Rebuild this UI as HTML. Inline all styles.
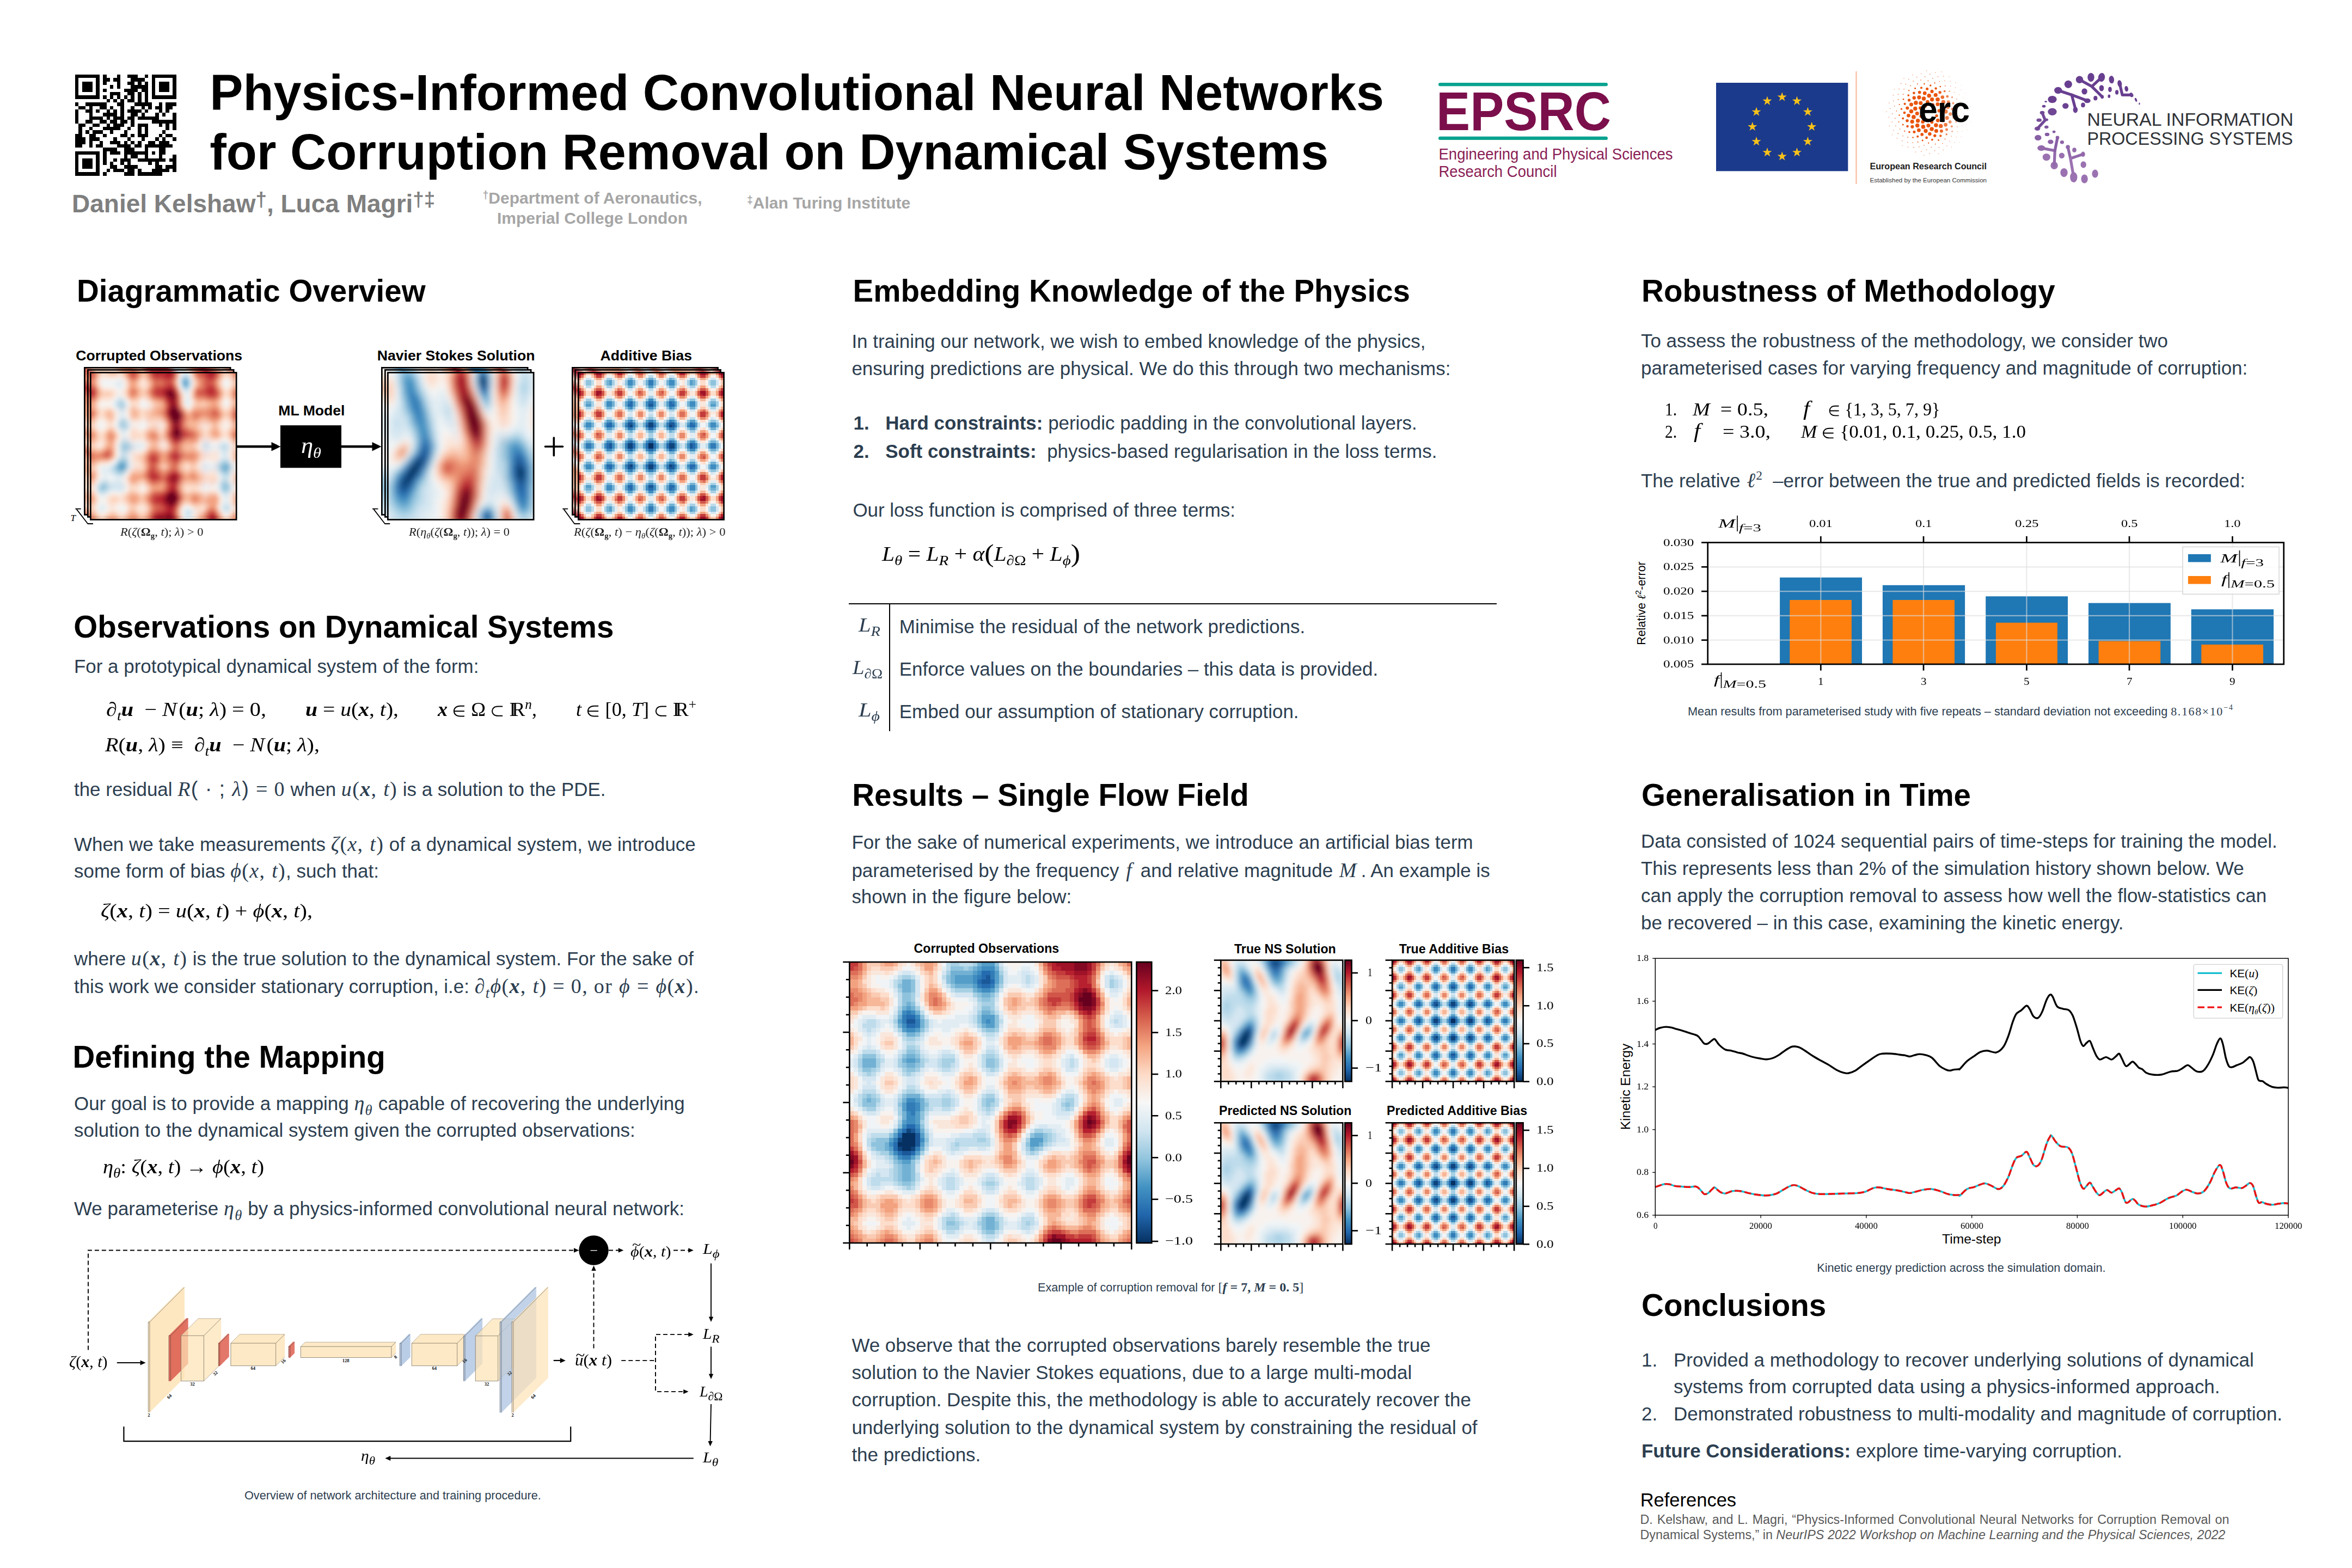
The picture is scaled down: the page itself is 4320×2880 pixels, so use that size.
<!DOCTYPE html>
<html><head><meta charset="utf-8"><title>Poster</title>
<style>
html,body{margin:0;padding:0;background:#fff;}
body{width:4320px;height:2880px;position:relative;overflow:hidden;font-family:"Liberation Sans",sans-serif;}
.a{position:absolute;white-space:nowrap;}
.m{font-family:"Liberation Serif",serif;font-style:italic;}
.mr{font-family:"Liberation Serif",serif;font-style:normal;}
.mb{font-family:"Liberation Serif",serif;font-style:italic;font-weight:bold;}
sub,sup{font-size:70%;line-height:0;}
svg{position:absolute;overflow:visible;}
svg text{font-family:"Liberation Sans",sans-serif;}
svg text.sl{font-family:"Liberation Serif",serif;font-weight:bold;}
svg text.ss{font-family:"Liberation Serif",serif;}
</style></head><body>
<svg style="left:138.0px;top:137.0px" width="185.6" height="185.6" shape-rendering="crispEdges"><path d="M0.00,0.00h44.80v6.45h-44.80zM51.20,0.00h6.40v6.45h-6.40zM76.80,0.00h6.40v6.45h-6.40zM96.00,0.00h19.20v6.45h-19.20zM128.00,0.00h6.40v6.45h-6.40zM140.80,0.00h44.80v6.45h-44.80zM0.00,6.40h6.40v6.45h-6.40zM38.40,6.40h6.40v6.45h-6.40zM51.20,6.40h12.80v6.45h-12.80zM70.40,6.40h12.80v6.45h-12.80zM102.40,6.40h25.60v6.45h-25.60zM140.80,6.40h6.40v6.45h-6.40zM179.20,6.40h6.40v6.45h-6.40zM0.00,12.80h6.40v6.45h-6.40zM12.80,12.80h19.20v6.45h-19.20zM38.40,12.80h6.40v6.45h-6.40zM51.20,12.80h6.40v6.45h-6.40zM76.80,12.80h6.40v6.45h-6.40zM96.00,12.80h12.80v6.45h-12.80zM115.20,12.80h6.40v6.45h-6.40zM128.00,12.80h6.40v6.45h-6.40zM140.80,12.80h6.40v6.45h-6.40zM153.60,12.80h19.20v6.45h-19.20zM179.20,12.80h6.40v6.45h-6.40zM0.00,19.20h6.40v6.45h-6.40zM12.80,19.20h19.20v6.45h-19.20zM38.40,19.20h6.40v6.45h-6.40zM64.00,19.20h6.40v6.45h-6.40zM76.80,19.20h6.40v6.45h-6.40zM102.40,19.20h32.00v6.45h-32.00zM140.80,19.20h6.40v6.45h-6.40zM153.60,19.20h19.20v6.45h-19.20zM179.20,19.20h6.40v6.45h-6.40zM0.00,25.60h6.40v6.45h-6.40zM12.80,25.60h19.20v6.45h-19.20zM38.40,25.60h6.40v6.45h-6.40zM51.20,25.60h6.40v6.45h-6.40zM89.60,25.60h25.60v6.45h-25.60zM121.60,25.60h12.80v6.45h-12.80zM140.80,25.60h6.40v6.45h-6.40zM153.60,25.60h19.20v6.45h-19.20zM179.20,25.60h6.40v6.45h-6.40zM0.00,32.00h6.40v6.45h-6.40zM38.40,32.00h6.40v6.45h-6.40zM64.00,32.00h19.20v6.45h-19.20zM96.00,32.00h12.80v6.45h-12.80zM115.20,32.00h6.40v6.45h-6.40zM128.00,32.00h6.40v6.45h-6.40zM140.80,32.00h6.40v6.45h-6.40zM179.20,32.00h6.40v6.45h-6.40zM0.00,38.40h44.80v6.45h-44.80zM51.20,38.40h6.40v6.45h-6.40zM64.00,38.40h6.40v6.45h-6.40zM76.80,38.40h6.40v6.45h-6.40zM89.60,38.40h6.40v6.45h-6.40zM102.40,38.40h6.40v6.45h-6.40zM115.20,38.40h6.40v6.45h-6.40zM128.00,38.40h6.40v6.45h-6.40zM140.80,38.40h44.80v6.45h-44.80zM57.60,44.80h6.40v6.45h-6.40zM70.40,44.80h6.40v6.45h-6.40zM83.20,44.80h6.40v6.45h-6.40zM96.00,44.80h12.80v6.45h-12.80zM115.20,44.80h6.40v6.45h-6.40zM128.00,44.80h6.40v6.45h-6.40zM0.00,51.20h6.40v6.45h-6.40zM19.20,51.20h38.40v6.45h-38.40zM76.80,51.20h12.80v6.45h-12.80zM108.80,51.20h32.00v6.45h-32.00zM153.60,51.20h6.40v6.45h-6.40zM166.40,51.20h19.20v6.45h-19.20zM6.40,57.60h12.80v6.45h-12.80zM25.60,57.60h6.40v6.45h-6.40zM44.80,57.60h12.80v6.45h-12.80zM64.00,57.60h6.40v6.45h-6.40zM83.20,57.60h6.40v6.45h-6.40zM102.40,57.60h6.40v6.45h-6.40zM121.60,57.60h6.40v6.45h-6.40zM134.40,57.60h6.40v6.45h-6.40zM147.20,57.60h12.80v6.45h-12.80zM166.40,57.60h12.80v6.45h-12.80zM0.00,64.00h6.40v6.45h-6.40zM19.20,64.00h12.80v6.45h-12.80zM38.40,64.00h6.40v6.45h-6.40zM57.60,64.00h6.40v6.45h-6.40zM70.40,64.00h6.40v6.45h-6.40zM83.20,64.00h6.40v6.45h-6.40zM96.00,64.00h25.60v6.45h-25.60zM128.00,64.00h6.40v6.45h-6.40zM153.60,64.00h6.40v6.45h-6.40zM166.40,64.00h6.40v6.45h-6.40zM0.00,70.40h6.40v6.45h-6.40zM25.60,70.40h6.40v6.45h-6.40zM51.20,70.40h25.60v6.45h-25.60zM83.20,70.40h6.40v6.45h-6.40zM102.40,70.40h12.80v6.45h-12.80zM121.60,70.40h6.40v6.45h-6.40zM147.20,70.40h6.40v6.45h-6.40zM160.00,70.40h6.40v6.45h-6.40zM179.20,70.40h6.40v6.45h-6.40zM0.00,76.80h6.40v6.45h-6.40zM25.60,76.80h25.60v6.45h-25.60zM57.60,76.80h6.40v6.45h-6.40zM70.40,76.80h19.20v6.45h-19.20zM96.00,76.80h12.80v6.45h-12.80zM115.20,76.80h38.40v6.45h-38.40zM179.20,76.80h6.40v6.45h-6.40zM0.00,83.20h6.40v6.45h-6.40zM19.20,83.20h12.80v6.45h-12.80zM44.80,83.20h12.80v6.45h-12.80zM64.00,83.20h12.80v6.45h-12.80zM83.20,83.20h12.80v6.45h-12.80zM102.40,83.20h6.40v6.45h-6.40zM140.80,83.20h44.80v6.45h-44.80zM6.40,89.60h12.80v6.45h-12.80zM32.00,89.60h12.80v6.45h-12.80zM57.60,89.60h6.40v6.45h-6.40zM70.40,89.60h19.20v6.45h-19.20zM102.40,89.60h6.40v6.45h-6.40zM115.20,89.60h19.20v6.45h-19.20zM153.60,89.60h6.40v6.45h-6.40zM166.40,89.60h6.40v6.45h-6.40zM179.20,89.60h6.40v6.45h-6.40zM6.40,96.00h6.40v6.45h-6.40zM25.60,96.00h6.40v6.45h-6.40zM51.20,96.00h32.00v6.45h-32.00zM96.00,96.00h6.40v6.45h-6.40zM115.20,96.00h6.40v6.45h-6.40zM128.00,96.00h6.40v6.45h-6.40zM166.40,96.00h6.40v6.45h-6.40zM179.20,96.00h6.40v6.45h-6.40zM6.40,102.40h6.40v6.45h-6.40zM19.20,102.40h6.40v6.45h-6.40zM32.00,102.40h19.20v6.45h-19.20zM64.00,102.40h6.40v6.45h-6.40zM89.60,102.40h6.40v6.45h-6.40zM115.20,102.40h6.40v6.45h-6.40zM128.00,102.40h6.40v6.45h-6.40zM160.00,102.40h6.40v6.45h-6.40zM0.00,108.80h12.80v6.45h-12.80zM25.60,108.80h12.80v6.45h-12.80zM51.20,108.80h6.40v6.45h-6.40zM83.20,108.80h12.80v6.45h-12.80zM102.40,108.80h6.40v6.45h-6.40zM115.20,108.80h19.20v6.45h-19.20zM153.60,108.80h6.40v6.45h-6.40zM166.40,108.80h12.80v6.45h-12.80zM0.00,115.20h19.20v6.45h-19.20zM25.60,115.20h19.20v6.45h-19.20zM70.40,115.20h6.40v6.45h-6.40zM96.00,115.20h6.40v6.45h-6.40zM121.60,115.20h6.40v6.45h-6.40zM147.20,115.20h6.40v6.45h-6.40zM160.00,115.20h6.40v6.45h-6.40zM179.20,115.20h6.40v6.45h-6.40zM0.00,121.60h19.20v6.45h-19.20zM25.60,121.60h6.40v6.45h-6.40zM44.80,121.60h6.40v6.45h-6.40zM64.00,121.60h19.20v6.45h-19.20zM89.60,121.60h6.40v6.45h-6.40zM102.40,121.60h6.40v6.45h-6.40zM115.20,121.60h6.40v6.45h-6.40zM134.40,121.60h12.80v6.45h-12.80zM153.60,121.60h19.20v6.45h-19.20zM0.00,128.00h12.80v6.45h-12.80zM25.60,128.00h6.40v6.45h-6.40zM38.40,128.00h12.80v6.45h-12.80zM76.80,128.00h25.60v6.45h-25.60zM108.80,128.00h12.80v6.45h-12.80zM128.00,128.00h51.20v6.45h-51.20zM51.20,134.40h25.60v6.45h-25.60zM89.60,134.40h19.20v6.45h-19.20zM128.00,134.40h6.40v6.45h-6.40zM153.60,134.40h12.80v6.45h-12.80zM0.00,140.80h44.80v6.45h-44.80zM51.20,140.80h6.40v6.45h-6.40zM64.00,140.80h19.20v6.45h-19.20zM89.60,140.80h44.80v6.45h-44.80zM140.80,140.80h6.40v6.45h-6.40zM153.60,140.80h12.80v6.45h-12.80zM0.00,147.20h6.40v6.45h-6.40zM38.40,147.20h6.40v6.45h-6.40zM51.20,147.20h6.40v6.45h-6.40zM89.60,147.20h6.40v6.45h-6.40zM102.40,147.20h12.80v6.45h-12.80zM128.00,147.20h6.40v6.45h-6.40zM153.60,147.20h6.40v6.45h-6.40zM179.20,147.20h6.40v6.45h-6.40zM0.00,153.60h6.40v6.45h-6.40zM12.80,153.60h19.20v6.45h-19.20zM38.40,153.60h6.40v6.45h-6.40zM51.20,153.60h6.40v6.45h-6.40zM70.40,153.60h6.40v6.45h-6.40zM83.20,153.60h19.20v6.45h-19.20zM115.20,153.60h51.20v6.45h-51.20zM172.80,153.60h12.80v6.45h-12.80zM0.00,160.00h6.40v6.45h-6.40zM12.80,160.00h19.20v6.45h-19.20zM38.40,160.00h6.40v6.45h-6.40zM51.20,160.00h6.40v6.45h-6.40zM64.00,160.00h6.40v6.45h-6.40zM83.20,160.00h6.40v6.45h-6.40zM96.00,160.00h6.40v6.45h-6.40zM134.40,160.00h6.40v6.45h-6.40zM147.20,160.00h6.40v6.45h-6.40zM179.20,160.00h6.40v6.45h-6.40zM0.00,166.40h6.40v6.45h-6.40zM12.80,166.40h19.20v6.45h-19.20zM38.40,166.40h6.40v6.45h-6.40zM64.00,166.40h12.80v6.45h-12.80zM89.60,166.40h25.60v6.45h-25.60zM147.20,166.40h12.80v6.45h-12.80zM166.40,166.40h19.20v6.45h-19.20zM0.00,172.80h6.40v6.45h-6.40zM38.40,172.80h6.40v6.45h-6.40zM57.60,172.80h6.40v6.45h-6.40zM70.40,172.80h19.20v6.45h-19.20zM96.00,172.80h12.80v6.45h-12.80zM115.20,172.80h6.40v6.45h-6.40zM140.80,172.80h32.00v6.45h-32.00zM179.20,172.80h6.40v6.45h-6.40zM0.00,179.20h44.80v6.45h-44.80zM51.20,179.20h6.40v6.45h-6.40zM89.60,179.20h19.20v6.45h-19.20zM115.20,179.20h44.80v6.45h-44.80z" fill="#000"/></svg>
<div class="a" style="left:385.2px;top:116.0px;font:normal bold 91.78px/109.0px 'Liberation Sans', sans-serif;color:#000;">Physics-Informed Convolutional Neural Networks<br>for Corruption Removal on Dynamical Systems</div>
<div class="a" style="left:132.0px;top:340.7px;font:normal bold 46px/66px 'Liberation Sans', sans-serif;color:#7f7f7f;">Daniel Kelshaw<sup style="font-size:80%;vertical-align:baseline;position:relative;top:-0.28em">†</sup>, Luca Magri<sup style="font-size:80%;vertical-align:baseline;position:relative;top:-0.28em">†‡</sup></div>
<div class="a" style="left:88.0px;top:347.0px;font:normal bold 30px/34.4px 'Liberation Sans', sans-serif;color:#a6a6a6;width:2000px;text-align:center;"><span style="font-size:65%;position:relative;top:-0.45em">†</span>Department of Aeronautics,<br>Imperial College London</div>
<div class="a" style="left:1372.0px;top:351.2px;font:normal bold 30px/43px 'Liberation Sans', sans-serif;color:#a6a6a6;"><span style="font-size:65%;position:relative;top:-0.45em">‡</span>Alan Turing Institute</div>
<svg style="left:2630px;top:140px" width="460" height="200">
<line x1="15.2" y1="15.1" x2="319.8" y2="15.1" stroke="#0aa38f" stroke-width="6.4" stroke-linecap="round"/>
<line x1="15.2" y1="113.9" x2="319.8" y2="113.9" stroke="#0aa38f" stroke-width="6.4" stroke-linecap="round"/>
<text x="8" y="99" font-size="101" font-weight="bold" fill="#7b0f4b" textLength="321" lengthAdjust="spacingAndGlyphs">EPSRC</text>
<text x="12.5" y="152.6" font-size="29.5" fill="#8a1d55" textLength="430" lengthAdjust="spacingAndGlyphs">Engineering and Physical Sciences</text>
<text x="12.5" y="184.5" font-size="29.5" fill="#8a1d55" textLength="217" lengthAdjust="spacingAndGlyphs">Research Council</text>
</svg>
<svg style="left:3152px;top:152px" width="243" height="163"><rect width="242.3" height="162.3" fill="#1c3a8b"/><polygon points="121.2,17.3 123.3,23.5 129.8,23.5 124.5,27.4 126.5,33.6 121.2,29.8 115.9,33.6 117.9,27.4 112.6,23.5 119.1,23.5" fill="#f8c21a"/><polygon points="148.5,24.6 150.5,30.8 157.0,30.8 151.8,34.7 153.7,40.9 148.5,37.1 143.2,40.9 145.1,34.7 139.9,30.8 146.4,30.8" fill="#f8c21a"/><polygon points="168.4,44.5 170.5,50.7 177.0,50.8 171.7,54.6 173.7,60.8 168.4,57.0 163.1,60.8 165.1,54.6 159.8,50.8 166.3,50.7" fill="#f8c21a"/><polygon points="175.7,71.8 177.8,78.0 184.3,78.0 179.0,81.9 181.0,88.1 175.7,84.3 170.4,88.1 172.4,81.9 167.1,78.0 173.6,78.0" fill="#f8c21a"/><polygon points="168.4,99.0 170.5,105.2 177.0,105.3 171.7,109.1 173.7,115.3 168.4,111.5 163.1,115.3 165.1,109.1 159.8,105.3 166.3,105.2" fill="#f8c21a"/><polygon points="148.5,119.0 150.5,125.2 157.0,125.2 151.8,129.1 153.7,135.3 148.5,131.5 143.2,135.3 145.1,129.1 139.9,125.2 146.4,125.2" fill="#f8c21a"/><polygon points="121.2,126.3 123.3,132.5 129.8,132.5 124.5,136.4 126.5,142.6 121.2,138.8 115.9,142.6 117.9,136.4 112.6,132.5 119.1,132.5" fill="#f8c21a"/><polygon points="94.0,119.0 96.0,125.2 102.5,125.2 97.3,129.1 99.2,135.3 94.0,131.5 88.7,135.3 90.6,129.1 85.4,125.2 91.9,125.2" fill="#f8c21a"/><polygon points="74.0,99.0 76.1,105.2 82.6,105.3 77.3,109.1 79.3,115.3 74.0,111.5 68.7,115.3 70.7,109.1 65.4,105.3 71.9,105.2" fill="#f8c21a"/><polygon points="66.7,71.8 68.8,78.0 75.3,78.0 70.0,81.9 72.0,88.1 66.7,84.3 61.4,88.1 63.4,81.9 58.1,78.0 64.6,78.0" fill="#f8c21a"/><polygon points="74.0,44.5 76.1,50.7 82.6,50.8 77.3,54.6 79.3,60.8 74.0,57.0 68.7,60.8 70.7,54.6 65.4,50.8 71.9,50.7" fill="#f8c21a"/><polygon points="93.9,24.6 96.0,30.8 102.5,30.8 97.3,34.7 99.2,40.9 93.9,37.1 88.7,40.9 90.6,34.7 85.4,30.8 91.9,30.8" fill="#f8c21a"/></svg>
<div class="a" style="left:3408px;top:131px;width:3px;height:207px;background:#f9cdb6"></div>
<svg style="left:0;top:0" width="4320" height="400"><circle cx="3539.6" cy="220.0" r="2.44" fill="#e9550e" fill-opacity="1.00"/><circle cx="3536.5" cy="195.1" r="2.58" fill="#e9550e" fill-opacity="1.00"/><circle cx="3557.1" cy="212.6" r="2.70" fill="#e9550e" fill-opacity="1.00"/><circle cx="3528.3" cy="213.6" r="2.81" fill="#e9550e" fill-opacity="1.00"/><circle cx="3550.1" cy="192.3" r="2.92" fill="#e9550e" fill-opacity="1.00"/><circle cx="3548.3" cy="224.3" r="3.02" fill="#e9550e" fill-opacity="1.00"/><circle cx="3527.1" cy="198.3" r="3.11" fill="#e9550e" fill-opacity="1.00"/><circle cx="3561.7" cy="203.4" r="3.20" fill="#e9550e" fill-opacity="0.95"/><circle cx="3531.6" cy="223.7" r="3.27" fill="#e9550e" fill-opacity="1.00"/><circle cx="3540.4" cy="187.1" r="3.35" fill="#e9550e" fill-opacity="1.00"/><circle cx="3559.2" cy="221.2" r="3.41" fill="#e9550e" fill-opacity="0.99"/><circle cx="3521.2" cy="208.4" r="3.47" fill="#e9550e" fill-opacity="1.00"/><circle cx="3558.9" cy="191.6" r="3.52" fill="#e9550e" fill-opacity="0.99"/><circle cx="3541.9" cy="230.6" r="3.57" fill="#e9550e" fill-opacity="1.00"/><circle cx="3527.8" cy="189.3" r="3.61" fill="#e9550e" fill-opacity="1.00"/><circle cx="3567.1" cy="210.7" r="3.65" fill="#e9550e" fill-opacity="0.87"/><circle cx="3522.6" cy="221.7" r="3.69" fill="#e9550e" fill-opacity="1.00"/><circle cx="3548.6" cy="182.7" r="3.71" fill="#e9550e" fill-opacity="1.00"/><circle cx="3555.9" cy="230.0" r="3.74" fill="#e9550e" fill-opacity="1.00"/><circle cx="3517.8" cy="199.4" r="3.76" fill="#e9550e" fill-opacity="1.00"/><circle cx="3567.5" cy="196.2" r="3.77" fill="#e9550e" fill-opacity="0.86"/><circle cx="3532.4" cy="232.9" r="3.79" fill="#e9550e" fill-opacity="1.00"/><circle cx="3533.5" cy="181.1" r="3.79" fill="#e9550e" fill-opacity="1.00"/><circle cx="3568.3" cy="220.8" r="3.80" fill="#e9550e" fill-opacity="0.85"/><circle cx="3514.9" cy="214.9" r="3.80" fill="#e9550e" fill-opacity="1.00"/><circle cx="3559.0" cy="182.7" r="3.80" fill="#e9550e" fill-opacity="0.99"/><circle cx="3548.1" cy="237.0" r="3.79" fill="#e9550e" fill-opacity="1.00"/><circle cx="3518.9" cy="188.9" r="3.79" fill="#e9550e" fill-opacity="1.00"/><circle cx="3573.8" cy="204.9" r="3.78" fill="#e9550e" fill-opacity="0.77"/><circle cx="3521.7" cy="230.5" r="3.76" fill="#e9550e" fill-opacity="1.00"/><circle cx="3543.2" cy="175.7" r="3.75" fill="#e9550e" fill-opacity="1.00"/><circle cx="3564.7" cy="231.4" r="3.73" fill="#e9550e" fill-opacity="0.91"/><circle cx="3510.5" cy="204.5" r="3.71" fill="#e9550e" fill-opacity="1.00"/><circle cx="3569.4" cy="187.5" r="3.69" fill="#e9550e" fill-opacity="0.83"/><circle cx="3537.0" cy="240.5" r="3.66" fill="#e9550e" fill-opacity="1.00"/><circle cx="3524.9" cy="178.8" r="3.64" fill="#e9550e" fill-opacity="1.00"/><circle cx="3576.1" cy="216.6" r="3.61" fill="#e9550e" fill-opacity="0.73"/><circle cx="3512.1" cy="223.4" r="3.58" fill="#e9550e" fill-opacity="1.00"/><circle cx="3555.2" cy="174.5" r="3.55" fill="#e9550e" fill-opacity="1.00"/><circle cx="3556.4" cy="240.4" r="3.52" fill="#e9550e" fill-opacity="1.00"/><circle cx="3510.5" cy="192.1" r="3.49" fill="#e9550e" fill-opacity="1.00"/><circle cx="3577.7" cy="196.8" r="3.45" fill="#e9550e" fill-opacity="0.71"/><circle cx="3524.4" cy="239.2" r="3.42" fill="#e9550e" fill-opacity="1.00"/><circle cx="3535.2" cy="171.2" r="3.38" fill="#e9550e" fill-opacity="1.00"/><circle cx="3573.6" cy="229.2" r="3.34" fill="#e9550e" fill-opacity="0.77"/><circle cx="3505.4" cy="212.2" r="3.31" fill="#e9550e" fill-opacity="1.00"/><circle cx="3567.8" cy="178.4" r="3.27" fill="#e9550e" fill-opacity="0.86"/><circle cx="3544.4" cy="246.1" r="3.23" fill="#e9550e" fill-opacity="1.00"/><circle cx="3515.7" cy="179.8" r="3.19" fill="#e9550e" fill-opacity="1.00"/><circle cx="3582.3" cy="209.5" r="3.15" fill="#e9550e" fill-opacity="0.64"/><circle cx="3512.4" cy="232.8" r="3.11" fill="#e9550e" fill-opacity="1.00"/><circle cx="3548.5" cy="167.9" r="3.07" fill="#e9550e" fill-opacity="1.00"/><circle cx="3565.9" cy="240.7" r="3.03" fill="#e9550e" fill-opacity="0.89"/><circle cx="3503.3" cy="198.4" r="2.99" fill="#e9550e" fill-opacity="1.00"/><circle cx="3578.7" cy="187.3" r="2.94" fill="#e9550e" fill-opacity="0.69"/><circle cx="3530.2" cy="246.9" r="2.90" fill="#e9550e" fill-opacity="1.00"/><circle cx="3525.7" cy="169.5" r="2.86" fill="#e9550e" fill-opacity="1.00"/><circle cx="3581.7" cy="223.9" r="2.82" fill="#e9550e" fill-opacity="0.64"/><circle cx="3503.0" cy="221.7" r="2.78" fill="#e9550e" fill-opacity="1.00"/><circle cx="3563.1" cy="169.8" r="2.74" fill="#e9550e" fill-opacity="0.93"/><circle cx="3553.8" cy="249.2" r="2.69" fill="#e9550e" fill-opacity="1.00"/><circle cx="3506.6" cy="183.9" r="2.65" fill="#e9550e" fill-opacity="1.00"/><circle cx="3586.1" cy="200.3" r="2.61" fill="#e9550e" fill-opacity="0.58"/><circle cx="3515.9" cy="242.2" r="2.57" fill="#e9550e" fill-opacity="1.00"/><circle cx="3539.6" cy="163.3" r="2.53" fill="#e9550e" fill-opacity="1.00"/><circle cx="3575.6" cy="238.0" r="2.49" fill="#e9550e" fill-opacity="0.74"/><circle cx="3498.0" cy="207.1" r="2.45" fill="#e9550e" fill-opacity="1.00"/><circle cx="3576.7" cy="177.2" r="2.41" fill="#e9550e" fill-opacity="0.72"/><circle cx="3538.6" cy="252.9" r="2.37" fill="#e9550e" fill-opacity="1.00"/><circle cx="3515.4" cy="170.8" r="2.33" fill="#e9550e" fill-opacity="1.00"/><circle cx="3588.4" cy="216.0" r="2.29" fill="#e9550e" fill-opacity="0.54"/><circle cx="3503.5" cy="232.1" r="2.25" fill="#e9550e" fill-opacity="1.00"/><circle cx="3555.6" cy="162.4" r="2.21" fill="#e9550e" fill-opacity="1.00"/><circle cx="3564.3" cy="249.5" r="2.18" fill="#e9550e" fill-opacity="0.91"/><circle cx="3498.6" cy="190.8" r="2.14" fill="#e9550e" fill-opacity="1.00"/><circle cx="3587.3" cy="189.7" r="2.10" fill="#e9550e" fill-opacity="0.56"/><circle cx="3522.2" cy="250.8" r="2.07" fill="#e9550e" fill-opacity="1.00"/><circle cx="3529.0" cy="161.3" r="2.03" fill="#e9550e" fill-opacity="1.00"/><circle cx="3584.8" cy="232.3" r="2.00" fill="#e9550e" fill-opacity="0.60"/><circle cx="3495.2" cy="217.5" r="1.96" fill="#e9550e" fill-opacity="1.00"/><circle cx="3571.7" cy="167.6" r="1.93" fill="#e9550e" fill-opacity="0.80"/><circle cx="3548.9" cy="256.6" r="1.89" fill="#e9550e" fill-opacity="1.00"/><circle cx="3505.3" cy="175.1" r="1.86" fill="#e9550e" fill-opacity="1.00"/><circle cx="3593.0" cy="205.9" r="1.83" fill="#e9550e" fill-opacity="0.47"/><circle cx="3507.0" cy="242.6" r="1.79" fill="#e9550e" fill-opacity="1.00"/><circle cx="3545.8" cy="157.0" r="1.75" fill="#e9550e" fill-opacity="1.00"/><circle cx="3575.2" cy="246.8" r="1.71" fill="#e9550e" fill-opacity="0.74"/><circle cx="3492.4" cy="200.2" r="1.67" fill="#e9550e" fill-opacity="1.00"/><circle cx="3585.5" cy="178.6" r="1.63" fill="#e9550e" fill-opacity="0.59"/><circle cx="3531.2" cy="257.8" r="1.60" fill="#e9550e" fill-opacity="1.00"/><circle cx="3517.6" cy="162.2" r="1.56" fill="#e9550e" fill-opacity="1.00"/><circle cx="3592.6" cy="223.8" r="1.53" fill="#e9550e" fill-opacity="0.48"/><circle cx="3495.2" cy="229.0" r="1.49" fill="#e9550e" fill-opacity="1.00"/><circle cx="3563.8" cy="159.1" r="1.46" fill="#e9550e" fill-opacity="0.92"/><circle cx="3560.5" cy="257.5" r="1.43" fill="#e9550e" fill-opacity="0.97"/><circle cx="3496.1" cy="182.3" r="1.40" fill="#e9550e" fill-opacity="1.00"/><circle cx="3594.9" cy="194.4" r="1.37" fill="#e9550e" fill-opacity="0.44"/><circle cx="3513.5" cy="252.5" r="1.34" fill="#e9550e" fill-opacity="1.00"/><circle cx="3534.4" cy="154.1" r="1.31" fill="#e9550e" fill-opacity="1.00"/><circle cx="3585.6" cy="241.2" r="1.28" fill="#e9550e" fill-opacity="0.58"/><circle cx="3488.6" cy="211.5" r="1.25" fill="#e9550e" fill-opacity="1.00"/><circle cx="3580.6" cy="167.6" r="1.22" fill="#e9550e" fill-opacity="0.66"/><circle cx="3542.2" cy="262.6" r="1.20" fill="#e9550e" fill-opacity="1.00"/><circle cx="3506.2" cy="166.2" r="1.17" fill="#e9550e" fill-opacity="1.00"/><circle cx="3598.3" cy="213.2" r="1.15" fill="#e9550e" fill-opacity="0.39"/><circle cx="3498.2" cy="240.8" r="1.12" fill="#e9550e" fill-opacity="1.00"/><circle cx="3553.6" cy="152.4" r="1.10" fill="#e9550e" fill-opacity="1.00"/><circle cx="3572.5" cy="255.5" r="1.08" fill="#e9550e" fill-opacity="0.79"/><circle cx="3488.6" cy="192.0" r="1.05" fill="#e9550e" fill-opacity="1.00"/><circle cx="3593.8" cy="182.0" r="1.03" fill="#e9550e" fill-opacity="0.46"/><circle cx="3522.6" cy="260.8" r="1.01" fill="#e9550e" fill-opacity="1.00"/><circle cx="3521.9" cy="154.2" r="0.99" fill="#e9550e" fill-opacity="1.00"/><circle cx="3594.8" cy="232.7" r="0.97" fill="#e9550e" fill-opacity="0.44"/><circle cx="3487.6" cy="224.0" r="0.95" fill="#e9550e" fill-opacity="1.00"/><circle cx="3572.8" cy="157.7" r="0.93" fill="#e9550e" fill-opacity="0.78"/><circle cx="3554.7" cy="264.6" r="0.91" fill="#e9550e" fill-opacity="1.00"/><circle cx="3495.6" cy="173.1" r="0.90" fill="#e9550e" fill-opacity="1.00"/><circle cx="3601.4" cy="200.8" r="0.88" fill="#e9550e" fill-opacity="0.34"/><circle cx="3504.3" cy="252.1" r="0.86" fill="#e9550e" fill-opacity="1.00"/><circle cx="3541.4" cy="148.3" r="0.84" fill="#e9550e" fill-opacity="1.00"/><circle cx="3584.3" cy="250.3" r="0.83" fill="#e9550e" fill-opacity="0.60"/><circle cx="3483.4" cy="203.9" r="0.81" fill="#e9550e" fill-opacity="1.00"/><circle cx="3589.6" cy="169.8" r="0.80" fill="#e9550e" fill-opacity="0.52"/><circle cx="3534.1" cy="267.0" r="0.80" fill="#e9550e" fill-opacity="1.00"/><circle cx="3509.2" cy="157.4" r="0.80" fill="#e9550e" fill-opacity="1.00"/><circle cx="3602.0" cy="221.7" r="0.80" fill="#e9550e" fill-opacity="0.33"/><circle cx="3489.7" cy="237.0" r="0.80" fill="#e9550e" fill-opacity="1.00"/><circle cx="3562.4" cy="149.5" r="0.80" fill="#e9550e" fill-opacity="0.94"/><circle cx="3567.9" cy="263.6" r="0.80" fill="#e9550e" fill-opacity="0.86"/><circle cx="3486.5" cy="182.9" r="0.80" fill="#e9550e" fill-opacity="1.00"/><circle cx="3601.5" cy="187.4" r="0.80" fill="#e9550e" fill-opacity="0.34"/><circle cx="3513.3" cy="262.0" r="0.80" fill="#e9550e" fill-opacity="1.00"/><circle cx="3528.0" cy="147.1" r="0.80" fill="#e9550e" fill-opacity="0.99"/><circle cx="3595.1" cy="242.1" r="0.80" fill="#e9550e" fill-opacity="0.43"/><circle cx="3481.0" cy="217.2" r="0.80" fill="#e9550e" fill-opacity="0.98"/><circle cx="3582.3" cy="158.3" r="0.80" fill="#e9550e" fill-opacity="0.62"/><circle cx="3547.3" cy="270.5" r="0.80" fill="#e9550e" fill-opacity="0.97"/><circle cx="3497.1" cy="163.8" r="0.80" fill="#e9550e" fill-opacity="0.96"/><circle cx="3606.6" cy="208.7" r="0.80" fill="#e9550e" fill-opacity="0.29"/><circle cx="3495.1" cy="249.7" r="0.80" fill="#e9550e" fill-opacity="0.95"/><circle cx="3549.8" cy="143.8" r="0.80" fill="#e9550e" fill-opacity="0.94"/><circle cx="3581.1" cy="259.2" r="0.80" fill="#e9550e" fill-opacity="0.61"/><circle cx="3479.7" cy="195.0" r="0.80" fill="#e9550e" fill-opacity="0.93"/><circle cx="3598.3" cy="173.8" r="0.80" fill="#e9550e" fill-opacity="0.36"/><circle cx="3524.9" cy="269.8" r="0.80" fill="#e9550e" fill-opacity="0.91"/><circle cx="3514.1" cy="149.1" r="0.80" fill="#e9550e" fill-opacity="0.91"/><circle cx="3603.9" cy="231.1" r="0.80" fill="#e9550e" fill-opacity="0.27"/><circle cx="3481.9" cy="231.3" r="0.80" fill="#e9550e" fill-opacity="0.90"/><circle cx="3572.0" cy="148.5" r="0.80" fill="#e9550e" fill-opacity="0.71"/><circle cx="3561.5" cy="270.8" r="0.80" fill="#e9550e" fill-opacity="0.84"/><circle cx="3486.4" cy="173.2" r="0.80" fill="#e9550e" fill-opacity="0.88"/><circle cx="3608.1" cy="194.5" r="0.80" fill="#e9550e" fill-opacity="0.26"/><circle cx="3503.6" cy="261.2" r="0.80" fill="#e9550e" fill-opacity="0.86"/><circle cx="3535.7" cy="141.1" r="0.80" fill="#e9550e" fill-opacity="0.86"/><circle cx="3593.4" cy="251.7" r="0.80" fill="#e9550e" fill-opacity="0.40"/><circle cx="3475.8" cy="209.0" r="0.80" fill="#e9550e" fill-opacity="0.85"/><circle cx="3591.7" cy="160.9" r="0.80" fill="#e9550e" fill-opacity="0.41"/><circle cx="3538.6" cy="275.0" r="0.80" fill="#e9550e" fill-opacity="0.83"/><circle cx="3500.5" cy="154.5" r="0.80" fill="#e9550e" fill-opacity="0.83"/><circle cx="3610.3" cy="217.9" r="0.80" fill="#e9550e" fill-opacity="0.25"/><circle cx="3486.2" cy="245.4" r="0.80" fill="#e9550e" fill-opacity="0.82"/><circle cx="3559.3" cy="141.0" r="0.80" fill="#e9550e" fill-opacity="0.80"/><circle cx="3576.0" cy="267.8" r="0.80" fill="#e9550e" fill-opacity="0.59"/><circle cx="3477.8" cy="185.3" r="0.80" fill="#e9550e" fill-opacity="0.80"/><circle cx="3606.3" cy="179.7" r="0.80" fill="#e9550e" fill-opacity="0.24"/><circle cx="3515.0" cy="270.9" r="0.80" fill="#e9550e" fill-opacity="0.79"/><circle cx="3520.8" cy="141.6" r="0.80" fill="#e9550e" fill-opacity="0.78"/><circle cx="3604.1" cy="241.1" r="0.80" fill="#e9550e" fill-opacity="0.23"/><circle cx="3475.1" cy="224.0" r="0.80" fill="#e9550e" fill-opacity="0.77"/><circle cx="3582.1" cy="149.3" r="0.80" fill="#e9550e" fill-opacity="0.49"/><circle cx="3553.6" cy="277.0" r="0.80" fill="#e9550e" fill-opacity="0.76"/><circle cx="3488.1" cy="163.2" r="0.80" fill="#e9550e" fill-opacity="0.75"/><circle cx="3613.6" cy="203.0" r="0.80" fill="#e9550e" fill-opacity="0.22"/><circle cx="3493.8" cy="258.6" r="0.80" fill="#e9550e" fill-opacity="0.74"/><circle cx="3544.7" cy="136.4" r="0.80" fill="#e9550e" fill-opacity="0.73"/><circle cx="3589.9" cy="261.2" r="0.80" fill="#e9550e" fill-opacity="0.38"/><circle cx="3471.9" cy="199.5" r="0.80" fill="#e9550e" fill-opacity="0.72"/><circle cx="3600.9" cy="165.3" r="0.80" fill="#e9550e" fill-opacity="0.25"/><circle cx="3528.8" cy="278.0" r="0.80" fill="#e9550e" fill-opacity="0.71"/><circle cx="3505.8" cy="145.7" r="0.80" fill="#e9550e" fill-opacity="0.70"/><circle cx="3612.3" cy="228.0" r="0.80" fill="#e9550e" fill-opacity="0.21"/><circle cx="3477.9" cy="239.3" r="0.80" fill="#e9550e" fill-opacity="0.69"/><circle cx="3569.6" cy="139.9" r="0.80" fill="#e9550e" fill-opacity="0.57"/><circle cx="3569.2" cy="275.5" r="0.80" fill="#e9550e" fill-opacity="0.57"/><circle cx="3477.6" cy="174.9" r="0.80" fill="#e9550e" fill-opacity="0.67"/><circle cx="3613.4" cy="187.3" r="0.80" fill="#e9550e" fill-opacity="0.20"/><circle cx="3504.6" cy="270.1" r="0.80" fill="#e9550e" fill-opacity="0.66"/><circle cx="3528.9" cy="135.2" r="0.80" fill="#e9550e" fill-opacity="0.66"/><circle cx="3602.3" cy="251.4" r="0.80" fill="#e9550e" fill-opacity="0.21"/><circle cx="3469.4" cy="215.2" r="0.80" fill="#e9550e" fill-opacity="0.65"/><circle cx="3592.2" cy="151.9" r="0.80" fill="#e9550e" fill-opacity="0.31"/><circle cx="3544.3" cy="281.9" r="0.80" fill="#e9550e" fill-opacity="0.64"/><circle cx="3491.7" cy="153.4" r="0.80" fill="#e9550e" fill-opacity="0.63"/><circle cx="3617.6" cy="212.8" r="0.80" fill="#e9550e" fill-opacity="0.19"/><circle cx="3484.3" cy="254.1" r="0.80" fill="#e9550e" fill-opacity="0.62"/><circle cx="3554.8" cy="133.3" r="0.80" fill="#e9550e" fill-opacity="0.61"/><circle cx="3584.5" cy="270.4" r="0.80" fill="#e9550e" fill-opacity="0.37"/><circle cx="3469.8" cy="189.1" r="0.80" fill="#e9550e" fill-opacity="0.60"/><circle cx="3609.6" cy="171.5" r="0.80" fill="#e9550e" fill-opacity="0.18"/><circle cx="3518.2" cy="279.2" r="0.80" fill="#e9550e" fill-opacity="0.59"/><circle cx="3512.8" cy="137.7" r="0.80" fill="#e9550e" fill-opacity="0.59"/><circle cx="3612.6" cy="238.6" r="0.80" fill="#e9550e" fill-opacity="0.17"/><circle cx="3470.5" cy="231.6" r="0.80" fill="#e9550e" fill-opacity="0.58"/><circle cx="3580.3" cy="140.6" r="0.80" fill="#e9550e" fill-opacity="0.38"/><circle cx="3560.8" cy="282.2" r="0.80" fill="#e9550e" fill-opacity="0.55"/><circle cx="3479.3" cy="164.3" r="0.80" fill="#e9550e" fill-opacity="0.56"/><circle cx="3619.4" cy="196.3" r="0.80" fill="#e9550e" fill-opacity="0.17"/><circle cx="3494.2" cy="267.5" r="0.80" fill="#e9550e" fill-opacity="0.55"/><circle cx="3538.5" cy="130.1" r="0.80" fill="#e9550e" fill-opacity="0.54"/><circle cx="3598.7" cy="261.6" r="0.80" fill="#e9550e" fill-opacity="0.21"/><circle cx="3465.1" cy="205.2" r="0.80" fill="#e9550e" fill-opacity="0.53"/><circle cx="3602.1" cy="156.5" r="0.80" fill="#e9550e" fill-opacity="0.17"/><circle cx="3533.9" cy="285.2" r="0.80" fill="#e9550e" fill-opacity="0.52"/><circle cx="3497.1" cy="143.9" r="0.80" fill="#e9550e" fill-opacity="0.52"/><circle cx="3620.0" cy="223.5" r="0.80" fill="#e9550e" fill-opacity="0.15"/><circle cx="3475.3" cy="247.8" r="0.80" fill="#e9550e" fill-opacity="0.51"/><circle cx="3565.7" cy="131.9" r="0.80" fill="#e9550e" fill-opacity="0.45"/><text x="3524" y="223.8" font-size="66" font-weight="bold" fill="#000" textLength="94" lengthAdjust="spacingAndGlyphs">erc</text><text x="3434.5" y="311.2" font-size="17.4" font-weight="bold" fill="#1a1a1a" textLength="214.5" lengthAdjust="spacingAndGlyphs">European Research Council</text><text x="3434.5" y="335" font-size="11.6" fill="#333" textLength="214.5" lengthAdjust="spacingAndGlyphs">Established by the European Commission</text></svg>
<svg style="left:0;top:0" width="4320" height="400"><ellipse cx="3840.5" cy="142.1" rx="6.2" ry="8.1" transform="rotate(0 3840.5 142.1)" fill="#683f90"/><ellipse cx="3860.0" cy="142.1" rx="6.2" ry="8.1" transform="rotate(10 3860.0 142.1)" fill="#683f90"/><ellipse cx="3878.3" cy="146.2" rx="4.8" ry="7.1" transform="rotate(-5 3878.3 146.2)" fill="#683f90"/><ellipse cx="3893.3" cy="153.6" rx="4.0" ry="6.4" transform="rotate(-10 3893.3 153.6)" fill="#683f90"/><ellipse cx="3905.7" cy="163.1" rx="3.3" ry="5.2" transform="rotate(-10 3905.7 163.1)" fill="#683f90"/><ellipse cx="3914.8" cy="174.3" rx="3.3" ry="4.3" transform="rotate(-30 3914.8 174.3)" fill="#683f90"/><ellipse cx="3923.1" cy="183.3" rx="1.9" ry="3.8" transform="rotate(-20 3923.1 183.3)" fill="#683f90"/><ellipse cx="3929.5" cy="190.5" rx="1.2" ry="2.1" transform="rotate(0 3929.5 190.5)" fill="#683f90"/><ellipse cx="3819.5" cy="146.2" rx="6.7" ry="6.7" transform="rotate(0 3819.5 146.2)" fill="#683f90"/><ellipse cx="3798.8" cy="154.8" rx="7.1" ry="7.1" transform="rotate(0 3798.8 154.8)" fill="#683f90"/><ellipse cx="3780.2" cy="166.0" rx="7.1" ry="6.2" transform="rotate(0 3780.2 166.0)" fill="#683f90"/><ellipse cx="3769.5" cy="182.6" rx="8.1" ry="6.7" transform="rotate(0 3769.5 182.6)" fill="#683f90"/><ellipse cx="3769.5" cy="205.2" rx="8.1" ry="6.7" transform="rotate(0 3769.5 205.2)" fill="#704795"/><ellipse cx="3828.6" cy="167.9" rx="5.2" ry="5.7" transform="rotate(0 3828.6 167.9)" fill="#683f90"/><ellipse cx="3860.0" cy="161.9" rx="4.3" ry="5.7" transform="rotate(0 3860.0 161.9)" fill="#683f90"/><ellipse cx="3875.5" cy="164.3" rx="3.3" ry="4.8" transform="rotate(0 3875.5 164.3)" fill="#683f90"/><ellipse cx="3888.1" cy="169.5" rx="3.1" ry="4.3" transform="rotate(0 3888.1 169.5)" fill="#683f90"/><ellipse cx="3873.8" cy="176.7" rx="2.4" ry="3.3" transform="rotate(0 3873.8 176.7)" fill="#683f90"/><ellipse cx="3861.2" cy="177.9" rx="2.9" ry="3.3" transform="rotate(0 3861.2 177.9)" fill="#683f90"/><ellipse cx="3848.8" cy="180.2" rx="3.6" ry="4.3" transform="rotate(0 3848.8 180.2)" fill="#683f90"/><ellipse cx="3833.8" cy="185.0" rx="6.0" ry="4.3" transform="rotate(0 3833.8 185.0)" fill="#683f90"/><ellipse cx="3826.0" cy="192.9" rx="3.8" ry="4.3" transform="rotate(0 3826.0 192.9)" fill="#6a4191"/><ellipse cx="3793.8" cy="194.5" rx="5.7" ry="5.2" transform="rotate(0 3793.8 194.5)" fill="#6b4291"/><ellipse cx="3811.9" cy="201.7" rx="4.3" ry="5.7" transform="rotate(0 3811.9 201.7)" fill="#6e4594"/><ellipse cx="3754.0" cy="195.2" rx="3.3" ry="2.4" transform="rotate(0 3754.0 195.2)" fill="#6b4292"/><ellipse cx="3757.6" cy="186.7" rx="2.4" ry="1.4" transform="rotate(0 3757.6 186.7)" fill="#683f90"/><ellipse cx="3751.0" cy="207.1" rx="4.3" ry="3.3" transform="rotate(0 3751.0 207.1)" fill="#714896"/><ellipse cx="3745.2" cy="220.7" rx="4.8" ry="3.1" transform="rotate(0 3745.2 220.7)" fill="#784f9a"/><ellipse cx="3742.1" cy="236.2" rx="5.2" ry="3.8" transform="rotate(0 3742.1 236.2)" fill="#80579f"/><ellipse cx="3758.8" cy="233.3" rx="3.8" ry="2.9" transform="rotate(0 3758.8 233.3)" fill="#7e559e"/><ellipse cx="3758.8" cy="220.0" rx="3.3" ry="2.4" transform="rotate(0 3758.8 220.0)" fill="#784f9a"/><ellipse cx="3772.6" cy="242.1" rx="2.9" ry="2.4" transform="rotate(0 3772.6 242.1)" fill="#835aa1"/><ellipse cx="3760.0" cy="246.9" rx="4.3" ry="3.1" transform="rotate(0 3760.0 246.9)" fill="#855ca3"/><ellipse cx="3743.3" cy="252.9" rx="6.2" ry="5.2" transform="rotate(0 3743.3 252.9)" fill="#885fa5"/><ellipse cx="3779.0" cy="252.9" rx="3.3" ry="3.3" transform="rotate(0 3779.0 252.9)" fill="#885fa5"/><ellipse cx="3766.4" cy="260.5" rx="5.2" ry="4.0" transform="rotate(0 3766.4 260.5)" fill="#8c63a7"/><ellipse cx="3787.4" cy="261.2" rx="3.6" ry="3.3" transform="rotate(0 3787.4 261.2)" fill="#8d64a7"/><ellipse cx="3749.3" cy="271.9" rx="7.1" ry="5.2" transform="rotate(0 3749.3 271.9)" fill="#9269ab"/><ellipse cx="3798.1" cy="270.0" rx="3.8" ry="3.8" transform="rotate(0 3798.1 270.0)" fill="#9168aa"/><ellipse cx="3810.0" cy="275.5" rx="3.8" ry="4.3" transform="rotate(0 3810.0 275.5)" fill="#946bac"/><ellipse cx="3758.8" cy="288.6" rx="7.1" ry="6.7" transform="rotate(0 3758.8 288.6)" fill="#9b72b1"/><ellipse cx="3786.9" cy="285.7" rx="5.2" ry="5.2" transform="rotate(0 3786.9 285.7)" fill="#9970b0"/><ellipse cx="3826.0" cy="283.3" rx="3.8" ry="4.8" transform="rotate(0 3826.0 283.3)" fill="#986faf"/><ellipse cx="3773.1" cy="304.0" rx="6.7" ry="7.1" transform="rotate(0 3773.1 304.0)" fill="#9b72b1"/><ellipse cx="3826.7" cy="302.4" rx="5.2" ry="6.2" transform="rotate(0 3826.7 302.4)" fill="#9b72b1"/><ellipse cx="3791.0" cy="317.1" rx="6.7" ry="8.1" transform="rotate(0 3791.0 317.1)" fill="#9b72b1"/><ellipse cx="3848.1" cy="319.0" rx="5.7" ry="7.6" transform="rotate(0 3848.1 319.0)" fill="#9b72b1"/><ellipse cx="3808.8" cy="325.5" rx="6.7" ry="9.5" transform="rotate(0 3808.8 325.5)" fill="#9b72b1"/><ellipse cx="3828.6" cy="328.6" rx="6.2" ry="8.1" transform="rotate(0 3828.6 328.6)" fill="#9b72b1"/><polyline points="3819.5,146.2 3842.1,158.8 3860.0,142.1" fill="none" stroke="#683f90" stroke-width="5.2" stroke-linecap="round" stroke-linejoin="round"/><polyline points="3842.1,158.8 3852.9,169.5 3861.2,177.9" fill="none" stroke="#683f90" stroke-width="5.2" stroke-linecap="round" stroke-linejoin="round"/><polyline points="3780.2,166.0 3805.2,174.3 3812.4,201.7" fill="none" stroke="#683f90" stroke-width="5.2" stroke-linecap="round" stroke-linejoin="round"/><polyline points="3805.2,174.3 3833.8,185.0" fill="none" stroke="#683f90" stroke-width="5.2" stroke-linecap="round" stroke-linejoin="round"/><polyline points="3893.3,153.6 3898.1,174.3 3914.8,174.3" fill="none" stroke="#683f90" stroke-width="5.2" stroke-linecap="round" stroke-linejoin="round"/><polyline points="3751.0,207.1 3756.4,220.7 3742.1,236.2" fill="none" stroke="#714896" stroke-width="5.2" stroke-linecap="round" stroke-linejoin="round"/><polyline points="3749.3,271.9 3774.3,276.7 3773.1,304.0" fill="none" stroke="#9269ab" stroke-width="5.2" stroke-linecap="round" stroke-linejoin="round"/><polyline points="3779.0,252.9 3774.3,276.7" fill="none" stroke="#885fa5" stroke-width="5.2" stroke-linecap="round" stroke-linejoin="round"/><polyline points="3798.1,270.0 3802.9,291.0 3826.0,283.3" fill="none" stroke="#9168aa" stroke-width="5.2" stroke-linecap="round" stroke-linejoin="round"/><polyline points="3802.9,291.0 3808.8,325.5" fill="none" stroke="#9b72b1" stroke-width="5.2" stroke-linecap="round" stroke-linejoin="round"/><text x="3833.5" y="231" font-size="33.4" fill="#2f3237" textLength="379" lengthAdjust="spacingAndGlyphs">NEURAL INFORMATION</text><text x="3833.5" y="266" font-size="33.4" fill="#2f3237" textLength="378" lengthAdjust="spacingAndGlyphs">PROCESSING SYSTEMS</text></svg>
<div class="a" style="left:141.0px;top:493.8px;font:normal bold 56.5px/81px 'Liberation Sans', sans-serif;color:#000;">Diagrammatic Overview</div>
<div class="a" style="left:135.2px;top:1110.6px;font:normal bold 56.5px/81px 'Liberation Sans', sans-serif;color:#000;">Observations on Dynamical Systems</div>
<div class="a" style="left:136.0px;top:1198.5px;font:normal normal 34.93px/50px 'Liberation Sans', sans-serif;color:#2c3e50;">For a prototypical dynamical system of the form:</div>
<div class="a" id="f1" style="left:195.3px;top:1278.2px;font:normal normal 36px/51px 'Liberation Serif', serif;color:#000;letter-spacing:0em;transform-origin:0 0;transform:scaleX(1.1175);"><span class="m">∂</span><sub class="m">t</sub><span class="mb">u</span> &nbsp;− <span class="m">N</span>&hairsp;(<span class="mb">u</span>; <span class="m">λ</span>) = 0,</div>
<div class="a" id="f2" style="left:561.4px;top:1278.2px;font:normal normal 36px/51px 'Liberation Serif', serif;color:#000;letter-spacing:0em;transform-origin:0 0;transform:scaleX(1.1007);"><span class="mb">u</span> = <span class="m">u</span>(<span class="mb">x</span>, <span class="m">t</span>),</div>
<div class="a" id="f3" style="left:804.4px;top:1278.2px;font:normal normal 36px/51px 'Liberation Serif', serif;color:#000;letter-spacing:0em;transform-origin:0 0;transform:scaleX(1.0024);"><span class="mb">x</span> <svg style="position:static;display:inline-block;width:0.62em;height:0.62em;vertical-align:-0.06em;margin:0 0.04em" viewBox="0 0 62 62"><path d="M58 5H36C16 5 5 17 5 31s11 26 31 26h22M5 31h53" fill="none" stroke="currentColor" stroke-width="5.5"/></svg> Ω <svg style="position:static;display:inline-block;width:0.62em;height:0.62em;vertical-align:-0.06em;margin:0 0.04em" viewBox="0 0 62 62"><path d="M58 7H34C15 7 5 18 5 31s10 24 29 24h24" fill="none" stroke="currentColor" stroke-width="5.5"/></svg> <span class="mr">I<span style="margin-left:-0.2em">R</span></span><sup class="m">n</sup>,</div>
<div class="a" id="f4" style="left:1057.5px;top:1278.2px;font:normal normal 36px/51px 'Liberation Serif', serif;color:#000;letter-spacing:0em;transform-origin:0 0;transform:scaleX(1.0070);"><span class="m">t</span> <svg style="position:static;display:inline-block;width:0.62em;height:0.62em;vertical-align:-0.06em;margin:0 0.04em" viewBox="0 0 62 62"><path d="M58 5H36C16 5 5 17 5 31s11 26 31 26h22M5 31h53" fill="none" stroke="currentColor" stroke-width="5.5"/></svg> [0, <span class="m">T</span>] <svg style="position:static;display:inline-block;width:0.62em;height:0.62em;vertical-align:-0.06em;margin:0 0.04em" viewBox="0 0 62 62"><path d="M58 7H34C15 7 5 18 5 31s10 24 29 24h24" fill="none" stroke="currentColor" stroke-width="5.5"/></svg> <span class="mr">I<span style="margin-left:-0.2em">R</span></span><sup class="mr">+</sup></div>
<div class="a" id="f5" style="left:193.3px;top:1343.3px;font:normal normal 36px/51px 'Liberation Serif', serif;color:#000;letter-spacing:0em;transform-origin:0 0;transform:scaleX(1.1139);"><span class="m">R</span>(<span class="mb">u</span>, <span class="m">λ</span>) ≡ &nbsp;<span class="m">∂</span><sub class="m">t</sub><span class="mb">u</span> &nbsp;− <span class="m">N</span>&hairsp;(<span class="mb">u</span>; <span class="m">λ</span>),</div>
<div class="a" style="left:136.0px;top:1423.5px;font:normal normal 34.93px/50px 'Liberation Sans', sans-serif;color:#2c3e50;">the residual <span style="font-size:38px;letter-spacing:0.035em"><span class="m">R</span>( · ; <span class="m">λ</span>) <span class="mr">= 0</span></span> when <span style="font-size:38px;letter-spacing:0.035em"><span class="m">u</span><span class="mr">(</span><span class="mb">x</span><span class="mr">,</span> <span class="m">t</span><span class="mr">)</span></span> is a solution to the PDE.</div>
<div class="a" style="left:136.0px;top:1524.5px;font:normal normal 34.93px/50px 'Liberation Sans', sans-serif;color:#2c3e50;">When we take measurements <span style="font-size:38px;letter-spacing:0.035em"><span class="m">ζ</span><span class="mr">(</span><span class="m">x</span><span class="mr">,</span> <span class="m">t</span><span class="mr">)</span></span> of a dynamical system, we introduce</div>
<div class="a" style="left:136.0px;top:1573.9px;font:normal normal 34.93px/50px 'Liberation Sans', sans-serif;color:#2c3e50;">some form of bias <span style="font-size:38px;letter-spacing:0.035em"><span class="m">ϕ</span><span class="mr">(</span><span class="m">x</span><span class="mr">,</span> <span class="m">t</span><span class="mr">)</span></span>, such that:</div>
<div class="a" id="f6" style="left:185.0px;top:1647.9px;font:normal normal 36px/51px 'Liberation Serif', serif;color:#000;letter-spacing:0em;transform-origin:0 0;transform:scaleX(1.1215);"><span class="m">ζ</span>(<span class="mb">x</span>, <span class="m">t</span>) = <span class="m">u</span>(<span class="mb">x</span>, <span class="m">t</span>) + <span class="m">ϕ</span>(<span class="mb">x</span>, <span class="m">t</span>),</div>
<div class="a" style="left:136.0px;top:1735.2px;font:normal normal 34.93px/50px 'Liberation Sans', sans-serif;color:#2c3e50;">where <span style="font-size:38px;letter-spacing:0.035em"><span class="m">u</span><span class="mr">(</span><span class="mb">x</span><span class="mr">,</span> <span class="m">t</span><span class="mr">)</span></span> is the true solution to the dynamical system. For the sake of</div>
<div class="a" style="left:136.0px;top:1785.8px;font:normal normal 34.93px/50px 'Liberation Sans', sans-serif;color:#2c3e50;">this work we consider stationary corruption, i.e: <span style="font-size:38px;letter-spacing:0.035em"><span class="m">∂</span><sub class="m">t</sub><span class="m">ϕ</span><span class="mr">(</span><span class="mb">x</span><span class="mr">,</span> <span class="m">t</span><span class="mr">) = 0, or</span> <span class="m">ϕ</span> <span class="mr">=</span> <span class="m">ϕ</span><span class="mr">(</span><span class="mb">x</span><span class="mr">)</span></span>.</div>
<div class="a" style="left:133.5px;top:1900.9px;font:normal bold 56.5px/81px 'Liberation Sans', sans-serif;color:#000;">Defining the Mapping</div>
<div class="a" style="left:136.0px;top:2001.4px;font:normal normal 34.93px/50px 'Liberation Sans', sans-serif;color:#2c3e50;">Our goal is to provide a mapping <span style="font-size:38px;letter-spacing:0.035em"><span class="m">η</span><sub class="m">θ</sub></span> capable of recovering the underlying</div>
<div class="a" style="left:136.0px;top:2051.3px;font:normal normal 34.93px/50px 'Liberation Sans', sans-serif;color:#2c3e50;">solution to the dynamical system given the corrupted observations:</div>
<div class="a" id="f7" style="left:189.0px;top:2117.8px;font:normal normal 36px/51px 'Liberation Serif', serif;color:#000;letter-spacing:0em;transform-origin:0 0;transform:scaleX(1.0705);"><span class="m">η</span><sub class="m">θ</sub>: <span class="m">ζ</span>(<span class="mb">x</span>, <span class="m">t</span>) → <span class="m">ϕ</span>(<span class="mb">x</span>, <span class="m">t</span>)</div>
<div class="a" style="left:136.0px;top:2193.7px;font:normal normal 34.93px/50px 'Liberation Sans', sans-serif;color:#2c3e50;">We parameterise <span style="font-size:38px;letter-spacing:0.035em"><span class="m">η</span><sub class="m">θ</sub></span> by a physics-informed convolutional neural network:</div>
<div class="a" style="left:-278.6px;top:2731.0px;font:normal normal 21.7px/31px 'Liberation Sans', sans-serif;color:#2c3e50;width:2000px;text-align:center;">Overview of network architecture and training procedure.</div>
<div class="a" style="left:139.2px;top:633.8px;font:normal bold 26.6px/38px 'Liberation Sans', sans-serif;color:#000;">Corrupted Observations</div>
<div class="a" style="left:692.8px;top:633.8px;font:normal bold 26.6px/38px 'Liberation Sans', sans-serif;color:#000;">Navier Stokes Solution</div>
<div class="a" style="left:1102.6px;top:633.8px;font:normal bold 26.6px/38px 'Liberation Sans', sans-serif;color:#000;">Additive Bias</div>
<div class="a" style="left:-427.6px;top:735.3px;font:normal bold 26.6px/38px 'Liberation Sans', sans-serif;color:#000;width:2000px;text-align:center;">ML Model</div>
<svg style="left:154.2px;top:673.7px" width="270.5" height="272.8"><defs><linearGradient id="g165_2h" x1="0" x2="1" y1="0" y2="0"><stop offset="0.000" stop-color="#d05347"/><stop offset="0.062" stop-color="#fcd3bc"/><stop offset="0.125" stop-color="#fcd7c2"/><stop offset="0.188" stop-color="#fce0cf"/><stop offset="0.250" stop-color="#f09b7a"/><stop offset="0.312" stop-color="#da6a55"/><stop offset="0.375" stop-color="#f7b597"/><stop offset="0.438" stop-color="#bf3137"/><stop offset="0.500" stop-color="#b92531"/><stop offset="0.562" stop-color="#bc2c34"/><stop offset="0.625" stop-color="#e0ecf3"/><stop offset="0.688" stop-color="#faebe2"/><stop offset="0.750" stop-color="#d7624e"/><stop offset="0.812" stop-color="#b1182b"/><stop offset="0.875" stop-color="#dd705a"/><stop offset="0.938" stop-color="#fdddcb"/><stop offset="1.000" stop-color="#e37d63"/></linearGradient><linearGradient id="g165_2v" x1="0" x2="0" y1="0" y2="1"><stop offset="0.000" stop-color="#d55e4c"/><stop offset="0.062" stop-color="#eb8f71"/><stop offset="0.125" stop-color="#c13639"/><stop offset="0.188" stop-color="#e58368"/><stop offset="0.250" stop-color="#f19f7e"/><stop offset="0.312" stop-color="#f5aa89"/><stop offset="0.375" stop-color="#fcd6c1"/><stop offset="0.438" stop-color="#ef9979"/><stop offset="0.500" stop-color="#fcd4be"/><stop offset="0.562" stop-color="#e27c63"/><stop offset="0.625" stop-color="#f8bea2"/><stop offset="0.688" stop-color="#f6b293"/><stop offset="0.750" stop-color="#fcd7c2"/><stop offset="0.812" stop-color="#fbe3d4"/><stop offset="0.875" stop-color="#f7b799"/><stop offset="0.938" stop-color="#fddbc8"/><stop offset="1.000" stop-color="#e68469"/></linearGradient></defs><rect x="1.35" y="1.35" width="267.8" height="270.1" fill="url(#g165_2h)"/><rect x="1.35" y="5.35" width="9" height="266.1" fill="url(#g165_2v)"/><rect x="1.35" y="1.35" width="267.8" height="270.1" fill="none" stroke="#000" stroke-width="2.7"/></svg><svg style="left:159.7px;top:678.3px" width="270.5" height="272.8"><defs><linearGradient id="g165_1h" x1="0" x2="1" y1="0" y2="0"><stop offset="0.000" stop-color="#d05347"/><stop offset="0.062" stop-color="#fcd3bc"/><stop offset="0.125" stop-color="#fcd7c2"/><stop offset="0.188" stop-color="#fce0cf"/><stop offset="0.250" stop-color="#f09b7a"/><stop offset="0.312" stop-color="#da6a55"/><stop offset="0.375" stop-color="#f7b597"/><stop offset="0.438" stop-color="#bf3137"/><stop offset="0.500" stop-color="#b92531"/><stop offset="0.562" stop-color="#bc2c34"/><stop offset="0.625" stop-color="#e0ecf3"/><stop offset="0.688" stop-color="#faebe2"/><stop offset="0.750" stop-color="#d7624e"/><stop offset="0.812" stop-color="#b1182b"/><stop offset="0.875" stop-color="#dd705a"/><stop offset="0.938" stop-color="#fdddcb"/><stop offset="1.000" stop-color="#e37d63"/></linearGradient><linearGradient id="g165_1v" x1="0" x2="0" y1="0" y2="1"><stop offset="0.000" stop-color="#d55e4c"/><stop offset="0.062" stop-color="#eb8f71"/><stop offset="0.125" stop-color="#c13639"/><stop offset="0.188" stop-color="#e58368"/><stop offset="0.250" stop-color="#f19f7e"/><stop offset="0.312" stop-color="#f5aa89"/><stop offset="0.375" stop-color="#fcd6c1"/><stop offset="0.438" stop-color="#ef9979"/><stop offset="0.500" stop-color="#fcd4be"/><stop offset="0.562" stop-color="#e27c63"/><stop offset="0.625" stop-color="#f8bea2"/><stop offset="0.688" stop-color="#f6b293"/><stop offset="0.750" stop-color="#fcd7c2"/><stop offset="0.812" stop-color="#fbe3d4"/><stop offset="0.875" stop-color="#f7b799"/><stop offset="0.938" stop-color="#fddbc8"/><stop offset="1.000" stop-color="#e68469"/></linearGradient></defs><rect x="1.35" y="1.35" width="267.8" height="270.1" fill="url(#g165_1h)"/><rect x="1.35" y="5.35" width="9" height="266.1" fill="url(#g165_1v)"/><rect x="1.35" y="1.35" width="267.8" height="270.1" fill="none" stroke="#000" stroke-width="2.7"/></svg>
<svg style="left:166.5px;top:684.2px;overflow:hidden" width="267.8" height="270.1" viewBox="0 0 56 56" preserveAspectRatio="none"><filter id="h1" x="-10%" y="-10%" width="120%" height="120%"><feGaussianBlur stdDeviation="0.75"/></filter><g filter="url(#h1)"><path fill="#559ec9" d="M36 3h1v1h-1zM36 4h1v1h-1zM11 35h2v1h-2zM11 36h2v1h-2z"/><path fill="#72b1d3" d="M36 2h1v1h-1zM35 3h1v1h-1zM35 4h1v1h-1zM36 5h1v1h-1zM11 34h2v1h-2zM10 35h1v1h-1zM51 35h2v1h-2zM10 36h1v1h-1zM50 36h3v1h-3zM11 37h1v1h-1zM51 37h1v1h-1z"/><path fill="#8fc3dd" d="M35 2h1v1h-1zM37 3h1v1h-1zM37 4h1v1h-1zM13 28h1v1h-1zM12 33h1v1h-1zM10 34h1v1h-1zM13 34h1v1h-1zM51 34h1v1h-1zM13 35h1v1h-1zM50 35h1v1h-1zM9 36h1v1h-1zM13 36h1v1h-1zM10 37h1v1h-1zM12 37h1v1h-1zM50 37h1v1h-1zM52 37h1v1h-1zM51 42h1v1h-1zM4 43h2v1h-2zM51 43h2v1h-2zM4 44h1v1h-1zM51 44h1v1h-1z"/><path fill="#a7d0e4" d="M36 1h1v1h-1zM37 2h1v1h-1zM35 5h1v1h-1zM37 5h1v1h-1zM11 11h1v1h-1zM11 12h2v1h-2zM11 13h1v1h-1zM12 18h1v1h-1zM11 19h2v1h-2zM11 20h3v1h-3zM12 27h3v1h-3zM12 28h1v1h-1zM14 28h1v1h-1zM12 29h2v1h-2zM11 33h1v1h-1zM13 33h1v1h-1zM50 34h1v1h-1zM52 34h1v1h-1zM9 35h1v1h-1zM49 35h1v1h-1zM53 35h1v1h-1zM49 36h1v1h-1zM53 36h1v1h-1zM9 37h1v1h-1zM10 38h2v1h-2zM51 38h2v1h-2zM51 41h1v1h-1zM4 42h2v1h-2zM50 42h1v1h-1zM52 42h1v1h-1zM3 43h1v1h-1zM6 43h1v1h-1zM50 43h1v1h-1zM3 44h1v1h-1zM5 44h1v1h-1zM50 44h1v1h-1zM52 44h1v1h-1zM51 45h1v1h-1z"/><path fill="#bedceb" d="M35 1h1v1h-1zM36 6h1v1h-1zM11 10h1v1h-1zM10 11h1v1h-1zM12 11h1v1h-1zM10 12h1v1h-1zM12 13h1v1h-1zM11 18h1v1h-1zM13 18h1v1h-1zM13 19h1v1h-1zM12 21h2v1h-2zM12 26h2v1h-2zM11 27h1v1h-1zM51 27h1v1h-1zM11 28h1v1h-1zM15 28h1v1h-1zM50 28h2v1h-2zM11 29h1v1h-1zM14 29h1v1h-1zM51 29h1v1h-1zM12 30h2v1h-2zM12 31h1v1h-1zM11 32h3v1h-3zM10 33h1v1h-1zM50 33h3v1h-3zM49 34h1v1h-1zM14 35h1v1h-1zM8 36h1v1h-1zM8 37h1v1h-1zM13 37h1v1h-1zM49 37h1v1h-1zM53 37h1v1h-1zM9 38h1v1h-1zM12 38h1v1h-1zM50 38h1v1h-1zM51 39h2v1h-2zM51 40h1v1h-1zM5 41h1v1h-1zM50 41h1v1h-1zM52 41h1v1h-1zM3 42h1v1h-1zM6 42h1v1h-1zM7 43h1v1h-1zM53 43h1v1h-1zM6 44h1v1h-1zM53 44h1v1h-1zM3 45h3v1h-3zM50 45h1v1h-1zM52 45h1v1h-1zM51 51h2v1h-2zM37 53h1v1h-1z"/><path fill="#d4e6f1" d="M36 0h1v1h-1zM37 1h1v1h-1zM34 2h1v1h-1zM34 3h1v1h-1zM38 3h1v1h-1zM34 4h1v1h-1zM38 4h1v1h-1zM35 6h1v1h-1zM37 6h1v1h-1zM36 7h1v1h-1zM10 10h1v1h-1zM12 10h1v1h-1zM9 11h1v1h-1zM9 12h1v1h-1zM13 12h1v1h-1zM10 13h1v1h-1zM11 14h2v1h-2zM11 17h2v1h-2zM10 19h1v1h-1zM14 19h1v1h-1zM10 20h1v1h-1zM14 20h1v1h-1zM11 21h1v1h-1zM12 22h1v1h-1zM12 25h2v1h-2zM11 26h1v1h-1zM14 26h1v1h-1zM15 27h1v1h-1zM43 27h2v1h-2zM50 27h1v1h-1zM52 27h1v1h-1zM16 28h1v1h-1zM43 28h2v1h-2zM49 28h1v1h-1zM52 28h1v1h-1zM15 29h1v1h-1zM50 29h1v1h-1zM52 29h1v1h-1zM11 30h1v1h-1zM14 30h1v1h-1zM50 30h2v1h-2zM11 31h1v1h-1zM13 31h1v1h-1zM51 31h1v1h-1zM51 32h1v1h-1zM14 33h1v1h-1zM9 34h1v1h-1zM14 34h1v1h-1zM53 34h1v1h-1zM8 35h1v1h-1zM48 35h1v1h-1zM7 36h1v1h-1zM14 36h1v1h-1zM48 36h1v1h-1zM7 37h1v1h-1zM8 38h1v1h-1zM49 38h1v1h-1zM53 38h1v1h-1zM10 39h2v1h-2zM50 39h1v1h-1zM50 40h1v1h-1zM52 40h1v1h-1zM4 41h1v1h-1zM6 41h1v1h-1zM10 41h1v1h-1zM7 42h5v1h-5zM49 42h1v1h-1zM53 42h1v1h-1zM2 43h1v1h-1zM8 43h5v1h-5zM49 43h1v1h-1zM2 44h1v1h-1zM7 44h5v1h-5zM49 44h1v1h-1zM6 45h1v1h-1zM53 45h1v1h-1zM4 46h1v1h-1zM51 46h2v1h-2zM51 50h2v1h-2zM36 52h2v1h-2zM51 52h2v1h-2zM36 53h1v1h-1zM38 53h1v1h-1zM36 54h2v1h-2z"/><path fill="#e2edf3" d="M36 -2h1v1h-1zM36 -1h1v1h-1zM35 0h1v1h-1zM37 0h1v1h-1zM38 2h1v1h-1zM10 3h2v1h-2zM9 4h3v1h-3zM10 5h2v1h-2zM38 5h1v1h-1zM37 7h1v1h-1zM36 8h1v1h-1zM10 9h2v1h-2zM37 9h1v1h-1zM9 10h1v1h-1zM36 10h2v1h-2zM13 11h1v1h-1zM36 11h2v1h-2zM37 12h1v1h-1zM9 13h1v1h-1zM13 13h1v1h-1zM10 14h1v1h-1zM11 15h2v1h-2zM11 16h2v1h-2zM13 17h1v1h-1zM10 18h1v1h-1zM14 18h1v1h-1zM10 21h1v1h-1zM14 21h1v1h-1zM11 22h1v1h-1zM13 22h1v1h-1zM12 23h1v1h-1zM12 24h2v1h-2zM14 25h1v1h-1zM15 26h1v1h-1zM44 26h1v1h-1zM50 26h2v1h-2zM16 27h4v1h-4zM45 27h1v1h-1zM49 27h1v1h-1zM17 28h3v1h-3zM45 28h2v1h-2zM48 28h1v1h-1zM53 28h1v1h-1zM16 29h1v1h-1zM43 29h3v1h-3zM49 29h1v1h-1zM52 30h1v1h-1zM14 31h1v1h-1zM50 31h1v1h-1zM52 31h1v1h-1zM10 32h1v1h-1zM14 32h1v1h-1zM50 32h1v1h-1zM52 32h1v1h-1zM49 33h1v1h-1zM53 33h1v1h-1zM48 34h1v1h-1zM7 35h1v1h-1zM43 35h3v1h-3zM47 35h1v1h-1zM54 35h1v1h-1zM4 36h3v1h-3zM43 36h3v1h-3zM47 36h1v1h-1zM54 36h1v1h-1zM4 37h3v1h-3zM48 37h1v1h-1zM4 38h4v1h-4zM13 38h1v1h-1zM5 39h1v1h-1zM8 39h2v1h-2zM12 39h1v1h-1zM49 39h1v1h-1zM53 39h1v1h-1zM4 40h3v1h-3zM9 40h3v1h-3zM3 41h1v1h-1zM7 41h3v1h-3zM11 41h1v1h-1zM49 41h1v1h-1zM53 41h1v1h-1zM2 42h1v1h-1zM12 42h1v1h-1zM12 44h1v1h-1zM2 45h1v1h-1zM7 45h1v1h-1zM11 45h1v1h-1zM3 46h1v1h-1zM5 46h1v1h-1zM50 46h1v1h-1zM51 47h2v1h-2zM51 48h2v1h-2zM51 49h2v1h-2zM4 50h1v1h-1zM50 50h1v1h-1zM53 50h1v1h-1zM3 51h3v1h-3zM50 51h1v1h-1zM53 51h1v1h-1zM3 52h2v1h-2zM38 52h1v1h-1zM50 52h1v1h-1zM53 52h1v1h-1zM51 53h2v1h-2zM38 54h1v1h-1zM36 55h2v1h-2z"/><path fill="#f0f4f6" d="M35 -2h1v1h-1zM35 -1h1v1h-1zM34 1h1v1h-1zM10 2h2v1h-2zM4 3h6v1h-6zM12 3h1v1h-1zM51 3h2v1h-2zM4 4h5v1h-5zM12 4h1v1h-1zM51 4h2v1h-2zM9 5h1v1h-1zM12 5h1v1h-1zM34 5h1v1h-1zM10 6h2v1h-2zM35 7h1v1h-1zM10 8h2v1h-2zM37 8h1v1h-1zM12 9h1v1h-1zM36 9h1v1h-1zM13 10h1v1h-1zM8 11h1v1h-1zM19 11h2v1h-2zM38 11h1v1h-1zM51 11h2v1h-2zM4 12h1v1h-1zM8 12h1v1h-1zM14 12h1v1h-1zM19 12h3v1h-3zM36 12h1v1h-1zM52 12h1v1h-1zM13 14h1v1h-1zM10 15h1v1h-1zM13 15h1v1h-1zM10 16h1v1h-1zM13 16h1v1h-1zM10 17h1v1h-1zM3 19h2v1h-2zM9 19h1v1h-1zM15 19h1v1h-1zM19 19h2v1h-2zM3 20h2v1h-2zM15 20h1v1h-1zM18 20h3v1h-3zM14 22h1v1h-1zM11 23h1v1h-1zM13 23h1v1h-1zM11 24h1v1h-1zM11 25h1v1h-1zM16 26h4v1h-4zM43 26h1v1h-1zM45 26h1v1h-1zM49 26h1v1h-1zM52 26h1v1h-1zM10 27h1v1h-1zM20 27h1v1h-1zM42 27h1v1h-1zM46 27h3v1h-3zM53 27h1v1h-1zM10 28h1v1h-1zM20 28h1v1h-1zM42 28h1v1h-1zM47 28h1v1h-1zM10 29h1v1h-1zM17 29h3v1h-3zM46 29h3v1h-3zM53 29h1v1h-1zM10 30h1v1h-1zM15 30h1v1h-1zM44 30h1v1h-1zM49 30h1v1h-1zM10 31h1v1h-1zM49 31h1v1h-1zM49 32h1v1h-1zM9 33h1v1h-1zM8 34h1v1h-1zM15 34h1v1h-1zM43 34h5v1h-5zM54 34h1v1h-1zM4 35h3v1h-3zM15 35h1v1h-1zM42 35h1v1h-1zM46 35h1v1h-1zM3 36h1v1h-1zM15 36h1v1h-1zM42 36h1v1h-1zM46 36h1v1h-1zM3 37h1v1h-1zM14 37h1v1h-1zM43 37h3v1h-3zM47 37h1v1h-1zM54 37h1v1h-1zM48 38h1v1h-1zM4 39h1v1h-1zM6 39h2v1h-2zM3 40h1v1h-1zM7 40h2v1h-2zM12 40h1v1h-1zM49 40h1v1h-1zM53 40h1v1h-1zM12 41h1v1h-1zM48 42h1v1h-1zM54 42h1v1h-1zM13 43h1v1h-1zM43 43h3v1h-3zM48 43h1v1h-1zM54 43h1v1h-1zM13 44h1v1h-1zM43 44h2v1h-2zM48 44h1v1h-1zM54 44h1v1h-1zM8 45h3v1h-3zM12 45h1v1h-1zM49 45h1v1h-1zM6 46h1v1h-1zM53 46h1v1h-1zM3 47h3v1h-3zM50 47h1v1h-1zM4 48h1v1h-1zM3 49h2v1h-2zM50 49h1v1h-1zM53 49h1v1h-1zM3 50h1v1h-1zM5 50h1v1h-1zM2 51h1v1h-1zM11 51h2v1h-2zM36 51h2v1h-2zM5 52h1v1h-1zM11 52h2v1h-2zM35 52h1v1h-1zM39 52h1v1h-1zM4 53h1v1h-1zM35 53h1v1h-1zM39 53h1v1h-1zM35 54h1v1h-1zM38 55h1v1h-1zM36 56h2v1h-2zM36 57h2v1h-2z"/><path fill="#f8f2ee" d="M37 -2h1v1h-1zM37 -1h1v1h-1zM38 1h1v1h-1zM4 2h6v1h-6zM12 2h1v1h-1zM51 2h2v1h-2zM3 3h1v1h-1zM53 3h1v1h-1zM53 4h1v1h-1zM4 5h5v1h-5zM51 5h2v1h-2zM9 6h1v1h-1zM12 6h1v1h-1zM38 6h1v1h-1zM10 7h2v1h-2zM12 8h1v1h-1zM9 9h1v1h-1zM8 10h1v1h-1zM19 10h2v1h-2zM38 10h1v1h-1zM51 10h2v1h-2zM3 11h5v1h-5zM14 11h1v1h-1zM21 11h1v1h-1zM3 12h1v1h-1zM5 12h3v1h-3zM22 12h1v1h-1zM38 12h1v1h-1zM51 12h1v1h-1zM4 13h1v1h-1zM8 13h1v1h-1zM14 13h1v1h-1zM19 13h3v1h-3zM37 13h1v1h-1zM9 14h1v1h-1zM14 17h1v1h-1zM3 18h2v1h-2zM9 18h1v1h-1zM15 18h1v1h-1zM19 18h2v1h-2zM2 19h1v1h-1zM5 19h1v1h-1zM16 19h3v1h-3zM21 19h1v1h-1zM26 19h1v1h-1zM51 19h2v1h-2zM2 20h1v1h-1zM5 20h1v1h-1zM9 20h1v1h-1zM16 20h2v1h-2zM21 20h1v1h-1zM26 20h1v1h-1zM51 20h2v1h-2zM3 21h2v1h-2zM15 21h1v1h-1zM18 21h3v1h-3zM51 21h1v1h-1zM10 22h1v1h-1zM14 23h1v1h-1zM14 24h1v1h-1zM15 25h1v1h-1zM43 25h2v1h-2zM50 25h3v1h-3zM10 26h1v1h-1zM20 26h1v1h-1zM42 26h1v1h-1zM46 26h3v1h-3zM53 26h1v1h-1zM3 27h1v1h-1zM27 27h1v1h-1zM20 29h1v1h-1zM42 29h1v1h-1zM16 30h2v1h-2zM43 30h1v1h-1zM45 30h2v1h-2zM48 30h1v1h-1zM53 30h1v1h-1zM15 31h1v1h-1zM44 31h1v1h-1zM53 31h1v1h-1zM15 32h1v1h-1zM53 32h1v1h-1zM15 33h1v1h-1zM43 33h3v1h-3zM48 33h1v1h-1zM7 34h1v1h-1zM42 34h1v1h-1zM3 35h1v1h-1zM16 35h1v1h-1zM55 35h1v1h-1zM55 36h1v1h-1zM42 37h1v1h-1zM46 37h1v1h-1zM3 38h1v1h-1zM44 38h1v1h-1zM54 38h1v1h-1zM3 39h1v1h-1zM13 39h1v1h-1zM48 39h1v1h-1zM2 41h1v1h-1zM13 41h1v1h-1zM48 41h1v1h-1zM54 41h1v1h-1zM13 42h1v1h-1zM43 42h3v1h-3zM47 42h1v1h-1zM1 43h1v1h-1zM19 43h2v1h-2zM42 43h1v1h-1zM46 43h2v1h-2zM1 44h1v1h-1zM19 44h2v1h-2zM42 44h1v1h-1zM45 44h3v1h-3zM13 45h1v1h-1zM48 45h1v1h-1zM54 45h1v1h-1zM2 46h1v1h-1zM7 46h1v1h-1zM10 46h2v1h-2zM49 46h1v1h-1zM53 47h1v1h-1zM3 48h1v1h-1zM5 48h1v1h-1zM50 48h1v1h-1zM53 48h1v1h-1zM5 49h1v1h-1zM2 50h1v1h-1zM6 50h1v1h-1zM10 50h3v1h-3zM6 51h1v1h-1zM9 51h2v1h-2zM13 51h1v1h-1zM35 51h1v1h-1zM38 51h1v1h-1zM49 51h1v1h-1zM54 51h1v1h-1zM2 52h1v1h-1zM6 52h1v1h-1zM10 52h1v1h-1zM13 52h1v1h-1zM54 52h1v1h-1zM3 53h1v1h-1zM5 53h1v1h-1zM11 53h2v1h-2zM50 53h1v1h-1zM53 53h1v1h-1zM39 54h1v1h-1zM51 54h2v1h-2zM35 55h1v1h-1zM38 56h1v1h-1z"/><path fill="#fae7dc" d="M4 -2h1v1h-1zM34 -2h1v1h-1zM34 -1h1v1h-1zM34 0h1v1h-1zM4 1h2v1h-2zM10 1h2v1h-2zM3 2h1v1h-1zM53 2h1v1h-1zM13 3h1v1h-1zM19 3h2v1h-2zM33 3h1v1h-1zM39 3h1v1h-1zM50 3h1v1h-1zM3 4h1v1h-1zM13 4h1v1h-1zM19 4h2v1h-2zM39 4h1v1h-1zM50 4h1v1h-1zM13 5h1v1h-1zM20 5h1v1h-1zM53 5h1v1h-1zM5 6h4v1h-4zM34 6h1v1h-1zM51 6h2v1h-2zM9 7h1v1h-1zM12 7h1v1h-1zM38 7h1v1h-1zM9 8h1v1h-1zM35 8h1v1h-1zM38 8h1v1h-1zM8 9h1v1h-1zM13 9h1v1h-1zM35 9h1v1h-1zM38 9h1v1h-1zM51 9h2v1h-2zM4 10h4v1h-4zM14 10h1v1h-1zM21 10h1v1h-1zM35 10h1v1h-1zM53 10h1v1h-1zM18 11h1v1h-1zM22 11h1v1h-1zM35 11h1v1h-1zM50 11h1v1h-1zM53 11h1v1h-1zM15 12h1v1h-1zM18 12h1v1h-1zM50 12h1v1h-1zM53 12h1v1h-1zM3 13h1v1h-1zM5 13h3v1h-3zM18 13h1v1h-1zM22 13h1v1h-1zM36 13h1v1h-1zM38 13h1v1h-1zM51 13h2v1h-2zM4 14h1v1h-1zM14 14h1v1h-1zM20 14h1v1h-1zM9 15h1v1h-1zM14 15h1v1h-1zM9 16h1v1h-1zM14 16h1v1h-1zM3 17h2v1h-2zM9 17h1v1h-1zM20 17h1v1h-1zM2 18h1v1h-1zM5 18h1v1h-1zM16 18h3v1h-3zM21 18h1v1h-1zM51 18h2v1h-2zM6 19h1v1h-1zM8 19h1v1h-1zM22 19h1v1h-1zM24 19h2v1h-2zM27 19h1v1h-1zM43 19h1v1h-1zM50 19h1v1h-1zM53 19h1v1h-1zM1 20h1v1h-1zM6 20h1v1h-1zM8 20h1v1h-1zM22 20h1v1h-1zM25 20h1v1h-1zM27 20h1v1h-1zM42 20h3v1h-3zM50 20h1v1h-1zM53 20h1v1h-1zM2 21h1v1h-1zM5 21h1v1h-1zM9 21h1v1h-1zM16 21h2v1h-2zM21 21h1v1h-1zM26 21h2v1h-2zM43 21h2v1h-2zM50 21h1v1h-1zM52 21h1v1h-1zM3 22h2v1h-2zM15 22h1v1h-1zM18 22h2v1h-2zM51 22h1v1h-1zM10 23h1v1h-1zM15 23h1v1h-1zM15 24h1v1h-1zM51 24h1v1h-1zM10 25h1v1h-1zM16 25h5v1h-5zM42 25h1v1h-1zM45 25h1v1h-1zM49 25h1v1h-1zM3 26h2v1h-2zM21 26h1v1h-1zM27 26h2v1h-2zM2 27h1v1h-1zM4 27h1v1h-1zM21 27h1v1h-1zM26 27h1v1h-1zM28 27h1v1h-1zM41 27h1v1h-1zM54 27h1v1h-1zM2 28h2v1h-2zM21 28h1v1h-1zM27 28h2v1h-2zM41 28h1v1h-1zM54 28h1v1h-1zM41 29h1v1h-1zM54 29h1v1h-1zM18 30h2v1h-2zM42 30h1v1h-1zM47 30h1v1h-1zM16 31h1v1h-1zM43 31h1v1h-1zM45 31h4v1h-4zM9 32h1v1h-1zM16 32h1v1h-1zM43 32h6v1h-6zM8 33h1v1h-1zM16 33h1v1h-1zM42 33h1v1h-1zM46 33h2v1h-2zM54 33h1v1h-1zM6 34h1v1h-1zM16 34h2v1h-2zM41 34h1v1h-1zM55 34h1v1h-1zM2 35h1v1h-1zM17 35h2v1h-2zM41 35h1v1h-1zM56 35h2v1h-2zM2 36h1v1h-1zM16 36h1v1h-1zM41 36h1v1h-1zM56 36h2v1h-2zM2 37h1v1h-1zM15 37h1v1h-1zM55 37h1v1h-1zM14 38h1v1h-1zM43 38h1v1h-1zM45 38h3v1h-3zM44 39h1v1h-1zM54 39h1v1h-1zM2 40h1v1h-1zM13 40h1v1h-1zM48 40h1v1h-1zM54 40h1v1h-1zM43 41h3v1h-3zM47 41h1v1h-1zM1 42h1v1h-1zM14 42h1v1h-1zM19 42h1v1h-1zM42 42h1v1h-1zM46 42h1v1h-1zM14 43h1v1h-1zM18 43h1v1h-1zM41 43h1v1h-1zM55 43h1v1h-1zM14 44h1v1h-1zM18 44h1v1h-1zM37 44h1v1h-1zM41 44h1v1h-1zM55 44h1v1h-1zM1 45h1v1h-1zM18 45h3v1h-3zM42 45h4v1h-4zM8 46h2v1h-2zM12 46h1v1h-1zM54 46h1v1h-1zM2 47h1v1h-1zM6 47h1v1h-1zM11 47h1v1h-1zM49 47h1v1h-1zM2 48h1v1h-1zM6 48h1v1h-1zM11 48h1v1h-1zM2 49h1v1h-1zM6 49h1v1h-1zM10 49h3v1h-3zM49 49h1v1h-1zM7 50h1v1h-1zM9 50h1v1h-1zM13 50h1v1h-1zM19 50h1v1h-1zM36 50h2v1h-2zM49 50h1v1h-1zM54 50h1v1h-1zM1 51h1v1h-1zM7 51h2v1h-2zM18 51h3v1h-3zM39 51h1v1h-1zM7 52h3v1h-3zM18 52h3v1h-3zM40 52h2v1h-2zM49 52h1v1h-1zM2 53h1v1h-1zM6 53h1v1h-1zM10 53h1v1h-1zM13 53h1v1h-1zM40 53h1v1h-1zM3 54h2v1h-2zM40 54h1v1h-1zM39 55h1v1h-1zM35 56h1v1h-1zM35 57h1v1h-1zM38 57h1v1h-1z"/><path fill="#fdddcb" d="M3 -2h1v1h-1zM5 -2h1v1h-1zM10 -2h2v1h-2zM38 -2h1v1h-1zM51 -2h2v1h-2zM4 -1h2v1h-2zM38 -1h1v1h-1zM4 0h2v1h-2zM10 0h2v1h-2zM38 0h1v1h-1zM3 1h1v1h-1zM6 1h4v1h-4zM12 1h1v1h-1zM51 1h3v1h-3zM13 2h1v1h-1zM19 2h2v1h-2zM33 2h1v1h-1zM39 2h1v1h-1zM50 2h1v1h-1zM21 3h1v1h-1zM54 3h1v1h-1zM18 4h1v1h-1zM21 4h1v1h-1zM33 4h1v1h-1zM54 4h1v1h-1zM3 5h1v1h-1zM19 5h1v1h-1zM21 5h1v1h-1zM39 5h1v1h-1zM50 5h1v1h-1zM4 6h1v1h-1zM13 6h1v1h-1zM20 6h1v1h-1zM53 6h1v1h-1zM5 7h1v1h-1zM7 7h2v1h-2zM13 7h1v1h-1zM51 7h2v1h-2zM8 8h1v1h-1zM13 8h1v1h-1zM51 8h2v1h-2zM4 9h4v1h-4zM19 9h3v1h-3zM53 9h1v1h-1zM3 10h1v1h-1zM18 10h1v1h-1zM22 10h1v1h-1zM39 10h1v1h-1zM50 10h1v1h-1zM2 11h1v1h-1zM15 11h3v1h-3zM23 11h1v1h-1zM39 11h1v1h-1zM2 12h1v1h-1zM16 12h2v1h-2zM23 12h1v1h-1zM35 12h1v1h-1zM39 12h1v1h-1zM2 13h1v1h-1zM15 13h1v1h-1zM17 13h1v1h-1zM23 13h1v1h-1zM50 13h1v1h-1zM53 13h1v1h-1zM3 14h1v1h-1zM5 14h1v1h-1zM8 14h1v1h-1zM19 14h1v1h-1zM21 14h2v1h-2zM37 14h1v1h-1zM51 14h2v1h-2zM3 15h2v1h-2zM19 15h2v1h-2zM3 16h2v1h-2zM19 16h2v1h-2zM2 17h1v1h-1zM5 17h1v1h-1zM15 17h1v1h-1zM18 17h2v1h-2zM21 17h1v1h-1zM51 17h2v1h-2zM6 18h1v1h-1zM8 18h1v1h-1zM22 18h6v1h-6zM50 18h1v1h-1zM53 18h1v1h-1zM1 19h1v1h-1zM7 19h1v1h-1zM23 19h1v1h-1zM28 19h1v1h-1zM42 19h1v1h-1zM44 19h2v1h-2zM49 19h1v1h-1zM-2 20h1v1h-1zM7 20h1v1h-1zM23 20h2v1h-2zM28 20h1v1h-1zM41 20h1v1h-1zM45 20h1v1h-1zM49 20h1v1h-1zM1 21h1v1h-1zM6 21h1v1h-1zM25 21h1v1h-1zM42 21h1v1h-1zM45 21h1v1h-1zM49 21h1v1h-1zM53 21h1v1h-1zM2 22h1v1h-1zM5 22h1v1h-1zM9 22h1v1h-1zM16 22h2v1h-2zM20 22h1v1h-1zM26 22h2v1h-2zM43 22h2v1h-2zM50 22h1v1h-1zM52 22h1v1h-1zM3 23h2v1h-2zM16 23h5v1h-5zM43 23h2v1h-2zM50 23h3v1h-3zM3 24h2v1h-2zM10 24h1v1h-1zM16 24h5v1h-5zM43 24h3v1h-3zM50 24h1v1h-1zM52 24h1v1h-1zM3 25h2v1h-2zM27 25h1v1h-1zM46 25h3v1h-3zM53 25h1v1h-1zM2 26h1v1h-1zM9 26h1v1h-1zM26 26h1v1h-1zM41 26h1v1h-1zM54 26h1v1h-1zM-2 27h1v1h-1zM1 27h1v1h-1zM9 27h1v1h-1zM22 27h1v1h-1zM29 27h1v1h-1zM40 27h1v1h-1zM57 27h1v1h-1zM-2 28h1v1h-1zM1 28h1v1h-1zM4 28h1v1h-1zM9 28h1v1h-1zM26 28h1v1h-1zM29 28h1v1h-1zM40 28h1v1h-1zM55 28h1v1h-1zM57 28h1v1h-1zM9 29h1v1h-1zM21 29h1v1h-1zM27 29h2v1h-2zM9 30h1v1h-1zM20 30h1v1h-1zM54 30h1v1h-1zM9 31h1v1h-1zM17 31h3v1h-3zM42 31h1v1h-1zM54 31h1v1h-1zM17 32h1v1h-1zM42 32h1v1h-1zM54 32h1v1h-1zM17 33h2v1h-2zM3 34h3v1h-3zM18 34h2v1h-2zM56 34h2v1h-2zM19 35h1v1h-1zM36 35h2v1h-2zM40 35h1v1h-1zM1 36h1v1h-1zM17 36h3v1h-3zM36 36h2v1h-2zM40 36h1v1h-1zM16 37h1v1h-1zM41 37h1v1h-1zM56 37h2v1h-2zM2 38h1v1h-1zM42 38h1v1h-1zM55 38h1v1h-1zM2 39h1v1h-1zM14 39h1v1h-1zM43 39h1v1h-1zM45 39h3v1h-3zM43 40h5v1h-5zM1 41h1v1h-1zM14 41h1v1h-1zM42 41h1v1h-1zM46 41h1v1h-1zM18 42h1v1h-1zM20 42h1v1h-1zM41 42h1v1h-1zM55 42h1v1h-1zM-2 43h3v1h-3zM15 43h3v1h-3zM21 43h1v1h-1zM36 43h5v1h-5zM56 43h2v1h-2zM-2 44h3v1h-3zM15 44h3v1h-3zM21 44h1v1h-1zM36 44h1v1h-1zM38 44h3v1h-3zM56 44h2v1h-2zM14 45h1v1h-1zM17 45h1v1h-1zM21 45h1v1h-1zM36 45h2v1h-2zM41 45h1v1h-1zM46 45h2v1h-2zM55 45h1v1h-1zM1 46h1v1h-1zM13 46h1v1h-1zM19 46h1v1h-1zM43 46h2v1h-2zM48 46h1v1h-1zM7 47h4v1h-4zM12 47h1v1h-1zM54 47h1v1h-1zM7 48h1v1h-1zM10 48h1v1h-1zM12 48h1v1h-1zM49 48h1v1h-1zM54 48h1v1h-1zM7 49h3v1h-3zM13 49h1v1h-1zM54 49h1v1h-1zM1 50h1v1h-1zM8 50h1v1h-1zM14 50h1v1h-1zM18 50h1v1h-1zM20 50h1v1h-1zM35 50h1v1h-1zM38 50h1v1h-1zM42 50h2v1h-2zM14 51h1v1h-1zM17 51h1v1h-1zM21 51h1v1h-1zM40 51h4v1h-4zM55 51h1v1h-1zM1 52h1v1h-1zM14 52h1v1h-1zM17 52h1v1h-1zM21 52h1v1h-1zM34 52h1v1h-1zM42 52h2v1h-2zM55 52h1v1h-1zM7 53h1v1h-1zM9 53h1v1h-1zM18 53h3v1h-3zM34 53h1v1h-1zM41 53h2v1h-2zM54 53h1v1h-1zM5 54h1v1h-1zM10 54h3v1h-3zM50 54h1v1h-1zM53 54h1v1h-1zM4 55h1v1h-1zM40 55h1v1h-1zM51 55h2v1h-2zM39 56h1v1h-1zM3 57h2v1h-2zM11 57h2v1h-2zM39 57h1v1h-1zM51 57h2v1h-2z"/><path fill="#facbb3" d="M6 -2h1v1h-1zM9 -2h1v1h-1zM12 -2h1v1h-1zM19 -2h2v1h-2zM53 -2h1v1h-1zM3 -1h1v1h-1zM6 -1h1v1h-1zM10 -1h3v1h-3zM51 -1h2v1h-2zM3 0h1v1h-1zM6 0h2v1h-2zM9 0h1v1h-1zM12 0h1v1h-1zM51 0h2v1h-2zM20 1h1v1h-1zM33 1h1v1h-1zM39 1h1v1h-1zM50 1h1v1h-1zM2 2h1v1h-1zM21 2h1v1h-1zM54 2h1v1h-1zM2 3h1v1h-1zM14 3h1v1h-1zM18 3h1v1h-1zM40 3h1v1h-1zM49 3h1v1h-1zM55 3h1v1h-1zM57 3h1v1h-1zM2 4h1v1h-1zM14 4h1v1h-1zM22 4h1v1h-1zM40 4h1v1h-1zM49 4h1v1h-1zM57 4h1v1h-1zM14 5h1v1h-1zM18 5h1v1h-1zM33 5h1v1h-1zM54 5h1v1h-1zM3 6h1v1h-1zM19 6h1v1h-1zM21 6h1v1h-1zM39 6h1v1h-1zM50 6h1v1h-1zM4 7h1v1h-1zM6 7h1v1h-1zM19 7h2v1h-2zM34 7h1v1h-1zM53 7h1v1h-1zM4 8h4v1h-4zM19 8h3v1h-3zM53 8h1v1h-1zM3 9h1v1h-1zM14 9h1v1h-1zM18 9h1v1h-1zM50 9h1v1h-1zM15 10h3v1h-3zM54 10h1v1h-1zM24 11h1v1h-1zM40 11h1v1h-1zM42 11h2v1h-2zM49 11h1v1h-1zM54 11h1v1h-1zM57 11h1v1h-1zM-2 12h1v1h-1zM24 12h2v1h-2zM40 12h5v1h-5zM49 12h1v1h-1zM54 12h1v1h-1zM57 12h1v1h-1zM16 13h1v1h-1zM24 13h1v1h-1zM39 13h1v1h-1zM2 14h1v1h-1zM6 14h2v1h-2zM15 14h1v1h-1zM17 14h2v1h-2zM23 14h1v1h-1zM38 14h1v1h-1zM50 14h1v1h-1zM53 14h1v1h-1zM5 15h1v1h-1zM8 15h1v1h-1zM15 15h1v1h-1zM18 15h1v1h-1zM21 15h2v1h-2zM51 15h2v1h-2zM2 16h1v1h-1zM5 16h1v1h-1zM8 16h1v1h-1zM15 16h1v1h-1zM18 16h1v1h-1zM21 16h2v1h-2zM51 16h2v1h-2zM6 17h1v1h-1zM8 17h1v1h-1zM16 17h2v1h-2zM22 17h5v1h-5zM50 17h1v1h-1zM53 17h1v1h-1zM1 18h1v1h-1zM7 18h1v1h-1zM42 18h3v1h-3zM49 18h1v1h-1zM-2 19h3v1h-3zM41 19h1v1h-1zM46 19h1v1h-1zM48 19h1v1h-1zM54 19h1v1h-1zM57 19h1v1h-1zM-1 20h2v1h-2zM46 20h1v1h-1zM48 20h1v1h-1zM54 20h1v1h-1zM57 20h1v1h-1zM-2 21h1v1h-1zM7 21h2v1h-2zM22 21h3v1h-3zM28 21h1v1h-1zM41 21h1v1h-1zM46 21h1v1h-1zM21 22h1v1h-1zM25 22h1v1h-1zM42 22h1v1h-1zM45 22h1v1h-1zM49 22h1v1h-1zM53 22h1v1h-1zM2 23h1v1h-1zM5 23h1v1h-1zM26 23h2v1h-2zM42 23h1v1h-1zM45 23h1v1h-1zM2 24h1v1h-1zM26 24h2v1h-2zM42 24h1v1h-1zM46 24h1v1h-1zM49 24h1v1h-1zM53 24h1v1h-1zM2 25h1v1h-1zM5 25h1v1h-1zM9 25h1v1h-1zM21 25h1v1h-1zM26 25h1v1h-1zM28 25h1v1h-1zM41 25h1v1h-1zM-2 26h1v1h-1zM1 26h1v1h-1zM5 26h1v1h-1zM22 26h1v1h-1zM25 26h1v1h-1zM29 26h1v1h-1zM57 26h1v1h-1zM-1 27h2v1h-2zM5 27h1v1h-1zM25 27h1v1h-1zM39 27h1v1h-1zM55 27h2v1h-2zM-1 28h2v1h-2zM22 28h1v1h-1zM25 28h1v1h-1zM37 28h1v1h-1zM39 28h1v1h-1zM56 28h1v1h-1zM-2 29h1v1h-1zM2 29h2v1h-2zM26 29h1v1h-1zM29 29h1v1h-1zM40 29h1v1h-1zM55 29h3v1h-3zM41 30h1v1h-1zM18 32h2v1h-2zM41 32h1v1h-1zM7 33h1v1h-1zM19 33h1v1h-1zM41 33h1v1h-1zM55 33h1v1h-1zM-2 34h1v1h-1zM2 34h1v1h-1zM36 34h2v1h-2zM40 34h1v1h-1zM-2 35h2v1h-2zM1 35h1v1h-1zM20 35h1v1h-1zM27 35h2v1h-2zM35 35h1v1h-1zM38 35h2v1h-2zM-2 36h3v1h-3zM20 36h1v1h-1zM27 36h2v1h-2zM35 36h1v1h-1zM38 36h2v1h-2zM-2 37h1v1h-1zM1 37h1v1h-1zM17 37h3v1h-3zM36 37h2v1h-2zM40 37h1v1h-1zM15 38h1v1h-1zM41 38h1v1h-1zM56 38h2v1h-2zM42 39h1v1h-1zM55 39h1v1h-1zM14 40h1v1h-1zM42 40h1v1h-1zM55 40h1v1h-1zM18 41h3v1h-3zM41 41h1v1h-1zM55 41h1v1h-1zM-2 42h3v1h-3zM15 42h3v1h-3zM21 42h1v1h-1zM36 42h5v1h-5zM56 42h2v1h-2zM22 43h1v1h-1zM35 43h1v1h-1zM22 44h1v1h-1zM35 44h1v1h-1zM-2 45h3v1h-3zM15 45h2v1h-2zM38 45h3v1h-3zM56 45h2v1h-2zM14 46h1v1h-1zM18 46h1v1h-1zM20 46h1v1h-1zM42 46h1v1h-1zM45 46h3v1h-3zM55 46h1v1h-1zM1 47h1v1h-1zM13 47h1v1h-1zM19 47h1v1h-1zM43 47h2v1h-2zM8 48h2v1h-2zM13 48h1v1h-1zM19 48h1v1h-1zM1 49h1v1h-1zM14 49h1v1h-1zM18 49h3v1h-3zM36 49h2v1h-2zM43 49h1v1h-1zM-2 50h1v1h-1zM0 50h1v1h-1zM15 50h3v1h-3zM21 50h1v1h-1zM39 50h3v1h-3zM44 50h1v1h-1zM48 50h1v1h-1zM55 50h1v1h-1zM57 50h1v1h-1zM-2 51h3v1h-3zM15 51h2v1h-2zM34 51h1v1h-1zM44 51h1v1h-1zM48 51h1v1h-1zM56 51h2v1h-2zM-2 52h3v1h-3zM15 52h2v1h-2zM56 52h2v1h-2zM1 53h1v1h-1zM8 53h1v1h-1zM14 53h1v1h-1zM17 53h1v1h-1zM21 53h1v1h-1zM49 53h1v1h-1zM2 54h1v1h-1zM6 54h1v1h-1zM13 54h1v1h-1zM18 54h3v1h-3zM34 54h1v1h-1zM41 54h1v1h-1zM3 55h1v1h-1zM5 55h1v1h-1zM11 55h2v1h-2zM34 55h1v1h-1zM53 55h1v1h-1zM3 56h2v1h-2zM11 56h2v1h-2zM34 56h1v1h-1zM40 56h1v1h-1zM51 56h2v1h-2zM2 57h1v1h-1zM5 57h1v1h-1zM10 57h1v1h-1zM13 57h1v1h-1zM19 57h2v1h-2zM34 57h1v1h-1zM40 57h1v1h-1zM50 57h1v1h-1zM53 57h1v1h-1z"/><path fill="#f7b799" d="M2 -2h1v1h-1zM7 -2h2v1h-2zM13 -2h1v1h-1zM18 -2h1v1h-1zM21 -2h1v1h-1zM33 -2h1v1h-1zM50 -2h1v1h-1zM7 -1h3v1h-3zM19 -1h2v1h-2zM50 -1h1v1h-1zM53 -1h1v1h-1zM8 0h1v1h-1zM19 0h2v1h-2zM33 0h1v1h-1zM50 0h1v1h-1zM53 0h1v1h-1zM2 1h1v1h-1zM13 1h1v1h-1zM19 1h1v1h-1zM21 1h1v1h-1zM54 1h1v1h-1zM18 2h1v1h-1zM40 2h1v1h-1zM49 2h1v1h-1zM55 2h1v1h-1zM57 2h1v1h-1zM-2 3h1v1h-1zM17 3h1v1h-1zM22 3h1v1h-1zM56 3h1v1h-1zM-2 4h1v1h-1zM17 4h1v1h-1zM55 4h2v1h-2zM2 5h1v1h-1zM17 5h1v1h-1zM22 5h1v1h-1zM40 5h1v1h-1zM49 5h1v1h-1zM55 5h1v1h-1zM57 5h1v1h-1zM14 6h1v1h-1zM18 6h1v1h-1zM54 6h1v1h-1zM3 7h1v1h-1zM18 7h1v1h-1zM21 7h1v1h-1zM39 7h1v1h-1zM50 7h1v1h-1zM3 8h1v1h-1zM14 8h1v1h-1zM18 8h1v1h-1zM34 8h1v1h-1zM39 8h1v1h-1zM50 8h1v1h-1zM17 9h1v1h-1zM22 9h1v1h-1zM39 9h1v1h-1zM2 10h1v1h-1zM23 10h1v1h-1zM40 10h1v1h-1zM49 10h1v1h-1zM57 10h1v1h-1zM-2 11h1v1h-1zM1 11h1v1h-1zM25 11h2v1h-2zM41 11h1v1h-1zM44 11h2v1h-2zM48 11h1v1h-1zM55 11h2v1h-2zM1 12h1v1h-1zM26 12h2v1h-2zM45 12h1v1h-1zM48 12h1v1h-1zM56 12h1v1h-1zM-2 13h1v1h-1zM1 13h1v1h-1zM25 13h2v1h-2zM35 13h1v1h-1zM40 13h5v1h-5zM49 13h1v1h-1zM54 13h1v1h-1zM57 13h1v1h-1zM16 14h1v1h-1zM24 14h2v1h-2zM36 14h1v1h-1zM2 15h1v1h-1zM6 15h2v1h-2zM16 15h2v1h-2zM23 15h2v1h-2zM37 15h1v1h-1zM50 15h1v1h-1zM53 15h1v1h-1zM6 16h2v1h-2zM16 16h2v1h-2zM23 16h4v1h-4zM50 16h1v1h-1zM53 16h1v1h-1zM1 17h1v1h-1zM7 17h1v1h-1zM27 17h1v1h-1zM42 17h3v1h-3zM-2 18h3v1h-3zM28 18h1v1h-1zM38 18h1v1h-1zM40 18h2v1h-2zM45 18h1v1h-1zM54 18h1v1h-1zM57 18h1v1h-1zM37 19h4v1h-4zM47 19h1v1h-1zM56 19h1v1h-1zM38 20h3v1h-3zM47 20h1v1h-1zM56 20h1v1h-1zM-1 21h2v1h-2zM40 21h1v1h-1zM47 21h2v1h-2zM54 21h1v1h-1zM57 21h1v1h-1zM1 22h1v1h-1zM6 22h1v1h-1zM8 22h1v1h-1zM22 22h1v1h-1zM24 22h1v1h-1zM28 22h1v1h-1zM41 22h1v1h-1zM46 22h1v1h-1zM48 22h1v1h-1zM9 23h1v1h-1zM21 23h1v1h-1zM25 23h1v1h-1zM28 23h1v1h-1zM46 23h1v1h-1zM49 23h1v1h-1zM53 23h1v1h-1zM5 24h1v1h-1zM9 24h1v1h-1zM21 24h1v1h-1zM28 24h1v1h-1zM41 24h1v1h-1zM47 24h2v1h-2zM1 25h1v1h-1zM22 25h1v1h-1zM25 25h1v1h-1zM54 25h1v1h-1zM-1 26h2v1h-2zM6 26h1v1h-1zM23 26h2v1h-2zM40 26h1v1h-1zM55 26h2v1h-2zM6 27h1v1h-1zM8 27h1v1h-1zM23 27h2v1h-2zM36 27h3v1h-3zM5 28h1v1h-1zM8 28h1v1h-1zM23 28h2v1h-2zM30 28h1v1h-1zM35 28h2v1h-2zM38 28h1v1h-1zM-1 29h3v1h-3zM4 29h1v1h-1zM22 29h1v1h-1zM25 29h1v1h-1zM36 29h4v1h-4zM21 30h1v1h-1zM27 30h2v1h-2zM40 30h1v1h-1zM55 30h3v1h-3zM20 31h1v1h-1zM41 31h1v1h-1zM55 31h1v1h-1zM8 32h1v1h-1zM20 32h1v1h-1zM55 32h1v1h-1zM3 33h4v1h-4zM20 33h1v1h-1zM40 33h1v1h-1zM56 33h2v1h-2zM-1 34h1v1h-1zM1 34h1v1h-1zM20 34h1v1h-1zM27 34h2v1h-2zM35 34h1v1h-1zM38 34h2v1h-2zM0 35h1v1h-1zM26 35h1v1h-1zM29 35h1v1h-1zM34 35h1v1h-1zM29 36h1v1h-1zM34 36h1v1h-1zM-1 37h2v1h-2zM20 37h1v1h-1zM35 37h1v1h-1zM38 37h2v1h-2zM1 38h1v1h-1zM16 38h4v1h-4zM36 38h2v1h-2zM40 38h1v1h-1zM1 39h1v1h-1zM15 39h1v1h-1zM41 39h1v1h-1zM56 39h2v1h-2zM1 40h1v1h-1zM19 40h1v1h-1zM41 40h1v1h-1zM57 40h1v1h-1zM-2 41h1v1h-1zM0 41h1v1h-1zM15 41h1v1h-1zM17 41h1v1h-1zM36 41h5v1h-5zM56 41h2v1h-2zM35 42h1v1h-1zM22 45h1v1h-1zM35 45h1v1h-1zM-2 46h1v1h-1zM0 46h1v1h-1zM15 46h3v1h-3zM21 46h1v1h-1zM36 46h3v1h-3zM40 46h2v1h-2zM56 46h2v1h-2zM14 47h1v1h-1zM18 47h1v1h-1zM20 47h1v1h-1zM36 47h2v1h-2zM42 47h1v1h-1zM45 47h1v1h-1zM48 47h1v1h-1zM55 47h1v1h-1zM1 48h1v1h-1zM14 48h1v1h-1zM18 48h1v1h-1zM20 48h1v1h-1zM36 48h2v1h-2zM42 48h3v1h-3zM48 48h1v1h-1zM55 48h1v1h-1zM0 49h1v1h-1zM15 49h1v1h-1zM17 49h1v1h-1zM21 49h1v1h-1zM35 49h1v1h-1zM38 49h1v1h-1zM41 49h2v1h-2zM44 49h1v1h-1zM48 49h1v1h-1zM55 49h1v1h-1zM-1 50h1v1h-1zM45 50h1v1h-1zM56 50h1v1h-1zM22 51h1v1h-1zM22 52h1v1h-1zM44 52h1v1h-1zM48 52h1v1h-1zM-2 53h3v1h-3zM15 53h2v1h-2zM43 53h1v1h-1zM55 53h3v1h-3zM1 54h1v1h-1zM7 54h3v1h-3zM14 54h1v1h-1zM21 54h1v1h-1zM42 54h1v1h-1zM54 54h1v1h-1zM2 55h1v1h-1zM6 55h1v1h-1zM10 55h1v1h-1zM13 55h1v1h-1zM18 55h3v1h-3zM41 55h1v1h-1zM50 55h1v1h-1zM2 56h1v1h-1zM5 56h1v1h-1zM10 56h1v1h-1zM13 56h1v1h-1zM18 56h3v1h-3zM41 56h1v1h-1zM50 56h1v1h-1zM53 56h1v1h-1zM6 57h1v1h-1zM9 57h1v1h-1zM18 57h1v1h-1zM21 57h1v1h-1zM41 57h2v1h-2z"/><path fill="#f3a280" d="M14 -2h1v1h-1zM39 -2h1v1h-1zM49 -2h1v1h-1zM54 -2h1v1h-1zM57 -2h1v1h-1zM2 -1h1v1h-1zM13 -1h1v1h-1zM21 -1h1v1h-1zM33 -1h1v1h-1zM39 -1h1v1h-1zM54 -1h1v1h-1zM2 0h1v1h-1zM13 0h1v1h-1zM21 0h1v1h-1zM39 0h1v1h-1zM54 0h1v1h-1zM18 1h1v1h-1zM49 1h1v1h-1zM57 1h1v1h-1zM-2 2h1v1h-1zM14 2h1v1h-1zM22 2h1v1h-1zM56 2h1v1h-1zM1 3h1v1h-1zM15 3h2v1h-2zM23 3h1v1h-1zM32 3h1v1h-1zM41 3h1v1h-1zM48 3h1v1h-1zM1 4h1v1h-1zM15 4h2v1h-2zM23 4h1v1h-1zM32 4h1v1h-1zM41 4h1v1h-1zM48 4h1v1h-1zM-2 5h1v1h-1zM15 5h2v1h-2zM56 5h1v1h-1zM17 6h1v1h-1zM22 6h1v1h-1zM33 6h1v1h-1zM49 6h1v1h-1zM57 6h1v1h-1zM14 7h1v1h-1zM54 7h1v1h-1zM17 8h1v1h-1zM22 8h1v1h-1zM54 8h1v1h-1zM2 9h1v1h-1zM15 9h2v1h-2zM23 9h1v1h-1zM34 9h1v1h-1zM49 9h1v1h-1zM54 9h1v1h-1zM57 9h1v1h-1zM-2 10h1v1h-1zM24 10h2v1h-2zM34 10h1v1h-1zM41 10h4v1h-4zM48 10h1v1h-1zM55 10h2v1h-2zM-1 11h2v1h-2zM27 11h1v1h-1zM34 11h1v1h-1zM46 11h2v1h-2zM-1 12h2v1h-2zM46 12h2v1h-2zM55 12h1v1h-1zM-1 13h2v1h-2zM27 13h1v1h-1zM45 13h2v1h-2zM48 13h1v1h-1zM56 13h1v1h-1zM-2 14h1v1h-1zM1 14h1v1h-1zM26 14h2v1h-2zM39 14h6v1h-6zM49 14h1v1h-1zM54 14h1v1h-1zM57 14h1v1h-1zM25 15h2v1h-2zM36 15h1v1h-1zM38 15h1v1h-1zM43 15h1v1h-1zM1 16h1v1h-1zM27 16h1v1h-1zM37 16h2v1h-2zM43 16h1v1h-1zM-2 17h1v1h-1zM0 17h1v1h-1zM28 17h1v1h-1zM37 17h2v1h-2zM41 17h1v1h-1zM45 17h1v1h-1zM49 17h1v1h-1zM57 17h1v1h-1zM37 18h1v1h-1zM39 18h1v1h-1zM46 18h3v1h-3zM56 18h1v1h-1zM29 19h1v1h-1zM36 19h1v1h-1zM55 19h1v1h-1zM29 20h1v1h-1zM37 20h1v1h-1zM55 20h1v1h-1zM29 21h1v1h-1zM38 21h2v1h-2zM55 21h2v1h-2zM-2 22h3v1h-3zM7 22h1v1h-1zM23 22h1v1h-1zM40 22h1v1h-1zM47 22h1v1h-1zM54 22h1v1h-1zM57 22h1v1h-1zM1 23h1v1h-1zM6 23h1v1h-1zM8 23h1v1h-1zM22 23h1v1h-1zM41 23h1v1h-1zM47 23h2v1h-2zM1 24h1v1h-1zM6 24h1v1h-1zM22 24h1v1h-1zM25 24h1v1h-1zM54 24h1v1h-1zM-2 25h3v1h-3zM6 25h1v1h-1zM8 25h1v1h-1zM23 25h2v1h-2zM29 25h1v1h-1zM40 25h1v1h-1zM55 25h1v1h-1zM57 25h1v1h-1zM7 26h2v1h-2zM36 26h4v1h-4zM7 27h1v1h-1zM30 27h1v1h-1zM35 27h1v1h-1zM6 28h2v1h-2zM5 29h1v1h-1zM8 29h1v1h-1zM23 29h2v1h-2zM30 29h1v1h-1zM35 29h1v1h-1zM-2 30h1v1h-1zM1 30h3v1h-3zM8 30h1v1h-1zM26 30h1v1h-1zM29 30h1v1h-1zM36 30h4v1h-4zM8 31h1v1h-1zM21 31h1v1h-1zM27 31h2v1h-2zM40 31h1v1h-1zM56 31h2v1h-2zM27 32h2v1h-2zM40 32h1v1h-1zM56 32h2v1h-2zM-2 33h1v1h-1zM1 33h2v1h-2zM27 33h2v1h-2zM35 33h5v1h-5zM0 34h1v1h-1zM21 34h1v1h-1zM26 34h1v1h-1zM29 34h1v1h-1zM34 34h1v1h-1zM21 35h1v1h-1zM21 36h1v1h-1zM26 36h1v1h-1zM27 37h2v1h-2zM34 37h1v1h-1zM-2 38h3v1h-3zM20 38h1v1h-1zM35 38h1v1h-1zM38 38h2v1h-2zM16 39h4v1h-4zM36 39h2v1h-2zM40 39h1v1h-1zM-2 40h1v1h-1zM0 40h1v1h-1zM15 40h4v1h-4zM20 40h1v1h-1zM36 40h3v1h-3zM40 40h1v1h-1zM56 40h1v1h-1zM-1 41h1v1h-1zM16 41h1v1h-1zM21 41h1v1h-1zM35 41h1v1h-1zM22 42h1v1h-1zM26 42h2v1h-2zM23 43h5v1h-5zM34 43h1v1h-1zM23 44h5v1h-5zM34 44h1v1h-1zM-1 46h1v1h-1zM22 46h1v1h-1zM35 46h1v1h-1zM39 46h1v1h-1zM-2 47h1v1h-1zM0 47h1v1h-1zM15 47h3v1h-3zM21 47h1v1h-1zM38 47h1v1h-1zM41 47h1v1h-1zM46 47h2v1h-2zM56 47h2v1h-2zM-2 48h1v1h-1zM0 48h1v1h-1zM15 48h3v1h-3zM21 48h1v1h-1zM35 48h1v1h-1zM38 48h1v1h-1zM41 48h1v1h-1zM45 48h3v1h-3zM57 48h1v1h-1zM-2 49h2v1h-2zM16 49h1v1h-1zM39 49h2v1h-2zM45 49h3v1h-3zM56 49h2v1h-2zM22 50h1v1h-1zM34 50h1v1h-1zM46 50h2v1h-2zM45 51h1v1h-1zM47 51h1v1h-1zM33 52h1v1h-1zM22 53h1v1h-1zM33 53h1v1h-1zM-2 54h1v1h-1zM15 54h3v1h-3zM43 54h1v1h-1zM49 54h1v1h-1zM55 54h1v1h-1zM57 54h1v1h-1zM1 55h1v1h-1zM7 55h3v1h-3zM14 55h1v1h-1zM21 55h1v1h-1zM42 55h1v1h-1zM54 55h1v1h-1zM6 56h1v1h-1zM9 56h1v1h-1zM21 56h1v1h-1zM42 56h1v1h-1zM54 56h1v1h-1zM-2 57h1v1h-1zM1 57h1v1h-1zM7 57h2v1h-2zM14 57h1v1h-1zM17 57h1v1h-1zM43 57h1v1h-1zM54 57h1v1h-1z"/><path fill="#e8896c" d="M-2 -2h1v1h-1zM1 -2h1v1h-1zM17 -2h1v1h-1zM22 -2h1v1h-1zM40 -2h3v1h-3zM55 -2h2v1h-2zM18 -1h1v1h-1zM49 -1h1v1h-1zM57 -1h1v1h-1zM18 0h1v1h-1zM49 0h1v1h-1zM57 0h1v1h-1zM-2 1h1v1h-1zM14 1h1v1h-1zM22 1h1v1h-1zM40 1h1v1h-1zM55 1h2v1h-2zM-1 2h1v1h-1zM1 2h1v1h-1zM15 2h1v1h-1zM17 2h1v1h-1zM23 2h1v1h-1zM32 2h1v1h-1zM41 2h2v1h-2zM48 2h1v1h-1zM-1 3h2v1h-2zM42 3h1v1h-1zM-1 4h1v1h-1zM42 4h1v1h-1zM23 5h1v1h-1zM41 5h2v1h-2zM48 5h1v1h-1zM-2 6h1v1h-1zM2 6h1v1h-1zM15 6h2v1h-2zM40 6h1v1h-1zM55 6h2v1h-2zM2 7h1v1h-1zM15 7h1v1h-1zM17 7h1v1h-1zM22 7h1v1h-1zM49 7h1v1h-1zM57 7h1v1h-1zM2 8h1v1h-1zM15 8h2v1h-2zM49 8h1v1h-1zM57 8h1v1h-1zM-2 9h1v1h-1zM40 9h4v1h-4zM55 9h2v1h-2zM-1 10h1v1h-1zM1 10h1v1h-1zM26 10h2v1h-2zM45 10h3v1h-3zM28 12h1v1h-1zM34 12h1v1h-1zM28 13h1v1h-1zM47 13h1v1h-1zM55 13h1v1h-1zM-1 14h2v1h-2zM35 14h1v1h-1zM45 14h2v1h-2zM48 14h1v1h-1zM-2 15h1v1h-1zM1 15h1v1h-1zM27 15h1v1h-1zM39 15h4v1h-4zM44 15h2v1h-2zM49 15h1v1h-1zM54 15h1v1h-1zM57 15h1v1h-1zM-2 16h1v1h-1zM36 16h1v1h-1zM39 16h1v1h-1zM41 16h2v1h-2zM44 16h2v1h-2zM49 16h1v1h-1zM54 16h1v1h-1zM57 16h1v1h-1zM-1 17h1v1h-1zM36 17h1v1h-1zM39 17h2v1h-2zM46 17h3v1h-3zM54 17h1v1h-1zM29 18h1v1h-1zM36 18h1v1h-1zM55 18h1v1h-1zM36 20h1v1h-1zM37 21h1v1h-1zM29 22h1v1h-1zM39 22h1v1h-1zM55 22h2v1h-2zM-2 23h3v1h-3zM7 23h1v1h-1zM23 23h2v1h-2zM40 23h1v1h-1zM54 23h1v1h-1zM57 23h1v1h-1zM-2 24h3v1h-3zM7 24h2v1h-2zM23 24h2v1h-2zM29 24h1v1h-1zM40 24h1v1h-1zM57 24h1v1h-1zM7 25h1v1h-1zM37 25h3v1h-3zM56 25h1v1h-1zM30 26h1v1h-1zM35 26h1v1h-1zM34 27h1v1h-1zM31 28h1v1h-1zM34 28h1v1h-1zM7 29h1v1h-1zM34 29h1v1h-1zM-1 30h2v1h-2zM4 30h1v1h-1zM22 30h1v1h-1zM25 30h1v1h-1zM35 30h1v1h-1zM-2 31h1v1h-1zM1 31h3v1h-3zM26 31h1v1h-1zM29 31h1v1h-1zM36 31h4v1h-4zM-2 32h1v1h-1zM1 32h4v1h-4zM7 32h1v1h-1zM21 32h1v1h-1zM26 32h1v1h-1zM29 32h1v1h-1zM35 32h5v1h-5zM-1 33h2v1h-2zM21 33h1v1h-1zM26 33h1v1h-1zM29 33h1v1h-1zM30 34h1v1h-1zM25 35h1v1h-1zM30 35h1v1h-1zM33 35h1v1h-1zM25 36h1v1h-1zM30 36h1v1h-1zM33 36h1v1h-1zM21 37h1v1h-1zM26 37h1v1h-1zM29 37h1v1h-1zM27 38h2v1h-2zM-2 39h3v1h-3zM20 39h1v1h-1zM35 39h1v1h-1zM38 39h2v1h-2zM-1 40h1v1h-1zM21 40h1v1h-1zM35 40h1v1h-1zM39 40h1v1h-1zM22 41h1v1h-1zM27 41h1v1h-1zM23 42h3v1h-3zM28 42h1v1h-1zM34 42h1v1h-1zM28 43h1v1h-1zM23 45h2v1h-2zM34 45h1v1h-1zM-1 47h1v1h-1zM35 47h1v1h-1zM39 47h2v1h-2zM-1 48h1v1h-1zM39 48h2v1h-2zM56 48h1v1h-1zM22 49h1v1h-1zM34 49h1v1h-1zM23 50h1v1h-1zM23 51h1v1h-1zM33 51h1v1h-1zM46 51h1v1h-1zM23 52h1v1h-1zM45 52h1v1h-1zM47 52h1v1h-1zM44 53h1v1h-1zM48 53h1v1h-1zM-1 54h2v1h-2zM22 54h1v1h-1zM33 54h1v1h-1zM56 54h1v1h-1zM-2 55h1v1h-1zM15 55h3v1h-3zM43 55h1v1h-1zM49 55h1v1h-1zM55 55h1v1h-1zM57 55h1v1h-1zM-2 56h1v1h-1zM1 56h1v1h-1zM7 56h2v1h-2zM14 56h4v1h-4zM43 56h1v1h-1zM49 56h1v1h-1zM57 56h1v1h-1zM-1 57h2v1h-2zM15 57h2v1h-2zM22 57h1v1h-1zM33 57h1v1h-1zM44 57h1v1h-1zM49 57h1v1h-1zM55 57h3v1h-3z"/><path fill="#dd6f59" d="M-1 -2h2v1h-2zM15 -2h2v1h-2zM23 -2h1v1h-1zM32 -2h1v1h-1zM43 -2h2v1h-2zM48 -2h1v1h-1zM-2 -1h1v1h-1zM1 -1h1v1h-1zM14 -1h1v1h-1zM17 -1h1v1h-1zM22 -1h1v1h-1zM40 -1h2v1h-2zM55 -1h2v1h-2zM-2 0h1v1h-1zM1 0h1v1h-1zM14 0h1v1h-1zM22 0h1v1h-1zM40 0h1v1h-1zM55 0h2v1h-2zM-1 1h1v1h-1zM1 1h1v1h-1zM17 1h1v1h-1zM32 1h1v1h-1zM41 1h1v1h-1zM0 2h1v1h-1zM16 2h1v1h-1zM43 2h1v1h-1zM24 3h4v1h-4zM31 3h1v1h-1zM43 3h1v1h-1zM47 3h1v1h-1zM0 4h1v1h-1zM24 4h4v1h-4zM43 4h1v1h-1zM47 4h1v1h-1zM-1 5h1v1h-1zM1 5h1v1h-1zM24 5h1v1h-1zM32 5h1v1h-1zM43 5h1v1h-1zM23 6h1v1h-1zM41 6h2v1h-2zM48 6h1v1h-1zM-2 7h1v1h-1zM16 7h1v1h-1zM23 7h1v1h-1zM33 7h1v1h-1zM40 7h1v1h-1zM55 7h2v1h-2zM-2 8h1v1h-1zM23 8h1v1h-1zM40 8h2v1h-2zM55 8h2v1h-2zM1 9h1v1h-1zM24 9h2v1h-2zM44 9h1v1h-1zM48 9h1v1h-1zM0 10h1v1h-1zM28 11h1v1h-1zM34 13h1v1h-1zM28 14h1v1h-1zM47 14h1v1h-1zM55 14h2v1h-2zM-1 15h2v1h-2zM28 15h1v1h-1zM46 15h1v1h-1zM48 15h1v1h-1zM-1 16h2v1h-2zM28 16h1v1h-1zM40 16h1v1h-1zM46 16h3v1h-3zM55 17h2v1h-2zM35 19h1v1h-1zM35 20h1v1h-1zM36 21h1v1h-1zM37 22h2v1h-2zM29 23h1v1h-1zM39 23h1v1h-1zM55 23h2v1h-2zM38 24h2v1h-2zM55 24h2v1h-2zM30 25h1v1h-1zM36 25h1v1h-1zM31 27h1v1h-1zM33 27h1v1h-1zM32 28h2v1h-2zM6 29h1v1h-1zM31 29h1v1h-1zM33 29h1v1h-1zM5 30h1v1h-1zM7 30h1v1h-1zM23 30h2v1h-2zM30 30h1v1h-1zM34 30h1v1h-1zM-1 31h2v1h-2zM4 31h1v1h-1zM7 31h1v1h-1zM22 31h1v1h-1zM25 31h1v1h-1zM35 31h1v1h-1zM-1 32h2v1h-2zM5 32h2v1h-2zM30 33h1v1h-1zM34 33h1v1h-1zM22 34h1v1h-1zM25 34h1v1h-1zM31 34h1v1h-1zM33 34h1v1h-1zM22 35h1v1h-1zM24 35h1v1h-1zM31 35h2v1h-2zM22 36h1v1h-1zM31 36h2v1h-2zM25 37h1v1h-1zM30 37h1v1h-1zM33 37h1v1h-1zM21 38h1v1h-1zM26 38h1v1h-1zM29 38h1v1h-1zM34 38h1v1h-1zM21 39h1v1h-1zM27 39h2v1h-2zM27 40h1v1h-1zM25 41h2v1h-2zM28 41h1v1h-1zM34 41h1v1h-1zM33 43h1v1h-1zM28 44h1v1h-1zM33 44h1v1h-1zM25 45h3v1h-3zM23 46h1v1h-1zM34 46h1v1h-1zM22 47h1v1h-1zM22 48h1v1h-1zM24 51h2v1h-2zM24 52h1v1h-1zM46 52h1v1h-1zM23 53h1v1h-1zM44 54h1v1h-1zM48 54h1v1h-1zM-1 55h2v1h-2zM22 55h1v1h-1zM33 55h1v1h-1zM56 55h1v1h-1zM-1 56h2v1h-2zM22 56h1v1h-1zM33 56h1v1h-1zM55 56h2v1h-2z"/><path fill="#d15548" d="M24 -2h5v1h-5zM31 -2h1v1h-1zM45 -2h1v1h-1zM47 -2h1v1h-1zM-1 -1h2v1h-2zM15 -1h2v1h-2zM23 -1h1v1h-1zM32 -1h1v1h-1zM42 -1h2v1h-2zM48 -1h1v1h-1zM-1 0h2v1h-2zM15 0h1v1h-1zM17 0h1v1h-1zM32 0h1v1h-1zM41 0h2v1h-2zM48 0h1v1h-1zM0 1h1v1h-1zM15 1h2v1h-2zM23 1h1v1h-1zM42 1h2v1h-2zM48 1h1v1h-1zM24 2h4v1h-4zM31 2h1v1h-1zM44 2h1v1h-1zM47 2h1v1h-1zM28 3h3v1h-3zM44 3h3v1h-3zM28 4h2v1h-2zM31 4h1v1h-1zM44 4h3v1h-3zM0 5h1v1h-1zM25 5h3v1h-3zM44 5h1v1h-1zM47 5h1v1h-1zM-1 6h1v1h-1zM1 6h1v1h-1zM24 6h1v1h-1zM43 6h1v1h-1zM41 7h3v1h-3zM48 7h1v1h-1zM24 8h1v1h-1zM33 8h1v1h-1zM42 8h3v1h-3zM48 8h1v1h-1zM-1 9h2v1h-2zM26 9h2v1h-2zM33 9h1v1h-1zM45 9h3v1h-3zM28 10h1v1h-1zM33 10h1v1h-1zM33 11h1v1h-1zM29 12h1v1h-1zM35 15h1v1h-1zM47 15h1v1h-1zM55 15h2v1h-2zM55 16h2v1h-2zM29 17h1v1h-1zM35 17h1v1h-1zM35 18h1v1h-1zM30 19h1v1h-1zM30 20h1v1h-1zM30 21h1v1h-1zM35 21h1v1h-1zM36 22h1v1h-1zM37 23h2v1h-2zM36 24h2v1h-2zM35 25h1v1h-1zM31 26h1v1h-1zM34 26h1v1h-1zM32 27h1v1h-1zM32 29h1v1h-1zM6 30h1v1h-1zM31 30h1v1h-1zM33 30h1v1h-1zM5 31h2v1h-2zM23 31h2v1h-2zM30 31h1v1h-1zM34 31h1v1h-1zM22 32h1v1h-1zM25 32h1v1h-1zM30 32h1v1h-1zM34 32h1v1h-1zM22 33h1v1h-1zM25 33h1v1h-1zM31 33h1v1h-1zM33 33h1v1h-1zM23 34h2v1h-2zM32 34h1v1h-1zM23 35h1v1h-1zM23 36h2v1h-2zM22 37h1v1h-1zM24 37h1v1h-1zM31 37h2v1h-2zM22 38h1v1h-1zM25 38h1v1h-1zM26 39h1v1h-1zM34 39h1v1h-1zM22 40h1v1h-1zM26 40h1v1h-1zM28 40h1v1h-1zM34 40h1v1h-1zM23 41h2v1h-2zM29 42h1v1h-1zM33 42h1v1h-1zM29 43h1v1h-1zM29 44h1v1h-1zM28 45h1v1h-1zM24 46h3v1h-3zM23 47h1v1h-1zM34 47h1v1h-1zM23 48h1v1h-1zM34 48h1v1h-1zM23 49h1v1h-1zM24 50h3v1h-3zM33 50h1v1h-1zM26 51h2v1h-2zM25 52h3v1h-3zM32 52h1v1h-1zM24 53h1v1h-1zM32 53h1v1h-1zM45 53h1v1h-1zM47 53h1v1h-1zM23 54h1v1h-1zM44 55h1v1h-1zM44 56h1v1h-1zM23 57h1v1h-1zM32 57h1v1h-1zM45 57h1v1h-1zM48 57h1v1h-1z"/><path fill="#c33b3b" d="M29 -2h2v1h-2zM46 -2h1v1h-1zM24 -1h1v1h-1zM27 -1h1v1h-1zM44 -1h1v1h-1zM16 0h1v1h-1zM23 0h1v1h-1zM43 0h1v1h-1zM24 1h4v1h-4zM31 1h1v1h-1zM44 1h1v1h-1zM47 1h1v1h-1zM28 2h3v1h-3zM45 2h2v1h-2zM30 4h1v1h-1zM28 5h2v1h-2zM31 5h1v1h-1zM45 5h2v1h-2zM0 6h1v1h-1zM25 6h3v1h-3zM32 6h1v1h-1zM44 6h2v1h-2zM47 6h1v1h-1zM-1 7h1v1h-1zM1 7h1v1h-1zM24 7h3v1h-3zM44 7h1v1h-1zM47 7h1v1h-1zM-1 8h1v1h-1zM1 8h1v1h-1zM25 8h3v1h-3zM45 8h3v1h-3zM28 9h1v1h-1zM29 11h1v1h-1zM33 12h1v1h-1zM29 13h1v1h-1zM34 14h1v1h-1zM29 16h1v1h-1zM35 16h1v1h-1zM30 18h1v1h-1zM30 22h1v1h-1zM35 22h1v1h-1zM30 23h1v1h-1zM36 23h1v1h-1zM30 24h1v1h-1zM35 24h1v1h-1zM32 26h2v1h-2zM32 30h1v1h-1zM31 31h1v1h-1zM33 31h1v1h-1zM23 32h2v1h-2zM31 32h1v1h-1zM33 32h1v1h-1zM23 33h2v1h-2zM32 33h1v1h-1zM23 37h1v1h-1zM23 38h2v1h-2zM30 38h1v1h-1zM33 38h1v1h-1zM22 39h1v1h-1zM25 39h1v1h-1zM29 39h1v1h-1zM23 40h3v1h-3zM29 40h1v1h-1zM29 41h1v1h-1zM33 41h1v1h-1zM30 42h1v1h-1zM30 43h1v1h-1zM32 43h1v1h-1zM33 45h1v1h-1zM27 46h1v1h-1zM24 47h2v1h-2zM24 48h1v1h-1zM24 49h3v1h-3zM33 49h1v1h-1zM27 50h1v1h-1zM28 51h1v1h-1zM32 51h1v1h-1zM28 52h1v1h-1zM25 53h2v1h-2zM46 53h1v1h-1zM32 54h1v1h-1zM45 54h1v1h-1zM23 55h1v1h-1zM48 55h1v1h-1zM23 56h1v1h-1zM32 56h1v1h-1zM48 56h1v1h-1zM24 57h5v1h-5zM31 57h1v1h-1zM46 57h2v1h-2z"/><path fill="#b6202f" d="M25 -1h2v1h-2zM28 -1h4v1h-4zM45 -1h3v1h-3zM24 0h5v1h-5zM31 0h1v1h-1zM44 0h2v1h-2zM47 0h1v1h-1zM28 1h3v1h-3zM45 1h2v1h-2zM30 5h1v1h-1zM28 6h1v1h-1zM46 6h1v1h-1zM0 7h1v1h-1zM27 7h1v1h-1zM32 7h1v1h-1zM45 7h2v1h-2zM0 8h1v1h-1zM29 10h1v1h-1zM33 13h1v1h-1zM29 14h1v1h-1zM29 15h1v1h-1zM34 18h1v1h-1zM34 19h1v1h-1zM31 20h1v1h-1zM34 20h1v1h-1zM34 21h1v1h-1zM35 23h1v1h-1zM31 25h1v1h-1zM34 25h1v1h-1zM32 31h1v1h-1zM32 32h1v1h-1zM31 38h2v1h-2zM23 39h2v1h-2zM30 39h1v1h-1zM33 39h1v1h-1zM33 40h1v1h-1zM30 41h1v1h-1zM31 42h2v1h-2zM31 43h1v1h-1zM30 44h3v1h-3zM29 45h1v1h-1zM28 46h1v1h-1zM33 46h1v1h-1zM26 47h2v1h-2zM25 48h3v1h-3zM27 49h1v1h-1zM28 50h1v1h-1zM32 50h1v1h-1zM29 51h1v1h-1zM31 51h1v1h-1zM29 52h3v1h-3zM27 53h2v1h-2zM31 53h1v1h-1zM24 54h1v1h-1zM46 54h2v1h-2zM32 55h1v1h-1zM45 55h1v1h-1zM24 56h1v1h-1zM45 56h1v1h-1zM29 57h2v1h-2z"/><path fill="#9f1228" d="M29 0h2v1h-2zM46 0h1v1h-1zM29 6h3v1h-3zM28 7h1v1h-1zM28 8h1v1h-1zM32 8h1v1h-1zM29 9h1v1h-1zM32 9h1v1h-1zM30 10h1v1h-1zM32 10h1v1h-1zM30 11h3v1h-3zM30 12h1v1h-1zM32 12h1v1h-1zM30 13h1v1h-1zM34 15h1v1h-1zM30 17h1v1h-1zM34 17h1v1h-1zM31 19h1v1h-1zM33 19h1v1h-1zM33 20h1v1h-1zM31 21h1v1h-1zM31 22h1v1h-1zM34 22h1v1h-1zM31 24h1v1h-1zM34 24h1v1h-1zM32 25h2v1h-2zM31 39h2v1h-2zM30 40h1v1h-1zM32 40h1v1h-1zM31 41h2v1h-2zM30 45h1v1h-1zM32 45h1v1h-1zM28 47h1v1h-1zM33 47h1v1h-1zM33 48h1v1h-1zM28 49h1v1h-1zM29 50h1v1h-1zM30 51h1v1h-1zM29 53h2v1h-2zM25 54h4v1h-4zM31 54h1v1h-1zM24 55h2v1h-2zM46 55h2v1h-2zM25 56h4v1h-4zM31 56h1v1h-1zM46 56h2v1h-2z"/><path fill="#830923" d="M29 7h1v1h-1zM31 7h1v1h-1zM29 8h1v1h-1zM30 9h1v1h-1zM31 10h1v1h-1zM31 12h1v1h-1zM32 13h1v1h-1zM30 14h1v1h-1zM33 14h1v1h-1zM30 16h1v1h-1zM34 16h1v1h-1zM31 18h1v1h-1zM33 18h1v1h-1zM32 19h1v1h-1zM32 20h1v1h-1zM32 21h2v1h-2zM31 23h1v1h-1zM34 23h1v1h-1zM32 24h2v1h-2zM31 40h1v1h-1zM31 45h1v1h-1zM29 46h1v1h-1zM32 46h1v1h-1zM28 48h1v1h-1zM29 49h1v1h-1zM32 49h1v1h-1zM30 50h2v1h-2zM29 54h2v1h-2zM26 55h6v1h-6zM29 56h2v1h-2z"/><path fill="#67001f" d="M30 7h1v1h-1zM30 8h2v1h-2zM31 9h1v1h-1zM31 13h1v1h-1zM31 14h2v1h-2zM30 15h4v1h-4zM31 16h3v1h-3zM31 17h3v1h-3zM32 18h1v1h-1zM32 22h2v1h-2zM32 23h2v1h-2zM30 46h2v1h-2zM29 47h4v1h-4zM29 48h4v1h-4zM30 49h2v1h-2z"/></g></svg>
<svg style="left:165.2px;top:682.9px" width="270.5" height="272.8"><rect x="1.35" y="1.35" width="267.8" height="270.1" fill="none" stroke="#000" stroke-width="2.7"/></svg>
<svg style="left:700.0px;top:673.7px" width="270.5" height="272.8"><defs><linearGradient id="g711_2h" x1="0" x2="1" y1="0" y2="0"><stop offset="0.000" stop-color="#f9ece3"/><stop offset="0.062" stop-color="#d5e7f1"/><stop offset="0.125" stop-color="#63a7ce"/><stop offset="0.188" stop-color="#9fcce2"/><stop offset="0.250" stop-color="#f7f5f3"/><stop offset="0.312" stop-color="#fddcc9"/><stop offset="0.375" stop-color="#f9efe8"/><stop offset="0.438" stop-color="#f5ac8b"/><stop offset="0.500" stop-color="#aa162a"/><stop offset="0.562" stop-color="#f4a683"/><stop offset="0.625" stop-color="#3581ba"/><stop offset="0.688" stop-color="#4795c4"/><stop offset="0.750" stop-color="#f9c4aa"/><stop offset="0.812" stop-color="#c94741"/><stop offset="0.875" stop-color="#f8f3f1"/><stop offset="0.938" stop-color="#c1ddeb"/><stop offset="1.000" stop-color="#e2edf3"/></linearGradient><linearGradient id="g711_2v" x1="0" x2="0" y1="0" y2="1"><stop offset="0.000" stop-color="#f8f2ef"/><stop offset="0.062" stop-color="#fddbc8"/><stop offset="0.125" stop-color="#f9c2a8"/><stop offset="0.188" stop-color="#fcdecc"/><stop offset="0.250" stop-color="#f6f7f7"/><stop offset="0.312" stop-color="#e1edf3"/><stop offset="0.375" stop-color="#ddebf2"/><stop offset="0.438" stop-color="#e3eef3"/><stop offset="0.500" stop-color="#eef3f5"/><stop offset="0.562" stop-color="#f8f2ef"/><stop offset="0.625" stop-color="#f7f6f6"/><stop offset="0.688" stop-color="#d8e8f1"/><stop offset="0.750" stop-color="#a8d0e4"/><stop offset="0.812" stop-color="#96c7df"/><stop offset="0.875" stop-color="#aad1e5"/><stop offset="0.938" stop-color="#c7e0ed"/><stop offset="1.000" stop-color="#dceaf2"/></linearGradient></defs><rect x="1.35" y="1.35" width="267.8" height="270.1" fill="url(#g711_2h)"/><rect x="1.35" y="5.35" width="9" height="266.1" fill="url(#g711_2v)"/><rect x="1.35" y="1.35" width="267.8" height="270.1" fill="none" stroke="#000" stroke-width="2.7"/></svg><svg style="left:705.5px;top:678.3px" width="270.5" height="272.8"><defs><linearGradient id="g711_1h" x1="0" x2="1" y1="0" y2="0"><stop offset="0.000" stop-color="#f9ece3"/><stop offset="0.062" stop-color="#d5e7f1"/><stop offset="0.125" stop-color="#63a7ce"/><stop offset="0.188" stop-color="#9fcce2"/><stop offset="0.250" stop-color="#f7f5f3"/><stop offset="0.312" stop-color="#fddcc9"/><stop offset="0.375" stop-color="#f9efe8"/><stop offset="0.438" stop-color="#f5ac8b"/><stop offset="0.500" stop-color="#aa162a"/><stop offset="0.562" stop-color="#f4a683"/><stop offset="0.625" stop-color="#3581ba"/><stop offset="0.688" stop-color="#4795c4"/><stop offset="0.750" stop-color="#f9c4aa"/><stop offset="0.812" stop-color="#c94741"/><stop offset="0.875" stop-color="#f8f3f1"/><stop offset="0.938" stop-color="#c1ddeb"/><stop offset="1.000" stop-color="#e2edf3"/></linearGradient><linearGradient id="g711_1v" x1="0" x2="0" y1="0" y2="1"><stop offset="0.000" stop-color="#f8f2ef"/><stop offset="0.062" stop-color="#fddbc8"/><stop offset="0.125" stop-color="#f9c2a8"/><stop offset="0.188" stop-color="#fcdecc"/><stop offset="0.250" stop-color="#f6f7f7"/><stop offset="0.312" stop-color="#e1edf3"/><stop offset="0.375" stop-color="#ddebf2"/><stop offset="0.438" stop-color="#e3eef3"/><stop offset="0.500" stop-color="#eef3f5"/><stop offset="0.562" stop-color="#f8f2ef"/><stop offset="0.625" stop-color="#f7f6f6"/><stop offset="0.688" stop-color="#d8e8f1"/><stop offset="0.750" stop-color="#a8d0e4"/><stop offset="0.812" stop-color="#96c7df"/><stop offset="0.875" stop-color="#aad1e5"/><stop offset="0.938" stop-color="#c7e0ed"/><stop offset="1.000" stop-color="#dceaf2"/></linearGradient></defs><rect x="1.35" y="1.35" width="267.8" height="270.1" fill="url(#g711_1h)"/><rect x="1.35" y="5.35" width="9" height="266.1" fill="url(#g711_1v)"/><rect x="1.35" y="1.35" width="267.8" height="270.1" fill="none" stroke="#000" stroke-width="2.7"/></svg>
<svg style="left:712.4px;top:684.2px;overflow:hidden" width="267.8" height="270.1" viewBox="0 0 40 40" preserveAspectRatio="none"><filter id="h2" x="-10%" y="-10%" width="120%" height="120%"><feGaussianBlur stdDeviation="0.9"/></filter><g filter="url(#h2)"><path fill="#053061" d="M26 1h1v1h-1zM26 2h1v1h-1zM26 3h1v1h-1zM8 24h1v1h-1zM7 25h2v1h-2zM6 26h2v1h-2zM36 26h1v1h-1zM6 27h2v1h-2zM36 27h1v1h-1zM5 28h2v1h-2zM36 28h1v1h-1zM5 29h1v1h-1zM4 30h1v1h-1z"/><path fill="#0f447d" d="M25 1h1v1h-1zM25 2h1v1h-1zM26 4h1v1h-1zM8 23h2v1h-2zM7 24h1v1h-1zM9 24h1v1h-1zM6 25h1v1h-1zM35 25h2v1h-2zM8 26h1v1h-1zM35 26h1v1h-1zM37 26h1v1h-1zM5 27h1v1h-1zM35 27h1v1h-1zM37 27h1v1h-1zM4 28h1v1h-1zM35 28h1v1h-1zM37 28h1v1h-1zM4 29h1v1h-1zM6 29h1v1h-1zM36 29h1v1h-1zM5 30h1v1h-1zM4 31h1v1h-1zM27 39h1v1h-1z"/><path fill="#1a5899" d="M26 0h1v1h-1zM25 3h1v1h-1zM10 20h1v1h-1zM9 21h2v1h-2zM9 22h2v1h-2zM10 23h1v1h-1zM35 23h2v1h-2zM35 24h2v1h-2zM9 25h1v1h-1zM37 25h1v1h-1zM5 26h1v1h-1zM8 27h1v1h-1zM7 28h1v1h-1zM3 29h1v1h-1zM35 29h1v1h-1zM37 29h1v1h-1zM3 30h1v1h-1zM6 30h1v1h-1zM36 30h2v1h-2zM3 31h1v1h-1zM5 31h1v1h-1zM36 31h1v1h-1zM4 32h1v1h-1zM27 38h1v1h-1z"/><path fill="#256baf" d="M25 0h1v1h-1zM26 5h1v1h-1zM10 19h1v1h-1zM9 20h1v1h-1zM8 22h1v1h-1zM35 22h2v1h-2zM7 23h1v1h-1zM10 24h1v1h-1zM37 24h1v1h-1zM34 25h1v1h-1zM9 26h1v1h-1zM34 26h1v1h-1zM4 27h1v1h-1zM34 27h1v1h-1zM7 29h1v1h-1zM35 30h1v1h-1zM6 31h1v1h-1zM35 31h1v1h-1zM37 31h1v1h-1zM3 32h1v1h-1zM5 32h1v1h-1zM36 32h2v1h-2zM4 33h1v1h-1zM36 33h2v1h-2zM26 38h1v1h-1zM26 39h1v1h-1z"/><path fill="#317cb7" d="M27 2h1v1h-1zM27 3h1v1h-1zM25 4h1v1h-1zM6 5h1v1h-1zM6 6h2v1h-2zM6 7h2v1h-2zM7 8h2v1h-2zM7 9h2v1h-2zM7 10h2v1h-2zM8 11h1v1h-1zM8 12h1v1h-1zM9 13h1v1h-1zM10 17h1v1h-1zM9 18h2v1h-2zM9 19h1v1h-1zM11 19h1v1h-1zM11 20h1v1h-1zM11 21h1v1h-1zM35 21h2v1h-2zM11 22h1v1h-1zM34 22h1v1h-1zM34 23h1v1h-1zM37 23h1v1h-1zM6 24h1v1h-1zM34 24h1v1h-1zM5 25h1v1h-1zM10 25h1v1h-1zM38 25h1v1h-1zM38 26h1v1h-1zM38 27h1v1h-1zM3 28h1v1h-1zM8 28h1v1h-1zM34 28h1v1h-1zM38 28h1v1h-1zM34 29h1v1h-1zM38 29h1v1h-1zM2 30h1v1h-1zM2 31h1v1h-1zM2 32h1v1h-1zM35 32h1v1h-1zM3 33h1v1h-1zM5 33h1v1h-1zM36 34h2v1h-2zM36 35h2v1h-2zM28 39h1v1h-1zM27 40h1v1h-1z"/><path fill="#3e8cc0" d="M25 -1h2v1h-2zM27 1h1v1h-1zM5 2h2v1h-2zM5 3h2v1h-2zM5 4h2v1h-2zM27 4h1v1h-1zM5 5h1v1h-1zM7 5h1v1h-1zM26 6h1v1h-1zM8 7h1v1h-1zM6 8h1v1h-1zM6 9h1v1h-1zM9 10h1v1h-1zM7 11h1v1h-1zM9 11h1v1h-1zM7 12h1v1h-1zM9 12h1v1h-1zM8 13h1v1h-1zM8 14h2v1h-2zM9 15h2v1h-2zM9 16h2v1h-2zM9 17h1v1h-1zM11 18h1v1h-1zM34 20h2v1h-2zM8 21h1v1h-1zM34 21h1v1h-1zM37 22h1v1h-1zM11 23h1v1h-1zM38 24h1v1h-1zM4 26h1v1h-1zM3 27h1v1h-1zM9 27h1v1h-1zM2 29h1v1h-1zM7 30h1v1h-1zM34 30h1v1h-1zM38 30h1v1h-1zM38 31h1v1h-1zM6 32h1v1h-1zM38 32h1v1h-1zM2 33h1v1h-1zM35 33h1v1h-1zM38 33h1v1h-1zM3 34h3v1h-3zM35 34h1v1h-1zM38 34h1v1h-1zM36 36h2v1h-2zM27 37h1v1h-1zM28 38h1v1h-1zM26 40h1v1h-1z"/><path fill="#559ec9" d="M27 0h1v1h-1zM5 1h2v1h-2zM4 2h1v1h-1zM7 3h1v1h-1zM7 4h1v1h-1zM25 5h1v1h-1zM27 5h1v1h-1zM5 6h1v1h-1zM8 6h1v1h-1zM5 7h1v1h-1zM9 8h1v1h-1zM9 9h1v1h-1zM6 10h1v1h-1zM10 12h1v1h-1zM7 13h1v1h-1zM10 13h1v1h-1zM10 14h1v1h-1zM8 15h1v1h-1zM8 16h1v1h-1zM11 17h1v1h-1zM34 19h2v1h-2zM8 20h1v1h-1zM33 20h1v1h-1zM36 20h1v1h-1zM33 21h1v1h-1zM37 21h1v1h-1zM7 22h1v1h-1zM33 22h1v1h-1zM6 23h1v1h-1zM33 23h1v1h-1zM38 23h1v1h-1zM33 24h1v1h-1zM33 25h1v1h-1zM10 26h1v1h-1zM33 26h1v1h-1zM33 27h1v1h-1zM2 28h1v1h-1zM9 28h1v1h-1zM33 28h1v1h-1zM8 29h1v1h-1zM7 31h1v1h-1zM34 31h1v1h-1zM34 32h1v1h-1zM6 33h1v1h-1zM2 34h1v1h-1zM3 35h3v1h-3zM35 35h1v1h-1zM38 35h1v1h-1zM38 36h1v1h-1zM36 37h2v1h-2zM28 40h1v1h-1z"/><path fill="#72b1d3" d="M4 0h3v1h-3zM4 1h1v1h-1zM24 1h1v1h-1zM7 2h1v1h-1zM24 2h1v1h-1zM4 3h1v1h-1zM4 4h1v1h-1zM4 5h1v1h-1zM8 5h1v1h-1zM27 6h1v1h-1zM9 7h1v1h-1zM26 7h2v1h-2zM5 8h1v1h-1zM5 9h1v1h-1zM10 10h1v1h-1zM6 11h1v1h-1zM10 11h1v1h-1zM7 14h1v1h-1zM11 15h1v1h-1zM11 16h1v1h-1zM8 17h1v1h-1zM8 18h1v1h-1zM35 18h1v1h-1zM8 19h1v1h-1zM12 19h1v1h-1zM33 19h1v1h-1zM36 19h1v1h-1zM12 20h1v1h-1zM37 20h1v1h-1zM12 21h1v1h-1zM38 22h1v1h-1zM5 24h1v1h-1zM11 24h1v1h-1zM4 25h1v1h-1zM39 25h1v1h-1zM39 26h1v1h-1zM39 27h1v1h-1zM39 28h1v1h-1zM33 29h1v1h-1zM39 29h1v1h-1zM1 30h1v1h-1zM8 30h1v1h-1zM39 30h1v1h-1zM1 31h1v1h-1zM1 32h1v1h-1zM7 32h1v1h-1zM1 33h1v1h-1zM34 33h1v1h-1zM6 34h1v1h-1zM2 35h1v1h-1zM3 36h3v1h-3zM26 37h1v1h-1zM28 37h1v1h-1zM38 37h1v1h-1zM25 39h1v1h-1z"/><path fill="#8fc3dd" d="M25 -2h2v1h-2zM4 -1h2v1h-2zM27 -1h1v1h-1zM24 0h1v1h-1zM7 1h1v1h-1zM24 3h1v1h-1zM8 4h1v1h-1zM4 6h1v1h-1zM9 6h1v1h-1zM4 7h1v1h-1zM27 8h1v1h-1zM10 9h1v1h-1zM5 10h1v1h-1zM6 12h1v1h-1zM6 13h1v1h-1zM11 13h1v1h-1zM11 14h1v1h-1zM7 15h1v1h-1zM12 18h1v1h-1zM33 18h2v1h-2zM36 18h1v1h-1zM32 19h1v1h-1zM37 19h1v1h-1zM32 20h1v1h-1zM7 21h1v1h-1zM32 21h1v1h-1zM38 21h1v1h-1zM12 22h1v1h-1zM32 22h1v1h-1zM32 23h1v1h-1zM39 24h1v1h-1zM11 25h1v1h-1zM3 26h1v1h-1zM2 27h1v1h-1zM10 27h1v1h-1zM1 29h1v1h-1zM9 29h1v1h-1zM33 30h1v1h-1zM8 31h1v1h-1zM33 31h1v1h-1zM39 31h1v1h-1zM39 32h1v1h-1zM7 33h1v1h-1zM39 33h1v1h-1zM1 34h1v1h-1zM7 34h1v1h-1zM34 34h1v1h-1zM39 34h1v1h-1zM1 35h1v1h-1zM6 35h1v1h-1zM39 35h1v1h-1zM2 36h1v1h-1zM6 36h1v1h-1zM35 36h1v1h-1zM3 37h3v1h-3zM25 38h1v1h-1zM36 38h2v1h-2zM29 39h1v1h-1zM25 40h1v1h-1zM26 41h2v1h-2z"/><path fill="#a7d0e4" d="M4 -2h2v1h-2zM3 -1h1v1h-1zM6 -1h1v1h-1zM24 -1h1v1h-1zM3 0h1v1h-1zM7 0h1v1h-1zM3 1h1v1h-1zM3 2h1v1h-1zM8 2h1v1h-1zM3 3h1v1h-1zM8 3h1v1h-1zM37 3h1v1h-1zM37 4h1v1h-1zM9 5h1v1h-1zM25 6h1v1h-1zM4 8h1v1h-1zM10 8h1v1h-1zM26 8h1v1h-1zM4 9h1v1h-1zM5 11h1v1h-1zM11 11h1v1h-1zM11 12h1v1h-1zM6 14h1v1h-1zM7 16h1v1h-1zM12 16h1v1h-1zM7 17h1v1h-1zM12 17h1v1h-1zM34 17h2v1h-2zM32 18h1v1h-1zM31 19h1v1h-1zM7 20h1v1h-1zM31 20h1v1h-1zM38 20h1v1h-1zM31 21h1v1h-1zM6 22h1v1h-1zM31 22h1v1h-1zM39 22h1v1h-1zM12 23h1v1h-1zM31 23h1v1h-1zM39 23h1v1h-1zM32 24h1v1h-1zM32 25h1v1h-1zM32 26h1v1h-1zM32 27h1v1h-1zM1 28h1v1h-1zM10 28h1v1h-1zM32 28h1v1h-1zM32 29h1v1h-1zM0 30h1v1h-1zM9 30h1v1h-1zM0 31h1v1h-1zM0 32h1v1h-1zM8 32h1v1h-1zM33 32h1v1h-1zM0 33h1v1h-1zM8 33h1v1h-1zM0 34h1v1h-1zM8 34h1v1h-1zM7 35h1v1h-1zM1 36h1v1h-1zM7 36h1v1h-1zM27 36h1v1h-1zM39 36h1v1h-1zM2 37h1v1h-1zM6 37h1v1h-1zM35 37h1v1h-1zM39 37h1v1h-1zM3 38h3v1h-3zM29 38h1v1h-1zM38 38h1v1h-1zM37 39h1v1h-1zM28 41h1v1h-1z"/><path fill="#bedceb" d="M3 -2h1v1h-1zM6 -2h1v1h-1zM27 -2h1v1h-1zM7 -1h1v1h-1zM37 0h1v1h-1zM8 1h1v1h-1zM28 1h1v1h-1zM37 1h2v1h-2zM28 2h1v1h-1zM37 2h2v1h-2zM28 3h1v1h-1zM36 3h1v1h-1zM38 3h1v1h-1zM3 4h1v1h-1zM9 4h1v1h-1zM24 4h1v1h-1zM36 4h1v1h-1zM38 4h1v1h-1zM3 5h1v1h-1zM36 5h3v1h-3zM3 6h1v1h-1zM10 6h1v1h-1zM37 6h1v1h-1zM10 7h1v1h-1zM37 7h1v1h-1zM11 9h1v1h-1zM16 9h1v1h-1zM27 9h1v1h-1zM4 10h1v1h-1zM11 10h1v1h-1zM16 10h1v1h-1zM4 11h1v1h-1zM16 11h1v1h-1zM5 12h1v1h-1zM2 13h1v1h-1zM5 13h1v1h-1zM12 13h1v1h-1zM2 14h1v1h-1zM12 14h1v1h-1zM6 15h1v1h-1zM12 15h1v1h-1zM35 16h1v1h-1zM33 17h1v1h-1zM36 17h1v1h-1zM7 18h1v1h-1zM31 18h1v1h-1zM37 18h1v1h-1zM7 19h1v1h-1zM13 19h1v1h-1zM30 19h1v1h-1zM38 19h1v1h-1zM13 20h1v1h-1zM30 20h1v1h-1zM30 21h1v1h-1zM39 21h1v1h-1zM30 22h1v1h-1zM5 23h1v1h-1zM30 23h1v1h-1zM30 24h2v1h-2zM40 24h1v1h-1zM30 25h2v1h-2zM40 25h1v1h-1zM2 26h1v1h-1zM11 26h1v1h-1zM30 26h2v1h-2zM40 26h1v1h-1zM1 27h1v1h-1zM31 27h1v1h-1zM40 27h1v1h-1zM31 28h1v1h-1zM40 28h1v1h-1zM0 29h1v1h-1zM10 29h1v1h-1zM40 29h1v1h-1zM10 30h1v1h-1zM32 30h1v1h-1zM40 30h1v1h-1zM9 31h1v1h-1zM32 31h1v1h-1zM40 31h1v1h-1zM9 32h1v1h-1zM40 32h1v1h-1zM9 33h1v1h-1zM33 33h1v1h-1zM40 33h1v1h-1zM9 34h1v1h-1zM0 35h1v1h-1zM8 35h2v1h-2zM34 35h1v1h-1zM0 36h1v1h-1zM8 36h1v1h-1zM26 36h1v1h-1zM28 36h1v1h-1zM1 37h1v1h-1zM7 37h1v1h-1zM25 37h1v1h-1zM29 37h1v1h-1zM1 38h2v1h-2zM6 38h2v1h-2zM35 38h1v1h-1zM39 38h1v1h-1zM2 39h5v1h-5zM36 39h1v1h-1zM38 39h1v1h-1zM4 40h1v1h-1zM29 40h1v1h-1zM25 41h1v1h-1z"/><path fill="#d4e6f1" d="M2 -2h1v1h-1zM7 -2h1v1h-1zM24 -2h1v1h-1zM37 -2h2v1h-2zM2 -1h1v1h-1zM28 -1h1v1h-1zM36 -1h3v1h-3zM2 0h1v1h-1zM8 0h1v1h-1zM28 0h1v1h-1zM36 0h1v1h-1zM38 0h1v1h-1zM2 1h1v1h-1zM36 1h1v1h-1zM36 2h1v1h-1zM9 3h1v1h-1zM28 4h1v1h-1zM10 5h1v1h-1zM28 5h1v1h-1zM28 6h1v1h-1zM36 6h1v1h-1zM38 6h1v1h-1zM3 7h1v1h-1zM11 7h1v1h-1zM15 7h1v1h-1zM28 7h1v1h-1zM36 7h1v1h-1zM38 7h1v1h-1zM3 8h1v1h-1zM11 8h1v1h-1zM15 8h2v1h-2zM28 8h1v1h-1zM36 8h2v1h-2zM3 9h1v1h-1zM15 9h1v1h-1zM26 9h1v1h-1zM37 9h1v1h-1zM2 10h2v1h-2zM15 10h1v1h-1zM17 10h1v1h-1zM27 10h1v1h-1zM2 11h2v1h-2zM12 11h1v1h-1zM15 11h1v1h-1zM17 11h1v1h-1zM1 12h4v1h-4zM12 12h1v1h-1zM16 12h2v1h-2zM1 13h1v1h-1zM3 13h2v1h-2zM16 13h2v1h-2zM1 14h1v1h-1zM3 14h3v1h-3zM1 15h3v1h-3zM5 15h1v1h-1zM1 16h3v1h-3zM6 16h1v1h-1zM13 16h1v1h-1zM34 16h1v1h-1zM36 16h2v1h-2zM2 17h1v1h-1zM13 17h1v1h-1zM30 17h3v1h-3zM37 17h1v1h-1zM13 18h1v1h-1zM30 18h1v1h-1zM38 18h1v1h-1zM29 20h1v1h-1zM39 20h1v1h-1zM13 21h1v1h-1zM29 21h1v1h-1zM29 22h1v1h-1zM40 22h1v1h-1zM29 23h1v1h-1zM40 23h1v1h-1zM4 24h1v1h-1zM12 24h1v1h-1zM29 24h1v1h-1zM3 25h1v1h-1zM29 25h1v1h-1zM41 25h1v1h-1zM29 26h1v1h-1zM41 26h1v1h-1zM11 27h1v1h-1zM29 27h2v1h-2zM41 27h1v1h-1zM0 28h1v1h-1zM11 28h1v1h-1zM29 28h2v1h-2zM41 28h1v1h-1zM11 29h1v1h-1zM28 29h4v1h-4zM41 29h1v1h-1zM-1 30h1v1h-1zM11 30h1v1h-1zM28 30h4v1h-4zM-1 31h1v1h-1zM10 31h2v1h-2zM28 31h4v1h-4zM-1 32h1v1h-1zM10 32h2v1h-2zM28 32h2v1h-2zM32 32h1v1h-1zM-1 33h1v1h-1zM10 33h2v1h-2zM28 33h1v1h-1zM-1 34h1v1h-1zM10 34h2v1h-2zM33 34h1v1h-1zM40 34h1v1h-1zM-1 35h1v1h-1zM10 35h2v1h-2zM27 35h2v1h-2zM40 35h1v1h-1zM-1 36h1v1h-1zM9 36h3v1h-3zM29 36h1v1h-1zM34 36h1v1h-1zM40 36h1v1h-1zM0 37h1v1h-1zM8 37h3v1h-3zM40 37h1v1h-1zM0 38h1v1h-1zM8 38h2v1h-2zM1 39h1v1h-1zM7 39h2v1h-2zM39 39h1v1h-1zM1 40h3v1h-3zM5 40h3v1h-3zM36 40h3v1h-3zM3 41h3v1h-3zM29 41h1v1h-1z"/><path fill="#e2edf3" d="M8 -2h1v1h-1zM28 -2h1v1h-1zM36 -2h1v1h-1zM39 -2h2v1h-2zM8 -1h1v1h-1zM39 -1h2v1h-2zM39 0h2v1h-2zM9 1h1v1h-1zM39 1h2v1h-2zM2 2h1v1h-1zM9 2h1v1h-1zM35 2h1v1h-1zM39 2h3v1h-3zM2 3h1v1h-1zM35 3h1v1h-1zM39 3h3v1h-3zM10 4h1v1h-1zM35 4h1v1h-1zM39 4h3v1h-3zM14 5h2v1h-2zM35 5h1v1h-1zM39 5h1v1h-1zM11 6h1v1h-1zM14 6h2v1h-2zM35 6h1v1h-1zM12 7h3v1h-3zM16 7h1v1h-1zM25 7h1v1h-1zM35 7h1v1h-1zM2 8h1v1h-1zM12 8h3v1h-3zM35 8h1v1h-1zM38 8h1v1h-1zM2 9h1v1h-1zM12 9h3v1h-3zM17 9h1v1h-1zM28 9h1v1h-1zM36 9h1v1h-1zM38 9h1v1h-1zM1 10h1v1h-1zM12 10h3v1h-3zM28 10h1v1h-1zM36 10h2v1h-2zM1 11h1v1h-1zM13 11h2v1h-2zM36 11h2v1h-2zM0 12h1v1h-1zM13 12h1v1h-1zM15 12h1v1h-1zM36 12h2v1h-2zM0 13h1v1h-1zM13 13h1v1h-1zM15 13h1v1h-1zM18 13h1v1h-1zM36 13h2v1h-2zM0 14h1v1h-1zM13 14h1v1h-1zM16 14h3v1h-3zM35 14h3v1h-3zM0 15h1v1h-1zM4 15h1v1h-1zM13 15h1v1h-1zM17 15h2v1h-2zM34 15h4v1h-4zM0 16h1v1h-1zM4 16h2v1h-2zM18 16h1v1h-1zM30 16h4v1h-4zM0 17h2v1h-2zM3 17h1v1h-1zM6 17h1v1h-1zM29 17h1v1h-1zM38 17h1v1h-1zM1 18h2v1h-2zM29 18h1v1h-1zM29 19h1v1h-1zM39 19h1v1h-1zM40 20h1v1h-1zM6 21h1v1h-1zM40 21h2v1h-2zM13 22h1v1h-1zM41 22h1v1h-1zM41 23h1v1h-1zM41 24h1v1h-1zM12 25h1v1h-1zM0 26h2v1h-2zM-1 27h2v1h-2zM28 27h1v1h-1zM-1 28h1v1h-1zM28 28h1v1h-1zM-2 29h2v1h-2zM-2 30h1v1h-1zM12 30h1v1h-1zM41 30h1v1h-1zM-2 31h1v1h-1zM12 31h1v1h-1zM27 31h1v1h-1zM41 31h1v1h-1zM-2 32h1v1h-1zM12 32h2v1h-2zM27 32h1v1h-1zM30 32h2v1h-2zM41 32h1v1h-1zM-2 33h1v1h-1zM12 33h2v1h-2zM27 33h1v1h-1zM29 33h4v1h-4zM41 33h1v1h-1zM-2 34h1v1h-1zM12 34h1v1h-1zM27 34h3v1h-3zM41 34h1v1h-1zM-2 35h1v1h-1zM12 35h1v1h-1zM29 35h1v1h-1zM41 35h1v1h-1zM-2 36h1v1h-1zM12 36h1v1h-1zM41 36h1v1h-1zM-2 37h2v1h-2zM11 37h2v1h-2zM41 37h1v1h-1zM-2 38h2v1h-2zM10 38h3v1h-3zM40 38h1v1h-1zM-1 39h2v1h-2zM9 39h3v1h-3zM24 39h1v1h-1zM35 39h1v1h-1zM40 39h1v1h-1zM-1 40h2v1h-2zM8 40h3v1h-3zM24 40h1v1h-1zM35 40h1v1h-1zM39 40h1v1h-1zM0 41h3v1h-3zM6 41h4v1h-4zM36 41h4v1h-4z"/><path fill="#f0f4f6" d="M-2 -2h4v1h-4zM9 -2h1v1h-1zM35 -2h1v1h-1zM41 -2h1v1h-1zM-2 -1h1v1h-1zM1 -1h1v1h-1zM9 -1h1v1h-1zM35 -1h1v1h-1zM41 -1h1v1h-1zM-2 0h1v1h-1zM1 0h1v1h-1zM9 0h1v1h-1zM35 0h1v1h-1zM41 0h1v1h-1zM23 1h1v1h-1zM35 1h1v1h-1zM41 1h1v1h-1zM10 3h1v1h-1zM2 4h1v1h-1zM14 4h2v1h-2zM2 5h1v1h-1zM11 5h3v1h-3zM24 5h1v1h-1zM40 5h2v1h-2zM2 6h1v1h-1zM12 6h2v1h-2zM16 6h1v1h-1zM39 6h3v1h-3zM2 7h1v1h-1zM39 7h3v1h-3zM17 8h1v1h-1zM40 8h2v1h-2zM-2 9h1v1h-1zM1 9h1v1h-1zM35 9h1v1h-1zM41 9h1v1h-1zM-2 10h3v1h-3zM35 10h1v1h-1zM38 10h1v1h-1zM41 10h1v1h-1zM-2 11h3v1h-3zM18 11h1v1h-1zM27 11h2v1h-2zM35 11h1v1h-1zM38 11h1v1h-1zM41 11h1v1h-1zM-2 12h2v1h-2zM14 12h1v1h-1zM18 12h1v1h-1zM35 12h1v1h-1zM38 12h1v1h-1zM41 12h1v1h-1zM-2 13h2v1h-2zM14 13h1v1h-1zM35 13h1v1h-1zM38 13h1v1h-1zM41 13h1v1h-1zM-2 14h2v1h-2zM14 14h2v1h-2zM34 14h1v1h-1zM38 14h1v1h-1zM41 14h1v1h-1zM-2 15h2v1h-2zM14 15h3v1h-3zM30 15h1v1h-1zM33 15h1v1h-1zM38 15h1v1h-1zM41 15h1v1h-1zM-2 16h2v1h-2zM14 16h1v1h-1zM17 16h1v1h-1zM29 16h1v1h-1zM38 16h1v1h-1zM41 16h1v1h-1zM-2 17h2v1h-2zM4 17h2v1h-2zM14 17h1v1h-1zM18 17h1v1h-1zM39 17h3v1h-3zM-2 18h3v1h-3zM3 18h1v1h-1zM6 18h1v1h-1zM14 18h1v1h-1zM39 18h3v1h-3zM-2 19h5v1h-5zM6 19h1v1h-1zM14 19h1v1h-1zM40 19h2v1h-2zM-2 20h4v1h-4zM6 20h1v1h-1zM14 20h1v1h-1zM41 20h1v1h-1zM-2 21h3v1h-3zM14 21h1v1h-1zM28 21h1v1h-1zM-2 22h2v1h-2zM28 22h1v1h-1zM-2 23h2v1h-2zM13 23h1v1h-1zM28 23h1v1h-1zM-2 24h2v1h-2zM28 24h1v1h-1zM-2 25h5v1h-5zM28 25h1v1h-1zM-2 26h2v1h-2zM12 26h1v1h-1zM28 26h1v1h-1zM-2 27h1v1h-1zM12 27h1v1h-1zM-2 28h1v1h-1zM12 28h1v1h-1zM12 29h1v1h-1zM27 29h1v1h-1zM13 30h1v1h-1zM27 30h1v1h-1zM13 31h1v1h-1zM14 32h1v1h-1zM14 33h1v1h-1zM13 34h1v1h-1zM30 34h3v1h-3zM13 35h1v1h-1zM26 35h1v1h-1zM30 35h1v1h-1zM33 35h1v1h-1zM13 36h1v1h-1zM25 36h1v1h-1zM30 36h1v1h-1zM13 37h1v1h-1zM30 37h1v1h-1zM34 37h1v1h-1zM13 38h1v1h-1zM24 38h1v1h-1zM30 38h1v1h-1zM41 38h1v1h-1zM-2 39h1v1h-1zM12 39h2v1h-2zM30 39h1v1h-1zM41 39h1v1h-1zM-2 40h1v1h-1zM11 40h3v1h-3zM40 40h2v1h-2zM-2 41h2v1h-2zM10 41h4v1h-4zM24 41h1v1h-1zM35 41h1v1h-1zM40 41h2v1h-2z"/><path fill="#f8f2ee" d="M10 -2h6v1h-6zM23 -2h1v1h-1zM29 -2h1v1h-1zM-1 -1h2v1h-2zM10 -1h1v1h-1zM14 -1h2v1h-2zM23 -1h1v1h-1zM-1 0h2v1h-2zM14 0h1v1h-1zM23 0h1v1h-1zM-2 1h1v1h-1zM1 1h1v1h-1zM14 1h1v1h-1zM-2 2h1v1h-1zM10 2h1v1h-1zM14 2h2v1h-2zM23 2h1v1h-1zM-2 3h1v1h-1zM13 3h3v1h-3zM-2 4h1v1h-1zM11 4h3v1h-3zM-2 5h1v1h-1zM16 5h1v1h-1zM-2 6h1v1h-1zM34 6h1v1h-1zM-2 7h1v1h-1zM17 7h1v1h-1zM34 7h1v1h-1zM-2 8h2v1h-2zM1 8h1v1h-1zM25 8h1v1h-1zM34 8h1v1h-1zM39 8h1v1h-1zM-1 9h2v1h-2zM29 9h1v1h-1zM34 9h1v1h-1zM39 9h2v1h-2zM18 10h1v1h-1zM26 10h1v1h-1zM29 10h1v1h-1zM34 10h1v1h-1zM40 10h1v1h-1zM29 11h1v1h-1zM34 11h1v1h-1zM40 11h1v1h-1zM28 12h2v1h-2zM34 12h1v1h-1zM40 12h1v1h-1zM28 13h2v1h-2zM34 13h1v1h-1zM40 13h1v1h-1zM29 14h2v1h-2zM33 14h1v1h-1zM40 14h1v1h-1zM19 15h1v1h-1zM29 15h1v1h-1zM31 15h2v1h-2zM39 15h2v1h-2zM15 16h2v1h-2zM19 16h1v1h-1zM39 16h2v1h-2zM15 17h3v1h-3zM19 17h1v1h-1zM28 17h1v1h-1zM4 18h2v1h-2zM15 18h1v1h-1zM18 18h2v1h-2zM28 18h1v1h-1zM15 19h1v1h-1zM28 19h1v1h-1zM15 20h1v1h-1zM28 20h1v1h-1zM1 21h1v1h-1zM0 22h1v1h-1zM5 22h1v1h-1zM0 23h1v1h-1zM0 24h2v1h-2zM3 24h1v1h-1zM27 26h1v1h-1zM27 27h1v1h-1zM27 28h1v1h-1zM13 29h1v1h-1zM14 30h1v1h-1zM14 31h1v1h-1zM15 32h1v1h-1zM26 32h1v1h-1zM15 33h1v1h-1zM26 33h1v1h-1zM14 34h2v1h-2zM26 34h1v1h-1zM14 35h1v1h-1zM31 35h1v1h-1zM14 36h1v1h-1zM14 37h1v1h-1zM14 38h1v1h-1zM14 39h1v1h-1zM14 40h1v1h-1zM30 40h1v1h-1zM14 41h2v1h-2zM30 41h1v1h-1z"/><path fill="#fae7dc" d="M16 -2h1v1h-1zM34 -2h1v1h-1zM11 -1h3v1h-3zM29 -1h1v1h-1zM34 -1h1v1h-1zM10 0h1v1h-1zM13 0h1v1h-1zM15 0h1v1h-1zM29 0h1v1h-1zM34 0h1v1h-1zM-1 1h2v1h-2zM10 1h1v1h-1zM13 1h1v1h-1zM15 1h1v1h-1zM29 1h1v1h-1zM-1 2h1v1h-1zM1 2h1v1h-1zM13 2h1v1h-1zM29 2h1v1h-1zM11 3h2v1h-2zM16 3h1v1h-1zM23 3h1v1h-1zM29 3h1v1h-1zM34 3h1v1h-1zM16 4h1v1h-1zM29 4h1v1h-1zM34 4h1v1h-1zM29 5h1v1h-1zM34 5h1v1h-1zM-1 6h1v1h-1zM29 6h1v1h-1zM-1 7h1v1h-1zM1 7h1v1h-1zM29 7h1v1h-1zM0 8h1v1h-1zM29 8h1v1h-1zM18 9h1v1h-1zM33 9h1v1h-1zM33 10h1v1h-1zM39 10h1v1h-1zM33 11h1v1h-1zM39 11h1v1h-1zM27 12h1v1h-1zM30 12h1v1h-1zM33 12h1v1h-1zM39 12h1v1h-1zM19 13h1v1h-1zM30 13h1v1h-1zM33 13h1v1h-1zM39 13h1v1h-1zM19 14h1v1h-1zM28 14h1v1h-1zM31 14h2v1h-2zM39 14h1v1h-1zM28 15h1v1h-1zM28 16h1v1h-1zM16 18h2v1h-2zM3 19h1v1h-1zM16 19h4v1h-4zM2 20h1v1h-1zM15 21h1v1h-1zM1 22h1v1h-1zM14 22h1v1h-1zM27 22h1v1h-1zM1 23h1v1h-1zM4 23h1v1h-1zM27 23h1v1h-1zM2 24h1v1h-1zM13 24h1v1h-1zM27 24h1v1h-1zM27 25h1v1h-1zM13 28h1v1h-1zM26 29h1v1h-1zM15 30h1v1h-1zM26 30h1v1h-1zM15 31h1v1h-1zM26 31h1v1h-1zM16 32h1v1h-1zM16 33h1v1h-1zM15 35h1v1h-1zM25 35h1v1h-1zM32 35h1v1h-1zM15 36h1v1h-1zM33 36h1v1h-1zM15 37h1v1h-1zM24 37h1v1h-1zM15 38h1v1h-1zM34 38h1v1h-1zM15 39h1v1h-1zM15 40h1v1h-1zM34 41h1v1h-1z"/><path fill="#fdddcb" d="M16 -1h1v1h-1zM11 0h2v1h-2zM16 0h1v1h-1zM11 1h2v1h-2zM16 1h1v1h-1zM34 1h1v1h-1zM0 2h1v1h-1zM11 2h2v1h-2zM16 2h1v1h-1zM34 2h1v1h-1zM-1 3h1v1h-1zM1 3h1v1h-1zM-1 4h1v1h-1zM1 4h1v1h-1zM-1 5h1v1h-1zM1 5h1v1h-1zM1 6h1v1h-1zM17 6h1v1h-1zM24 6h1v1h-1zM0 7h1v1h-1zM33 7h1v1h-1zM33 8h1v1h-1zM30 9h1v1h-1zM30 10h1v1h-1zM26 11h1v1h-1zM30 11h1v1h-1zM32 11h1v1h-1zM19 12h1v1h-1zM31 12h2v1h-2zM27 13h1v1h-1zM31 13h2v1h-2zM20 17h1v1h-1zM20 18h1v1h-1zM4 19h2v1h-2zM20 19h1v1h-1zM16 20h5v1h-5zM27 20h1v1h-1zM5 21h1v1h-1zM16 21h1v1h-1zM19 21h1v1h-1zM27 21h1v1h-1zM14 23h1v1h-1zM13 25h1v1h-1zM13 26h1v1h-1zM26 26h1v1h-1zM13 27h1v1h-1zM26 27h1v1h-1zM26 28h1v1h-1zM14 29h1v1h-1zM16 30h1v1h-1zM16 31h1v1h-1zM16 34h1v1h-1zM25 34h1v1h-1zM16 35h1v1h-1zM16 36h1v1h-1zM31 36h1v1h-1zM34 39h1v1h-1zM23 40h1v1h-1zM34 40h1v1h-1zM16 41h1v1h-1zM23 41h1v1h-1z"/><path fill="#facbb3" d="M17 -2h1v1h-1zM22 -2h1v1h-1zM30 -2h1v1h-1zM33 -2h1v1h-1zM0 3h1v1h-1zM0 4h1v1h-1zM23 4h1v1h-1zM0 5h1v1h-1zM17 5h1v1h-1zM0 6h1v1h-1zM33 6h1v1h-1zM30 7h1v1h-1zM18 8h1v1h-1zM30 8h1v1h-1zM32 8h1v1h-1zM25 9h1v1h-1zM31 9h2v1h-2zM31 10h2v1h-2zM19 11h1v1h-1zM31 11h1v1h-1zM27 14h1v1h-1zM27 15h1v1h-1zM20 16h1v1h-1zM27 16h1v1h-1zM27 17h1v1h-1zM27 18h1v1h-1zM27 19h1v1h-1zM3 20h1v1h-1zM5 20h1v1h-1zM2 21h1v1h-1zM17 21h2v1h-2zM20 21h1v1h-1zM2 22h1v1h-1zM15 22h1v1h-1zM19 22h2v1h-2zM2 23h2v1h-2zM26 23h1v1h-1zM26 24h1v1h-1zM26 25h1v1h-1zM14 28h1v1h-1zM15 29h2v1h-2zM17 30h1v1h-1zM25 30h1v1h-1zM17 31h1v1h-1zM25 31h1v1h-1zM17 32h1v1h-1zM25 32h1v1h-1zM17 33h1v1h-1zM25 33h1v1h-1zM24 36h1v1h-1zM32 36h1v1h-1zM16 37h1v1h-1zM31 37h1v1h-1zM16 38h1v1h-1zM16 39h1v1h-1zM23 39h1v1h-1zM16 40h1v1h-1zM31 41h1v1h-1z"/><path fill="#f7b799" d="M17 -1h1v1h-1zM22 -1h1v1h-1zM30 -1h1v1h-1zM33 -1h1v1h-1zM17 0h1v1h-1zM17 3h1v1h-1zM17 4h1v1h-1zM33 5h1v1h-1zM30 6h1v1h-1zM18 7h1v1h-1zM24 7h1v1h-1zM32 7h1v1h-1zM31 8h1v1h-1zM19 10h1v1h-1zM26 12h1v1h-1zM20 14h1v1h-1zM20 15h1v1h-1zM21 18h1v1h-1zM21 19h1v1h-1zM4 20h1v1h-1zM21 20h1v1h-1zM21 21h1v1h-1zM26 21h1v1h-1zM4 22h1v1h-1zM16 22h3v1h-3zM21 22h1v1h-1zM26 22h1v1h-1zM15 23h1v1h-1zM19 23h3v1h-3zM14 24h1v1h-1zM25 25h1v1h-1zM25 26h1v1h-1zM14 27h1v1h-1zM25 27h1v1h-1zM15 28h1v1h-1zM25 28h1v1h-1zM17 29h1v1h-1zM25 29h1v1h-1zM17 34h1v1h-1zM17 35h1v1h-1zM24 35h1v1h-1zM33 37h1v1h-1zM23 38h1v1h-1zM31 38h1v1h-1zM31 39h1v1h-1zM31 40h1v1h-1zM17 41h1v1h-1zM33 41h1v1h-1z"/><path fill="#f3a280" d="M18 -2h1v1h-1zM31 -2h2v1h-2zM22 0h1v1h-1zM30 0h1v1h-1zM33 0h1v1h-1zM17 1h1v1h-1zM22 1h1v1h-1zM17 2h1v1h-1zM33 4h1v1h-1zM23 5h1v1h-1zM30 5h1v1h-1zM18 6h1v1h-1zM31 7h1v1h-1zM19 9h1v1h-1zM25 10h1v1h-1zM20 13h1v1h-1zM21 17h1v1h-1zM22 20h1v1h-1zM26 20h1v1h-1zM3 21h2v1h-2zM22 21h1v1h-1zM3 22h1v1h-1zM22 22h1v1h-1zM25 22h1v1h-1zM16 23h3v1h-3zM22 23h1v1h-1zM25 23h1v1h-1zM19 24h3v1h-3zM25 24h1v1h-1zM14 25h1v1h-1zM20 25h1v1h-1zM14 26h1v1h-1zM16 28h3v1h-3zM18 29h1v1h-1zM18 30h1v1h-1zM18 31h1v1h-1zM24 34h1v1h-1zM17 36h1v1h-1zM17 37h1v1h-1zM17 40h1v1h-1zM22 41h1v1h-1zM32 41h1v1h-1z"/><path fill="#e8896c" d="M21 -2h1v1h-1zM30 1h1v1h-1zM33 1h1v1h-1zM22 2h1v1h-1zM30 2h1v1h-1zM33 2h1v1h-1zM22 3h1v1h-1zM30 3h1v1h-1zM33 3h1v1h-1zM30 4h1v1h-1zM18 5h1v1h-1zM31 6h2v1h-2zM20 12h1v1h-1zM26 13h1v1h-1zM21 16h1v1h-1zM26 18h1v1h-1zM22 19h1v1h-1zM26 19h1v1h-1zM25 21h1v1h-1zM23 22h2v1h-2zM23 23h2v1h-2zM15 24h1v1h-1zM18 24h1v1h-1zM22 24h3v1h-3zM18 25h2v1h-2zM21 25h4v1h-4zM18 26h4v1h-4zM24 26h1v1h-1zM15 27h1v1h-1zM17 27h4v1h-4zM24 27h1v1h-1zM19 28h1v1h-1zM24 28h1v1h-1zM19 29h1v1h-1zM24 29h1v1h-1zM24 30h1v1h-1zM24 31h1v1h-1zM18 32h1v1h-1zM24 32h1v1h-1zM18 33h1v1h-1zM24 33h1v1h-1zM23 37h1v1h-1zM32 37h1v1h-1zM17 38h1v1h-1zM33 38h1v1h-1zM17 39h1v1h-1zM22 40h1v1h-1zM33 40h1v1h-1z"/><path fill="#dd6f59" d="M19 -2h2v1h-2zM18 -1h1v1h-1zM21 -1h1v1h-1zM31 -1h2v1h-2zM18 0h1v1h-1zM18 4h1v1h-1zM31 5h2v1h-2zM23 6h1v1h-1zM19 8h1v1h-1zM24 8h1v1h-1zM20 11h1v1h-1zM25 11h1v1h-1zM26 14h1v1h-1zM21 15h1v1h-1zM26 15h1v1h-1zM26 16h1v1h-1zM26 17h1v1h-1zM22 18h1v1h-1zM23 20h1v1h-1zM25 20h1v1h-1zM23 21h2v1h-2zM16 24h2v1h-2zM15 25h1v1h-1zM17 25h1v1h-1zM15 26h1v1h-1zM17 26h1v1h-1zM22 26h2v1h-2zM16 27h1v1h-1zM21 27h3v1h-3zM20 28h1v1h-1zM19 30h1v1h-1zM18 34h1v1h-1zM18 35h1v1h-1zM23 36h1v1h-1zM32 38h1v1h-1zM33 39h1v1h-1zM32 40h1v1h-1zM18 41h1v1h-1zM21 41h1v1h-1z"/><path fill="#d15548" d="M21 0h1v1h-1zM31 0h2v1h-2zM18 1h1v1h-1zM18 2h1v1h-1zM18 3h1v1h-1zM22 4h1v1h-1zM32 4h1v1h-1zM19 7h1v1h-1zM20 10h1v1h-1zM21 14h1v1h-1zM22 17h1v1h-1zM23 19h1v1h-1zM25 19h1v1h-1zM24 20h1v1h-1zM16 25h1v1h-1zM16 26h1v1h-1zM21 28h3v1h-3zM20 29h1v1h-1zM23 29h1v1h-1zM23 30h1v1h-1zM19 31h1v1h-1zM23 35h1v1h-1zM18 36h1v1h-1zM22 39h1v1h-1zM32 39h1v1h-1zM19 41h1v1h-1z"/><path fill="#c33b3b" d="M19 -1h2v1h-2zM21 1h1v1h-1zM31 1h2v1h-2zM31 3h2v1h-2zM31 4h1v1h-1zM19 5h1v1h-1zM22 5h1v1h-1zM19 6h1v1h-1zM23 7h1v1h-1zM20 9h1v1h-1zM24 9h1v1h-1zM25 12h1v1h-1zM21 13h1v1h-1zM23 18h1v1h-1zM25 18h1v1h-1zM24 19h1v1h-1zM21 29h2v1h-2zM20 30h1v1h-1zM23 31h1v1h-1zM19 32h1v1h-1zM23 32h1v1h-1zM23 33h1v1h-1zM23 34h1v1h-1zM18 37h1v1h-1zM22 38h1v1h-1zM18 40h1v1h-1zM20 41h1v1h-1z"/><path fill="#b6202f" d="M19 0h2v1h-2zM19 1h1v1h-1zM21 2h1v1h-1zM31 2h2v1h-2zM19 3h1v1h-1zM21 3h1v1h-1zM19 4h1v1h-1zM20 8h1v1h-1zM24 10h1v1h-1zM21 12h1v1h-1zM25 13h1v1h-1zM22 16h1v1h-1zM25 17h1v1h-1zM24 18h1v1h-1zM21 30h2v1h-2zM20 31h1v1h-1zM19 33h1v1h-1zM19 34h1v1h-1zM22 37h1v1h-1zM18 38h1v1h-1zM18 39h1v1h-1zM21 40h1v1h-1z"/><path fill="#9f1228" d="M20 1h1v1h-1zM19 2h2v1h-2zM20 3h1v1h-1zM20 4h2v1h-2zM20 5h2v1h-2zM20 6h1v1h-1zM22 6h1v1h-1zM20 7h1v1h-1zM23 8h1v1h-1zM21 10h1v1h-1zM21 11h1v1h-1zM25 14h1v1h-1zM22 15h1v1h-1zM25 15h1v1h-1zM25 16h1v1h-1zM23 17h1v1h-1zM21 31h2v1h-2zM20 32h1v1h-1zM19 35h1v1h-1zM22 36h1v1h-1zM21 39h1v1h-1zM19 40h2v1h-2z"/><path fill="#830923" d="M21 6h1v1h-1zM22 7h1v1h-1zM21 9h1v1h-1zM23 9h1v1h-1zM24 11h1v1h-1zM22 14h1v1h-1zM23 16h1v1h-1zM24 17h1v1h-1zM22 32h1v1h-1zM20 33h1v1h-1zM22 33h1v1h-1zM22 34h1v1h-1zM22 35h1v1h-1zM19 36h1v1h-1zM19 37h1v1h-1zM21 38h1v1h-1zM19 39h1v1h-1z"/><path fill="#67001f" d="M21 7h1v1h-1zM21 8h2v1h-2zM22 9h1v1h-1zM22 10h2v1h-2zM22 11h2v1h-2zM22 12h3v1h-3zM22 13h3v1h-3zM23 14h2v1h-2zM23 15h2v1h-2zM24 16h1v1h-1zM21 32h1v1h-1zM21 33h1v1h-1zM20 34h2v1h-2zM20 35h2v1h-2zM20 36h2v1h-2zM20 37h2v1h-2zM19 38h2v1h-2zM20 39h1v1h-1z"/></g></svg>
<svg style="left:711.0px;top:682.9px" width="270.5" height="272.8"><rect x="1.35" y="1.35" width="267.8" height="270.1" fill="none" stroke="#000" stroke-width="2.7"/></svg>
<svg style="left:1049.8px;top:673.7px" width="269.9" height="272.8"><defs><linearGradient id="g1060_2h" x1="0" x2="1" y1="0" y2="0"><stop offset="0.000" stop-color="#9a1027"/><stop offset="0.062" stop-color="#fce0d0"/><stop offset="0.125" stop-color="#c2373a"/><stop offset="0.188" stop-color="#fac7ae"/><stop offset="0.250" stop-color="#f6b293"/><stop offset="0.312" stop-color="#f09b7a"/><stop offset="0.375" stop-color="#f5f6f7"/><stop offset="0.438" stop-color="#df755d"/><stop offset="0.500" stop-color="#d8e8f1"/><stop offset="0.562" stop-color="#df755d"/><stop offset="0.625" stop-color="#f5f6f7"/><stop offset="0.688" stop-color="#f09b7a"/><stop offset="0.750" stop-color="#f6b293"/><stop offset="0.812" stop-color="#fac7ae"/><stop offset="0.875" stop-color="#c2373a"/><stop offset="0.938" stop-color="#fce0d0"/><stop offset="1.000" stop-color="#9a1027"/></linearGradient><linearGradient id="g1060_2v" x1="0" x2="0" y1="0" y2="1"><stop offset="0.000" stop-color="#9a1027"/><stop offset="0.062" stop-color="#fce0d0"/><stop offset="0.125" stop-color="#c2373a"/><stop offset="0.188" stop-color="#fac7ae"/><stop offset="0.250" stop-color="#f6b293"/><stop offset="0.312" stop-color="#f09b7a"/><stop offset="0.375" stop-color="#f5f6f7"/><stop offset="0.438" stop-color="#df755d"/><stop offset="0.500" stop-color="#d8e8f1"/><stop offset="0.562" stop-color="#df755d"/><stop offset="0.625" stop-color="#f5f6f7"/><stop offset="0.688" stop-color="#f09b7a"/><stop offset="0.750" stop-color="#f6b293"/><stop offset="0.812" stop-color="#fac7ae"/><stop offset="0.875" stop-color="#c2373a"/><stop offset="0.938" stop-color="#fce0d0"/><stop offset="1.000" stop-color="#9a1027"/></linearGradient></defs><rect x="1.35" y="1.35" width="267.2" height="270.1" fill="url(#g1060_2h)"/><rect x="1.35" y="5.35" width="9" height="266.1" fill="url(#g1060_2v)"/><rect x="1.35" y="1.35" width="267.2" height="270.1" fill="none" stroke="#000" stroke-width="2.7"/></svg><svg style="left:1055.3px;top:678.3px" width="269.9" height="272.8"><defs><linearGradient id="g1060_1h" x1="0" x2="1" y1="0" y2="0"><stop offset="0.000" stop-color="#9a1027"/><stop offset="0.062" stop-color="#fce0d0"/><stop offset="0.125" stop-color="#c2373a"/><stop offset="0.188" stop-color="#fac7ae"/><stop offset="0.250" stop-color="#f6b293"/><stop offset="0.312" stop-color="#f09b7a"/><stop offset="0.375" stop-color="#f5f6f7"/><stop offset="0.438" stop-color="#df755d"/><stop offset="0.500" stop-color="#d8e8f1"/><stop offset="0.562" stop-color="#df755d"/><stop offset="0.625" stop-color="#f5f6f7"/><stop offset="0.688" stop-color="#f09b7a"/><stop offset="0.750" stop-color="#f6b293"/><stop offset="0.812" stop-color="#fac7ae"/><stop offset="0.875" stop-color="#c2373a"/><stop offset="0.938" stop-color="#fce0d0"/><stop offset="1.000" stop-color="#9a1027"/></linearGradient><linearGradient id="g1060_1v" x1="0" x2="0" y1="0" y2="1"><stop offset="0.000" stop-color="#9a1027"/><stop offset="0.062" stop-color="#fce0d0"/><stop offset="0.125" stop-color="#c2373a"/><stop offset="0.188" stop-color="#fac7ae"/><stop offset="0.250" stop-color="#f6b293"/><stop offset="0.312" stop-color="#f09b7a"/><stop offset="0.375" stop-color="#f5f6f7"/><stop offset="0.438" stop-color="#df755d"/><stop offset="0.500" stop-color="#d8e8f1"/><stop offset="0.562" stop-color="#df755d"/><stop offset="0.625" stop-color="#f5f6f7"/><stop offset="0.688" stop-color="#f09b7a"/><stop offset="0.750" stop-color="#f6b293"/><stop offset="0.812" stop-color="#fac7ae"/><stop offset="0.875" stop-color="#c2373a"/><stop offset="0.938" stop-color="#fce0d0"/><stop offset="1.000" stop-color="#9a1027"/></linearGradient></defs><rect x="1.35" y="1.35" width="267.2" height="270.1" fill="url(#g1060_1h)"/><rect x="1.35" y="5.35" width="9" height="266.1" fill="url(#g1060_1v)"/><rect x="1.35" y="1.35" width="267.2" height="270.1" fill="none" stroke="#000" stroke-width="2.7"/></svg>
<svg style="left:1062.1px;top:684.2px;overflow:hidden" width="267.2" height="270.1" viewBox="0 0 56 56" preserveAspectRatio="none" shape-rendering="crispEdges"><g id="biasg"><path fill="#053061" d="M27 27h2v1h-2zM27 28h2v1h-2z"/><path fill="#0f447d" d="M27 19h2v1h-2zM20 20h1v1h-1zM27 20h2v1h-2zM35 20h1v1h-1zM19 27h2v1h-2zM35 27h2v1h-2zM19 28h2v1h-2zM35 28h2v1h-2zM20 35h1v1h-1zM27 35h2v1h-2zM35 35h1v1h-1zM27 36h2v1h-2z"/><path fill="#1a5899" d="M27 12h2v1h-2zM19 19h2v1h-2zM35 19h2v1h-2zM19 20h1v1h-1zM36 20h1v1h-1zM12 27h1v1h-1zM43 27h1v1h-1zM12 28h1v1h-1zM43 28h1v1h-1zM19 35h1v1h-1zM36 35h1v1h-1zM19 36h2v1h-2zM35 36h2v1h-2zM27 43h2v1h-2z"/><path fill="#256baf" d="M20 11h1v1h-1zM27 11h2v1h-2zM35 11h1v1h-1zM19 12h2v1h-2zM35 12h2v1h-2zM12 19h1v1h-1zM43 19h1v1h-1zM11 20h2v1h-2zM26 20h1v1h-1zM29 20h1v1h-1zM43 20h2v1h-2zM27 21h2v1h-2zM20 26h1v1h-1zM27 26h2v1h-2zM35 26h1v1h-1zM11 27h1v1h-1zM21 27h1v1h-1zM26 27h1v1h-1zM29 27h1v1h-1zM34 27h1v1h-1zM44 27h1v1h-1zM11 28h1v1h-1zM21 28h1v1h-1zM26 28h1v1h-1zM29 28h1v1h-1zM34 28h1v1h-1zM44 28h1v1h-1zM20 29h1v1h-1zM27 29h2v1h-2zM35 29h1v1h-1zM27 34h2v1h-2zM11 35h2v1h-2zM26 35h1v1h-1zM29 35h1v1h-1zM43 35h2v1h-2zM12 36h1v1h-1zM43 36h1v1h-1zM19 43h2v1h-2zM35 43h2v1h-2zM20 44h1v1h-1zM27 44h2v1h-2zM35 44h1v1h-1z"/><path fill="#317cb7" d="M27 3h2v1h-2zM27 4h2v1h-2zM19 11h1v1h-1zM36 11h1v1h-1zM20 18h1v1h-1zM27 18h2v1h-2zM35 18h1v1h-1zM11 19h1v1h-1zM21 19h1v1h-1zM26 19h1v1h-1zM29 19h1v1h-1zM34 19h1v1h-1zM44 19h1v1h-1zM18 20h1v1h-1zM21 20h1v1h-1zM34 20h1v1h-1zM37 20h1v1h-1zM19 21h2v1h-2zM35 21h2v1h-2zM19 26h1v1h-1zM36 26h1v1h-1zM3 27h2v1h-2zM18 27h1v1h-1zM37 27h1v1h-1zM51 27h2v1h-2zM3 28h2v1h-2zM18 28h1v1h-1zM37 28h1v1h-1zM51 28h2v1h-2zM19 29h1v1h-1zM36 29h1v1h-1zM19 34h2v1h-2zM35 34h2v1h-2zM18 35h1v1h-1zM21 35h1v1h-1zM34 35h1v1h-1zM37 35h1v1h-1zM11 36h1v1h-1zM21 36h1v1h-1zM26 36h1v1h-1zM29 36h1v1h-1zM34 36h1v1h-1zM44 36h1v1h-1zM20 37h1v1h-1zM27 37h2v1h-2zM35 37h1v1h-1zM19 44h1v1h-1zM36 44h1v1h-1zM27 51h2v1h-2zM27 52h2v1h-2z"/><path fill="#3e8cc0" d="M19 3h2v1h-2zM35 3h2v1h-2zM19 4h2v1h-2zM35 4h2v1h-2zM27 10h2v1h-2zM11 11h2v1h-2zM26 11h1v1h-1zM29 11h1v1h-1zM43 11h2v1h-2zM11 12h2v1h-2zM26 12h1v1h-1zM29 12h1v1h-1zM43 12h2v1h-2zM20 13h1v1h-1zM27 13h2v1h-2zM35 13h1v1h-1zM19 18h1v1h-1zM36 18h1v1h-1zM3 19h2v1h-2zM18 19h1v1h-1zM37 19h1v1h-1zM51 19h2v1h-2zM3 20h2v1h-2zM13 20h1v1h-1zM42 20h1v1h-1zM51 20h2v1h-2zM11 26h2v1h-2zM26 26h1v1h-1zM29 26h1v1h-1zM43 26h2v1h-2zM10 27h1v1h-1zM13 27h1v1h-1zM42 27h1v1h-1zM45 27h1v1h-1zM10 28h1v1h-1zM13 28h1v1h-1zM42 28h1v1h-1zM45 28h1v1h-1zM11 29h2v1h-2zM26 29h1v1h-1zM29 29h1v1h-1zM43 29h2v1h-2zM3 35h2v1h-2zM13 35h1v1h-1zM42 35h1v1h-1zM51 35h2v1h-2zM3 36h2v1h-2zM18 36h1v1h-1zM37 36h1v1h-1zM51 36h2v1h-2zM19 37h1v1h-1zM36 37h1v1h-1zM20 42h1v1h-1zM27 42h2v1h-2zM35 42h1v1h-1zM11 43h2v1h-2zM26 43h1v1h-1zM29 43h1v1h-1zM43 43h2v1h-2zM11 44h2v1h-2zM26 44h1v1h-1zM29 44h1v1h-1zM43 44h2v1h-2zM27 45h2v1h-2zM19 51h2v1h-2zM35 51h2v1h-2zM19 52h2v1h-2zM35 52h2v1h-2z"/><path fill="#559ec9" d="M12 3h1v1h-1zM43 3h1v1h-1zM12 4h1v1h-1zM43 4h1v1h-1zM27 5h2v1h-2zM19 10h2v1h-2zM35 10h2v1h-2zM18 11h1v1h-1zM21 11h1v1h-1zM34 11h1v1h-1zM37 11h1v1h-1zM3 12h2v1h-2zM18 12h1v1h-1zM21 12h1v1h-1zM34 12h1v1h-1zM37 12h1v1h-1zM51 12h2v1h-2zM19 13h1v1h-1zM36 13h1v1h-1zM11 18h2v1h-2zM26 18h1v1h-1zM29 18h1v1h-1zM43 18h2v1h-2zM10 19h1v1h-1zM13 19h1v1h-1zM42 19h1v1h-1zM45 19h1v1h-1zM10 20h1v1h-1zM45 20h1v1h-1zM11 21h2v1h-2zM21 21h1v1h-1zM26 21h1v1h-1zM29 21h1v1h-1zM34 21h1v1h-1zM43 21h2v1h-2zM27 25h2v1h-2zM18 26h1v1h-1zM21 26h1v1h-1zM34 26h1v1h-1zM37 26h1v1h-1zM5 27h1v1h-1zM25 27h1v1h-1zM30 27h1v1h-1zM50 27h1v1h-1zM5 28h1v1h-1zM25 28h1v1h-1zM30 28h1v1h-1zM50 28h1v1h-1zM18 29h1v1h-1zM21 29h1v1h-1zM34 29h1v1h-1zM37 29h1v1h-1zM27 30h2v1h-2zM11 34h2v1h-2zM21 34h1v1h-1zM26 34h1v1h-1zM29 34h1v1h-1zM34 34h1v1h-1zM43 34h2v1h-2zM10 35h1v1h-1zM45 35h1v1h-1zM10 36h1v1h-1zM13 36h1v1h-1zM42 36h1v1h-1zM45 36h1v1h-1zM11 37h2v1h-2zM26 37h1v1h-1zM29 37h1v1h-1zM43 37h2v1h-2zM19 42h1v1h-1zM36 42h1v1h-1zM3 43h2v1h-2zM18 43h1v1h-1zM21 43h1v1h-1zM34 43h1v1h-1zM37 43h1v1h-1zM51 43h2v1h-2zM18 44h1v1h-1zM21 44h1v1h-1zM34 44h1v1h-1zM37 44h1v1h-1zM19 45h2v1h-2zM35 45h2v1h-2zM27 50h2v1h-2zM12 51h1v1h-1zM43 51h1v1h-1zM12 52h1v1h-1zM43 52h1v1h-1z"/><path fill="#72b1d3" d="M20 2h1v1h-1zM27 2h2v1h-2zM35 2h1v1h-1zM11 3h1v1h-1zM21 3h1v1h-1zM26 3h1v1h-1zM29 3h1v1h-1zM34 3h1v1h-1zM44 3h1v1h-1zM11 4h1v1h-1zM21 4h1v1h-1zM26 4h1v1h-1zM29 4h1v1h-1zM34 4h1v1h-1zM44 4h1v1h-1zM19 5h2v1h-2zM35 5h2v1h-2zM3 11h2v1h-2zM13 11h1v1h-1zM42 11h1v1h-1zM51 11h2v1h-2zM13 12h1v1h-1zM42 12h1v1h-1zM11 13h2v1h-2zM26 13h1v1h-1zM29 13h1v1h-1zM43 13h2v1h-2zM18 18h1v1h-1zM21 18h1v1h-1zM34 18h1v1h-1zM37 18h1v1h-1zM5 19h1v1h-1zM25 19h1v1h-1zM30 19h1v1h-1zM50 19h1v1h-1zM2 20h1v1h-1zM5 20h1v1h-1zM22 20h1v1h-1zM25 20h1v1h-1zM30 20h1v1h-1zM33 20h1v1h-1zM50 20h1v1h-1zM53 20h1v1h-1zM3 21h2v1h-2zM18 21h1v1h-1zM37 21h1v1h-1zM51 21h2v1h-2zM20 22h1v1h-1zM27 22h2v1h-2zM35 22h1v1h-1zM19 25h2v1h-2zM35 25h2v1h-2zM3 26h2v1h-2zM13 26h1v1h-1zM42 26h1v1h-1zM51 26h2v1h-2zM2 27h1v1h-1zM22 27h1v1h-1zM33 27h1v1h-1zM53 27h1v1h-1zM2 28h1v1h-1zM22 28h1v1h-1zM33 28h1v1h-1zM53 28h1v1h-1zM3 29h2v1h-2zM13 29h1v1h-1zM42 29h1v1h-1zM51 29h2v1h-2zM19 30h2v1h-2zM35 30h2v1h-2zM20 33h1v1h-1zM27 33h2v1h-2zM35 33h1v1h-1zM3 34h2v1h-2zM18 34h1v1h-1zM37 34h1v1h-1zM51 34h2v1h-2zM2 35h1v1h-1zM5 35h1v1h-1zM22 35h1v1h-1zM25 35h1v1h-1zM30 35h1v1h-1zM33 35h1v1h-1zM50 35h1v1h-1zM53 35h1v1h-1zM5 36h1v1h-1zM25 36h1v1h-1zM30 36h1v1h-1zM50 36h1v1h-1zM18 37h1v1h-1zM21 37h1v1h-1zM34 37h1v1h-1zM37 37h1v1h-1zM11 42h2v1h-2zM26 42h1v1h-1zM29 42h1v1h-1zM43 42h2v1h-2zM13 43h1v1h-1zM42 43h1v1h-1zM3 44h2v1h-2zM13 44h1v1h-1zM42 44h1v1h-1zM51 44h2v1h-2zM19 50h2v1h-2zM35 50h2v1h-2zM11 51h1v1h-1zM21 51h1v1h-1zM26 51h1v1h-1zM29 51h1v1h-1zM34 51h1v1h-1zM44 51h1v1h-1zM11 52h1v1h-1zM21 52h1v1h-1zM26 52h1v1h-1zM29 52h1v1h-1zM34 52h1v1h-1zM44 52h1v1h-1zM20 53h1v1h-1zM27 53h2v1h-2zM35 53h1v1h-1z"/><path fill="#8fc3dd" d="M19 2h1v1h-1zM36 2h1v1h-1zM3 3h2v1h-2zM18 3h1v1h-1zM37 3h1v1h-1zM51 3h2v1h-2zM3 4h2v1h-2zM18 4h1v1h-1zM37 4h1v1h-1zM51 4h2v1h-2zM11 10h2v1h-2zM26 10h1v1h-1zM29 10h1v1h-1zM43 10h2v1h-2zM10 11h1v1h-1zM45 11h1v1h-1zM10 12h1v1h-1zM45 12h1v1h-1zM18 13h1v1h-1zM21 13h1v1h-1zM34 13h1v1h-1zM37 13h1v1h-1zM27 14h2v1h-2zM19 17h2v1h-2zM27 17h2v1h-2zM35 17h2v1h-2zM3 18h2v1h-2zM13 18h1v1h-1zM42 18h1v1h-1zM51 18h2v1h-2zM2 19h1v1h-1zM17 19h1v1h-1zM22 19h1v1h-1zM33 19h1v1h-1zM38 19h1v1h-1zM53 19h1v1h-1zM17 20h1v1h-1zM38 20h1v1h-1zM13 21h1v1h-1zM42 21h1v1h-1zM19 22h1v1h-1zM36 22h1v1h-1zM10 26h1v1h-1zM45 26h1v1h-1zM14 27h1v1h-1zM17 27h1v1h-1zM38 27h1v1h-1zM41 27h1v1h-1zM14 28h1v1h-1zM17 28h1v1h-1zM38 28h1v1h-1zM41 28h1v1h-1zM10 29h1v1h-1zM45 29h1v1h-1zM19 33h1v1h-1zM36 33h1v1h-1zM13 34h1v1h-1zM42 34h1v1h-1zM17 35h1v1h-1zM38 35h1v1h-1zM2 36h1v1h-1zM17 36h1v1h-1zM22 36h1v1h-1zM33 36h1v1h-1zM38 36h1v1h-1zM53 36h1v1h-1zM3 37h2v1h-2zM13 37h1v1h-1zM42 37h1v1h-1zM51 37h2v1h-2zM19 38h2v1h-2zM27 38h2v1h-2zM35 38h2v1h-2zM27 41h2v1h-2zM18 42h1v1h-1zM21 42h1v1h-1zM34 42h1v1h-1zM37 42h1v1h-1zM10 43h1v1h-1zM45 43h1v1h-1zM10 44h1v1h-1zM45 44h1v1h-1zM11 45h2v1h-2zM26 45h1v1h-1zM29 45h1v1h-1zM43 45h2v1h-2zM3 51h2v1h-2zM18 51h1v1h-1zM37 51h1v1h-1zM51 51h2v1h-2zM3 52h2v1h-2zM18 52h1v1h-1zM37 52h1v1h-1zM51 52h2v1h-2zM19 53h1v1h-1zM36 53h1v1h-1z"/><path fill="#a7d0e4" d="M11 2h2v1h-2zM26 2h1v1h-1zM29 2h1v1h-1zM43 2h2v1h-2zM10 3h1v1h-1zM13 3h1v1h-1zM42 3h1v1h-1zM45 3h1v1h-1zM10 4h1v1h-1zM13 4h1v1h-1zM42 4h1v1h-1zM45 4h1v1h-1zM11 5h2v1h-2zM26 5h1v1h-1zM29 5h1v1h-1zM43 5h2v1h-2zM27 9h2v1h-2zM3 10h2v1h-2zM18 10h1v1h-1zM21 10h1v1h-1zM34 10h1v1h-1zM37 10h1v1h-1zM51 10h2v1h-2zM2 11h1v1h-1zM5 11h1v1h-1zM22 11h1v1h-1zM25 11h1v1h-1zM30 11h1v1h-1zM33 11h1v1h-1zM50 11h1v1h-1zM53 11h1v1h-1zM2 12h1v1h-1zM5 12h1v1h-1zM22 12h1v1h-1zM25 12h1v1h-1zM30 12h1v1h-1zM33 12h1v1h-1zM50 12h1v1h-1zM53 12h1v1h-1zM3 13h2v1h-2zM51 13h2v1h-2zM19 14h2v1h-2zM35 14h2v1h-2zM10 18h1v1h-1zM45 18h1v1h-1zM14 19h1v1h-1zM41 19h1v1h-1zM14 20h1v1h-1zM41 20h1v1h-1zM10 21h1v1h-1zM45 21h1v1h-1zM11 22h2v1h-2zM26 22h1v1h-1zM29 22h1v1h-1zM43 22h2v1h-2zM27 23h2v1h-2zM27 24h2v1h-2zM11 25h2v1h-2zM26 25h1v1h-1zM29 25h1v1h-1zM43 25h2v1h-2zM2 26h1v1h-1zM5 26h1v1h-1zM22 26h1v1h-1zM25 26h1v1h-1zM30 26h1v1h-1zM33 26h1v1h-1zM50 26h1v1h-1zM53 26h1v1h-1zM9 27h1v1h-1zM23 27h2v1h-2zM31 27h2v1h-2zM46 27h1v1h-1zM9 28h1v1h-1zM23 28h2v1h-2zM31 28h2v1h-2zM46 28h1v1h-1zM2 29h1v1h-1zM5 29h1v1h-1zM22 29h1v1h-1zM25 29h1v1h-1zM30 29h1v1h-1zM33 29h1v1h-1zM50 29h1v1h-1zM53 29h1v1h-1zM11 30h2v1h-2zM26 30h1v1h-1zM29 30h1v1h-1zM43 30h2v1h-2zM27 31h2v1h-2zM27 32h2v1h-2zM11 33h2v1h-2zM26 33h1v1h-1zM29 33h1v1h-1zM43 33h2v1h-2zM10 34h1v1h-1zM45 34h1v1h-1zM14 35h1v1h-1zM41 35h1v1h-1zM14 36h1v1h-1zM41 36h1v1h-1zM10 37h1v1h-1zM45 37h1v1h-1zM19 41h2v1h-2zM35 41h2v1h-2zM3 42h2v1h-2zM51 42h2v1h-2zM2 43h1v1h-1zM5 43h1v1h-1zM22 43h1v1h-1zM25 43h1v1h-1zM30 43h1v1h-1zM33 43h1v1h-1zM50 43h1v1h-1zM53 43h1v1h-1zM2 44h1v1h-1zM5 44h1v1h-1zM22 44h1v1h-1zM25 44h1v1h-1zM30 44h1v1h-1zM33 44h1v1h-1zM50 44h1v1h-1zM53 44h1v1h-1zM3 45h2v1h-2zM18 45h1v1h-1zM21 45h1v1h-1zM34 45h1v1h-1zM37 45h1v1h-1zM51 45h2v1h-2zM27 46h2v1h-2zM11 50h2v1h-2zM26 50h1v1h-1zM29 50h1v1h-1zM43 50h2v1h-2zM10 51h1v1h-1zM13 51h1v1h-1zM42 51h1v1h-1zM45 51h1v1h-1zM10 52h1v1h-1zM13 52h1v1h-1zM42 52h1v1h-1zM45 52h1v1h-1zM11 53h2v1h-2zM26 53h1v1h-1zM29 53h1v1h-1zM43 53h2v1h-2z"/><path fill="#bedceb" d="M27 1h2v1h-2zM18 2h1v1h-1zM21 2h1v1h-1zM34 2h1v1h-1zM37 2h1v1h-1zM5 3h1v1h-1zM25 3h1v1h-1zM30 3h1v1h-1zM50 3h1v1h-1zM5 4h1v1h-1zM25 4h1v1h-1zM30 4h1v1h-1zM50 4h1v1h-1zM3 5h2v1h-2zM18 5h1v1h-1zM21 5h1v1h-1zM34 5h1v1h-1zM37 5h1v1h-1zM51 5h2v1h-2zM27 6h2v1h-2zM19 9h2v1h-2zM35 9h2v1h-2zM13 10h1v1h-1zM42 10h1v1h-1zM17 11h1v1h-1zM38 11h1v1h-1zM17 12h1v1h-1zM38 12h1v1h-1zM10 13h1v1h-1zM13 13h1v1h-1zM42 13h1v1h-1zM45 13h1v1h-1zM27 16h2v1h-2zM11 17h2v1h-2zM26 17h1v1h-1zM29 17h1v1h-1zM43 17h2v1h-2zM2 18h1v1h-1zM5 18h1v1h-1zM22 18h1v1h-1zM25 18h1v1h-1zM30 18h1v1h-1zM33 18h1v1h-1zM50 18h1v1h-1zM53 18h1v1h-1zM9 19h1v1h-1zM23 19h2v1h-2zM31 19h2v1h-2zM46 19h1v1h-1zM9 20h1v1h-1zM23 20h2v1h-2zM31 20h2v1h-2zM46 20h1v1h-1zM2 21h1v1h-1zM5 21h1v1h-1zM22 21h1v1h-1zM25 21h1v1h-1zM30 21h1v1h-1zM33 21h1v1h-1zM50 21h1v1h-1zM53 21h1v1h-1zM18 22h1v1h-1zM21 22h1v1h-1zM34 22h1v1h-1zM37 22h1v1h-1zM19 23h2v1h-2zM35 23h2v1h-2zM19 24h2v1h-2zM35 24h2v1h-2zM3 25h2v1h-2zM18 25h1v1h-1zM21 25h1v1h-1zM34 25h1v1h-1zM37 25h1v1h-1zM51 25h2v1h-2zM17 26h1v1h-1zM38 26h1v1h-1zM1 27h1v1h-1zM6 27h1v1h-1zM16 27h1v1h-1zM39 27h1v1h-1zM49 27h1v1h-1zM54 27h1v1h-1zM1 28h1v1h-1zM6 28h1v1h-1zM16 28h1v1h-1zM39 28h1v1h-1zM49 28h1v1h-1zM54 28h1v1h-1zM17 29h1v1h-1zM38 29h1v1h-1zM3 30h2v1h-2zM18 30h1v1h-1zM21 30h1v1h-1zM34 30h1v1h-1zM37 30h1v1h-1zM51 30h2v1h-2zM19 31h2v1h-2zM35 31h2v1h-2zM19 32h2v1h-2zM35 32h2v1h-2zM18 33h1v1h-1zM21 33h1v1h-1zM34 33h1v1h-1zM37 33h1v1h-1zM2 34h1v1h-1zM5 34h1v1h-1zM22 34h1v1h-1zM25 34h1v1h-1zM30 34h1v1h-1zM33 34h1v1h-1zM50 34h1v1h-1zM53 34h1v1h-1zM9 35h1v1h-1zM23 35h2v1h-2zM31 35h2v1h-2zM46 35h1v1h-1zM9 36h1v1h-1zM23 36h2v1h-2zM31 36h2v1h-2zM46 36h1v1h-1zM2 37h1v1h-1zM5 37h1v1h-1zM22 37h1v1h-1zM25 37h1v1h-1zM30 37h1v1h-1zM33 37h1v1h-1zM50 37h1v1h-1zM53 37h1v1h-1zM11 38h2v1h-2zM26 38h1v1h-1zM29 38h1v1h-1zM43 38h2v1h-2zM27 39h2v1h-2zM10 42h1v1h-1zM13 42h1v1h-1zM42 42h1v1h-1zM45 42h1v1h-1zM17 43h1v1h-1zM38 43h1v1h-1zM17 44h1v1h-1zM38 44h1v1h-1zM13 45h1v1h-1zM42 45h1v1h-1zM19 46h2v1h-2zM35 46h2v1h-2zM27 49h2v1h-2zM3 50h2v1h-2zM18 50h1v1h-1zM21 50h1v1h-1zM34 50h1v1h-1zM37 50h1v1h-1zM51 50h2v1h-2zM5 51h1v1h-1zM25 51h1v1h-1zM30 51h1v1h-1zM50 51h1v1h-1zM5 52h1v1h-1zM25 52h1v1h-1zM30 52h1v1h-1zM50 52h1v1h-1zM18 53h1v1h-1zM21 53h1v1h-1zM34 53h1v1h-1zM37 53h1v1h-1zM27 54h2v1h-2z"/><path fill="#d4e6f1" d="M19 1h2v1h-2zM35 1h2v1h-2zM3 2h2v1h-2zM51 2h2v1h-2zM2 3h1v1h-1zM22 3h1v1h-1zM33 3h1v1h-1zM53 3h1v1h-1zM2 4h1v1h-1zM17 4h1v1h-1zM22 4h1v1h-1zM33 4h1v1h-1zM38 4h1v1h-1zM53 4h1v1h-1zM13 5h1v1h-1zM42 5h1v1h-1zM19 6h2v1h-2zM35 6h2v1h-2zM10 10h1v1h-1zM45 10h1v1h-1zM14 11h1v1h-1zM41 11h1v1h-1zM14 12h1v1h-1zM41 12h1v1h-1zM5 13h1v1h-1zM25 13h1v1h-1zM30 13h1v1h-1zM50 13h1v1h-1zM11 14h2v1h-2zM21 14h1v1h-1zM26 14h1v1h-1zM29 14h1v1h-1zM34 14h1v1h-1zM43 14h2v1h-2zM20 15h1v1h-1zM27 15h2v1h-2zM35 15h1v1h-1zM19 16h2v1h-2zM35 16h2v1h-2zM4 17h1v1h-1zM18 17h1v1h-1zM21 17h1v1h-1zM34 17h1v1h-1zM37 17h1v1h-1zM51 17h1v1h-1zM17 18h1v1h-1zM38 18h1v1h-1zM1 19h1v1h-1zM6 19h1v1h-1zM16 19h1v1h-1zM39 19h1v1h-1zM49 19h1v1h-1zM54 19h1v1h-1zM1 20h1v1h-1zM6 20h1v1h-1zM15 20h2v1h-2zM39 20h2v1h-2zM49 20h1v1h-1zM54 20h1v1h-1zM14 21h1v1h-1zM17 21h1v1h-1zM38 21h1v1h-1zM41 21h1v1h-1zM3 22h2v1h-2zM51 22h2v1h-2zM13 25h1v1h-1zM42 25h1v1h-1zM14 26h1v1h-1zM41 26h1v1h-1zM15 27h1v1h-1zM40 27h1v1h-1zM15 28h1v1h-1zM40 28h1v1h-1zM14 29h1v1h-1zM41 29h1v1h-1zM13 30h1v1h-1zM42 30h1v1h-1zM3 33h2v1h-2zM51 33h2v1h-2zM14 34h1v1h-1zM17 34h1v1h-1zM38 34h1v1h-1zM41 34h1v1h-1zM1 35h1v1h-1zM6 35h1v1h-1zM15 35h2v1h-2zM39 35h2v1h-2zM49 35h1v1h-1zM54 35h1v1h-1zM1 36h1v1h-1zM6 36h1v1h-1zM16 36h1v1h-1zM39 36h1v1h-1zM49 36h1v1h-1zM54 36h1v1h-1zM17 37h1v1h-1zM38 37h1v1h-1zM4 38h1v1h-1zM18 38h1v1h-1zM21 38h1v1h-1zM34 38h1v1h-1zM37 38h1v1h-1zM51 38h1v1h-1zM19 39h2v1h-2zM35 39h2v1h-2zM20 40h1v1h-1zM27 40h2v1h-2zM35 40h1v1h-1zM11 41h2v1h-2zM21 41h1v1h-1zM26 41h1v1h-1zM29 41h1v1h-1zM34 41h1v1h-1zM43 41h2v1h-2zM5 42h1v1h-1zM25 42h1v1h-1zM30 42h1v1h-1zM50 42h1v1h-1zM14 43h1v1h-1zM41 43h1v1h-1zM14 44h1v1h-1zM41 44h1v1h-1zM10 45h1v1h-1zM45 45h1v1h-1zM19 49h2v1h-2zM35 49h2v1h-2zM13 50h1v1h-1zM42 50h1v1h-1zM2 51h1v1h-1zM17 51h1v1h-1zM22 51h1v1h-1zM33 51h1v1h-1zM38 51h1v1h-1zM53 51h1v1h-1zM2 52h1v1h-1zM22 52h1v1h-1zM33 52h1v1h-1zM53 52h1v1h-1zM3 53h2v1h-2zM51 53h2v1h-2zM19 54h2v1h-2zM35 54h2v1h-2z"/><path fill="#e2edf3" d="M10 2h1v1h-1zM13 2h1v1h-1zM42 2h1v1h-1zM45 2h1v1h-1zM14 3h1v1h-1zM17 3h1v1h-1zM38 3h1v1h-1zM41 3h1v1h-1zM14 4h1v1h-1zM41 4h1v1h-1zM10 5h1v1h-1zM45 5h1v1h-1zM12 6h1v1h-1zM43 6h1v1h-1zM27 7h2v1h-2zM27 8h2v1h-2zM11 9h2v1h-2zM26 9h1v1h-1zM29 9h1v1h-1zM43 9h2v1h-2zM2 10h1v1h-1zM5 10h1v1h-1zM22 10h1v1h-1zM25 10h1v1h-1zM30 10h1v1h-1zM33 10h1v1h-1zM50 10h1v1h-1zM53 10h1v1h-1zM9 11h1v1h-1zM23 11h2v1h-2zM31 11h2v1h-2zM46 11h1v1h-1zM6 12h1v1h-1zM9 12h1v1h-1zM23 12h2v1h-2zM31 12h2v1h-2zM46 12h1v1h-1zM49 12h1v1h-1zM2 13h1v1h-1zM17 13h1v1h-1zM22 13h1v1h-1zM33 13h1v1h-1zM38 13h1v1h-1zM53 13h1v1h-1zM3 14h2v1h-2zM18 14h1v1h-1zM37 14h1v1h-1zM51 14h2v1h-2zM19 15h1v1h-1zM36 15h1v1h-1zM3 17h1v1h-1zM13 17h1v1h-1zM42 17h1v1h-1zM52 17h1v1h-1zM14 18h1v1h-1zM41 18h1v1h-1zM15 19h1v1h-1zM40 19h1v1h-1zM23 21h2v1h-2zM31 21h2v1h-2zM10 22h1v1h-1zM13 22h1v1h-1zM42 22h1v1h-1zM45 22h1v1h-1zM11 23h2v1h-2zM21 23h1v1h-1zM26 23h1v1h-1zM29 23h1v1h-1zM34 23h1v1h-1zM43 23h2v1h-2zM11 24h2v1h-2zM21 24h1v1h-1zM26 24h1v1h-1zM29 24h1v1h-1zM34 24h1v1h-1zM43 24h2v1h-2zM10 25h1v1h-1zM45 25h1v1h-1zM9 26h1v1h-1zM23 26h2v1h-2zM31 26h2v1h-2zM46 26h1v1h-1zM7 27h2v1h-2zM47 27h2v1h-2zM7 28h2v1h-2zM47 28h2v1h-2zM9 29h1v1h-1zM23 29h2v1h-2zM31 29h2v1h-2zM46 29h1v1h-1zM10 30h1v1h-1zM45 30h1v1h-1zM11 31h2v1h-2zM21 31h1v1h-1zM26 31h1v1h-1zM29 31h1v1h-1zM34 31h1v1h-1zM43 31h2v1h-2zM11 32h2v1h-2zM21 32h1v1h-1zM26 32h1v1h-1zM29 32h1v1h-1zM34 32h1v1h-1zM43 32h2v1h-2zM10 33h1v1h-1zM13 33h1v1h-1zM42 33h1v1h-1zM45 33h1v1h-1zM23 34h2v1h-2zM31 34h2v1h-2zM15 36h1v1h-1zM40 36h1v1h-1zM14 37h1v1h-1zM41 37h1v1h-1zM3 38h1v1h-1zM13 38h1v1h-1zM42 38h1v1h-1zM52 38h1v1h-1zM19 40h1v1h-1zM36 40h1v1h-1zM3 41h2v1h-2zM18 41h1v1h-1zM37 41h1v1h-1zM51 41h2v1h-2zM2 42h1v1h-1zM17 42h1v1h-1zM22 42h1v1h-1zM33 42h1v1h-1zM38 42h1v1h-1zM53 42h1v1h-1zM6 43h1v1h-1zM9 43h1v1h-1zM23 43h2v1h-2zM31 43h2v1h-2zM46 43h1v1h-1zM49 43h1v1h-1zM9 44h1v1h-1zM23 44h2v1h-2zM31 44h2v1h-2zM46 44h1v1h-1zM2 45h1v1h-1zM5 45h1v1h-1zM22 45h1v1h-1zM25 45h1v1h-1zM30 45h1v1h-1zM33 45h1v1h-1zM50 45h1v1h-1zM53 45h1v1h-1zM11 46h2v1h-2zM26 46h1v1h-1zM29 46h1v1h-1zM43 46h2v1h-2zM27 47h2v1h-2zM27 48h2v1h-2zM12 49h1v1h-1zM43 49h1v1h-1zM10 50h1v1h-1zM45 50h1v1h-1zM14 51h1v1h-1zM41 51h1v1h-1zM14 52h1v1h-1zM17 52h1v1h-1zM38 52h1v1h-1zM41 52h1v1h-1zM10 53h1v1h-1zM13 53h1v1h-1zM42 53h1v1h-1zM45 53h1v1h-1z"/><path fill="#f0f4f6" d="M27 0h2v1h-2zM11 1h2v1h-2zM26 1h1v1h-1zM29 1h1v1h-1zM43 1h2v1h-2zM2 2h1v1h-1zM5 2h1v1h-1zM22 2h1v1h-1zM25 2h1v1h-1zM30 2h1v1h-1zM33 2h1v1h-1zM50 2h1v1h-1zM53 2h1v1h-1zM9 3h1v1h-1zM23 3h2v1h-2zM31 3h2v1h-2zM46 3h1v1h-1zM9 4h1v1h-1zM23 4h2v1h-2zM31 4h2v1h-2zM46 4h1v1h-1zM2 5h1v1h-1zM5 5h1v1h-1zM22 5h1v1h-1zM25 5h1v1h-1zM30 5h1v1h-1zM33 5h1v1h-1zM50 5h1v1h-1zM53 5h1v1h-1zM11 6h1v1h-1zM21 6h1v1h-1zM26 6h1v1h-1zM29 6h1v1h-1zM34 6h1v1h-1zM44 6h1v1h-1zM19 7h2v1h-2zM35 7h2v1h-2zM19 8h2v1h-2zM35 8h2v1h-2zM3 9h2v1h-2zM18 9h1v1h-1zM21 9h1v1h-1zM34 9h1v1h-1zM37 9h1v1h-1zM51 9h2v1h-2zM17 10h1v1h-1zM38 10h1v1h-1zM1 11h1v1h-1zM6 11h1v1h-1zM15 11h2v1h-2zM39 11h2v1h-2zM49 11h1v1h-1zM54 11h1v1h-1zM1 12h1v1h-1zM15 12h2v1h-2zM39 12h2v1h-2zM54 12h1v1h-1zM14 13h1v1h-1zM41 13h1v1h-1zM13 14h1v1h-1zM42 14h1v1h-1zM11 15h2v1h-2zM26 15h1v1h-1zM29 15h1v1h-1zM43 15h2v1h-2zM11 16h2v1h-2zM26 16h1v1h-1zM29 16h1v1h-1zM43 16h2v1h-2zM10 17h1v1h-1zM45 17h1v1h-1zM9 18h1v1h-1zM23 18h2v1h-2zM31 18h2v1h-2zM46 18h1v1h-1zM7 19h2v1h-2zM47 19h2v1h-2zM7 20h2v1h-2zM47 20h2v1h-2zM6 21h1v1h-1zM9 21h1v1h-1zM46 21h1v1h-1zM49 21h1v1h-1zM2 22h1v1h-1zM5 22h1v1h-1zM22 22h1v1h-1zM25 22h1v1h-1zM30 22h1v1h-1zM33 22h1v1h-1zM50 22h1v1h-1zM53 22h1v1h-1zM3 23h2v1h-2zM18 23h1v1h-1zM37 23h1v1h-1zM51 23h2v1h-2zM3 24h2v1h-2zM18 24h1v1h-1zM37 24h1v1h-1zM51 24h2v1h-2zM2 25h1v1h-1zM5 25h1v1h-1zM22 25h1v1h-1zM25 25h1v1h-1zM30 25h1v1h-1zM33 25h1v1h-1zM50 25h1v1h-1zM53 25h1v1h-1zM1 26h1v1h-1zM6 26h1v1h-1zM15 26h2v1h-2zM39 26h2v1h-2zM49 26h1v1h-1zM54 26h1v1h-1zM0 27h1v1h-1zM55 27h1v1h-1zM0 28h1v1h-1zM55 28h1v1h-1zM1 29h1v1h-1zM6 29h1v1h-1zM15 29h2v1h-2zM39 29h2v1h-2zM49 29h1v1h-1zM54 29h1v1h-1zM2 30h1v1h-1zM5 30h1v1h-1zM22 30h1v1h-1zM25 30h1v1h-1zM30 30h1v1h-1zM33 30h1v1h-1zM50 30h1v1h-1zM53 30h1v1h-1zM3 31h2v1h-2zM18 31h1v1h-1zM37 31h1v1h-1zM51 31h2v1h-2zM3 32h2v1h-2zM18 32h1v1h-1zM37 32h1v1h-1zM51 32h2v1h-2zM2 33h1v1h-1zM5 33h1v1h-1zM22 33h1v1h-1zM25 33h1v1h-1zM30 33h1v1h-1zM33 33h1v1h-1zM50 33h1v1h-1zM53 33h1v1h-1zM6 34h1v1h-1zM9 34h1v1h-1zM46 34h1v1h-1zM49 34h1v1h-1zM7 35h2v1h-2zM47 35h2v1h-2zM7 36h2v1h-2zM47 36h2v1h-2zM9 37h1v1h-1zM23 37h2v1h-2zM31 37h2v1h-2zM46 37h1v1h-1zM10 38h1v1h-1zM45 38h1v1h-1zM11 39h2v1h-2zM26 39h1v1h-1zM29 39h1v1h-1zM43 39h2v1h-2zM11 40h2v1h-2zM26 40h1v1h-1zM29 40h1v1h-1zM43 40h2v1h-2zM13 41h1v1h-1zM42 41h1v1h-1zM14 42h1v1h-1zM41 42h1v1h-1zM1 43h1v1h-1zM15 43h2v1h-2zM39 43h2v1h-2zM54 43h1v1h-1zM1 44h1v1h-1zM6 44h1v1h-1zM15 44h2v1h-2zM39 44h2v1h-2zM49 44h1v1h-1zM54 44h1v1h-1zM17 45h1v1h-1zM38 45h1v1h-1zM3 46h2v1h-2zM18 46h1v1h-1zM21 46h1v1h-1zM34 46h1v1h-1zM37 46h1v1h-1zM51 46h2v1h-2zM19 47h2v1h-2zM35 47h2v1h-2zM19 48h2v1h-2zM35 48h2v1h-2zM11 49h1v1h-1zM21 49h1v1h-1zM26 49h1v1h-1zM29 49h1v1h-1zM34 49h1v1h-1zM44 49h1v1h-1zM2 50h1v1h-1zM5 50h1v1h-1zM22 50h1v1h-1zM25 50h1v1h-1zM30 50h1v1h-1zM33 50h1v1h-1zM50 50h1v1h-1zM53 50h1v1h-1zM9 51h1v1h-1zM23 51h2v1h-2zM31 51h2v1h-2zM46 51h1v1h-1zM9 52h1v1h-1zM23 52h2v1h-2zM31 52h2v1h-2zM46 52h1v1h-1zM2 53h1v1h-1zM5 53h1v1h-1zM22 53h1v1h-1zM25 53h1v1h-1zM30 53h1v1h-1zM33 53h1v1h-1zM50 53h1v1h-1zM53 53h1v1h-1zM11 54h2v1h-2zM26 54h1v1h-1zM29 54h1v1h-1zM43 54h2v1h-2zM27 55h2v1h-2z"/><path fill="#f8f2ee" d="M19 0h2v1h-2zM35 0h2v1h-2zM3 1h2v1h-2zM18 1h1v1h-1zM21 1h1v1h-1zM34 1h1v1h-1zM37 1h1v1h-1zM51 1h2v1h-2zM17 2h1v1h-1zM38 2h1v1h-1zM1 3h1v1h-1zM6 3h1v1h-1zM16 3h1v1h-1zM39 3h1v1h-1zM49 3h1v1h-1zM54 3h1v1h-1zM1 4h1v1h-1zM6 4h1v1h-1zM16 4h1v1h-1zM39 4h1v1h-1zM49 4h1v1h-1zM54 4h1v1h-1zM17 5h1v1h-1zM38 5h1v1h-1zM3 6h2v1h-2zM18 6h1v1h-1zM37 6h1v1h-1zM51 6h2v1h-2zM13 9h1v1h-1zM42 9h1v1h-1zM14 10h1v1h-1zM41 10h1v1h-1zM9 13h1v1h-1zM23 13h2v1h-2zM31 13h2v1h-2zM46 13h1v1h-1zM10 14h1v1h-1zM45 14h1v1h-1zM18 15h1v1h-1zM21 15h1v1h-1zM34 15h1v1h-1zM37 15h1v1h-1zM3 16h2v1h-2zM18 16h1v1h-1zM21 16h1v1h-1zM34 16h1v1h-1zM37 16h1v1h-1zM51 16h2v1h-2zM2 17h1v1h-1zM5 17h1v1h-1zM22 17h1v1h-1zM25 17h1v1h-1zM30 17h1v1h-1zM33 17h1v1h-1zM50 17h1v1h-1zM53 17h1v1h-1zM1 18h1v1h-1zM6 18h1v1h-1zM15 18h2v1h-2zM39 18h2v1h-2zM49 18h1v1h-1zM54 18h1v1h-1zM0 19h1v1h-1zM55 19h1v1h-1zM0 20h1v1h-1zM55 20h1v1h-1zM1 21h1v1h-1zM15 21h2v1h-2zM39 21h2v1h-2zM54 21h1v1h-1zM17 22h1v1h-1zM38 22h1v1h-1zM13 23h1v1h-1zM42 23h1v1h-1zM13 24h1v1h-1zM42 24h1v1h-1zM17 25h1v1h-1zM38 25h1v1h-1zM17 30h1v1h-1zM38 30h1v1h-1zM13 31h1v1h-1zM42 31h1v1h-1zM13 32h1v1h-1zM42 32h1v1h-1zM17 33h1v1h-1zM38 33h1v1h-1zM1 34h1v1h-1zM15 34h2v1h-2zM39 34h2v1h-2zM54 34h1v1h-1zM0 35h1v1h-1zM55 35h1v1h-1zM0 36h1v1h-1zM55 36h1v1h-1zM1 37h1v1h-1zM6 37h1v1h-1zM15 37h2v1h-2zM39 37h2v1h-2zM49 37h1v1h-1zM54 37h1v1h-1zM2 38h1v1h-1zM5 38h1v1h-1zM22 38h1v1h-1zM25 38h1v1h-1zM30 38h1v1h-1zM33 38h1v1h-1zM50 38h1v1h-1zM53 38h1v1h-1zM3 39h2v1h-2zM18 39h1v1h-1zM21 39h1v1h-1zM34 39h1v1h-1zM37 39h1v1h-1zM51 39h2v1h-2zM18 40h1v1h-1zM21 40h1v1h-1zM34 40h1v1h-1zM37 40h1v1h-1zM10 41h1v1h-1zM45 41h1v1h-1zM9 42h1v1h-1zM23 42h2v1h-2zM31 42h2v1h-2zM46 42h1v1h-1zM14 45h1v1h-1zM41 45h1v1h-1zM13 46h1v1h-1zM42 46h1v1h-1zM3 49h2v1h-2zM18 49h1v1h-1zM37 49h1v1h-1zM51 49h2v1h-2zM17 50h1v1h-1zM38 50h1v1h-1zM1 51h1v1h-1zM6 51h1v1h-1zM16 51h1v1h-1zM39 51h1v1h-1zM49 51h1v1h-1zM54 51h1v1h-1zM1 52h1v1h-1zM6 52h1v1h-1zM16 52h1v1h-1zM39 52h1v1h-1zM49 52h1v1h-1zM54 52h1v1h-1zM17 53h1v1h-1zM38 53h1v1h-1zM3 54h2v1h-2zM18 54h1v1h-1zM21 54h1v1h-1zM34 54h1v1h-1zM37 54h1v1h-1zM51 54h2v1h-2zM19 55h2v1h-2zM35 55h2v1h-2z"/><path fill="#fae7dc" d="M13 1h1v1h-1zM42 1h1v1h-1zM14 2h1v1h-1zM41 2h1v1h-1zM15 3h1v1h-1zM40 3h1v1h-1zM15 4h1v1h-1zM40 4h1v1h-1zM14 5h1v1h-1zM24 5h1v1h-1zM31 5h1v1h-1zM41 5h1v1h-1zM10 6h1v1h-1zM13 6h1v1h-1zM42 6h1v1h-1zM45 6h1v1h-1zM11 7h2v1h-2zM26 7h1v1h-1zM29 7h1v1h-1zM43 7h2v1h-2zM11 8h2v1h-2zM21 8h1v1h-1zM26 8h1v1h-1zM29 8h1v1h-1zM34 8h1v1h-1zM43 8h2v1h-2zM10 9h1v1h-1zM45 9h1v1h-1zM6 10h1v1h-1zM9 10h1v1h-1zM23 10h2v1h-2zM31 10h2v1h-2zM46 10h1v1h-1zM49 10h1v1h-1zM7 11h2v1h-2zM47 11h2v1h-2zM7 12h2v1h-2zM47 12h2v1h-2zM1 13h1v1h-1zM6 13h1v1h-1zM15 13h2v1h-2zM39 13h2v1h-2zM49 13h1v1h-1zM54 13h1v1h-1zM2 14h1v1h-1zM5 14h1v1h-1zM22 14h1v1h-1zM25 14h1v1h-1zM30 14h1v1h-1zM33 14h1v1h-1zM50 14h1v1h-1zM53 14h1v1h-1zM3 15h2v1h-2zM13 15h1v1h-1zM42 15h1v1h-1zM51 15h2v1h-2zM13 16h1v1h-1zM42 16h1v1h-1zM17 17h1v1h-1zM38 17h1v1h-1zM8 21h1v1h-1zM47 21h1v1h-1zM14 22h1v1h-1zM41 22h1v1h-1zM10 23h1v1h-1zM45 23h1v1h-1zM5 24h1v1h-1zM10 24h1v1h-1zM25 24h1v1h-1zM30 24h1v1h-1zM45 24h1v1h-1zM50 24h1v1h-1zM14 25h1v1h-1zM24 25h1v1h-1zM31 25h1v1h-1zM41 25h1v1h-1zM7 26h2v1h-2zM47 26h2v1h-2zM7 29h2v1h-2zM47 29h2v1h-2zM14 30h1v1h-1zM24 30h1v1h-1zM31 30h1v1h-1zM41 30h1v1h-1zM5 31h1v1h-1zM10 31h1v1h-1zM25 31h1v1h-1zM30 31h1v1h-1zM45 31h1v1h-1zM50 31h1v1h-1zM10 32h1v1h-1zM45 32h1v1h-1zM14 33h1v1h-1zM41 33h1v1h-1zM8 34h1v1h-1zM47 34h1v1h-1zM17 38h1v1h-1zM38 38h1v1h-1zM13 39h1v1h-1zM42 39h1v1h-1zM3 40h2v1h-2zM13 40h1v1h-1zM42 40h1v1h-1zM51 40h2v1h-2zM2 41h1v1h-1zM5 41h1v1h-1zM22 41h1v1h-1zM25 41h1v1h-1zM30 41h1v1h-1zM33 41h1v1h-1zM50 41h1v1h-1zM53 41h1v1h-1zM1 42h1v1h-1zM6 42h1v1h-1zM15 42h2v1h-2zM39 42h2v1h-2zM49 42h1v1h-1zM54 42h1v1h-1zM7 43h2v1h-2zM47 43h2v1h-2zM7 44h2v1h-2zM47 44h2v1h-2zM6 45h1v1h-1zM9 45h1v1h-1zM23 45h2v1h-2zM31 45h2v1h-2zM46 45h1v1h-1zM49 45h1v1h-1zM10 46h1v1h-1zM45 46h1v1h-1zM11 47h2v1h-2zM21 47h1v1h-1zM26 47h1v1h-1zM29 47h1v1h-1zM34 47h1v1h-1zM43 47h2v1h-2zM11 48h2v1h-2zM26 48h1v1h-1zM29 48h1v1h-1zM43 48h2v1h-2zM10 49h1v1h-1zM13 49h1v1h-1zM42 49h1v1h-1zM45 49h1v1h-1zM14 50h1v1h-1zM24 50h1v1h-1zM31 50h1v1h-1zM41 50h1v1h-1zM15 51h1v1h-1zM40 51h1v1h-1zM15 52h1v1h-1zM40 52h1v1h-1zM14 53h1v1h-1zM41 53h1v1h-1zM13 54h1v1h-1zM42 54h1v1h-1z"/><path fill="#fdddcb" d="M11 0h2v1h-2zM21 0h1v1h-1zM26 0h1v1h-1zM29 0h1v1h-1zM34 0h1v1h-1zM43 0h2v1h-2zM10 1h1v1h-1zM45 1h1v1h-1zM9 2h1v1h-1zM23 2h2v1h-2zM31 2h2v1h-2zM46 2h1v1h-1zM7 3h2v1h-2zM47 3h2v1h-2zM7 4h2v1h-2zM47 4h2v1h-2zM6 5h1v1h-1zM9 5h1v1h-1zM23 5h1v1h-1zM32 5h1v1h-1zM46 5h1v1h-1zM49 5h1v1h-1zM5 6h1v1h-1zM25 6h1v1h-1zM30 6h1v1h-1zM50 6h1v1h-1zM3 7h2v1h-2zM18 7h1v1h-1zM21 7h1v1h-1zM34 7h1v1h-1zM37 7h1v1h-1zM51 7h2v1h-2zM3 8h2v1h-2zM18 8h1v1h-1zM37 8h1v1h-1zM51 8h2v1h-2zM2 9h1v1h-1zM5 9h1v1h-1zM22 9h1v1h-1zM25 9h1v1h-1zM30 9h1v1h-1zM33 9h1v1h-1zM50 9h1v1h-1zM53 9h1v1h-1zM1 10h1v1h-1zM15 10h2v1h-2zM39 10h2v1h-2zM54 10h1v1h-1zM0 11h1v1h-1zM55 11h1v1h-1zM0 12h1v1h-1zM55 12h1v1h-1zM17 14h1v1h-1zM38 14h1v1h-1zM10 15h1v1h-1zM45 15h1v1h-1zM10 16h1v1h-1zM45 16h1v1h-1zM14 17h1v1h-1zM41 17h1v1h-1zM7 18h2v1h-2zM47 18h2v1h-2zM0 21h1v1h-1zM7 21h1v1h-1zM48 21h1v1h-1zM55 21h1v1h-1zM9 22h1v1h-1zM23 22h2v1h-2zM31 22h2v1h-2zM46 22h1v1h-1zM2 23h1v1h-1zM5 23h1v1h-1zM22 23h1v1h-1zM25 23h1v1h-1zM30 23h1v1h-1zM33 23h1v1h-1zM50 23h1v1h-1zM53 23h1v1h-1zM2 24h1v1h-1zM22 24h1v1h-1zM33 24h1v1h-1zM53 24h1v1h-1zM6 25h1v1h-1zM9 25h1v1h-1zM23 25h1v1h-1zM32 25h1v1h-1zM46 25h1v1h-1zM49 25h1v1h-1zM0 26h1v1h-1zM55 26h1v1h-1zM0 29h1v1h-1zM55 29h1v1h-1zM6 30h1v1h-1zM9 30h1v1h-1zM23 30h1v1h-1zM32 30h1v1h-1zM46 30h1v1h-1zM49 30h1v1h-1zM2 31h1v1h-1zM22 31h1v1h-1zM33 31h1v1h-1zM53 31h1v1h-1zM2 32h1v1h-1zM5 32h1v1h-1zM22 32h1v1h-1zM25 32h1v1h-1zM30 32h1v1h-1zM33 32h1v1h-1zM50 32h1v1h-1zM53 32h1v1h-1zM9 33h1v1h-1zM23 33h2v1h-2zM31 33h2v1h-2zM46 33h1v1h-1zM0 34h1v1h-1zM7 34h1v1h-1zM48 34h1v1h-1zM55 34h1v1h-1zM7 37h2v1h-2zM47 37h2v1h-2zM14 38h1v1h-1zM41 38h1v1h-1zM10 39h1v1h-1zM45 39h1v1h-1zM10 40h1v1h-1zM45 40h1v1h-1zM17 41h1v1h-1zM38 41h1v1h-1zM0 43h1v1h-1zM55 43h1v1h-1zM0 44h1v1h-1zM55 44h1v1h-1zM1 45h1v1h-1zM15 45h2v1h-2zM39 45h2v1h-2zM54 45h1v1h-1zM2 46h1v1h-1zM5 46h1v1h-1zM22 46h1v1h-1zM25 46h1v1h-1zM30 46h1v1h-1zM33 46h1v1h-1zM50 46h1v1h-1zM53 46h1v1h-1zM3 47h2v1h-2zM18 47h1v1h-1zM37 47h1v1h-1zM51 47h2v1h-2zM3 48h2v1h-2zM18 48h1v1h-1zM21 48h1v1h-1zM34 48h1v1h-1zM37 48h1v1h-1zM51 48h2v1h-2zM5 49h1v1h-1zM25 49h1v1h-1zM30 49h1v1h-1zM50 49h1v1h-1zM6 50h1v1h-1zM9 50h1v1h-1zM23 50h1v1h-1zM32 50h1v1h-1zM46 50h1v1h-1zM49 50h1v1h-1zM7 51h2v1h-2zM47 51h2v1h-2zM7 52h2v1h-2zM47 52h2v1h-2zM9 53h1v1h-1zM23 53h2v1h-2zM31 53h2v1h-2zM46 53h1v1h-1zM10 54h1v1h-1zM45 54h1v1h-1zM11 55h2v1h-2zM21 55h1v1h-1zM26 55h1v1h-1zM29 55h1v1h-1zM34 55h1v1h-1zM43 55h2v1h-2z"/><path fill="#facbb3" d="M3 0h2v1h-2zM18 0h1v1h-1zM37 0h1v1h-1zM51 0h2v1h-2zM2 1h1v1h-1zM5 1h1v1h-1zM22 1h1v1h-1zM25 1h1v1h-1zM30 1h1v1h-1zM33 1h1v1h-1zM50 1h1v1h-1zM53 1h1v1h-1zM1 2h1v1h-1zM6 2h1v1h-1zM15 2h2v1h-2zM39 2h2v1h-2zM49 2h1v1h-1zM54 2h1v1h-1zM0 3h1v1h-1zM55 3h1v1h-1zM0 4h1v1h-1zM55 4h1v1h-1zM1 5h1v1h-1zM15 5h2v1h-2zM39 5h2v1h-2zM54 5h1v1h-1zM2 6h1v1h-1zM22 6h1v1h-1zM33 6h1v1h-1zM53 6h1v1h-1zM13 7h1v1h-1zM42 7h1v1h-1zM13 8h1v1h-1zM42 8h1v1h-1zM17 9h1v1h-1zM38 9h1v1h-1zM7 13h2v1h-2zM47 13h2v1h-2zM14 14h1v1h-1zM23 14h2v1h-2zM31 14h2v1h-2zM41 14h1v1h-1zM2 15h1v1h-1zM5 15h1v1h-1zM22 15h1v1h-1zM25 15h1v1h-1zM30 15h1v1h-1zM33 15h1v1h-1zM50 15h1v1h-1zM53 15h1v1h-1zM2 16h1v1h-1zM5 16h1v1h-1zM22 16h1v1h-1zM25 16h1v1h-1zM30 16h1v1h-1zM33 16h1v1h-1zM50 16h1v1h-1zM53 16h1v1h-1zM9 17h1v1h-1zM23 17h2v1h-2zM31 17h2v1h-2zM46 17h1v1h-1zM0 18h1v1h-1zM55 18h1v1h-1zM1 22h1v1h-1zM6 22h1v1h-1zM15 22h2v1h-2zM39 22h2v1h-2zM49 22h1v1h-1zM54 22h1v1h-1zM14 23h1v1h-1zM17 23h1v1h-1zM38 23h1v1h-1zM41 23h1v1h-1zM14 24h1v1h-1zM17 24h1v1h-1zM38 24h1v1h-1zM41 24h1v1h-1zM1 25h1v1h-1zM15 25h2v1h-2zM39 25h2v1h-2zM54 25h1v1h-1zM1 30h1v1h-1zM15 30h2v1h-2zM39 30h2v1h-2zM54 30h1v1h-1zM14 31h1v1h-1zM17 31h1v1h-1zM38 31h1v1h-1zM41 31h1v1h-1zM14 32h1v1h-1zM17 32h1v1h-1zM38 32h1v1h-1zM41 32h1v1h-1zM1 33h1v1h-1zM6 33h1v1h-1zM15 33h2v1h-2zM39 33h2v1h-2zM49 33h1v1h-1zM54 33h1v1h-1zM0 37h1v1h-1zM55 37h1v1h-1zM9 38h1v1h-1zM23 38h2v1h-2zM31 38h2v1h-2zM46 38h1v1h-1zM2 39h1v1h-1zM5 39h1v1h-1zM22 39h1v1h-1zM25 39h1v1h-1zM30 39h1v1h-1zM33 39h1v1h-1zM50 39h1v1h-1zM53 39h1v1h-1zM2 40h1v1h-1zM5 40h1v1h-1zM22 40h1v1h-1zM25 40h1v1h-1zM30 40h1v1h-1zM33 40h1v1h-1zM50 40h1v1h-1zM53 40h1v1h-1zM14 41h1v1h-1zM23 41h2v1h-2zM31 41h2v1h-2zM41 41h1v1h-1zM7 42h2v1h-2zM47 42h2v1h-2zM17 46h1v1h-1zM38 46h1v1h-1zM13 47h1v1h-1zM42 47h1v1h-1zM13 48h1v1h-1zM42 48h1v1h-1zM2 49h1v1h-1zM22 49h1v1h-1zM33 49h1v1h-1zM53 49h1v1h-1zM1 50h1v1h-1zM15 50h2v1h-2zM39 50h2v1h-2zM54 50h1v1h-1zM0 51h1v1h-1zM55 51h1v1h-1zM0 52h1v1h-1zM55 52h1v1h-1zM1 53h1v1h-1zM6 53h1v1h-1zM15 53h2v1h-2zM39 53h2v1h-2zM49 53h1v1h-1zM54 53h1v1h-1zM2 54h1v1h-1zM5 54h1v1h-1zM22 54h1v1h-1zM25 54h1v1h-1zM30 54h1v1h-1zM33 54h1v1h-1zM50 54h1v1h-1zM53 54h1v1h-1zM3 55h2v1h-2zM18 55h1v1h-1zM37 55h1v1h-1zM51 55h2v1h-2z"/><path fill="#f7b799" d="M13 0h1v1h-1zM42 0h1v1h-1zM17 1h1v1h-1zM38 1h1v1h-1zM14 6h1v1h-1zM17 6h1v1h-1zM38 6h1v1h-1zM41 6h1v1h-1zM10 7h1v1h-1zM45 7h1v1h-1zM10 8h1v1h-1zM45 8h1v1h-1zM14 9h1v1h-1zM24 9h1v1h-1zM31 9h1v1h-1zM41 9h1v1h-1zM7 10h2v1h-2zM47 10h2v1h-2zM0 13h1v1h-1zM55 13h1v1h-1zM6 14h1v1h-1zM9 14h1v1h-1zM46 14h1v1h-1zM49 14h1v1h-1zM17 15h1v1h-1zM38 15h1v1h-1zM17 16h1v1h-1zM38 16h1v1h-1zM1 17h1v1h-1zM6 17h1v1h-1zM15 17h2v1h-2zM39 17h2v1h-2zM49 17h1v1h-1zM54 17h1v1h-1zM23 23h2v1h-2zM31 23h2v1h-2zM9 24h1v1h-1zM23 24h2v1h-2zM31 24h2v1h-2zM46 24h1v1h-1zM9 31h1v1h-1zM23 31h2v1h-2zM31 31h2v1h-2zM46 31h1v1h-1zM23 32h2v1h-2zM31 32h2v1h-2zM1 38h1v1h-1zM6 38h1v1h-1zM15 38h2v1h-2zM39 38h2v1h-2zM49 38h1v1h-1zM54 38h1v1h-1zM17 39h1v1h-1zM38 39h1v1h-1zM17 40h1v1h-1zM38 40h1v1h-1zM6 41h1v1h-1zM9 41h1v1h-1zM46 41h1v1h-1zM49 41h1v1h-1zM0 42h1v1h-1zM55 42h1v1h-1zM7 45h2v1h-2zM47 45h2v1h-2zM14 46h1v1h-1zM24 46h1v1h-1zM31 46h1v1h-1zM41 46h1v1h-1zM10 47h1v1h-1zM45 47h1v1h-1zM10 48h1v1h-1zM45 48h1v1h-1zM14 49h1v1h-1zM17 49h1v1h-1zM38 49h1v1h-1zM41 49h1v1h-1zM17 54h1v1h-1zM38 54h1v1h-1zM13 55h1v1h-1zM42 55h1v1h-1z"/><path fill="#f3a280" d="M5 0h1v1h-1zM10 0h1v1h-1zM25 0h1v1h-1zM30 0h1v1h-1zM45 0h1v1h-1zM50 0h1v1h-1zM14 1h1v1h-1zM41 1h1v1h-1zM7 2h2v1h-2zM47 2h2v1h-2zM0 5h1v1h-1zM7 5h2v1h-2zM47 5h2v1h-2zM55 5h1v1h-1zM9 6h1v1h-1zM23 6h2v1h-2zM31 6h2v1h-2zM46 6h1v1h-1zM2 7h1v1h-1zM5 7h1v1h-1zM22 7h1v1h-1zM25 7h1v1h-1zM30 7h1v1h-1zM33 7h1v1h-1zM50 7h1v1h-1zM53 7h1v1h-1zM2 8h1v1h-1zM5 8h1v1h-1zM22 8h1v1h-1zM25 8h1v1h-1zM30 8h1v1h-1zM33 8h1v1h-1zM50 8h1v1h-1zM53 8h1v1h-1zM6 9h1v1h-1zM9 9h1v1h-1zM23 9h1v1h-1zM32 9h1v1h-1zM46 9h1v1h-1zM49 9h1v1h-1zM0 10h1v1h-1zM55 10h1v1h-1zM1 14h1v1h-1zM15 14h2v1h-2zM39 14h2v1h-2zM54 14h1v1h-1zM14 15h1v1h-1zM41 15h1v1h-1zM14 16h1v1h-1zM41 16h1v1h-1zM7 22h2v1h-2zM47 22h2v1h-2zM6 23h1v1h-1zM9 23h1v1h-1zM46 23h1v1h-1zM49 23h1v1h-1zM6 24h1v1h-1zM49 24h1v1h-1zM0 25h1v1h-1zM7 25h2v1h-2zM47 25h2v1h-2zM55 25h1v1h-1zM0 30h1v1h-1zM7 30h2v1h-2zM47 30h2v1h-2zM55 30h1v1h-1zM6 31h1v1h-1zM49 31h1v1h-1zM6 32h1v1h-1zM9 32h1v1h-1zM46 32h1v1h-1zM49 32h1v1h-1zM7 33h2v1h-2zM47 33h2v1h-2zM14 39h1v1h-1zM41 39h1v1h-1zM14 40h1v1h-1zM41 40h1v1h-1zM1 41h1v1h-1zM15 41h2v1h-2zM39 41h2v1h-2zM54 41h1v1h-1zM0 45h1v1h-1zM55 45h1v1h-1zM6 46h1v1h-1zM9 46h1v1h-1zM23 46h1v1h-1zM32 46h1v1h-1zM46 46h1v1h-1zM49 46h1v1h-1zM2 47h1v1h-1zM5 47h1v1h-1zM22 47h1v1h-1zM25 47h1v1h-1zM30 47h1v1h-1zM33 47h1v1h-1zM50 47h1v1h-1zM53 47h1v1h-1zM2 48h1v1h-1zM5 48h1v1h-1zM22 48h1v1h-1zM25 48h1v1h-1zM30 48h1v1h-1zM33 48h1v1h-1zM50 48h1v1h-1zM53 48h1v1h-1zM9 49h1v1h-1zM23 49h2v1h-2zM31 49h2v1h-2zM46 49h1v1h-1zM0 50h1v1h-1zM7 50h2v1h-2zM47 50h2v1h-2zM55 50h1v1h-1zM7 53h2v1h-2zM47 53h2v1h-2zM14 54h1v1h-1zM41 54h1v1h-1zM5 55h1v1h-1zM10 55h1v1h-1zM25 55h1v1h-1zM30 55h1v1h-1zM45 55h1v1h-1zM50 55h1v1h-1z"/><path fill="#e8896c" d="M2 0h1v1h-1zM22 0h1v1h-1zM33 0h1v1h-1zM53 0h1v1h-1zM6 1h1v1h-1zM9 1h1v1h-1zM23 1h2v1h-2zM31 1h2v1h-2zM46 1h1v1h-1zM49 1h1v1h-1zM0 2h1v1h-1zM55 2h1v1h-1zM1 6h1v1h-1zM6 6h1v1h-1zM16 6h1v1h-1zM39 6h1v1h-1zM49 6h1v1h-1zM54 6h1v1h-1zM17 7h1v1h-1zM38 7h1v1h-1zM14 8h1v1h-1zM17 8h1v1h-1zM38 8h1v1h-1zM41 8h1v1h-1zM1 9h1v1h-1zM15 9h2v1h-2zM39 9h2v1h-2zM54 9h1v1h-1zM8 14h1v1h-1zM47 14h1v1h-1zM9 15h1v1h-1zM23 15h2v1h-2zM31 15h2v1h-2zM46 15h1v1h-1zM6 16h1v1h-1zM9 16h1v1h-1zM23 16h2v1h-2zM31 16h2v1h-2zM46 16h1v1h-1zM49 16h1v1h-1zM7 17h2v1h-2zM47 17h2v1h-2zM0 22h1v1h-1zM55 22h1v1h-1zM1 23h1v1h-1zM15 23h2v1h-2zM39 23h2v1h-2zM54 23h1v1h-1zM1 24h1v1h-1zM15 24h2v1h-2zM39 24h2v1h-2zM54 24h1v1h-1zM1 31h1v1h-1zM15 31h2v1h-2zM39 31h2v1h-2zM54 31h1v1h-1zM1 32h1v1h-1zM15 32h2v1h-2zM39 32h2v1h-2zM54 32h1v1h-1zM0 33h1v1h-1zM55 33h1v1h-1zM7 38h2v1h-2zM47 38h2v1h-2zM6 39h1v1h-1zM9 39h1v1h-1zM23 39h2v1h-2zM31 39h2v1h-2zM46 39h1v1h-1zM49 39h1v1h-1zM9 40h1v1h-1zM23 40h2v1h-2zM31 40h2v1h-2zM46 40h1v1h-1zM8 41h1v1h-1zM47 41h1v1h-1zM1 46h1v1h-1zM15 46h2v1h-2zM39 46h2v1h-2zM54 46h1v1h-1zM14 47h1v1h-1zM17 47h1v1h-1zM38 47h1v1h-1zM41 47h1v1h-1zM17 48h1v1h-1zM38 48h1v1h-1zM1 49h1v1h-1zM6 49h1v1h-1zM16 49h1v1h-1zM39 49h1v1h-1zM49 49h1v1h-1zM54 49h1v1h-1zM0 53h1v1h-1zM55 53h1v1h-1zM6 54h1v1h-1zM9 54h1v1h-1zM23 54h2v1h-2zM31 54h2v1h-2zM46 54h1v1h-1zM49 54h1v1h-1zM2 55h1v1h-1zM22 55h1v1h-1zM33 55h1v1h-1zM53 55h1v1h-1z"/><path fill="#dd6f59" d="M14 0h1v1h-1zM17 0h1v1h-1zM38 0h1v1h-1zM41 0h1v1h-1zM1 1h1v1h-1zM15 1h2v1h-2zM39 1h2v1h-2zM54 1h1v1h-1zM15 6h1v1h-1zM40 6h1v1h-1zM14 7h1v1h-1zM24 7h1v1h-1zM31 7h1v1h-1zM41 7h1v1h-1zM23 8h2v1h-2zM31 8h2v1h-2zM0 14h1v1h-1zM7 14h1v1h-1zM48 14h1v1h-1zM55 14h1v1h-1zM1 15h1v1h-1zM6 15h1v1h-1zM15 15h2v1h-2zM39 15h2v1h-2zM49 15h1v1h-1zM54 15h1v1h-1zM1 16h1v1h-1zM15 16h2v1h-2zM39 16h2v1h-2zM54 16h1v1h-1zM0 17h1v1h-1zM55 17h1v1h-1zM8 23h1v1h-1zM47 23h1v1h-1zM7 24h2v1h-2zM47 24h2v1h-2zM7 31h2v1h-2zM47 31h2v1h-2zM8 32h1v1h-1zM47 32h1v1h-1zM0 38h1v1h-1zM55 38h1v1h-1zM1 39h1v1h-1zM15 39h2v1h-2zM39 39h2v1h-2zM54 39h1v1h-1zM1 40h1v1h-1zM6 40h1v1h-1zM15 40h2v1h-2zM39 40h2v1h-2zM49 40h1v1h-1zM54 40h1v1h-1zM0 41h1v1h-1zM7 41h1v1h-1zM48 41h1v1h-1zM55 41h1v1h-1zM23 47h2v1h-2zM31 47h2v1h-2zM14 48h1v1h-1zM24 48h1v1h-1zM31 48h1v1h-1zM41 48h1v1h-1zM15 49h1v1h-1zM40 49h1v1h-1zM1 54h1v1h-1zM15 54h2v1h-2zM39 54h2v1h-2zM54 54h1v1h-1zM14 55h1v1h-1zM17 55h1v1h-1zM38 55h1v1h-1zM41 55h1v1h-1z"/><path fill="#d15548" d="M9 0h1v1h-1zM23 0h2v1h-2zM31 0h2v1h-2zM46 0h1v1h-1zM7 6h2v1h-2zM47 6h2v1h-2zM6 7h1v1h-1zM9 7h1v1h-1zM23 7h1v1h-1zM32 7h1v1h-1zM46 7h1v1h-1zM49 7h1v1h-1zM6 8h1v1h-1zM9 8h1v1h-1zM46 8h1v1h-1zM49 8h1v1h-1zM0 9h1v1h-1zM7 9h2v1h-2zM47 9h2v1h-2zM55 9h1v1h-1zM0 23h1v1h-1zM7 23h1v1h-1zM48 23h1v1h-1zM55 23h1v1h-1zM0 24h1v1h-1zM55 24h1v1h-1zM0 31h1v1h-1zM55 31h1v1h-1zM0 32h1v1h-1zM7 32h1v1h-1zM48 32h1v1h-1zM55 32h1v1h-1zM0 46h1v1h-1zM7 46h2v1h-2zM47 46h2v1h-2zM55 46h1v1h-1zM6 47h1v1h-1zM9 47h1v1h-1zM46 47h1v1h-1zM49 47h1v1h-1zM6 48h1v1h-1zM9 48h1v1h-1zM23 48h1v1h-1zM32 48h1v1h-1zM46 48h1v1h-1zM49 48h1v1h-1zM7 49h2v1h-2zM47 49h2v1h-2zM9 55h1v1h-1zM23 55h2v1h-2zM31 55h2v1h-2zM46 55h1v1h-1z"/><path fill="#c33b3b" d="M6 0h1v1h-1zM49 0h1v1h-1zM7 1h2v1h-2zM47 1h2v1h-2zM0 6h1v1h-1zM55 6h1v1h-1zM1 7h1v1h-1zM15 7h2v1h-2zM39 7h2v1h-2zM54 7h1v1h-1zM1 8h1v1h-1zM15 8h2v1h-2zM39 8h2v1h-2zM54 8h1v1h-1zM7 15h2v1h-2zM47 15h2v1h-2zM7 16h2v1h-2zM47 16h2v1h-2zM7 39h2v1h-2zM47 39h2v1h-2zM7 40h2v1h-2zM47 40h2v1h-2zM1 47h1v1h-1zM15 47h2v1h-2zM39 47h2v1h-2zM54 47h1v1h-1zM1 48h1v1h-1zM15 48h2v1h-2zM39 48h2v1h-2zM54 48h1v1h-1zM0 49h1v1h-1zM55 49h1v1h-1zM7 54h2v1h-2zM47 54h2v1h-2zM6 55h1v1h-1zM49 55h1v1h-1z"/><path fill="#b6202f" d="M1 0h1v1h-1zM15 0h2v1h-2zM39 0h2v1h-2zM54 0h1v1h-1zM0 1h1v1h-1zM55 1h1v1h-1zM8 8h1v1h-1zM47 8h1v1h-1zM0 15h1v1h-1zM55 15h1v1h-1zM0 16h1v1h-1zM55 16h1v1h-1zM0 39h1v1h-1zM55 39h1v1h-1zM0 40h1v1h-1zM55 40h1v1h-1zM8 47h1v1h-1zM47 47h1v1h-1zM0 54h1v1h-1zM55 54h1v1h-1zM1 55h1v1h-1zM15 55h2v1h-2zM39 55h2v1h-2zM54 55h1v1h-1z"/><path fill="#9f1228" d="M7 0h2v1h-2zM47 0h2v1h-2zM0 7h1v1h-1zM7 7h2v1h-2zM47 7h2v1h-2zM55 7h1v1h-1zM0 8h1v1h-1zM7 8h1v1h-1zM48 8h1v1h-1zM55 8h1v1h-1zM0 47h1v1h-1zM7 47h1v1h-1zM48 47h1v1h-1zM55 47h1v1h-1zM0 48h1v1h-1zM7 48h2v1h-2zM47 48h2v1h-2zM55 48h1v1h-1zM7 55h2v1h-2zM47 55h2v1h-2z"/><path fill="#830923" d="M0 0h1v1h-1zM55 0h1v1h-1zM0 55h1v1h-1zM55 55h1v1h-1z"/></g></svg>
<svg style="left:1060.8px;top:682.9px" width="269.9" height="272.8"><rect x="1.35" y="1.35" width="267.2" height="270.1" fill="none" stroke="#000" stroke-width="2.7"/></svg>
<svg style="left:0;top:600px" width="1400" height="420">
<g stroke="#000" stroke-width="4.4" fill="none">
<line x1="435" y1="220.3" x2="502" y2="220.3"/><line x1="627" y1="220.3" x2="688" y2="220.3"/>
</g>
<polygon points="515.5,220.3 498.5,212 498.5,228.6" fill="#000"/><polygon points="700.5,220.3 683.5,212 683.5,228.6" fill="#000"/>
<rect x="515" y="181.2" width="112" height="78.1" fill="#000"/>
<g stroke="#000" stroke-width="3.6" stroke-linecap="round"><line x1="1001.5" y1="220.3" x2="1033.5" y2="220.3"/><line x1="1017.3" y1="204" x2="1017.3" y2="236.7"/></g>
<g stroke="#000" stroke-width="1.8" fill="none" stroke-linejoin="round">
<polyline points="138.4,334.6 148.7,334.6"/><polyline points="140.7,335.4 161.3,362 171,362"/>
<polyline points="684,334.6 694.4,334.6"/><polyline points="686.4,335.4 707,362 716.3,362"/>
<polyline points="1033.3,334.6 1043.2,334.6"/><polyline points="1035.6,335.4 1055.1,362 1065.4,362"/>
</g>
</svg>
<div class="a" id="f8" style="left:552.5px;top:789.2px;font:normal normal 41px/59px 'Liberation Serif', serif;color:#fff;letter-spacing:0em;transform-origin:0 0;transform:scaleX(1.0867);"><span class="m">η</span><sub class="m" style="font-size:68%">θ</sub></div>
<div class="a" style="left:129.5px;top:940.4px;font:normal normal 17px/24px 'Liberation Serif', serif;color:#000;"><span class="m">T</span></div>
<div class="a" id="f9" style="left:221.0px;top:961.6px;font:normal normal 21.5px/31px 'Liberation Serif', serif;color:#222;letter-spacing:0em;transform-origin:0 0;transform:scaleX(1.0455);"><span class="m">R</span>(<span class="m">ζ</span>(<span class="mr"><b>Ω<sub class="mr" style="font-weight:bold;font-size:66%">g</sub></b></span>, <span class="m">t</span>); <span class="m">λ</span>) &gt; 0</div>
<div class="a" id="f10" style="left:750.7px;top:961.6px;font:normal normal 21.5px/31px 'Liberation Serif', serif;color:#222;letter-spacing:0em;transform-origin:0 0;transform:scaleX(1.0402);"><span class="m">R</span>(<span class="m">η</span><sub class="m" style="font-size:66%">θ</sub>(<span class="m">ζ</span>(<span class="mr"><b>Ω<sub class="mr" style="font-weight:bold;font-size:66%">g</sub></b></span>, <span class="m">t</span>)); <span class="m">λ</span>) = 0</div>
<div class="a" id="f11" style="left:1054.0px;top:961.6px;font:normal normal 21.5px/31px 'Liberation Serif', serif;color:#222;letter-spacing:0em;transform-origin:0 0;transform:scaleX(1.0517);"><span class="m">R</span>(<span class="m">ζ</span>(<span class="mr"><b>Ω<sub class="mr" style="font-weight:bold;font-size:66%">g</sub></b></span>, <span class="m">t</span>) − <span class="m">η</span><sub class="m" style="font-size:66%">θ</sub>(<span class="m">ζ</span>(<span class="mr"><b>Ω<sub class="mr" style="font-weight:bold;font-size:66%">g</sub></b></span>, <span class="m">t</span>)); <span class="m">λ</span>) &gt; 0</div>
<svg style="left:0;top:0" width="1450" height="2880"><polygon points="272.3,2428.2 336.1,2364.3999999999996 338.7,2364.3999999999996 274.9,2428.2" fill="#fde3b6" fill-opacity="0.85" stroke="#fde3b6" stroke-opacity="0.85" stroke-width="0.5"/><polygon points="274.9,2428.2 338.7,2364.3999999999996 338.7,2530.2 274.9,2594.0" fill="#fde3b6" fill-opacity="0.85" stroke="#fde3b6" stroke-opacity="0.85" stroke-width="0.5"/><polygon points="272.3,2428.2 274.9,2428.2 274.9,2594.0 272.3,2594.0" fill="#fde3b6" fill-opacity="0.85" stroke="#fde3b6" stroke-opacity="0.85" stroke-width="0.5"/><g stroke="#3a3a3a" stroke-width="0.7" fill="none" stroke-opacity="0.75"><polyline points="272.3,2594.0 272.3,2428.2 274.9,2428.2 274.9,2594.0"/><line x1="274.9" y1="2428.2" x2="338.7" y2="2364.3999999999996"/></g><polygon points="310.2,2453.3 342.09999999999997,2421.4 345.29999999999995,2421.4 313.4,2453.3" fill="#dd5f50" fill-opacity="0.88" stroke="#dd5f50" stroke-opacity="0.88" stroke-width="0.5"/><polygon points="313.4,2453.3 345.29999999999995,2421.4 345.29999999999995,2504.7 313.4,2536.6" fill="#dd5f50" fill-opacity="0.88" stroke="#dd5f50" stroke-opacity="0.88" stroke-width="0.5"/><polygon points="310.2,2453.3 313.4,2453.3 313.4,2536.6 310.2,2536.6" fill="#dd5f50" fill-opacity="0.88" stroke="#dd5f50" stroke-opacity="0.88" stroke-width="0.5"/><g stroke="#3a3a3a" stroke-width="0.7" fill="none" stroke-opacity="0.75"><polyline points="310.2,2536.6 310.2,2453.3 313.4,2453.3 313.4,2536.6"/><line x1="313.4" y1="2453.3" x2="345.29999999999995" y2="2421.4"/></g><polygon points="332.5,2453.3 364.0,2421.8 405.9,2421.8 374.4,2453.3" fill="#fde3b6" fill-opacity="0.72" stroke="#fde3b6" stroke-opacity="0.72" stroke-width="0.5"/><polygon points="374.4,2453.3 405.9,2421.8 405.9,2505.1 374.4,2536.6" fill="#fde3b6" fill-opacity="0.72" stroke="#fde3b6" stroke-opacity="0.72" stroke-width="0.5"/><polygon points="332.5,2453.3 374.4,2453.3 374.4,2536.6 332.5,2536.6" fill="#fde3b6" fill-opacity="0.72" stroke="#fde3b6" stroke-opacity="0.72" stroke-width="0.5"/><g stroke="#3a3a3a" stroke-width="0.7" fill="none" stroke-opacity="0.75"><polyline points="332.5,2536.6 332.5,2453.3 374.4,2453.3 374.4,2536.6"/><line x1="374.4" y1="2453.3" x2="405.9" y2="2421.8"/><line x1="332.5" y1="2536.6" x2="374.4" y2="2536.6"/><line x1="374.4" y1="2536.6" x2="405.9" y2="2505.1" stroke-opacity="0.5"/><polyline points="332.5,2453.3 364.0,2421.8 405.9,2421.8" stroke-opacity="0.45"/></g><polygon points="401.4,2467.1 418.4,2450.1 420.5,2450.1 403.5,2467.1" fill="#dd5f50" fill-opacity="0.85" stroke="#dd5f50" stroke-opacity="0.85" stroke-width="0.5"/><polygon points="403.5,2467.1 420.5,2450.1 420.5,2492.0 403.5,2509.0" fill="#dd5f50" fill-opacity="0.85" stroke="#dd5f50" stroke-opacity="0.85" stroke-width="0.5"/><polygon points="401.4,2467.1 403.5,2467.1 403.5,2509.0 401.4,2509.0" fill="#dd5f50" fill-opacity="0.85" stroke="#dd5f50" stroke-opacity="0.85" stroke-width="0.5"/><g stroke="#3a3a3a" stroke-width="0.7" fill="none" stroke-opacity="0.75"><polyline points="401.4,2509.0 401.4,2467.1 403.5,2467.1 403.5,2509.0"/><line x1="403.5" y1="2467.1" x2="420.5" y2="2450.1"/></g><polygon points="423.9,2467.1 440.2,2450.7999999999997 522.9,2450.7999999999997 506.6,2467.1" fill="#fde3b6" fill-opacity="0.8" stroke="#fde3b6" stroke-opacity="0.8" stroke-width="0.5"/><polygon points="506.6,2467.1 522.9,2450.7999999999997 522.9,2492.2999999999997 506.6,2508.6" fill="#fde3b6" fill-opacity="0.8" stroke="#fde3b6" stroke-opacity="0.8" stroke-width="0.5"/><polygon points="423.9,2467.1 506.6,2467.1 506.6,2508.6 423.9,2508.6" fill="#fde3b6" fill-opacity="0.8" stroke="#fde3b6" stroke-opacity="0.8" stroke-width="0.5"/><g stroke="#3a3a3a" stroke-width="0.7" fill="none" stroke-opacity="0.75"><polyline points="423.9,2508.6 423.9,2467.1 506.6,2467.1 506.6,2508.6"/><line x1="506.6" y1="2467.1" x2="522.9" y2="2450.7999999999997"/><line x1="423.9" y1="2508.6" x2="506.6" y2="2508.6"/><line x1="506.6" y1="2508.6" x2="522.9" y2="2492.2999999999997" stroke-opacity="0.5"/><polyline points="423.9,2467.1 440.2,2450.7999999999997 522.9,2450.7999999999997" stroke-opacity="0.45"/></g><polygon points="530.2,2472.9 538.3000000000001,2464.8 540.8000000000001,2464.8 532.7,2472.9" fill="#dd5f50" fill-opacity="0.85" stroke="#dd5f50" stroke-opacity="0.85" stroke-width="0.5"/><polygon points="532.7,2472.9 540.8000000000001,2464.8 540.8000000000001,2485.4 532.7,2493.5" fill="#dd5f50" fill-opacity="0.85" stroke="#dd5f50" stroke-opacity="0.85" stroke-width="0.5"/><polygon points="530.2,2472.9 532.7,2472.9 532.7,2493.5 530.2,2493.5" fill="#dd5f50" fill-opacity="0.85" stroke="#dd5f50" stroke-opacity="0.85" stroke-width="0.5"/><g stroke="#3a3a3a" stroke-width="0.7" fill="none" stroke-opacity="0.75"><polyline points="530.2,2493.5 530.2,2472.9 532.7,2472.9 532.7,2493.5"/><line x1="532.7" y1="2472.9" x2="540.8000000000001" y2="2464.8"/></g><polygon points="552.3,2473.3 560.4,2465.2000000000003 726.9,2465.2000000000003 718.8,2473.3" fill="#fde3b6" fill-opacity="0.8" stroke="#fde3b6" stroke-opacity="0.8" stroke-width="0.5"/><polygon points="718.8,2473.3 726.9,2465.2000000000003 726.9,2485.4 718.8,2493.5" fill="#fde3b6" fill-opacity="0.8" stroke="#fde3b6" stroke-opacity="0.8" stroke-width="0.5"/><polygon points="552.3,2473.3 718.8,2473.3 718.8,2493.5 552.3,2493.5" fill="#fde3b6" fill-opacity="0.8" stroke="#fde3b6" stroke-opacity="0.8" stroke-width="0.5"/><g stroke="#3a3a3a" stroke-width="0.7" fill="none" stroke-opacity="0.75"><polyline points="552.3,2493.5 552.3,2473.3 718.8,2473.3 718.8,2493.5"/><line x1="718.8" y1="2473.3" x2="726.9" y2="2465.2000000000003"/><line x1="552.3" y1="2493.5" x2="718.8" y2="2493.5"/><line x1="718.8" y1="2493.5" x2="726.9" y2="2485.4" stroke-opacity="0.5"/><polyline points="552.3,2473.3 560.4,2465.2000000000003 726.9,2465.2000000000003" stroke-opacity="0.45"/></g><polygon points="734.4,2467.1 750.6999999999999,2450.7999999999997 753.3,2450.7999999999997 737.0,2467.1" fill="#aec4e2" fill-opacity="0.85" stroke="#aec4e2" stroke-opacity="0.85" stroke-width="0.5"/><polygon points="737.0,2467.1 753.3,2450.7999999999997 753.3,2492.7 737.0,2509.0" fill="#aec4e2" fill-opacity="0.85" stroke="#aec4e2" stroke-opacity="0.85" stroke-width="0.5"/><polygon points="734.4,2467.1 737.0,2467.1 737.0,2509.0 734.4,2509.0" fill="#aec4e2" fill-opacity="0.85" stroke="#aec4e2" stroke-opacity="0.85" stroke-width="0.5"/><g stroke="#3a3a3a" stroke-width="0.7" fill="none" stroke-opacity="0.75"><polyline points="734.4,2509.0 734.4,2467.1 737.0,2467.1 737.0,2509.0"/><line x1="737.0" y1="2467.1" x2="753.3" y2="2450.7999999999997"/></g><polygon points="756.3,2467.1 772.5999999999999,2450.7999999999997 856.0,2450.7999999999997 839.7,2467.1" fill="#fde3b6" fill-opacity="0.8" stroke="#fde3b6" stroke-opacity="0.8" stroke-width="0.5"/><polygon points="839.7,2467.1 856.0,2450.7999999999997 856.0,2492.2999999999997 839.7,2508.6" fill="#fde3b6" fill-opacity="0.8" stroke="#fde3b6" stroke-opacity="0.8" stroke-width="0.5"/><polygon points="756.3,2467.1 839.7,2467.1 839.7,2508.6 756.3,2508.6" fill="#fde3b6" fill-opacity="0.8" stroke="#fde3b6" stroke-opacity="0.8" stroke-width="0.5"/><g stroke="#3a3a3a" stroke-width="0.7" fill="none" stroke-opacity="0.75"><polyline points="756.3,2508.6 756.3,2467.1 839.7,2467.1 839.7,2508.6"/><line x1="839.7" y1="2467.1" x2="856.0" y2="2450.7999999999997"/><line x1="756.3" y1="2508.6" x2="839.7" y2="2508.6"/><line x1="839.7" y1="2508.6" x2="856.0" y2="2492.2999999999997" stroke-opacity="0.5"/><polyline points="756.3,2467.1 772.5999999999999,2450.7999999999997 856.0,2450.7999999999997" stroke-opacity="0.45"/></g><polygon points="851.4,2453.7 883.3,2421.7999999999997 885.8,2421.7999999999997 853.9,2453.7" fill="#aec4e2" fill-opacity="0.8" stroke="#aec4e2" stroke-opacity="0.8" stroke-width="0.5"/><polygon points="853.9,2453.7 885.8,2421.7999999999997 885.8,2504.7 853.9,2536.6" fill="#aec4e2" fill-opacity="0.8" stroke="#aec4e2" stroke-opacity="0.8" stroke-width="0.5"/><polygon points="851.4,2453.7 853.9,2453.7 853.9,2536.6 851.4,2536.6" fill="#aec4e2" fill-opacity="0.8" stroke="#aec4e2" stroke-opacity="0.8" stroke-width="0.5"/><g stroke="#3a3a3a" stroke-width="0.7" fill="none" stroke-opacity="0.75"><polyline points="851.4,2536.6 851.4,2453.7 853.9,2453.7 853.9,2536.6"/><line x1="853.9" y1="2453.7" x2="885.8" y2="2421.7999999999997"/></g><polygon points="873.3,2453.7 904.8,2422.2 946.2,2422.2 914.7,2453.7" fill="#fde3b6" fill-opacity="0.72" stroke="#fde3b6" stroke-opacity="0.72" stroke-width="0.5"/><polygon points="914.7,2453.7 946.2,2422.2 946.2,2505.1 914.7,2536.6" fill="#fde3b6" fill-opacity="0.72" stroke="#fde3b6" stroke-opacity="0.72" stroke-width="0.5"/><polygon points="873.3,2453.7 914.7,2453.7 914.7,2536.6 873.3,2536.6" fill="#fde3b6" fill-opacity="0.72" stroke="#fde3b6" stroke-opacity="0.72" stroke-width="0.5"/><g stroke="#3a3a3a" stroke-width="0.7" fill="none" stroke-opacity="0.75"><polyline points="873.3,2536.6 873.3,2453.7 914.7,2453.7 914.7,2536.6"/><line x1="914.7" y1="2453.7" x2="946.2" y2="2422.2"/><line x1="873.3" y1="2536.6" x2="914.7" y2="2536.6"/><line x1="914.7" y1="2536.6" x2="946.2" y2="2505.1" stroke-opacity="0.5"/><polyline points="873.3,2453.7 904.8,2422.2 946.2,2422.2" stroke-opacity="0.45"/></g><polygon points="918.3,2428.2 982.0999999999999,2364.3999999999996 984.6999999999999,2364.3999999999996 920.9,2428.2" fill="#aec4e2" fill-opacity="0.75" stroke="#aec4e2" stroke-opacity="0.75" stroke-width="0.5"/><polygon points="920.9,2428.2 984.6999999999999,2364.3999999999996 984.6999999999999,2530.7 920.9,2594.5" fill="#aec4e2" fill-opacity="0.75" stroke="#aec4e2" stroke-opacity="0.75" stroke-width="0.5"/><polygon points="918.3,2428.2 920.9,2428.2 920.9,2594.5 918.3,2594.5" fill="#aec4e2" fill-opacity="0.75" stroke="#aec4e2" stroke-opacity="0.75" stroke-width="0.5"/><g stroke="#3a3a3a" stroke-width="0.7" fill="none" stroke-opacity="0.75"><polyline points="918.3,2594.5 918.3,2428.2 920.9,2428.2 920.9,2594.5"/><line x1="920.9" y1="2428.2" x2="984.6999999999999" y2="2364.3999999999996"/></g><polygon points="940.2,2428.2 1004.0,2364.3999999999996 1006.5999999999999,2364.3999999999996 942.8,2428.2" fill="#fde3b6" fill-opacity="0.7" stroke="#fde3b6" stroke-opacity="0.7" stroke-width="0.5"/><polygon points="942.8,2428.2 1006.5999999999999,2364.3999999999996 1006.5999999999999,2530.7 942.8,2594.5" fill="#fde3b6" fill-opacity="0.7" stroke="#fde3b6" stroke-opacity="0.7" stroke-width="0.5"/><polygon points="940.2,2428.2 942.8,2428.2 942.8,2594.5 940.2,2594.5" fill="#fde3b6" fill-opacity="0.7" stroke="#fde3b6" stroke-opacity="0.7" stroke-width="0.5"/><g stroke="#3a3a3a" stroke-width="0.7" fill="none" stroke-opacity="0.75"><polyline points="940.2,2594.5 940.2,2428.2 942.8,2428.2 942.8,2594.5"/><line x1="942.8" y1="2428.2" x2="1006.5999999999999" y2="2364.3999999999996"/></g><text x="273.4" y="2602" font-size="8.6" text-anchor="middle" class="sl" fill="#111">2</text><text x="313" y="2567" font-size="8.6" text-anchor="middle" class="sl" fill="#111" transform="rotate(-45 313 2567)">64</text><text x="353.5" y="2545" font-size="8.6" text-anchor="middle" class="sl" fill="#111">32</text><text x="397.5" y="2524.5" font-size="8.6" text-anchor="middle" class="sl" fill="#111" transform="rotate(-45 397.5 2524.5)">32</text><text x="464.7" y="2516.3" font-size="8.6" text-anchor="middle" class="sl" fill="#111">64</text><text x="522.5" y="2502.5" font-size="8.6" text-anchor="middle" class="sl" fill="#111" transform="rotate(-45 522.5 2502.5)">16</text><text x="635.2" y="2501.8" font-size="8.6" text-anchor="middle" class="sl" fill="#111">128</text><text x="728.5" y="2494.5" font-size="8.6" text-anchor="middle" class="sl" fill="#111" transform="rotate(-45 728.5 2494.5)">8</text><text x="797.8" y="2516.3" font-size="8.6" text-anchor="middle" class="sl" fill="#111">64</text><text x="855.5" y="2501.5" font-size="8.6" text-anchor="middle" class="sl" fill="#111" transform="rotate(-45 855.5 2501.5)">16</text><text x="894.1" y="2545" font-size="8.6" text-anchor="middle" class="sl" fill="#111">32</text><text x="937.8" y="2524.5" font-size="8.6" text-anchor="middle" class="sl" fill="#111" transform="rotate(-45 937.8 2524.5)">32</text><text x="981.5" y="2567" font-size="8.6" text-anchor="middle" class="sl" fill="#111" transform="rotate(-45 981.5 2567)">64</text><text x="941.7" y="2602" font-size="8.6" text-anchor="middle" class="sl" fill="#111">2</text><g stroke="#000" stroke-width="1.9" fill="none"><polyline points="162,2479.6 162,2296.5 1056,2296.5" stroke-dasharray="8 5"/><line x1="1118" y1="2296.5" x2="1137" y2="2296.5" stroke-dasharray="8 5"/><line x1="1237" y1="2296.5" x2="1265" y2="2296.5" stroke-dasharray="8 5"/><line x1="1090.5" y1="2476.5" x2="1090.5" y2="2333" stroke-dasharray="8 5"/><line x1="1141.3" y1="2498.9" x2="1204" y2="2498.9" stroke-dasharray="8 5"/><polyline points="1265,2451.1 1204,2451.1 1204,2556.1 1256,2556.1" stroke-dasharray="8 5"/><line x1="1306" y1="2320.4" x2="1306" y2="2420"/><line x1="1306" y1="2473.4" x2="1306" y2="2525"/><line x1="1306" y1="2579" x2="1304.6" y2="2648"/><line x1="214.8" y1="2503" x2="259" y2="2503" stroke-width="2.2"/><line x1="1016.7" y1="2498.9" x2="1031" y2="2498.9" stroke-width="2.2"/><line x1="1273.8" y1="2678.5" x2="716" y2="2678.5" stroke-width="2.2"/><polyline points="227.4,2620.3 227.4,2647.2 1048.2,2647.2 1048.2,2620.3" stroke-width="2.2"/></g><polygon points="1063.5,2296.5 1054.0,2300.7 1054.0,2292.3" fill="#000"/><polygon points="1145.3,2296.5 1135.8,2300.7 1135.8,2292.3" fill="#000"/><polygon points="1273.8,2296.5 1264.3,2300.7 1264.3,2292.3" fill="#000"/><polygon points="1090.5,2324.4 1094.7,2333.9 1086.3,2333.9" fill="#000"/><polygon points="1273.8,2451.1 1264.3,2455.3 1264.3,2446.9" fill="#000"/><polygon points="1264.7,2556.1 1255.2,2560.3 1255.2,2551.9" fill="#000"/><polygon points="1306.0,2428.1 1301.8,2418.6 1310.2,2418.6" fill="#000"/><polygon points="1306.0,2533.1 1301.8,2523.6 1310.2,2523.6" fill="#000"/><polygon points="1304.5,2656.5 1300.5,2646.9 1308.9,2647.1" fill="#000"/><polygon points="267.6,2503.0 257.6,2507.6 257.6,2498.4" fill="#000"/><polygon points="1038.8,2498.9 1028.8,2503.5 1028.8,2494.3" fill="#000"/><polygon points="707.3,2678.5 717.3,2673.9 717.3,2683.1" fill="#000"/><circle cx="1090.5" cy="2296.5" r="27.2" fill="#000"/><line x1="1084.5" y1="2296.8" x2="1096.8" y2="2296.8" stroke="#fff" stroke-width="1.3"/></svg>
<div class="a" id="f12" style="left:126.5px;top:2480.7px;font:normal normal 29px/41px 'Liberation Serif', serif;color:#000;letter-spacing:0.0em;transform-origin:0 0;transform:scaleX(1.0344);"><span class="m">ζ</span>(<span class="mb">x</span>, <span class="m">t</span>)</div>
<div class="a" id="f13" style="left:1055.5px;top:2478.3px;font:normal normal 29px/41px 'Liberation Serif', serif;color:#000;letter-spacing:0.0em;transform-origin:0 0;transform:scaleX(1.0682);"><span class="m">u</span><span style="position:absolute;left:0.05em;top:-0.32em" class="mr">~</span>(<span class="mb">x</span> <span class="m">t</span>)</div>
<div class="a" id="f14" style="left:1157.5px;top:2278.8px;font:normal normal 28px/40px 'Liberation Serif', serif;color:#000;letter-spacing:0.0em;transform-origin:0 0;transform:scaleX(1.0807);"><span class="m">ϕ</span><span style="position:absolute;left:0.1em;top:-0.45em" class="mr">~</span>(<span class="mb">x</span>, <span class="m">t</span>)</div>
<div class="a" id="f15" style="left:1290.5px;top:2274.2px;font:normal normal 28px/40px 'Liberation Serif', serif;color:#000;letter-spacing:0.0em;transform-origin:0 0;transform:scaleX(1.1342);"><span class="m">L</span><sub class="m" style="font-size:78%;vertical-align:-0.3em">ϕ</sub></div>
<div class="a" id="f16" style="left:1290.5px;top:2430.2px;font:normal normal 28px/40px 'Liberation Serif', serif;color:#000;letter-spacing:0.0em;transform-origin:0 0;transform:scaleX(1.0546);"><span class="m">L</span><sub class="m" style="font-size:78%;vertical-align:-0.3em">R</sub></div>
<div class="a" id="f17" style="left:1284.5px;top:2535.9px;font:normal normal 28px/40px 'Liberation Serif', serif;color:#000;letter-spacing:0.0em;transform-origin:0 0;transform:scaleX(0.9974);"><span class="m">L</span><sub class="m" style="font-size:78%;vertical-align:-0.3em">∂</sub><sub class="mr" style="font-size:78%;vertical-align:-0.3em">Ω</sub></div>
<div class="a" id="f18" style="left:1290.5px;top:2656.8px;font:normal normal 28px/40px 'Liberation Serif', serif;color:#000;letter-spacing:0.0em;transform-origin:0 0;transform:scaleX(1.0831);"><span class="m">L</span><sub class="m" style="font-size:78%;vertical-align:-0.3em">θ</sub></div>
<div class="a" id="f19" style="left:663.0px;top:2653.6px;font:normal normal 28px/40px 'Liberation Serif', serif;color:#000;letter-spacing:0.0em;transform-origin:0 0;transform:scaleX(1.0558);"><span class="m">η</span><sub class="m" style="font-size:78%;vertical-align:-0.3em">θ</sub></div>
<div class="a" style="left:1566.6px;top:493.8px;font:normal bold 56.5px/81px 'Liberation Sans', sans-serif;color:#000;">Embedding Knowledge of the Physics</div>
<div class="a" style="left:1564.4px;top:602.1px;font:normal normal 34.93px/49.7px 'Liberation Sans', sans-serif;color:#2c3e50;">In training our network, we wish to embed knowledge of the physics,<br>ensuring predictions are physical. We do this through two mechanisms:</div>
<div class="a" style="left:1567.5px;top:752.2px;font:normal normal 34.93px/50px 'Liberation Sans', sans-serif;color:#2c3e50;"><b>1.</b></div>
<div class="a" style="left:1626.3px;top:752.2px;font:normal normal 34.93px/50px 'Liberation Sans', sans-serif;color:#2c3e50;"><b>Hard constraints:</b> periodic padding in the convolutional layers.</div>
<div class="a" style="left:1567.5px;top:803.9px;font:normal normal 34.93px/50px 'Liberation Sans', sans-serif;color:#2c3e50;"><b>2.</b></div>
<div class="a" style="left:1626.3px;top:803.9px;font:normal normal 34.93px/50px 'Liberation Sans', sans-serif;color:#2c3e50;"><b>Soft constraints:</b>&nbsp; physics-based regularisation in the loss terms.</div>
<div class="a" style="left:1566.4px;top:911.8px;font:normal normal 34.93px/50px 'Liberation Sans', sans-serif;color:#2c3e50;">Our loss function is comprised of three terms:</div>
<div class="a" id="f20" style="left:1620.0px;top:988.0px;font:normal normal 37px/53px 'Liberation Serif', serif;color:#000;letter-spacing:0em;transform-origin:0 0;transform:scaleX(1.1211);"><span class="m">L</span><sub class="m" style="font-size:70%">θ</sub> = <span class="m">L</span><sub class="m" style="font-size:70%">R</sub> + <span class="m">α</span><span style="font-size:125%;position:relative;top:0.04em">(</span><span class="m">L</span><sub class="m" style="font-size:70%">∂</sub><sub class="mr" style="font-size:70%">Ω</sub> + <span class="m">L</span><sub class="m" style="font-size:70%">ϕ</sub><span style="font-size:125%;position:relative;top:0.04em">)</span></div>
<div class="a" style="left:1559px;top:1108.4px;width:1190px;height:2px;background:#000"></div>
<div class="a" style="left:1633.4px;top:1109px;width:2px;height:233.5px;background:#000"></div>
<div class="a" id="f21" style="left:1577.0px;top:1123.0px;font:normal normal 36px/51px 'Liberation Serif', serif;color:#2c3e50;letter-spacing:0em;transform-origin:0 0;transform:scaleX(1.1292);"><span class="m">L</span><sub class="m" style="font-size:70%">R</sub></div>
<div class="a" id="f22" style="left:1566.0px;top:1201.1px;font:normal normal 36px/51px 'Liberation Serif', serif;color:#2c3e50;letter-spacing:0em;transform-origin:0 0;transform:scaleX(1.0742);"><span class="m">L</span><sub class="m" style="font-size:70%">∂</sub><sub class="mr" style="font-size:70%">Ω</sub></div>
<div class="a" id="f23" style="left:1577.0px;top:1279.1px;font:normal normal 36px/51px 'Liberation Serif', serif;color:#2c3e50;letter-spacing:0em;transform-origin:0 0;transform:scaleX(1.1790);"><span class="m">L</span><sub class="m" style="font-size:70%">ϕ</sub></div>
<div class="a" style="left:1651.8px;top:1125.7px;font:normal normal 34.93px/50px 'Liberation Sans', sans-serif;color:#2c3e50;">Minimise the residual of the network predictions.</div>
<div class="a" style="left:1651.8px;top:1203.8px;font:normal normal 34.93px/50px 'Liberation Sans', sans-serif;color:#2c3e50;">Enforce values on the boundaries – this data is provided.</div>
<div class="a" style="left:1651.8px;top:1281.8px;font:normal normal 34.93px/50px 'Liberation Sans', sans-serif;color:#2c3e50;">Embed our assumption of stationary corruption.</div>
<div class="a" style="left:1565.3px;top:1419.5px;font:normal bold 56.5px/81px 'Liberation Sans', sans-serif;color:#000;">Results – Single Flow Field</div>
<div class="a" style="left:1564.4px;top:1521.8px;font:normal normal 34.93px/50px 'Liberation Sans', sans-serif;color:#2c3e50;">For the sake of numerical experiments, we introduce an artificial bias term</div>
<div class="a" style="left:1564.4px;top:1572.9px;font:normal normal 34.93px/50px 'Liberation Sans', sans-serif;color:#2c3e50;">parameterised by the frequency <span style="font-size:38px;letter-spacing:0.035em"><span style="margin:0 5px 0 3px"><span class="m">f</span></span></span> and relative magnitude <span style="font-size:38px;letter-spacing:0.035em"><span style="margin:0 7px 0 2px"><span class="m">M</span></span></span>. An example is</div>
<div class="a" style="left:1564.4px;top:1622.2px;font:normal normal 34.93px/50px 'Liberation Sans', sans-serif;color:#2c3e50;">shown in the figure below:</div>
<div class="a" style="left:1564.4px;top:2445.7px;font:normal normal 34.93px/50.3px 'Liberation Sans', sans-serif;color:#2c3e50;">We observe that the corrupted observations barely resemble the true<br>solution to the Navier Stokes equations, due to a large multi-modal<br>corruption. Despite this, the methodology is able to accurately recover the<br>underlying solution to the dynamical system by constraining the residual of<br>the predictions.</div>
<div class="a" style="left:811.9px;top:1726.4px;font:normal bold 23.2px/33px 'Liberation Sans', sans-serif;color:#000;width:2000px;text-align:center;">Corrupted Observations</div>
<div class="a" style="left:1360.4px;top:1726.6px;font:normal bold 23.2px/33px 'Liberation Sans', sans-serif;color:#000;width:2000px;text-align:center;">True NS Solution</div>
<div class="a" style="left:1670.4px;top:1726.6px;font:normal bold 23.2px/33px 'Liberation Sans', sans-serif;color:#000;width:2000px;text-align:center;">True Additive Bias</div>
<div class="a" style="left:1360.7px;top:2024.3px;font:normal bold 23.2px/33px 'Liberation Sans', sans-serif;color:#000;width:2000px;text-align:center;">Predicted NS Solution</div>
<div class="a" style="left:1676.0px;top:2024.3px;font:normal bold 23.2px/33px 'Liberation Sans', sans-serif;color:#000;width:2000px;text-align:center;">Predicted Additive Bias</div>
<svg style="left:1560.3px;top:1767.0px;overflow:hidden" width="518.0" height="516.0" viewBox="0 0 64 64" preserveAspectRatio="none" shape-rendering="crispEdges"><g><path fill="#053061" d="M12 39h3v1h-3zM12 40h3v1h-3zM11 41h4v1h-4zM12 42h2v1h-2z"/><path fill="#0f447d" d="M13 38h1v1h-1zM11 40h1v1h-1zM11 42h1v1h-1zM14 42h1v1h-1z"/><path fill="#1a5899" d="M31 3h1v1h-1zM30 4h2v1h-2zM13 13h2v1h-2zM14 38h1v1h-1zM15 39h1v1h-1zM15 40h1v1h-1zM15 41h1v1h-1zM12 43h2v1h-2z"/><path fill="#256baf" d="M30 2h2v1h-2zM30 3h1v1h-1zM29 4h1v1h-1zM32 4h1v1h-1zM30 5h2v1h-2zM13 12h2v1h-2zM13 14h2v1h-2zM13 37h2v1h-2zM12 38h1v1h-1zM11 39h1v1h-1zM10 41h1v1h-1zM10 42h1v1h-1zM11 43h1v1h-1zM14 43h1v1h-1z"/><path fill="#317cb7" d="M32 2h1v1h-1zM29 3h1v1h-1zM32 3h1v1h-1zM29 5h1v1h-1zM32 5h1v1h-1zM13 11h1v1h-1zM12 12h1v1h-1zM12 13h1v1h-1zM15 13h1v1h-1zM15 14h1v1h-1zM13 32h2v1h-2zM13 33h2v1h-2zM14 34h1v1h-1zM15 38h1v1h-1zM10 40h1v1h-1zM15 42h1v1h-1zM12 44h2v1h-2z"/><path fill="#3e8cc0" d="M30 1h3v1h-3zM29 2h1v1h-1zM28 3h1v1h-1zM28 4h1v1h-1zM30 6h2v1h-2zM12 11h1v1h-1zM14 11h1v1h-1zM15 12h1v1h-1zM31 13h1v1h-1zM12 14h1v1h-1zM13 15h2v1h-2zM13 31h2v1h-2zM15 32h1v1h-1zM15 33h1v1h-1zM13 34h1v1h-1zM13 35h2v1h-2zM13 36h2v1h-2zM12 37h1v1h-1zM15 37h1v1h-1zM11 38h1v1h-1zM16 40h1v1h-1zM9 41h1v1h-1zM10 43h1v1h-1zM11 44h1v1h-1z"/><path fill="#559ec9" d="M30 0h3v1h-3zM29 1h1v1h-1zM28 2h1v1h-1zM33 2h1v1h-1zM24 3h4v1h-4zM33 3h1v1h-1zM24 4h4v1h-4zM33 4h1v1h-1zM28 5h1v1h-1zM29 6h1v1h-1zM32 6h1v1h-1zM13 10h1v1h-1zM30 12h3v1h-3zM11 13h1v1h-1zM30 13h1v1h-1zM32 13h1v1h-1zM31 14h2v1h-2zM12 15h1v1h-1zM15 15h1v1h-1zM13 22h2v1h-2zM15 31h1v1h-1zM12 32h1v1h-1zM12 33h1v1h-1zM15 34h1v1h-1zM15 35h1v1h-1zM12 36h1v1h-1zM15 36h1v1h-1zM10 39h1v1h-1zM16 39h1v1h-1zM9 40h1v1h-1zM41 40h3v1h-3zM16 41h1v1h-1zM41 41h2v1h-2zM9 42h1v1h-1zM15 43h1v1h-1zM14 44h1v1h-1zM12 45h2v1h-2z"/><path fill="#72b1d3" d="M29 0h1v1h-1zM28 1h1v1h-1zM33 1h1v1h-1zM23 2h5v1h-5zM23 3h1v1h-1zM12 4h2v1h-2zM23 4h1v1h-1zM12 5h2v1h-2zM24 5h4v1h-4zM33 5h1v1h-1zM12 6h2v1h-2zM28 6h1v1h-1zM30 7h2v1h-2zM13 9h1v1h-1zM12 10h1v1h-1zM14 10h1v1h-1zM15 11h1v1h-1zM30 11h2v1h-2zM11 12h1v1h-1zM16 13h1v1h-1zM11 14h1v1h-1zM16 14h1v1h-1zM30 14h1v1h-1zM13 16h2v1h-2zM13 21h2v1h-2zM3 22h3v1h-3zM12 22h1v1h-1zM15 22h1v1h-1zM3 23h3v1h-3zM13 23h2v1h-2zM13 30h3v1h-3zM4 31h1v1h-1zM12 31h1v1h-1zM16 31h1v1h-1zM16 32h1v1h-1zM16 33h1v1h-1zM12 34h1v1h-1zM12 35h1v1h-1zM16 38h1v1h-1zM42 39h2v1h-2zM8 41h1v1h-1zM43 41h1v1h-1zM8 42h1v1h-1zM16 42h1v1h-1zM41 42h1v1h-1zM9 43h1v1h-1zM10 44h1v1h-1zM11 45h1v1h-1zM12 46h2v1h-2zM12 47h2v1h-2zM12 48h2v1h-2zM12 49h2v1h-2zM31 58h2v1h-2zM31 59h2v1h-2zM31 60h2v1h-2z"/><path fill="#8fc3dd" d="M33 0h1v1h-1zM23 1h3v1h-3zM27 1h1v1h-1zM22 3h1v1h-1zM34 3h1v1h-1zM14 4h1v1h-1zM22 4h1v1h-1zM34 4h1v1h-1zM11 5h1v1h-1zM14 5h1v1h-1zM23 5h1v1h-1zM14 6h1v1h-1zM33 6h1v1h-1zM12 7h2v1h-2zM29 7h1v1h-1zM32 7h1v1h-1zM12 8h2v1h-2zM30 8h2v1h-2zM12 9h1v1h-1zM14 9h1v1h-1zM30 10h2v1h-2zM11 11h1v1h-1zM32 11h1v1h-1zM16 12h1v1h-1zM29 12h1v1h-1zM33 12h1v1h-1zM29 13h1v1h-1zM33 13h1v1h-1zM33 14h1v1h-1zM16 15h1v1h-1zM31 15h2v1h-2zM15 16h1v1h-1zM13 20h2v1h-2zM3 21h3v1h-3zM12 21h1v1h-1zM15 21h1v1h-1zM31 22h2v1h-2zM12 23h1v1h-1zM15 23h1v1h-1zM31 23h2v1h-2zM3 24h2v1h-2zM13 24h2v1h-2zM4 30h1v1h-1zM12 30h1v1h-1zM3 31h1v1h-1zM5 31h1v1h-1zM31 31h2v1h-2zM3 32h3v1h-3zM11 32h1v1h-1zM17 32h1v1h-1zM31 32h1v1h-1zM49 32h1v1h-1zM16 34h1v1h-1zM16 35h1v1h-1zM11 37h1v1h-1zM16 37h1v1h-1zM10 38h1v1h-1zM9 39h1v1h-1zM41 39h1v1h-1zM44 39h1v1h-1zM6 40h3v1h-3zM17 40h1v1h-1zM44 40h1v1h-1zM5 41h3v1h-3zM40 41h1v1h-1zM6 42h2v1h-2zM42 42h1v1h-1zM15 44h1v1h-1zM10 45h1v1h-1zM14 45h1v1h-1zM11 46h1v1h-1zM14 46h1v1h-1zM11 47h1v1h-1zM14 47h1v1h-1zM11 48h1v1h-1zM14 48h1v1h-1zM11 49h1v1h-1zM14 49h1v1h-1zM12 50h2v1h-2zM30 58h1v1h-1zM22 59h2v1h-2zM30 59h1v1h-1zM33 59h1v1h-1zM30 60h1v1h-1zM33 60h1v1h-1zM31 61h2v1h-2z"/><path fill="#a7d0e4" d="M23 0h2v1h-2zM28 0h1v1h-1zM26 1h1v1h-1zM22 2h1v1h-1zM34 2h1v1h-1zM12 3h2v1h-2zM11 4h1v1h-1zM59 4h1v1h-1zM34 5h1v1h-1zM59 5h1v1h-1zM11 6h1v1h-1zM24 6h4v1h-4zM14 7h1v1h-1zM28 7h1v1h-1zM14 8h1v1h-1zM29 8h1v1h-1zM32 8h1v1h-1zM30 9h3v1h-3zM11 10h1v1h-1zM15 10h1v1h-1zM32 10h1v1h-1zM29 11h1v1h-1zM10 13h1v1h-1zM17 13h1v1h-1zM17 14h1v1h-1zM29 14h1v1h-1zM11 15h1v1h-1zM30 15h1v1h-1zM33 15h1v1h-1zM12 16h1v1h-1zM13 17h2v1h-2zM13 19h2v1h-2zM15 20h1v1h-1zM31 21h2v1h-2zM2 22h1v1h-1zM6 22h1v1h-1zM11 22h1v1h-1zM16 22h1v1h-1zM21 22h3v1h-3zM33 22h1v1h-1zM2 23h1v1h-1zM6 23h1v1h-1zM11 23h1v1h-1zM16 23h1v1h-1zM21 23h2v1h-2zM33 23h1v1h-1zM5 24h1v1h-1zM12 24h1v1h-1zM15 24h1v1h-1zM32 24h1v1h-1zM4 25h1v1h-1zM13 25h1v1h-1zM13 29h2v1h-2zM3 30h1v1h-1zM5 30h1v1h-1zM16 30h1v1h-1zM31 30h2v1h-2zM6 31h1v1h-1zM11 31h1v1h-1zM17 31h1v1h-1zM21 31h2v1h-2zM30 31h1v1h-1zM49 31h2v1h-2zM21 32h2v1h-2zM30 32h1v1h-1zM32 32h1v1h-1zM48 32h1v1h-1zM50 32h1v1h-1zM4 33h2v1h-2zM11 33h1v1h-1zM17 33h1v1h-1zM31 33h1v1h-1zM49 33h1v1h-1zM11 34h1v1h-1zM11 36h1v1h-1zM16 36h1v1h-1zM42 38h2v1h-2zM17 39h1v1h-1zM45 39h1v1h-1zM5 40h1v1h-1zM29 40h2v1h-2zM40 40h1v1h-1zM45 40h1v1h-1zM17 41h1v1h-1zM24 41h1v1h-1zM44 41h1v1h-1zM5 42h1v1h-1zM40 42h1v1h-1zM43 42h1v1h-1zM7 43h2v1h-2zM16 43h1v1h-1zM41 43h1v1h-1zM9 44h1v1h-1zM10 46h1v1h-1zM10 47h1v1h-1zM10 48h1v1h-1zM10 49h1v1h-1zM11 50h1v1h-1zM14 50h1v1h-1zM31 50h2v1h-2zM13 51h1v1h-1zM31 57h2v1h-2zM22 58h2v1h-2zM33 58h1v1h-1zM24 59h1v1h-1zM29 59h1v1h-1zM40 59h1v1h-1zM22 60h3v1h-3zM30 61h1v1h-1z"/><path fill="#bedceb" d="M22 0h1v1h-1zM25 0h3v1h-3zM22 1h1v1h-1zM34 1h1v1h-1zM11 3h1v1h-1zM14 3h1v1h-1zM21 3h1v1h-1zM40 3h1v1h-1zM59 3h1v1h-1zM10 4h1v1h-1zM40 4h1v1h-1zM60 4h1v1h-1zM10 5h1v1h-1zM22 5h1v1h-1zM60 5h1v1h-1zM23 6h1v1h-1zM11 7h1v1h-1zM33 7h1v1h-1zM11 8h1v1h-1zM11 9h1v1h-1zM29 9h1v1h-1zM29 10h1v1h-1zM16 11h1v1h-1zM33 11h1v1h-1zM10 12h1v1h-1zM28 12h1v1h-1zM4 13h2v1h-2zM28 13h1v1h-1zM34 13h1v1h-1zM60 13h1v1h-1zM3 14h3v1h-3zM10 14h1v1h-1zM4 15h1v1h-1zM17 15h1v1h-1zM16 16h1v1h-1zM31 16h2v1h-2zM12 17h1v1h-1zM15 17h1v1h-1zM13 18h2v1h-2zM15 19h1v1h-1zM3 20h3v1h-3zM12 20h1v1h-1zM31 20h2v1h-2zM2 21h1v1h-1zM6 21h1v1h-1zM11 21h1v1h-1zM16 21h1v1h-1zM21 21h3v1h-3zM30 21h1v1h-1zM33 21h1v1h-1zM7 22h1v1h-1zM17 22h1v1h-1zM20 22h1v1h-1zM30 22h1v1h-1zM50 22h1v1h-1zM20 23h1v1h-1zM23 23h1v1h-1zM30 23h1v1h-1zM50 23h1v1h-1zM2 24h1v1h-1zM6 24h1v1h-1zM21 24h2v1h-2zM31 24h1v1h-1zM33 24h1v1h-1zM3 25h1v1h-1zM5 25h1v1h-1zM12 25h1v1h-1zM14 25h1v1h-1zM13 28h2v1h-2zM3 29h3v1h-3zM12 29h1v1h-1zM15 29h1v1h-1zM2 30h1v1h-1zM6 30h1v1h-1zM11 30h1v1h-1zM21 30h2v1h-2zM30 30h1v1h-1zM49 30h2v1h-2zM2 31h1v1h-1zM18 31h3v1h-3zM23 31h1v1h-1zM33 31h1v1h-1zM48 31h1v1h-1zM2 32h1v1h-1zM6 32h1v1h-1zM18 32h3v1h-3zM23 32h1v1h-1zM33 32h1v1h-1zM3 33h1v1h-1zM18 33h1v1h-1zM21 33h2v1h-2zM30 33h1v1h-1zM32 33h1v1h-1zM48 33h1v1h-1zM50 33h1v1h-1zM17 34h1v1h-1zM31 34h1v1h-1zM11 35h1v1h-1zM17 38h1v1h-1zM44 38h2v1h-2zM5 39h4v1h-4zM28 39h3v1h-3zM46 39h1v1h-1zM4 40h1v1h-1zM24 40h5v1h-5zM31 40h1v1h-1zM46 40h1v1h-1zM4 41h1v1h-1zM23 41h1v1h-1zM25 41h7v1h-7zM45 41h1v1h-1zM17 42h1v1h-1zM23 42h2v1h-2zM6 43h1v1h-1zM40 43h1v1h-1zM42 43h1v1h-1zM8 44h1v1h-1zM9 45h1v1h-1zM15 45h1v1h-1zM9 47h1v1h-1zM6 48h1v1h-1zM9 48h1v1h-1zM15 48h1v1h-1zM5 49h5v1h-5zM15 49h1v1h-1zM22 49h2v1h-2zM31 49h2v1h-2zM40 49h2v1h-2zM5 50h2v1h-2zM10 50h1v1h-1zM22 50h2v1h-2zM30 50h1v1h-1zM33 50h1v1h-1zM40 50h2v1h-2zM12 51h1v1h-1zM14 51h1v1h-1zM22 51h2v1h-2zM31 51h2v1h-2zM40 51h2v1h-2zM23 57h1v1h-1zM30 57h1v1h-1zM33 57h1v1h-1zM21 58h1v1h-1zM24 58h1v1h-1zM29 58h1v1h-1zM34 58h1v1h-1zM39 58h3v1h-3zM21 59h1v1h-1zM25 59h1v1h-1zM34 59h1v1h-1zM39 59h1v1h-1zM41 59h1v1h-1zM21 60h1v1h-1zM29 60h1v1h-1zM34 60h1v1h-1zM39 60h2v1h-2zM22 61h2v1h-2zM33 61h1v1h-1zM31 62h2v1h-2z"/><path fill="#d4e6f1" d="M34 0h1v1h-1zM12 2h2v1h-2zM21 2h1v1h-1zM35 2h1v1h-1zM39 2h2v1h-2zM35 3h1v1h-1zM39 3h1v1h-1zM41 3h1v1h-1zM58 3h1v1h-1zM60 3h1v1h-1zM15 4h1v1h-1zM21 4h1v1h-1zM35 4h1v1h-1zM39 4h1v1h-1zM41 4h1v1h-1zM58 4h1v1h-1zM61 4h1v1h-1zM15 5h1v1h-1zM40 5h1v1h-1zM58 5h1v1h-1zM61 5h1v1h-1zM10 6h1v1h-1zM15 6h1v1h-1zM34 6h1v1h-1zM59 6h2v1h-2zM15 7h1v1h-1zM24 7h4v1h-4zM28 8h1v1h-1zM33 8h1v1h-1zM15 9h1v1h-1zM28 10h1v1h-1zM33 10h1v1h-1zM10 11h1v1h-1zM28 11h1v1h-1zM17 12h1v1h-1zM27 12h1v1h-1zM34 12h1v1h-1zM60 12h2v1h-2zM3 13h1v1h-1zM6 13h1v1h-1zM9 13h1v1h-1zM18 13h1v1h-1zM27 13h1v1h-1zM59 13h1v1h-1zM61 13h1v1h-1zM6 14h1v1h-1zM18 14h1v1h-1zM28 14h1v1h-1zM34 14h1v1h-1zM60 14h2v1h-2zM3 15h1v1h-1zM5 15h1v1h-1zM10 15h1v1h-1zM29 15h1v1h-1zM4 16h1v1h-1zM11 16h1v1h-1zM30 16h1v1h-1zM33 16h1v1h-1zM16 17h1v1h-1zM31 17h2v1h-2zM12 18h1v1h-1zM15 18h1v1h-1zM4 19h1v1h-1zM12 19h1v1h-1zM31 19h2v1h-2zM6 20h1v1h-1zM11 20h1v1h-1zM16 20h1v1h-1zM21 20h2v1h-2zM33 20h1v1h-1zM7 21h1v1h-1zM17 21h1v1h-1zM20 21h1v1h-1zM50 21h1v1h-1zM1 22h1v1h-1zM10 22h1v1h-1zM18 22h2v1h-2zM24 22h1v1h-1zM34 22h1v1h-1zM49 22h1v1h-1zM51 22h1v1h-1zM59 22h2v1h-2zM1 23h1v1h-1zM7 23h1v1h-1zM10 23h1v1h-1zM17 23h3v1h-3zM24 23h1v1h-1zM34 23h1v1h-1zM49 23h1v1h-1zM51 23h1v1h-1zM59 23h2v1h-2zM11 24h1v1h-1zM16 24h1v1h-1zM20 24h1v1h-1zM23 24h1v1h-1zM30 24h1v1h-1zM49 24h2v1h-2zM2 25h1v1h-1zM15 25h1v1h-1zM31 25h2v1h-2zM3 26h3v1h-3zM13 26h2v1h-2zM4 27h1v1h-1zM13 27h2v1h-2zM3 28h3v1h-3zM15 28h1v1h-1zM16 29h1v1h-1zM22 29h1v1h-1zM31 29h2v1h-2zM17 30h4v1h-4zM23 30h1v1h-1zM33 30h1v1h-1zM48 30h1v1h-1zM51 30h1v1h-1zM1 31h1v1h-1zM7 31h1v1h-1zM10 31h1v1h-1zM24 31h1v1h-1zM29 31h1v1h-1zM47 31h1v1h-1zM51 31h1v1h-1zM7 32h1v1h-1zM10 32h1v1h-1zM24 32h1v1h-1zM29 32h1v1h-1zM47 32h1v1h-1zM51 32h1v1h-1zM6 33h1v1h-1zM10 33h1v1h-1zM19 33h2v1h-2zM23 33h1v1h-1zM29 33h1v1h-1zM47 33h1v1h-1zM4 34h2v1h-2zM30 34h1v1h-1zM32 34h1v1h-1zM47 34h3v1h-3zM17 35h1v1h-1zM17 36h1v1h-1zM10 37h1v1h-1zM17 37h1v1h-1zM43 37h2v1h-2zM9 38h1v1h-1zM29 38h2v1h-2zM41 38h1v1h-1zM46 38h1v1h-1zM4 39h1v1h-1zM18 39h1v1h-1zM25 39h3v1h-3zM31 39h1v1h-1zM40 39h1v1h-1zM47 39h1v1h-1zM18 40h1v1h-1zM22 40h2v1h-2zM47 40h2v1h-2zM18 41h1v1h-1zM22 41h1v1h-1zM39 41h1v1h-1zM46 41h1v1h-1zM4 42h1v1h-1zM22 42h1v1h-1zM25 42h2v1h-2zM29 42h2v1h-2zM39 42h1v1h-1zM44 42h1v1h-1zM5 43h1v1h-1zM23 43h1v1h-1zM6 44h2v1h-2zM8 45h1v1h-1zM9 46h1v1h-1zM15 46h1v1h-1zM6 47h3v1h-3zM15 47h1v1h-1zM5 48h1v1h-1zM7 48h2v1h-2zM22 48h2v1h-2zM31 48h2v1h-2zM40 48h2v1h-2zM4 49h1v1h-1zM21 49h1v1h-1zM24 49h1v1h-1zM30 49h1v1h-1zM33 49h1v1h-1zM39 49h1v1h-1zM42 49h1v1h-1zM4 50h1v1h-1zM7 50h3v1h-3zM15 50h1v1h-1zM21 50h1v1h-1zM24 50h1v1h-1zM39 50h1v1h-1zM42 50h1v1h-1zM5 51h2v1h-2zM11 51h1v1h-1zM21 51h1v1h-1zM24 51h1v1h-1zM30 51h1v1h-1zM33 51h1v1h-1zM42 51h1v1h-1zM31 52h2v1h-2zM31 56h2v1h-2zM22 57h1v1h-1zM24 57h1v1h-1zM40 57h2v1h-2zM25 58h1v1h-1zM26 59h1v1h-1zM28 59h1v1h-1zM35 59h1v1h-1zM38 59h1v1h-1zM42 59h1v1h-1zM25 60h1v1h-1zM28 60h1v1h-1zM38 60h1v1h-1zM41 60h1v1h-1zM24 61h1v1h-1zM29 61h1v1h-1zM34 61h1v1h-1zM40 61h1v1h-1zM30 62h1v1h-1zM33 62h1v1h-1zM31 63h2v1h-2z"/><path fill="#e2edf3" d="M21 1h1v1h-1zM35 1h1v1h-1zM39 1h2v1h-2zM11 2h1v1h-1zM14 2h1v1h-1zM38 2h1v1h-1zM41 2h1v1h-1zM59 2h1v1h-1zM10 3h1v1h-1zM15 3h1v1h-1zM36 3h3v1h-3zM42 3h1v1h-1zM61 3h1v1h-1zM9 4h1v1h-1zM36 4h3v1h-3zM42 4h1v1h-1zM9 5h1v1h-1zM21 5h1v1h-1zM35 5h1v1h-1zM39 5h1v1h-1zM41 5h1v1h-1zM22 6h1v1h-1zM61 6h1v1h-1zM10 7h1v1h-1zM23 7h1v1h-1zM59 7h2v1h-2zM15 8h1v1h-1zM27 8h1v1h-1zM28 9h1v1h-1zM33 9h1v1h-1zM10 10h1v1h-1zM16 10h1v1h-1zM27 11h1v1h-1zM34 11h1v1h-1zM60 11h2v1h-2zM3 12h3v1h-3zM9 12h1v1h-1zM24 12h3v1h-3zM59 12h1v1h-1zM62 12h1v1h-1zM2 13h1v1h-1zM7 13h2v1h-2zM19 13h1v1h-1zM21 13h6v1h-6zM62 13h1v1h-1zM2 14h1v1h-1zM7 14h1v1h-1zM9 14h1v1h-1zM19 14h6v1h-6zM27 14h1v1h-1zM59 14h1v1h-1zM62 14h1v1h-1zM2 15h1v1h-1zM6 15h1v1h-1zM18 15h1v1h-1zM21 15h2v1h-2zM34 15h1v1h-1zM3 16h1v1h-1zM5 16h1v1h-1zM17 16h1v1h-1zM4 17h1v1h-1zM33 17h1v1h-1zM4 18h1v1h-1zM16 18h1v1h-1zM31 18h2v1h-2zM3 19h1v1h-1zM5 19h1v1h-1zM16 19h1v1h-1zM33 19h1v1h-1zM2 20h1v1h-1zM17 20h1v1h-1zM20 20h1v1h-1zM23 20h1v1h-1zM30 20h1v1h-1zM1 21h1v1h-1zM10 21h1v1h-1zM18 21h2v1h-2zM24 21h1v1h-1zM29 21h1v1h-1zM34 21h1v1h-1zM49 21h1v1h-1zM59 21h2v1h-2zM0 22h1v1h-1zM8 22h2v1h-2zM29 22h1v1h-1zM48 22h1v1h-1zM58 22h1v1h-1zM61 22h1v1h-1zM0 23h1v1h-1zM8 23h2v1h-2zM29 23h1v1h-1zM48 23h1v1h-1zM58 23h1v1h-1zM61 23h1v1h-1zM1 24h1v1h-1zM7 24h1v1h-1zM10 24h1v1h-1zM17 24h1v1h-1zM19 24h1v1h-1zM24 24h1v1h-1zM34 24h1v1h-1zM51 24h1v1h-1zM59 24h2v1h-2zM6 25h1v1h-1zM11 25h1v1h-1zM16 25h1v1h-1zM21 25h3v1h-3zM33 25h1v1h-1zM12 26h1v1h-1zM15 26h1v1h-1zM3 27h1v1h-1zM5 27h1v1h-1zM12 27h1v1h-1zM15 27h1v1h-1zM12 28h1v1h-1zM31 28h2v1h-2zM2 29h1v1h-1zM6 29h1v1h-1zM11 29h1v1h-1zM20 29h2v1h-2zM23 29h1v1h-1zM30 29h1v1h-1zM33 29h1v1h-1zM49 29h2v1h-2zM1 30h1v1h-1zM7 30h1v1h-1zM10 30h1v1h-1zM24 30h1v1h-1zM29 30h1v1h-1zM8 31h2v1h-2zM34 31h1v1h-1zM60 31h2v1h-2zM1 32h1v1h-1zM8 32h2v1h-2zM46 32h1v1h-1zM60 32h2v1h-2zM2 33h1v1h-1zM7 33h1v1h-1zM33 33h1v1h-1zM46 33h1v1h-1zM3 34h1v1h-1zM6 34h1v1h-1zM10 34h1v1h-1zM18 34h5v1h-5zM29 34h1v1h-1zM46 34h1v1h-1zM50 34h1v1h-1zM30 35h2v1h-2zM47 35h3v1h-3zM10 36h1v1h-1zM30 36h1v1h-1zM30 37h2v1h-2zM42 37h1v1h-1zM45 37h3v1h-3zM4 38h5v1h-5zM18 38h1v1h-1zM28 38h1v1h-1zM31 38h1v1h-1zM47 38h2v1h-2zM23 39h2v1h-2zM48 39h1v1h-1zM19 40h3v1h-3zM32 40h1v1h-1zM39 40h1v1h-1zM49 40h1v1h-1zM58 40h2v1h-2zM19 41h3v1h-3zM32 41h1v1h-1zM47 41h3v1h-3zM58 41h2v1h-2zM21 42h1v1h-1zM27 42h2v1h-2zM31 42h1v1h-1zM45 42h1v1h-1zM17 43h1v1h-1zM22 43h1v1h-1zM24 43h2v1h-2zM39 43h1v1h-1zM43 43h1v1h-1zM5 44h1v1h-1zM16 44h1v1h-1zM40 44h3v1h-3zM6 45h2v1h-2zM6 46h3v1h-3zM5 47h1v1h-1zM23 47h1v1h-1zM40 47h2v1h-2zM4 48h1v1h-1zM21 48h1v1h-1zM24 48h1v1h-1zM30 48h1v1h-1zM33 48h1v1h-1zM39 48h1v1h-1zM42 48h1v1h-1zM16 49h1v1h-1zM20 49h1v1h-1zM25 49h1v1h-1zM29 49h1v1h-1zM34 49h1v1h-1zM43 49h1v1h-1zM49 49h2v1h-2zM20 50h1v1h-1zM25 50h1v1h-1zM29 50h1v1h-1zM34 50h1v1h-1zM38 50h1v1h-1zM43 50h1v1h-1zM49 50h2v1h-2zM4 51h1v1h-1zM7 51h1v1h-1zM10 51h1v1h-1zM15 51h1v1h-1zM39 51h1v1h-1zM49 51h1v1h-1zM12 52h3v1h-3zM22 52h2v1h-2zM30 52h1v1h-1zM33 52h1v1h-1zM40 52h2v1h-2zM22 56h2v1h-2zM30 56h1v1h-1zM33 56h1v1h-1zM21 57h1v1h-1zM29 57h1v1h-1zM34 57h1v1h-1zM39 57h1v1h-1zM13 58h1v1h-1zM20 58h1v1h-1zM26 58h3v1h-3zM35 58h1v1h-1zM38 58h1v1h-1zM42 58h1v1h-1zM12 59h3v1h-3zM20 59h1v1h-1zM27 59h1v1h-1zM36 59h2v1h-2zM13 60h1v1h-1zM20 60h1v1h-1zM26 60h2v1h-2zM35 60h3v1h-3zM42 60h1v1h-1zM21 61h1v1h-1zM25 61h1v1h-1zM39 61h1v1h-1zM41 61h1v1h-1zM22 62h3v1h-3zM30 63h1v1h-1z"/><path fill="#f0f4f6" d="M21 0h1v1h-1zM35 0h1v1h-1zM39 0h3v1h-3zM12 1h2v1h-2zM36 1h1v1h-1zM38 1h1v1h-1zM41 1h1v1h-1zM36 2h2v1h-2zM42 2h1v1h-1zM58 2h1v1h-1zM60 2h1v1h-1zM6 3h1v1h-1zM9 3h1v1h-1zM20 3h1v1h-1zM6 4h3v1h-3zM62 4h1v1h-1zM7 5h2v1h-2zM36 5h1v1h-1zM38 5h1v1h-1zM42 5h1v1h-1zM62 5h1v1h-1zM9 6h1v1h-1zM40 6h2v1h-2zM58 6h1v1h-1zM34 7h1v1h-1zM61 7h1v1h-1zM10 8h1v1h-1zM24 8h3v1h-3zM60 8h1v1h-1zM10 9h1v1h-1zM27 9h1v1h-1zM26 10h2v1h-2zM60 10h1v1h-1zM9 11h1v1h-1zM17 11h1v1h-1zM24 11h3v1h-3zM59 11h1v1h-1zM2 12h1v1h-1zM6 12h3v1h-3zM18 12h1v1h-1zM22 12h2v1h-2zM35 12h1v1h-1zM40 12h2v1h-2zM1 13h1v1h-1zM20 13h1v1h-1zM35 13h1v1h-1zM39 13h3v1h-3zM58 13h1v1h-1zM63 13h1v1h-1zM1 14h1v1h-1zM8 14h1v1h-1zM25 14h2v1h-2zM35 14h1v1h-1zM40 14h2v1h-2zM58 14h1v1h-1zM63 14h1v1h-1zM7 15h1v1h-1zM9 15h1v1h-1zM19 15h2v1h-2zM23 15h1v1h-1zM28 15h1v1h-1zM59 15h3v1h-3zM6 16h1v1h-1zM10 16h1v1h-1zM18 16h1v1h-1zM21 16h2v1h-2zM29 16h1v1h-1zM34 16h1v1h-1zM3 17h1v1h-1zM5 17h1v1h-1zM11 17h1v1h-1zM17 17h1v1h-1zM30 17h1v1h-1zM3 18h1v1h-1zM5 18h1v1h-1zM11 18h1v1h-1zM30 18h1v1h-1zM33 18h1v1h-1zM2 19h1v1h-1zM6 19h1v1h-1zM11 19h1v1h-1zM17 19h1v1h-1zM21 19h2v1h-2zM30 19h1v1h-1zM7 20h1v1h-1zM10 20h1v1h-1zM18 20h2v1h-2zM24 20h1v1h-1zM34 20h1v1h-1zM49 20h2v1h-2zM0 21h1v1h-1zM8 21h2v1h-2zM48 21h1v1h-1zM51 21h1v1h-1zM58 21h1v1h-1zM61 21h1v1h-1zM25 22h1v1h-1zM35 22h1v1h-1zM39 22h3v1h-3zM52 22h1v1h-1zM62 22h1v1h-1zM25 23h1v1h-1zM35 23h1v1h-1zM40 23h2v1h-2zM52 23h1v1h-1zM62 23h1v1h-1zM0 24h1v1h-1zM8 24h2v1h-2zM18 24h1v1h-1zM29 24h1v1h-1zM48 24h1v1h-1zM58 24h1v1h-1zM61 24h1v1h-1zM1 25h1v1h-1zM7 25h1v1h-1zM20 25h1v1h-1zM30 25h1v1h-1zM49 25h3v1h-3zM2 26h1v1h-1zM6 26h1v1h-1zM16 26h1v1h-1zM21 26h2v1h-2zM31 26h2v1h-2zM2 27h1v1h-1zM22 27h1v1h-1zM31 27h2v1h-2zM2 28h1v1h-1zM6 28h1v1h-1zM11 28h1v1h-1zM16 28h1v1h-1zM21 28h2v1h-2zM50 28h1v1h-1zM1 29h1v1h-1zM17 29h3v1h-3zM48 29h1v1h-1zM51 29h1v1h-1zM0 30h1v1h-1zM8 30h2v1h-2zM34 30h1v1h-1zM47 30h1v1h-1zM59 30h3v1h-3zM0 31h1v1h-1zM25 31h1v1h-1zM28 31h1v1h-1zM42 31h1v1h-1zM46 31h1v1h-1zM52 31h1v1h-1zM59 31h1v1h-1zM62 31h1v1h-1zM0 32h1v1h-1zM25 32h1v1h-1zM28 32h1v1h-1zM34 32h1v1h-1zM42 32h4v1h-4zM59 32h1v1h-1zM1 33h1v1h-1zM8 33h2v1h-2zM24 33h1v1h-1zM28 33h1v1h-1zM42 33h4v1h-4zM51 33h1v1h-1zM59 33h2v1h-2zM23 34h1v1h-1zM44 34h2v1h-2zM4 35h2v1h-2zM10 35h1v1h-1zM18 35h1v1h-1zM29 35h1v1h-1zM32 35h1v1h-1zM44 35h3v1h-3zM4 36h2v1h-2zM29 36h1v1h-1zM31 36h1v1h-1zM42 36h7v1h-7zM4 37h3v1h-3zM9 37h1v1h-1zM18 37h1v1h-1zM29 37h1v1h-1zM41 37h1v1h-1zM48 37h1v1h-1zM26 38h2v1h-2zM40 38h1v1h-1zM49 38h1v1h-1zM3 39h1v1h-1zM19 39h4v1h-4zM32 39h1v1h-1zM49 39h1v1h-1zM58 39h2v1h-2zM3 40h1v1h-1zM60 40h1v1h-1zM3 41h1v1h-1zM60 41h1v1h-1zM18 42h3v1h-3zM32 42h1v1h-1zM46 42h4v1h-4zM58 42h2v1h-2zM4 43h1v1h-1zM21 43h1v1h-1zM26 43h1v1h-1zM30 43h2v1h-2zM44 43h1v1h-1zM22 44h3v1h-3zM5 45h1v1h-1zM16 45h1v1h-1zM40 45h2v1h-2zM5 46h1v1h-1zM40 46h2v1h-2zM4 47h1v1h-1zM22 47h1v1h-1zM24 47h1v1h-1zM31 47h2v1h-2zM42 47h1v1h-1zM16 48h1v1h-1zM49 48h2v1h-2zM3 49h1v1h-1zM38 49h1v1h-1zM48 49h1v1h-1zM51 49h1v1h-1zM58 49h2v1h-2zM3 50h1v1h-1zM16 50h1v1h-1zM26 50h1v1h-1zM28 50h1v1h-1zM35 50h1v1h-1zM48 50h1v1h-1zM51 50h1v1h-1zM58 50h3v1h-3zM8 51h2v1h-2zM20 51h1v1h-1zM25 51h1v1h-1zM29 51h1v1h-1zM34 51h1v1h-1zM38 51h1v1h-1zM43 51h1v1h-1zM48 51h1v1h-1zM50 51h1v1h-1zM59 51h1v1h-1zM5 52h1v1h-1zM11 52h1v1h-1zM21 52h1v1h-1zM24 52h1v1h-1zM39 52h1v1h-1zM42 52h1v1h-1zM22 53h2v1h-2zM31 53h2v1h-2zM40 53h2v1h-2zM31 54h2v1h-2zM31 55h2v1h-2zM24 56h1v1h-1zM40 56h2v1h-2zM13 57h1v1h-1zM25 57h1v1h-1zM28 57h1v1h-1zM38 57h1v1h-1zM42 57h1v1h-1zM12 58h1v1h-1zM14 58h1v1h-1zM36 58h2v1h-2zM59 58h2v1h-2zM4 59h2v1h-2zM15 59h1v1h-1zM58 59h3v1h-3zM12 60h1v1h-1zM14 60h1v1h-1zM59 60h2v1h-2zM26 61h3v1h-3zM35 61h1v1h-1zM38 61h1v1h-1zM21 62h1v1h-1zM29 62h1v1h-1zM34 62h1v1h-1zM40 62h1v1h-1zM22 63h2v1h-2zM33 63h1v1h-1z"/><path fill="#f8f2ee" d="M13 0h1v1h-1zM36 0h3v1h-3zM14 1h1v1h-1zM37 1h1v1h-1zM42 1h1v1h-1zM59 1h1v1h-1zM10 2h1v1h-1zM15 2h1v1h-1zM20 2h1v1h-1zM61 2h1v1h-1zM5 3h1v1h-1zM7 3h2v1h-2zM16 3h1v1h-1zM57 3h1v1h-1zM62 3h1v1h-1zM5 4h1v1h-1zM16 4h1v1h-1zM20 4h1v1h-1zM57 4h1v1h-1zM5 5h2v1h-2zM16 5h1v1h-1zM37 5h1v1h-1zM57 5h1v1h-1zM8 6h1v1h-1zM16 6h1v1h-1zM21 6h1v1h-1zM35 6h1v1h-1zM39 6h1v1h-1zM62 6h1v1h-1zM9 7h1v1h-1zM22 7h1v1h-1zM58 7h1v1h-1zM23 8h1v1h-1zM34 8h1v1h-1zM59 8h1v1h-1zM61 8h1v1h-1zM16 9h1v1h-1zM24 9h3v1h-3zM34 9h1v1h-1zM59 9h3v1h-3zM9 10h1v1h-1zM24 10h2v1h-2zM34 10h1v1h-1zM59 10h1v1h-1zM61 10h1v1h-1zM3 11h3v1h-3zM23 11h1v1h-1zM62 11h1v1h-1zM19 12h3v1h-3zM39 12h1v1h-1zM58 12h1v1h-1zM63 12h1v1h-1zM36 13h1v1h-1zM38 13h1v1h-1zM42 13h1v1h-1zM48 13h2v1h-2zM0 14h1v1h-1zM38 14h2v1h-2zM42 14h1v1h-1zM48 14h3v1h-3zM1 15h1v1h-1zM8 15h1v1h-1zM24 15h2v1h-2zM27 15h1v1h-1zM35 15h1v1h-1zM40 15h2v1h-2zM49 15h1v1h-1zM62 15h1v1h-1zM2 16h1v1h-1zM19 16h2v1h-2zM23 16h1v1h-1zM60 16h1v1h-1zM6 17h1v1h-1zM20 17h3v1h-3zM2 18h1v1h-1zM6 18h1v1h-1zM17 18h1v1h-1zM21 18h2v1h-2zM18 19h3v1h-3zM23 19h1v1h-1zM34 19h1v1h-1zM1 20h1v1h-1zM8 20h2v1h-2zM29 20h1v1h-1zM51 20h1v1h-1zM59 20h3v1h-3zM25 21h1v1h-1zM28 21h1v1h-1zM35 21h1v1h-1zM39 21h3v1h-3zM52 21h1v1h-1zM62 21h1v1h-1zM26 22h3v1h-3zM36 22h1v1h-1zM38 22h1v1h-1zM42 22h1v1h-1zM47 22h1v1h-1zM57 22h1v1h-1zM63 22h1v1h-1zM26 23h1v1h-1zM28 23h1v1h-1zM38 23h2v1h-2zM42 23h1v1h-1zM47 23h1v1h-1zM57 23h1v1h-1zM63 23h1v1h-1zM25 24h1v1h-1zM35 24h1v1h-1zM40 24h2v1h-2zM52 24h1v1h-1zM62 24h1v1h-1zM10 25h1v1h-1zM17 25h3v1h-3zM24 25h1v1h-1zM34 25h1v1h-1zM48 25h1v1h-1zM59 25h2v1h-2zM11 26h1v1h-1zM20 26h1v1h-1zM23 26h1v1h-1zM30 26h1v1h-1zM33 26h1v1h-1zM49 26h2v1h-2zM6 27h1v1h-1zM11 27h1v1h-1zM16 27h1v1h-1zM21 27h1v1h-1zM23 27h1v1h-1zM30 27h1v1h-1zM33 27h1v1h-1zM49 27h2v1h-2zM17 28h1v1h-1zM20 28h1v1h-1zM23 28h1v1h-1zM30 28h1v1h-1zM33 28h1v1h-1zM49 28h1v1h-1zM51 28h1v1h-1zM7 29h1v1h-1zM10 29h1v1h-1zM24 29h1v1h-1zM29 29h1v1h-1zM34 29h1v1h-1zM60 29h1v1h-1zM25 30h1v1h-1zM28 30h1v1h-1zM52 30h1v1h-1zM62 30h1v1h-1zM26 31h2v1h-2zM40 31h2v1h-2zM43 31h3v1h-3zM58 31h1v1h-1zM63 31h1v1h-1zM26 32h2v1h-2zM41 32h1v1h-1zM52 32h1v1h-1zM58 32h1v1h-1zM62 32h1v1h-1zM25 33h1v1h-1zM27 33h1v1h-1zM34 33h1v1h-1zM41 33h1v1h-1zM61 33h1v1h-1zM2 34h1v1h-1zM7 34h3v1h-3zM24 34h1v1h-1zM28 34h1v1h-1zM33 34h1v1h-1zM42 34h2v1h-2zM60 34h1v1h-1zM3 35h1v1h-1zM6 35h1v1h-1zM19 35h4v1h-4zM42 35h2v1h-2zM50 35h1v1h-1zM6 36h1v1h-1zM9 36h1v1h-1zM18 36h1v1h-1zM32 36h1v1h-1zM49 36h1v1h-1zM7 37h2v1h-2zM19 37h1v1h-1zM28 37h1v1h-1zM32 37h1v1h-1zM49 37h1v1h-1zM3 38h1v1h-1zM19 38h7v1h-7zM32 38h1v1h-1zM59 38h1v1h-1zM39 39h1v1h-1zM50 39h1v1h-1zM60 39h1v1h-1zM50 40h1v1h-1zM57 40h1v1h-1zM38 41h1v1h-1zM50 41h1v1h-1zM57 41h1v1h-1zM3 42h1v1h-1zM38 42h1v1h-1zM50 42h1v1h-1zM60 42h1v1h-1zM18 43h1v1h-1zM27 43h3v1h-3zM32 43h1v1h-1zM59 43h1v1h-1zM4 44h1v1h-1zM25 44h1v1h-1zM39 44h1v1h-1zM43 44h1v1h-1zM22 45h3v1h-3zM42 45h1v1h-1zM16 46h1v1h-1zM22 46h3v1h-3zM42 46h1v1h-1zM16 47h1v1h-1zM21 47h1v1h-1zM30 47h1v1h-1zM33 47h1v1h-1zM39 47h1v1h-1zM20 48h1v1h-1zM25 48h1v1h-1zM29 48h1v1h-1zM34 48h1v1h-1zM38 48h1v1h-1zM43 48h1v1h-1zM48 48h1v1h-1zM58 48h2v1h-2zM17 49h1v1h-1zM19 49h1v1h-1zM26 49h3v1h-3zM35 49h3v1h-3zM44 49h1v1h-1zM47 49h1v1h-1zM60 49h1v1h-1zM17 50h1v1h-1zM19 50h1v1h-1zM27 50h1v1h-1zM36 50h2v1h-2zM44 50h1v1h-1zM47 50h1v1h-1zM3 51h1v1h-1zM16 51h1v1h-1zM26 51h1v1h-1zM28 51h1v1h-1zM35 51h1v1h-1zM37 51h1v1h-1zM51 51h1v1h-1zM58 51h1v1h-1zM60 51h1v1h-1zM4 52h1v1h-1zM6 52h2v1h-2zM10 52h1v1h-1zM15 52h1v1h-1zM25 52h1v1h-1zM29 52h1v1h-1zM34 52h1v1h-1zM38 52h1v1h-1zM49 52h2v1h-2zM12 53h2v1h-2zM21 53h1v1h-1zM24 53h1v1h-1zM30 53h1v1h-1zM33 53h1v1h-1zM39 53h1v1h-1zM42 53h1v1h-1zM22 54h2v1h-2zM30 54h1v1h-1zM33 54h1v1h-1zM40 54h2v1h-2zM22 55h2v1h-2zM30 55h1v1h-1zM33 55h1v1h-1zM40 55h2v1h-2zM21 56h1v1h-1zM25 56h1v1h-1zM29 56h1v1h-1zM34 56h1v1h-1zM39 56h1v1h-1zM42 56h1v1h-1zM12 57h1v1h-1zM14 57h1v1h-1zM20 57h1v1h-1zM26 57h2v1h-2zM35 57h3v1h-3zM59 57h1v1h-1zM4 58h2v1h-2zM11 58h1v1h-1zM15 58h1v1h-1zM19 58h1v1h-1zM43 58h1v1h-1zM58 58h1v1h-1zM3 59h1v1h-1zM6 59h1v1h-1zM11 59h1v1h-1zM19 59h1v1h-1zM43 59h1v1h-1zM61 59h1v1h-1zM4 60h2v1h-2zM11 60h1v1h-1zM15 60h1v1h-1zM19 60h1v1h-1zM58 60h1v1h-1zM12 61h3v1h-3zM20 61h1v1h-1zM36 61h2v1h-2zM42 61h1v1h-1zM59 61h1v1h-1zM25 62h1v1h-1zM28 62h1v1h-1zM39 62h1v1h-1zM41 62h1v1h-1zM21 63h1v1h-1zM24 63h1v1h-1zM29 63h1v1h-1zM34 63h1v1h-1zM40 63h1v1h-1z"/><path fill="#fae7dc" d="M12 0h1v1h-1zM14 0h1v1h-1zM20 0h1v1h-1zM42 0h1v1h-1zM59 0h1v1h-1zM11 1h1v1h-1zM15 1h1v1h-1zM20 1h1v1h-1zM58 1h1v1h-1zM60 1h1v1h-1zM5 2h3v1h-3zM9 2h1v1h-1zM57 2h1v1h-1zM4 3h1v1h-1zM43 3h1v1h-1zM4 4h1v1h-1zM43 4h1v1h-1zM63 4h1v1h-1zM4 5h1v1h-1zM20 5h1v1h-1zM43 5h1v1h-1zM63 5h1v1h-1zM6 6h2v1h-2zM36 6h3v1h-3zM42 6h1v1h-1zM16 7h1v1h-1zM35 7h1v1h-1zM40 7h2v1h-2zM62 7h1v1h-1zM9 8h1v1h-1zM16 8h1v1h-1zM9 9h1v1h-1zM23 9h1v1h-1zM17 10h1v1h-1zM23 10h1v1h-1zM62 10h1v1h-1zM2 11h1v1h-1zM6 11h3v1h-3zM18 11h1v1h-1zM22 11h1v1h-1zM35 11h1v1h-1zM39 11h3v1h-3zM58 11h1v1h-1zM63 11h1v1h-1zM1 12h1v1h-1zM36 12h3v1h-3zM42 12h1v1h-1zM48 12h2v1h-2zM0 13h1v1h-1zM37 13h1v1h-1zM43 13h1v1h-1zM47 13h1v1h-1zM50 13h1v1h-1zM36 14h2v1h-2zM47 14h1v1h-1zM0 15h1v1h-1zM26 15h1v1h-1zM39 15h1v1h-1zM42 15h1v1h-1zM48 15h1v1h-1zM50 15h1v1h-1zM58 15h1v1h-1zM63 15h1v1h-1zM1 16h1v1h-1zM7 16h3v1h-3zM24 16h1v1h-1zM28 16h1v1h-1zM49 16h1v1h-1zM59 16h1v1h-1zM61 16h1v1h-1zM2 17h1v1h-1zM7 17h1v1h-1zM10 17h1v1h-1zM18 17h2v1h-2zM23 17h1v1h-1zM29 17h1v1h-1zM34 17h1v1h-1zM10 18h1v1h-1zM18 18h3v1h-3zM23 18h1v1h-1zM34 18h1v1h-1zM1 19h1v1h-1zM7 19h1v1h-1zM10 19h1v1h-1zM24 19h1v1h-1zM29 19h1v1h-1zM49 19h2v1h-2zM59 19h2v1h-2zM0 20h1v1h-1zM25 20h1v1h-1zM35 20h1v1h-1zM40 20h2v1h-2zM48 20h1v1h-1zM58 20h1v1h-1zM62 20h1v1h-1zM26 21h2v1h-2zM36 21h1v1h-1zM38 21h1v1h-1zM42 21h1v1h-1zM47 21h1v1h-1zM57 21h1v1h-1zM63 21h1v1h-1zM37 22h1v1h-1zM43 22h1v1h-1zM46 22h1v1h-1zM53 22h1v1h-1zM27 23h1v1h-1zM36 23h2v1h-2zM43 23h1v1h-1zM46 23h1v1h-1zM53 23h1v1h-1zM56 23h1v1h-1zM26 24h1v1h-1zM28 24h1v1h-1zM39 24h1v1h-1zM42 24h1v1h-1zM47 24h1v1h-1zM57 24h1v1h-1zM63 24h1v1h-1zM0 25h1v1h-1zM8 25h2v1h-2zM29 25h1v1h-1zM52 25h1v1h-1zM58 25h1v1h-1zM61 25h2v1h-2zM1 26h1v1h-1zM7 26h1v1h-1zM10 26h1v1h-1zM17 26h3v1h-3zM24 26h1v1h-1zM34 26h1v1h-1zM48 26h1v1h-1zM51 26h1v1h-1zM60 26h1v1h-1zM1 27h1v1h-1zM7 27h1v1h-1zM17 27h1v1h-1zM19 27h2v1h-2zM51 27h1v1h-1zM1 28h1v1h-1zM7 28h1v1h-1zM10 28h1v1h-1zM18 28h2v1h-2zM24 28h1v1h-1zM29 28h1v1h-1zM34 28h1v1h-1zM48 28h1v1h-1zM0 29h1v1h-1zM8 29h2v1h-2zM25 29h1v1h-1zM47 29h1v1h-1zM52 29h1v1h-1zM59 29h1v1h-1zM61 29h2v1h-2zM26 30h2v1h-2zM35 30h1v1h-1zM40 30h4v1h-4zM46 30h1v1h-1zM58 30h1v1h-1zM63 30h1v1h-1zM35 31h1v1h-1zM35 32h1v1h-1zM40 32h1v1h-1zM63 32h1v1h-1zM0 33h1v1h-1zM26 33h1v1h-1zM58 33h1v1h-1zM62 33h1v1h-1zM25 34h1v1h-1zM41 34h1v1h-1zM51 34h1v1h-1zM59 34h1v1h-1zM61 34h1v1h-1zM7 35h3v1h-3zM23 35h1v1h-1zM28 35h1v1h-1zM3 36h1v1h-1zM7 36h2v1h-2zM19 36h4v1h-4zM28 36h1v1h-1zM41 36h1v1h-1zM3 37h1v1h-1zM20 37h4v1h-4zM27 37h1v1h-1zM50 38h1v1h-1zM58 38h1v1h-1zM60 38h1v1h-1zM33 40h1v1h-1zM33 41h1v1h-1zM51 41h1v1h-1zM33 42h1v1h-1zM57 42h1v1h-1zM19 43h2v1h-2zM38 43h1v1h-1zM45 43h1v1h-1zM48 43h2v1h-2zM58 43h1v1h-1zM17 44h1v1h-1zM21 44h1v1h-1zM30 44h3v1h-3zM4 45h1v1h-1zM21 45h1v1h-1zM31 45h1v1h-1zM39 45h1v1h-1zM4 46h1v1h-1zM21 46h1v1h-1zM30 46h3v1h-3zM39 46h1v1h-1zM20 47h1v1h-1zM25 47h1v1h-1zM29 47h1v1h-1zM38 47h1v1h-1zM43 47h1v1h-1zM49 47h2v1h-2zM59 47h1v1h-1zM3 48h1v1h-1zM17 48h3v1h-3zM26 48h3v1h-3zM35 48h1v1h-1zM37 48h1v1h-1zM44 48h1v1h-1zM47 48h1v1h-1zM51 48h1v1h-1zM60 48h1v1h-1zM18 49h1v1h-1zM45 49h2v1h-2zM52 49h1v1h-1zM57 49h1v1h-1zM18 50h1v1h-1zM45 50h2v1h-2zM52 50h1v1h-1zM57 50h1v1h-1zM61 50h1v1h-1zM17 51h1v1h-1zM19 51h1v1h-1zM27 51h1v1h-1zM36 51h1v1h-1zM44 51h1v1h-1zM47 51h1v1h-1zM3 52h1v1h-1zM8 52h2v1h-2zM20 52h1v1h-1zM28 52h1v1h-1zM35 52h1v1h-1zM43 52h1v1h-1zM48 52h1v1h-1zM51 52h1v1h-1zM59 52h2v1h-2zM4 53h2v1h-2zM11 53h1v1h-1zM14 53h1v1h-1zM29 53h1v1h-1zM34 53h1v1h-1zM13 54h1v1h-1zM21 54h1v1h-1zM24 54h1v1h-1zM39 54h1v1h-1zM42 54h1v1h-1zM21 55h1v1h-1zM24 55h1v1h-1zM29 55h1v1h-1zM34 55h1v1h-1zM39 55h1v1h-1zM42 55h1v1h-1zM12 56h3v1h-3zM28 56h1v1h-1zM35 56h1v1h-1zM38 56h1v1h-1zM4 57h2v1h-2zM11 57h1v1h-1zM15 57h1v1h-1zM43 57h1v1h-1zM50 57h1v1h-1zM58 57h1v1h-1zM60 57h1v1h-1zM3 58h1v1h-1zM6 58h1v1h-1zM16 58h1v1h-1zM49 58h2v1h-2zM57 58h1v1h-1zM61 58h1v1h-1zM10 59h1v1h-1zM16 59h3v1h-3zM57 59h1v1h-1zM3 60h1v1h-1zM6 60h1v1h-1zM16 60h1v1h-1zM43 60h1v1h-1zM57 60h1v1h-1zM61 60h1v1h-1zM4 61h1v1h-1zM15 61h1v1h-1zM58 61h1v1h-1zM60 61h1v1h-1zM13 62h2v1h-2zM20 62h1v1h-1zM26 62h2v1h-2zM35 62h1v1h-1zM37 62h2v1h-2zM25 63h1v1h-1zM28 63h1v1h-1zM39 63h1v1h-1zM41 63h1v1h-1z"/><path fill="#fdddcb" d="M11 0h1v1h-1zM58 0h1v1h-1zM60 0h1v1h-1zM5 1h2v1h-2zM10 1h1v1h-1zM61 1h1v1h-1zM4 2h1v1h-1zM8 2h1v1h-1zM16 2h1v1h-1zM19 2h1v1h-1zM43 2h1v1h-1zM62 2h1v1h-1zM17 3h1v1h-1zM19 3h1v1h-1zM63 3h1v1h-1zM3 4h1v1h-1zM17 4h1v1h-1zM19 4h1v1h-1zM17 5h1v1h-1zM5 6h1v1h-1zM57 6h1v1h-1zM63 6h1v1h-1zM7 7h2v1h-2zM39 7h1v1h-1zM22 8h1v1h-1zM40 8h1v1h-1zM58 8h1v1h-1zM62 8h1v1h-1zM58 9h1v1h-1zM62 9h1v1h-1zM4 10h3v1h-3zM8 10h1v1h-1zM22 10h1v1h-1zM35 10h1v1h-1zM40 10h2v1h-2zM58 10h1v1h-1zM21 11h1v1h-1zM36 11h1v1h-1zM38 11h1v1h-1zM42 11h1v1h-1zM0 12h1v1h-1zM43 12h1v1h-1zM50 12h1v1h-1zM57 12h1v1h-1zM51 13h1v1h-1zM57 13h1v1h-1zM43 14h1v1h-1zM51 14h1v1h-1zM57 14h1v1h-1zM36 15h3v1h-3zM47 15h1v1h-1zM25 16h1v1h-1zM27 16h1v1h-1zM35 16h1v1h-1zM40 16h2v1h-2zM48 16h1v1h-1zM50 16h1v1h-1zM58 16h1v1h-1zM62 16h2v1h-2zM1 17h1v1h-1zM8 17h2v1h-2zM24 17h1v1h-1zM49 17h2v1h-2zM59 17h3v1h-3zM1 18h1v1h-1zM7 18h1v1h-1zM24 18h1v1h-1zM29 18h1v1h-1zM49 18h2v1h-2zM59 18h3v1h-3zM8 19h2v1h-2zM48 19h1v1h-1zM51 19h1v1h-1zM61 19h1v1h-1zM28 20h1v1h-1zM39 20h1v1h-1zM42 20h1v1h-1zM47 20h1v1h-1zM52 20h1v1h-1zM63 20h1v1h-1zM37 21h1v1h-1zM43 21h1v1h-1zM46 21h1v1h-1zM53 21h1v1h-1zM44 22h2v1h-2zM54 22h1v1h-1zM56 22h1v1h-1zM44 23h2v1h-2zM54 23h2v1h-2zM27 24h1v1h-1zM36 24h3v1h-3zM43 24h1v1h-1zM46 24h1v1h-1zM53 24h1v1h-1zM56 24h1v1h-1zM25 25h1v1h-1zM28 25h1v1h-1zM35 25h1v1h-1zM39 25h4v1h-4zM47 25h1v1h-1zM63 25h1v1h-1zM0 26h1v1h-1zM8 26h2v1h-2zM29 26h1v1h-1zM52 26h1v1h-1zM59 26h1v1h-1zM61 26h1v1h-1zM0 27h1v1h-1zM10 27h1v1h-1zM18 27h1v1h-1zM24 27h1v1h-1zM29 27h1v1h-1zM34 27h1v1h-1zM48 27h1v1h-1zM59 27h3v1h-3zM0 28h1v1h-1zM8 28h2v1h-2zM52 28h1v1h-1zM59 28h3v1h-3zM28 29h1v1h-1zM35 29h1v1h-1zM40 29h3v1h-3zM58 29h1v1h-1zM63 29h1v1h-1zM39 30h1v1h-1zM44 30h2v1h-2zM53 30h1v1h-1zM36 31h1v1h-1zM39 31h1v1h-1zM53 31h1v1h-1zM57 31h1v1h-1zM39 32h1v1h-1zM40 33h1v1h-1zM52 33h1v1h-1zM63 33h1v1h-1zM1 34h1v1h-1zM26 34h2v1h-2zM2 35h1v1h-1zM24 35h1v1h-1zM27 35h1v1h-1zM33 35h1v1h-1zM41 35h1v1h-1zM59 35h2v1h-2zM23 36h2v1h-2zM27 36h1v1h-1zM50 36h1v1h-1zM59 36h2v1h-2zM24 37h3v1h-3zM40 37h1v1h-1zM50 37h1v1h-1zM59 37h2v1h-2zM2 39h1v1h-1zM33 39h1v1h-1zM57 39h1v1h-1zM61 39h1v1h-1zM2 40h1v1h-1zM38 40h1v1h-1zM51 40h1v1h-1zM61 40h1v1h-1zM56 41h1v1h-1zM61 41h1v1h-1zM51 42h1v1h-1zM3 43h1v1h-1zM33 43h1v1h-1zM46 43h2v1h-2zM50 43h1v1h-1zM57 43h1v1h-1zM60 43h1v1h-1zM18 44h1v1h-1zM20 44h1v1h-1zM26 44h4v1h-4zM38 44h1v1h-1zM44 44h1v1h-1zM49 44h1v1h-1zM58 44h2v1h-2zM17 45h1v1h-1zM25 45h1v1h-1zM30 45h1v1h-1zM32 45h1v1h-1zM43 45h1v1h-1zM17 46h1v1h-1zM20 46h1v1h-1zM25 46h1v1h-1zM29 46h1v1h-1zM33 46h1v1h-1zM38 46h1v1h-1zM43 46h1v1h-1zM49 46h1v1h-1zM3 47h1v1h-1zM17 47h1v1h-1zM19 47h1v1h-1zM26 47h1v1h-1zM28 47h1v1h-1zM34 47h1v1h-1zM48 47h1v1h-1zM51 47h1v1h-1zM58 47h1v1h-1zM36 48h1v1h-1zM45 48h2v1h-2zM52 48h1v1h-1zM57 48h1v1h-1zM2 49h1v1h-1zM61 49h1v1h-1zM2 50h1v1h-1zM2 51h1v1h-1zM18 51h1v1h-1zM45 51h2v1h-2zM52 51h1v1h-1zM57 51h1v1h-1zM61 51h1v1h-1zM16 52h1v1h-1zM19 52h1v1h-1zM26 52h2v1h-2zM36 52h2v1h-2zM44 52h1v1h-1zM47 52h1v1h-1zM58 52h1v1h-1zM6 53h1v1h-1zM15 53h1v1h-1zM20 53h1v1h-1zM25 53h1v1h-1zM38 53h1v1h-1zM43 53h1v1h-1zM48 53h3v1h-3zM59 53h1v1h-1zM5 54h1v1h-1zM12 54h1v1h-1zM14 54h1v1h-1zM25 54h1v1h-1zM29 54h1v1h-1zM34 54h1v1h-1zM12 55h3v1h-3zM25 55h1v1h-1zM38 55h1v1h-1zM4 56h2v1h-2zM11 56h1v1h-1zM15 56h1v1h-1zM20 56h1v1h-1zM26 56h2v1h-2zM36 56h2v1h-2zM43 56h1v1h-1zM49 56h2v1h-2zM59 56h2v1h-2zM3 57h1v1h-1zM6 57h1v1h-1zM16 57h1v1h-1zM19 57h1v1h-1zM48 57h2v1h-2zM51 57h1v1h-1zM61 57h1v1h-1zM2 58h1v1h-1zM7 58h1v1h-1zM10 58h1v1h-1zM17 58h2v1h-2zM44 58h1v1h-1zM48 58h1v1h-1zM51 58h1v1h-1zM62 58h1v1h-1zM2 59h1v1h-1zM7 59h3v1h-3zM44 59h1v1h-1zM49 59h3v1h-3zM62 59h1v1h-1zM2 60h1v1h-1zM7 60h1v1h-1zM10 60h1v1h-1zM17 60h2v1h-2zM62 60h1v1h-1zM3 61h1v1h-1zM5 61h1v1h-1zM11 61h1v1h-1zM16 61h1v1h-1zM19 61h1v1h-1zM61 61h1v1h-1zM12 62h1v1h-1zM36 62h1v1h-1zM42 62h1v1h-1zM59 62h2v1h-2zM13 63h2v1h-2zM20 63h1v1h-1zM26 63h2v1h-2zM35 63h1v1h-1zM38 63h1v1h-1z"/><path fill="#facbb3" d="M4 0h3v1h-3zM15 0h1v1h-1zM4 1h1v1h-1zM7 1h3v1h-3zM16 1h1v1h-1zM19 1h1v1h-1zM43 1h1v1h-1zM57 1h1v1h-1zM17 2h1v1h-1zM3 3h1v1h-1zM18 3h1v1h-1zM44 3h1v1h-1zM18 4h1v1h-1zM44 4h1v1h-1zM56 4h1v1h-1zM3 5h1v1h-1zM19 5h1v1h-1zM4 6h1v1h-1zM17 6h1v1h-1zM20 6h1v1h-1zM43 6h1v1h-1zM5 7h2v1h-2zM21 7h1v1h-1zM36 7h3v1h-3zM42 7h1v1h-1zM63 7h1v1h-1zM7 8h2v1h-2zM35 8h1v1h-1zM39 8h1v1h-1zM41 8h1v1h-1zM8 9h1v1h-1zM17 9h1v1h-1zM22 9h1v1h-1zM35 9h1v1h-1zM39 9h3v1h-3zM3 10h1v1h-1zM7 10h1v1h-1zM38 10h2v1h-2zM42 10h1v1h-1zM63 10h1v1h-1zM0 11h2v1h-2zM19 11h2v1h-2zM37 11h1v1h-1zM43 11h1v1h-1zM49 11h1v1h-1zM44 12h1v1h-1zM47 12h1v1h-1zM44 13h3v1h-3zM44 14h3v1h-3zM43 15h1v1h-1zM51 15h1v1h-1zM57 15h1v1h-1zM0 16h1v1h-1zM26 16h1v1h-1zM36 16h1v1h-1zM38 16h2v1h-2zM42 16h1v1h-1zM51 16h1v1h-1zM25 17h1v1h-1zM28 17h1v1h-1zM35 17h1v1h-1zM40 17h2v1h-2zM48 17h1v1h-1zM58 17h1v1h-1zM62 17h1v1h-1zM8 18h2v1h-2zM28 18h1v1h-1zM35 18h1v1h-1zM48 18h1v1h-1zM62 18h1v1h-1zM0 19h1v1h-1zM25 19h1v1h-1zM28 19h1v1h-1zM35 19h1v1h-1zM39 19h3v1h-3zM58 19h1v1h-1zM62 19h1v1h-1zM26 20h2v1h-2zM36 20h3v1h-3zM57 20h1v1h-1zM44 21h2v1h-2zM56 21h1v1h-1zM55 22h1v1h-1zM44 24h2v1h-2zM54 24h2v1h-2zM26 25h2v1h-2zM36 25h1v1h-1zM38 25h1v1h-1zM53 25h1v1h-1zM57 25h1v1h-1zM25 26h1v1h-1zM35 26h1v1h-1zM40 26h2v1h-2zM47 26h1v1h-1zM58 26h1v1h-1zM62 26h1v1h-1zM8 27h2v1h-2zM25 27h1v1h-1zM52 27h1v1h-1zM58 27h1v1h-1zM62 27h1v1h-1zM25 28h1v1h-1zM28 28h1v1h-1zM35 28h1v1h-1zM40 28h2v1h-2zM47 28h1v1h-1zM58 28h1v1h-1zM62 28h1v1h-1zM26 29h2v1h-2zM39 29h1v1h-1zM43 29h1v1h-1zM46 29h1v1h-1zM53 29h1v1h-1zM36 30h3v1h-3zM57 30h1v1h-1zM37 31h2v1h-2zM36 32h1v1h-1zM53 32h1v1h-1zM57 32h1v1h-1zM35 33h1v1h-1zM0 34h1v1h-1zM34 34h1v1h-1zM40 34h1v1h-1zM58 34h1v1h-1zM62 34h1v1h-1zM25 35h2v1h-2zM51 35h1v1h-1zM61 35h1v1h-1zM2 36h1v1h-1zM25 36h2v1h-2zM33 36h1v1h-1zM33 37h1v1h-1zM58 37h1v1h-1zM2 38h1v1h-1zM33 38h1v1h-1zM39 38h1v1h-1zM61 38h1v1h-1zM51 39h1v1h-1zM56 40h1v1h-1zM2 41h1v1h-1zM34 41h1v1h-1zM37 41h1v1h-1zM52 41h1v1h-1zM34 42h1v1h-1zM37 42h1v1h-1zM56 42h1v1h-1zM61 42h1v1h-1zM51 43h1v1h-1zM3 44h1v1h-1zM19 44h1v1h-1zM33 44h1v1h-1zM45 44h1v1h-1zM47 44h2v1h-2zM50 44h1v1h-1zM60 44h1v1h-1zM18 45h1v1h-1zM20 45h1v1h-1zM26 45h1v1h-1zM28 45h2v1h-2zM33 45h1v1h-1zM38 45h1v1h-1zM44 45h1v1h-1zM48 45h3v1h-3zM58 45h2v1h-2zM18 46h2v1h-2zM26 46h1v1h-1zM28 46h1v1h-1zM34 46h1v1h-1zM48 46h1v1h-1zM50 46h1v1h-1zM58 46h2v1h-2zM18 47h1v1h-1zM27 47h1v1h-1zM35 47h3v1h-3zM44 47h1v1h-1zM47 47h1v1h-1zM57 47h1v1h-1zM60 47h1v1h-1zM53 49h1v1h-1zM56 49h1v1h-1zM53 50h1v1h-1zM56 50h1v1h-1zM56 51h1v1h-1zM2 52h1v1h-1zM17 52h2v1h-2zM45 52h2v1h-2zM52 52h1v1h-1zM57 52h1v1h-1zM61 52h1v1h-1zM3 53h1v1h-1zM7 53h4v1h-4zM26 53h3v1h-3zM35 53h3v1h-3zM51 53h1v1h-1zM58 53h1v1h-1zM60 53h1v1h-1zM4 54h1v1h-1zM6 54h1v1h-1zM11 54h1v1h-1zM15 54h1v1h-1zM20 54h1v1h-1zM28 54h1v1h-1zM35 54h1v1h-1zM38 54h1v1h-1zM43 54h1v1h-1zM49 54h2v1h-2zM59 54h1v1h-1zM4 55h3v1h-3zM11 55h1v1h-1zM15 55h1v1h-1zM20 55h1v1h-1zM26 55h3v1h-3zM35 55h1v1h-1zM37 55h1v1h-1zM43 55h1v1h-1zM49 55h2v1h-2zM59 55h2v1h-2zM3 56h1v1h-1zM6 56h1v1h-1zM48 56h1v1h-1zM51 56h1v1h-1zM58 56h1v1h-1zM2 57h1v1h-1zM7 57h1v1h-1zM10 57h1v1h-1zM17 57h2v1h-2zM44 57h1v1h-1zM57 57h1v1h-1zM62 57h1v1h-1zM8 58h2v1h-2zM47 58h1v1h-1zM52 58h1v1h-1zM56 58h1v1h-1zM63 58h1v1h-1zM1 59h1v1h-1zM48 59h1v1h-1zM52 59h1v1h-1zM56 59h1v1h-1zM63 59h1v1h-1zM8 60h2v1h-2zM56 60h1v1h-1zM63 60h1v1h-1zM6 61h1v1h-1zM10 61h1v1h-1zM17 61h2v1h-2zM43 61h1v1h-1zM57 61h1v1h-1zM4 62h2v1h-2zM11 62h1v1h-1zM15 62h1v1h-1zM19 62h1v1h-1zM58 62h1v1h-1zM12 63h1v1h-1zM36 63h2v1h-2zM42 63h1v1h-1zM59 63h2v1h-2z"/><path fill="#f7b799" d="M7 0h1v1h-1zM10 0h1v1h-1zM16 0h1v1h-1zM19 0h1v1h-1zM43 0h1v1h-1zM57 0h1v1h-1zM61 0h1v1h-1zM62 1h1v1h-1zM3 2h1v1h-1zM18 2h1v1h-1zM63 2h1v1h-1zM56 3h1v1h-1zM2 4h1v1h-1zM2 5h1v1h-1zM18 5h1v1h-1zM44 5h1v1h-1zM56 5h1v1h-1zM3 6h1v1h-1zM4 7h1v1h-1zM17 7h1v1h-1zM43 7h1v1h-1zM57 7h1v1h-1zM4 8h3v1h-3zM17 8h1v1h-1zM21 8h1v1h-1zM36 8h1v1h-1zM38 8h1v1h-1zM42 8h1v1h-1zM63 8h1v1h-1zM4 9h4v1h-4zM36 9h1v1h-1zM38 9h1v1h-1zM42 9h1v1h-1zM63 9h1v1h-1zM2 10h1v1h-1zM18 10h1v1h-1zM21 10h1v1h-1zM36 10h2v1h-2zM47 11h2v1h-2zM50 11h1v1h-1zM57 11h1v1h-1zM45 12h2v1h-2zM51 12h1v1h-1zM44 15h3v1h-3zM37 16h1v1h-1zM43 16h1v1h-1zM47 16h1v1h-1zM0 17h1v1h-1zM26 17h2v1h-2zM39 17h1v1h-1zM42 17h1v1h-1zM51 17h1v1h-1zM63 17h1v1h-1zM0 18h1v1h-1zM25 18h1v1h-1zM39 18h3v1h-3zM51 18h1v1h-1zM58 18h1v1h-1zM63 18h1v1h-1zM26 19h2v1h-2zM36 19h1v1h-1zM38 19h1v1h-1zM42 19h1v1h-1zM47 19h1v1h-1zM63 19h1v1h-1zM43 20h1v1h-1zM46 20h1v1h-1zM54 21h2v1h-2zM37 25h1v1h-1zM43 25h2v1h-2zM46 25h1v1h-1zM54 25h1v1h-1zM56 25h1v1h-1zM26 26h1v1h-1zM28 26h1v1h-1zM39 26h1v1h-1zM42 26h1v1h-1zM53 26h1v1h-1zM57 26h1v1h-1zM63 26h1v1h-1zM28 27h1v1h-1zM35 27h1v1h-1zM39 27h4v1h-4zM47 27h1v1h-1zM63 27h1v1h-1zM26 28h2v1h-2zM39 28h1v1h-1zM42 28h2v1h-2zM46 28h1v1h-1zM53 28h1v1h-1zM63 28h1v1h-1zM36 29h3v1h-3zM44 29h2v1h-2zM57 29h1v1h-1zM54 30h1v1h-1zM56 30h1v1h-1zM54 31h1v1h-1zM56 31h1v1h-1zM37 32h2v1h-2zM39 33h1v1h-1zM57 33h1v1h-1zM52 34h1v1h-1zM63 34h1v1h-1zM1 35h1v1h-1zM40 35h1v1h-1zM58 35h1v1h-1zM40 36h1v1h-1zM58 36h1v1h-1zM61 36h1v1h-1zM2 37h1v1h-1zM61 37h1v1h-1zM51 38h1v1h-1zM57 38h1v1h-1zM38 39h1v1h-1zM56 39h1v1h-1zM34 40h1v1h-1zM52 40h1v1h-1zM55 41h1v1h-1zM2 42h1v1h-1zM52 42h1v1h-1zM55 42h1v1h-1zM34 43h1v1h-1zM37 43h1v1h-1zM56 43h1v1h-1zM37 44h1v1h-1zM46 44h1v1h-1zM51 44h1v1h-1zM57 44h1v1h-1zM3 45h1v1h-1zM19 45h1v1h-1zM27 45h1v1h-1zM34 45h1v1h-1zM47 45h1v1h-1zM51 45h1v1h-1zM60 45h1v1h-1zM3 46h1v1h-1zM27 46h1v1h-1zM37 46h1v1h-1zM44 46h1v1h-1zM47 46h1v1h-1zM51 46h1v1h-1zM57 46h1v1h-1zM60 46h1v1h-1zM45 47h2v1h-2zM52 47h1v1h-1zM2 48h1v1h-1zM53 48h1v1h-1zM56 48h1v1h-1zM61 48h1v1h-1zM54 49h2v1h-2zM1 50h1v1h-1zM54 50h2v1h-2zM62 50h1v1h-1zM1 51h1v1h-1zM53 51h1v1h-1zM62 51h1v1h-1zM16 53h1v1h-1zM19 53h1v1h-1zM44 53h1v1h-1zM47 53h1v1h-1zM61 53h1v1h-1zM3 54h1v1h-1zM7 54h1v1h-1zM10 54h1v1h-1zM26 54h2v1h-2zM36 54h2v1h-2zM48 54h1v1h-1zM51 54h1v1h-1zM58 54h1v1h-1zM60 54h1v1h-1zM3 55h1v1h-1zM36 55h1v1h-1zM48 55h1v1h-1zM51 55h1v1h-1zM58 55h1v1h-1zM7 56h1v1h-1zM10 56h1v1h-1zM16 56h1v1h-1zM19 56h1v1h-1zM44 56h1v1h-1zM47 56h1v1h-1zM57 56h1v1h-1zM61 56h1v1h-1zM8 57h2v1h-2zM45 57h3v1h-3zM52 57h1v1h-1zM56 57h1v1h-1zM63 57h1v1h-1zM0 58h2v1h-2zM45 58h2v1h-2zM53 58h1v1h-1zM0 59h1v1h-1zM45 59h1v1h-1zM47 59h1v1h-1zM53 59h1v1h-1zM55 59h1v1h-1zM1 60h1v1h-1zM44 60h1v1h-1zM49 60h3v1h-3zM2 61h1v1h-1zM7 61h1v1h-1zM9 61h1v1h-1zM62 61h1v1h-1zM3 62h1v1h-1zM6 62h1v1h-1zM16 62h1v1h-1zM57 62h1v1h-1zM61 62h1v1h-1zM3 63h3v1h-3zM11 63h1v1h-1zM15 63h1v1h-1zM19 63h1v1h-1zM58 63h1v1h-1z"/><path fill="#f3a280" d="M3 0h1v1h-1zM8 0h2v1h-2zM17 0h2v1h-2zM62 0h1v1h-1zM3 1h1v1h-1zM17 1h2v1h-2zM63 1h1v1h-1zM44 2h1v1h-1zM56 2h1v1h-1zM2 3h1v1h-1zM0 4h2v1h-2zM45 4h1v1h-1zM0 5h2v1h-2zM45 5h1v1h-1zM2 6h1v1h-1zM18 6h2v1h-2zM44 6h1v1h-1zM3 7h1v1h-1zM20 7h1v1h-1zM3 8h1v1h-1zM37 8h1v1h-1zM57 8h1v1h-1zM2 9h2v1h-2zM21 9h1v1h-1zM37 9h1v1h-1zM0 10h2v1h-2zM19 10h2v1h-2zM43 10h1v1h-1zM57 10h1v1h-1zM44 11h1v1h-1zM46 11h1v1h-1zM56 12h1v1h-1zM52 13h1v1h-1zM56 13h1v1h-1zM52 14h1v1h-1zM56 14h1v1h-1zM52 15h1v1h-1zM46 16h1v1h-1zM57 16h1v1h-1zM36 17h3v1h-3zM47 17h1v1h-1zM26 18h2v1h-2zM36 18h3v1h-3zM42 18h1v1h-1zM47 18h1v1h-1zM37 19h1v1h-1zM43 19h1v1h-1zM52 19h1v1h-1zM57 19h1v1h-1zM44 20h2v1h-2zM53 20h1v1h-1zM56 20h1v1h-1zM45 25h1v1h-1zM55 25h1v1h-1zM27 26h1v1h-1zM36 26h3v1h-3zM43 26h1v1h-1zM46 26h1v1h-1zM56 26h1v1h-1zM26 27h2v1h-2zM36 27h1v1h-1zM38 27h1v1h-1zM43 27h1v1h-1zM46 27h1v1h-1zM53 27h1v1h-1zM57 27h1v1h-1zM36 28h3v1h-3zM44 28h2v1h-2zM57 28h1v1h-1zM54 29h1v1h-1zM56 29h1v1h-1zM55 30h1v1h-1zM55 31h1v1h-1zM54 32h1v1h-1zM56 32h1v1h-1zM36 33h1v1h-1zM53 33h1v1h-1zM57 34h1v1h-1zM0 35h1v1h-1zM34 35h1v1h-1zM62 35h1v1h-1zM51 36h1v1h-1zM51 37h1v1h-1zM1 39h1v1h-1zM34 39h1v1h-1zM62 39h1v1h-1zM1 40h1v1h-1zM37 40h1v1h-1zM55 40h1v1h-1zM62 40h1v1h-1zM35 41h2v1h-2zM53 41h2v1h-2zM35 42h2v1h-2zM53 42h2v1h-2zM35 43h2v1h-2zM52 43h1v1h-1zM61 43h1v1h-1zM34 44h1v1h-1zM52 44h1v1h-1zM56 44h1v1h-1zM37 45h1v1h-1zM45 45h2v1h-2zM57 45h1v1h-1zM35 46h2v1h-2zM45 46h2v1h-2zM52 46h1v1h-1zM56 47h1v1h-1zM61 47h1v1h-1zM54 48h2v1h-2zM1 49h1v1h-1zM62 49h1v1h-1zM0 50h1v1h-1zM63 50h1v1h-1zM54 51h2v1h-2zM63 51h1v1h-1zM53 52h1v1h-1zM56 52h1v1h-1zM62 52h1v1h-1zM2 53h1v1h-1zM17 53h2v1h-2zM45 53h2v1h-2zM52 53h1v1h-1zM57 53h1v1h-1zM8 54h2v1h-2zM16 54h1v1h-1zM19 54h1v1h-1zM44 54h1v1h-1zM47 54h1v1h-1zM61 54h1v1h-1zM7 55h4v1h-4zM16 55h1v1h-1zM19 55h1v1h-1zM44 55h1v1h-1zM47 55h1v1h-1zM57 55h1v1h-1zM61 55h1v1h-1zM2 56h1v1h-1zM8 56h2v1h-2zM17 56h2v1h-2zM45 56h2v1h-2zM52 56h1v1h-1zM62 56h1v1h-1zM1 57h1v1h-1zM53 57h1v1h-1zM54 58h2v1h-2zM46 59h1v1h-1zM54 59h1v1h-1zM0 60h1v1h-1zM48 60h1v1h-1zM52 60h1v1h-1zM55 60h1v1h-1zM1 61h1v1h-1zM8 61h1v1h-1zM56 61h1v1h-1zM63 61h1v1h-1zM2 62h1v1h-1zM7 62h1v1h-1zM10 62h1v1h-1zM17 62h2v1h-2zM43 62h1v1h-1zM62 62h1v1h-1zM6 63h1v1h-1zM16 63h1v1h-1zM57 63h1v1h-1zM61 63h1v1h-1z"/><path fill="#e8896c" d="M44 1h1v1h-1zM56 1h1v1h-1zM2 2h1v1h-1zM0 3h2v1h-2zM45 3h1v1h-1zM46 4h1v1h-1zM46 5h1v1h-1zM0 6h2v1h-2zM45 6h1v1h-1zM56 6h1v1h-1zM1 7h2v1h-2zM18 7h2v1h-2zM44 7h1v1h-1zM2 8h1v1h-1zM18 8h1v1h-1zM20 8h1v1h-1zM43 8h1v1h-1zM1 9h1v1h-1zM18 9h1v1h-1zM20 9h1v1h-1zM43 9h1v1h-1zM57 9h1v1h-1zM44 10h1v1h-1zM47 10h3v1h-3zM45 11h1v1h-1zM51 11h1v1h-1zM52 12h1v1h-1zM56 15h1v1h-1zM44 16h2v1h-2zM52 16h1v1h-1zM43 17h1v1h-1zM46 17h1v1h-1zM52 17h1v1h-1zM57 17h1v1h-1zM43 18h1v1h-1zM46 18h1v1h-1zM52 18h1v1h-1zM57 18h1v1h-1zM44 19h3v1h-3zM54 20h2v1h-2zM44 26h2v1h-2zM54 26h2v1h-2zM37 27h1v1h-1zM44 27h2v1h-2zM54 27h1v1h-1zM56 27h1v1h-1zM54 28h3v1h-3zM55 29h1v1h-1zM55 32h1v1h-1zM37 33h2v1h-2zM56 33h1v1h-1zM35 34h1v1h-1zM39 34h1v1h-1zM57 35h1v1h-1zM63 35h1v1h-1zM1 36h1v1h-1zM62 36h1v1h-1zM1 37h1v1h-1zM39 37h1v1h-1zM57 37h1v1h-1zM1 38h1v1h-1zM34 38h1v1h-1zM62 38h1v1h-1zM52 39h1v1h-1zM35 40h2v1h-2zM53 40h2v1h-2zM1 41h1v1h-1zM62 41h1v1h-1zM2 43h1v1h-1zM53 43h3v1h-3zM35 44h2v1h-2zM35 45h2v1h-2zM52 45h1v1h-1zM56 45h1v1h-1zM56 46h1v1h-1zM2 47h1v1h-1zM53 47h1v1h-1zM55 47h1v1h-1zM62 48h1v1h-1zM0 49h1v1h-1zM63 49h1v1h-1zM0 51h1v1h-1zM1 52h1v1h-1zM54 52h2v1h-2zM63 52h1v1h-1zM56 53h1v1h-1zM62 53h1v1h-1zM2 54h1v1h-1zM17 54h2v1h-2zM45 54h2v1h-2zM52 54h1v1h-1zM57 54h1v1h-1zM2 55h1v1h-1zM17 55h2v1h-2zM45 55h2v1h-2zM52 55h1v1h-1zM62 55h1v1h-1zM1 56h1v1h-1zM56 56h1v1h-1zM63 56h1v1h-1zM0 57h1v1h-1zM54 57h2v1h-2zM45 60h1v1h-1zM47 60h1v1h-1zM53 60h2v1h-2zM0 61h1v1h-1zM44 61h1v1h-1zM50 61h2v1h-2zM1 62h1v1h-1zM8 62h2v1h-2zM56 62h1v1h-1zM63 62h1v1h-1zM2 63h1v1h-1zM7 63h1v1h-1zM10 63h1v1h-1zM17 63h2v1h-2zM43 63h1v1h-1zM62 63h1v1h-1z"/><path fill="#dd6f59" d="M2 0h1v1h-1zM44 0h1v1h-1zM56 0h1v1h-1zM63 0h1v1h-1zM2 1h1v1h-1zM0 2h2v1h-2zM45 2h1v1h-1zM46 3h1v1h-1zM55 3h1v1h-1zM47 4h3v1h-3zM55 4h1v1h-1zM47 5h3v1h-3zM55 5h1v1h-1zM46 6h3v1h-3zM0 7h1v1h-1zM56 7h1v1h-1zM0 8h2v1h-2zM19 8h1v1h-1zM44 8h1v1h-1zM0 9h1v1h-1zM19 9h1v1h-1zM44 9h1v1h-1zM48 9h2v1h-2zM45 10h2v1h-2zM50 10h1v1h-1zM56 11h1v1h-1zM53 13h1v1h-1zM55 13h1v1h-1zM53 14h1v1h-1zM55 14h1v1h-1zM53 15h1v1h-1zM56 16h1v1h-1zM44 17h2v1h-2zM44 18h2v1h-2zM53 19h1v1h-1zM56 19h1v1h-1zM55 27h1v1h-1zM54 33h1v1h-1zM39 35h1v1h-1zM52 35h1v1h-1zM0 36h1v1h-1zM34 36h1v1h-1zM39 36h1v1h-1zM57 36h1v1h-1zM0 37h1v1h-1zM34 37h1v1h-1zM62 37h1v1h-1zM0 38h1v1h-1zM38 38h1v1h-1zM52 38h1v1h-1zM56 38h1v1h-1zM0 39h1v1h-1zM35 39h1v1h-1zM37 39h1v1h-1zM55 39h1v1h-1zM63 39h1v1h-1zM0 40h1v1h-1zM63 40h1v1h-1zM0 41h1v1h-1zM1 42h1v1h-1zM62 42h1v1h-1zM2 44h1v1h-1zM53 44h3v1h-3zM61 44h1v1h-1zM53 45h1v1h-1zM61 45h1v1h-1zM2 46h1v1h-1zM53 46h1v1h-1zM55 46h1v1h-1zM61 46h1v1h-1zM54 47h1v1h-1zM1 48h1v1h-1zM0 52h1v1h-1zM1 53h1v1h-1zM53 53h1v1h-1zM63 53h1v1h-1zM56 54h1v1h-1zM62 54h1v1h-1zM56 55h1v1h-1zM63 55h1v1h-1zM0 56h1v1h-1zM53 56h3v1h-3zM46 60h1v1h-1zM49 61h1v1h-1zM52 61h4v1h-4zM0 62h1v1h-1zM1 63h1v1h-1zM8 63h2v1h-2zM56 63h1v1h-1zM63 63h1v1h-1z"/><path fill="#d15548" d="M1 1h1v1h-1zM45 1h1v1h-1zM46 2h1v1h-1zM55 2h1v1h-1zM47 3h3v1h-3zM50 4h1v1h-1zM50 5h1v1h-1zM49 6h2v1h-2zM45 7h5v1h-5zM48 8h2v1h-2zM45 9h1v1h-1zM47 9h1v1h-1zM50 9h1v1h-1zM56 10h1v1h-1zM53 12h1v1h-1zM55 12h1v1h-1zM54 13h1v1h-1zM54 14h1v1h-1zM54 15h2v1h-2zM53 16h1v1h-1zM56 17h1v1h-1zM53 18h1v1h-1zM56 18h1v1h-1zM54 19h2v1h-2zM55 33h1v1h-1zM36 34h1v1h-1zM38 34h1v1h-1zM53 34h1v1h-1zM56 34h1v1h-1zM35 35h1v1h-1zM52 36h1v1h-1zM63 36h1v1h-1zM52 37h1v1h-1zM63 37h1v1h-1zM63 38h1v1h-1zM36 39h1v1h-1zM53 39h2v1h-2zM63 41h1v1h-1zM2 45h1v1h-1zM54 45h2v1h-2zM54 46h1v1h-1zM0 48h1v1h-1zM63 48h1v1h-1zM0 53h1v1h-1zM54 53h2v1h-2zM1 54h1v1h-1zM53 54h1v1h-1zM63 54h1v1h-1zM0 55h2v1h-2zM53 55h1v1h-1zM55 55h1v1h-1zM45 61h1v1h-1zM48 61h1v1h-1zM44 62h1v1h-1zM51 62h1v1h-1zM55 62h1v1h-1zM0 63h1v1h-1z"/><path fill="#c33b3b" d="M0 0h2v1h-2zM45 0h1v1h-1zM55 0h1v1h-1zM0 1h1v1h-1zM55 1h1v1h-1zM47 2h2v1h-2zM50 3h1v1h-1zM54 3h1v1h-1zM51 4h1v1h-1zM54 4h1v1h-1zM51 5h1v1h-1zM55 6h1v1h-1zM50 7h1v1h-1zM45 8h3v1h-3zM50 8h1v1h-1zM56 8h1v1h-1zM46 9h1v1h-1zM56 9h1v1h-1zM51 10h1v1h-1zM52 11h1v1h-1zM55 11h1v1h-1zM54 12h1v1h-1zM54 16h2v1h-2zM53 17h1v1h-1zM54 18h2v1h-2zM37 34h1v1h-1zM56 35h1v1h-1zM38 37h1v1h-1zM56 37h1v1h-1zM35 38h1v1h-1zM55 38h1v1h-1zM0 42h1v1h-1zM63 42h1v1h-1zM1 43h1v1h-1zM62 43h1v1h-1zM1 47h1v1h-1zM62 47h1v1h-1zM0 54h1v1h-1zM54 54h2v1h-2zM54 55h1v1h-1zM46 61h2v1h-2zM49 62h2v1h-2zM52 62h3v1h-3zM44 63h1v1h-1zM55 63h1v1h-1z"/><path fill="#b6202f" d="M46 0h1v1h-1zM46 1h2v1h-2zM49 2h2v1h-2zM54 2h1v1h-1zM51 3h3v1h-3zM52 4h2v1h-2zM52 5h3v1h-3zM51 6h1v1h-1zM51 9h1v1h-1zM53 11h1v1h-1zM54 17h2v1h-2zM54 34h2v1h-2zM38 35h1v1h-1zM53 35h1v1h-1zM35 36h1v1h-1zM38 36h1v1h-1zM56 36h1v1h-1zM35 37h1v1h-1zM36 38h2v1h-2zM53 38h2v1h-2zM62 44h1v1h-1zM1 46h1v1h-1zM62 46h1v1h-1zM0 47h1v1h-1zM45 62h1v1h-1zM50 63h5v1h-5z"/><path fill="#9f1228" d="M47 0h4v1h-4zM54 0h1v1h-1zM48 1h3v1h-3zM54 1h1v1h-1zM51 2h3v1h-3zM52 6h1v1h-1zM54 6h1v1h-1zM51 7h1v1h-1zM55 7h1v1h-1zM51 8h1v1h-1zM52 10h1v1h-1zM55 10h1v1h-1zM54 11h1v1h-1zM36 35h2v1h-2zM55 35h1v1h-1zM53 36h1v1h-1zM37 37h1v1h-1zM53 37h1v1h-1zM55 37h1v1h-1zM0 43h1v1h-1zM63 43h1v1h-1zM1 44h1v1h-1zM1 45h1v1h-1zM62 45h1v1h-1zM63 47h1v1h-1zM47 62h2v1h-2zM49 63h1v1h-1z"/><path fill="#830923" d="M51 0h3v1h-3zM51 1h3v1h-3zM53 6h1v1h-1zM52 7h1v1h-1zM55 8h1v1h-1zM52 9h1v1h-1zM55 9h1v1h-1zM53 10h2v1h-2zM54 35h1v1h-1zM36 36h2v1h-2zM55 36h1v1h-1zM36 37h1v1h-1zM54 37h1v1h-1zM0 44h1v1h-1zM0 46h1v1h-1zM63 46h1v1h-1zM46 62h1v1h-1zM45 63h1v1h-1zM48 63h1v1h-1z"/><path fill="#67001f" d="M53 7h2v1h-2zM52 8h3v1h-3zM53 9h2v1h-2zM54 36h1v1h-1zM63 44h1v1h-1zM0 45h1v1h-1zM63 45h1v1h-1zM46 63h2v1h-2z"/></g></svg>
<svg style="left:2242.3px;top:1763.6px;overflow:hidden" width="224.1" height="222.7" viewBox="0 0 40 40" preserveAspectRatio="none"><filter id="h5" x="-10%" y="-10%" width="120%" height="120%"><feGaussianBlur stdDeviation="0.8"/></filter><g id="nsg" filter="url(#h5)"><path fill="#053061" d="M8 23h1v1h-1zM7 24h2v1h-2zM7 25h2v1h-2zM6 26h3v1h-3zM6 27h2v1h-2z"/><path fill="#0f447d" d="M17 0h2v1h-2zM17 1h2v1h-2zM9 23h1v1h-1zM9 24h1v1h-1zM6 25h1v1h-1zM9 25h1v1h-1zM8 27h1v1h-1zM6 28h2v1h-2z"/><path fill="#1a5899" d="M17 -1h2v1h-2zM16 0h1v1h-1zM19 0h1v1h-1zM16 1h1v1h-1zM19 1h1v1h-1zM17 2h2v1h-2zM8 22h2v1h-2zM7 23h1v1h-1zM9 26h1v1h-1zM5 27h1v1h-1z"/><path fill="#256baf" d="M16 -1h1v1h-1zM19 -1h1v1h-1zM16 2h1v1h-1zM19 2h1v1h-1zM17 3h2v1h-2zM7 6h2v1h-2zM8 7h1v1h-1zM8 8h1v1h-1zM6 24h1v1h-1zM5 26h1v1h-1zM5 28h1v1h-1zM8 28h1v1h-1zM6 29h1v1h-1z"/><path fill="#317cb7" d="M20 -1h1v1h-1zM15 0h1v1h-1zM20 0h1v1h-1zM20 1h1v1h-1zM19 3h1v1h-1zM17 4h2v1h-2zM7 5h2v1h-2zM7 7h1v1h-1zM9 7h1v1h-1zM9 8h1v1h-1zM9 9h1v1h-1zM9 21h1v1h-1zM10 22h1v1h-1zM10 23h1v1h-1zM10 24h1v1h-1zM5 25h1v1h-1zM9 27h1v1h-1zM5 29h1v1h-1zM7 29h1v1h-1z"/><path fill="#3e8cc0" d="M17 -2h2v1h-2zM15 -1h1v1h-1zM21 0h1v1h-1zM15 1h1v1h-1zM16 3h1v1h-1zM7 4h1v1h-1zM19 4h1v1h-1zM17 5h2v1h-2zM9 6h1v1h-1zM7 8h1v1h-1zM8 9h1v1h-1zM9 10h1v1h-1zM8 21h1v1h-1zM10 21h1v1h-1zM7 22h1v1h-1zM6 23h1v1h-1zM10 25h1v1h-1z"/><path fill="#559ec9" d="M16 -2h1v1h-1zM19 -2h1v1h-1zM21 -1h1v1h-1zM21 1h1v1h-1zM15 2h1v1h-1zM20 2h1v1h-1zM6 4h1v1h-1zM8 4h1v1h-1zM16 4h1v1h-1zM6 5h1v1h-1zM9 5h1v1h-1zM19 5h1v1h-1zM6 6h1v1h-1zM18 6h1v1h-1zM6 7h1v1h-1zM10 8h1v1h-1zM7 9h1v1h-1zM10 9h1v1h-1zM8 10h1v1h-1zM10 10h1v1h-1zM9 20h1v1h-1zM28 23h1v1h-1zM5 24h1v1h-1zM27 24h1v1h-1zM4 26h1v1h-1zM10 26h1v1h-1zM4 27h1v1h-1zM4 28h1v1h-1zM9 28h1v1h-1zM8 29h1v1h-1zM5 30h3v1h-3z"/><path fill="#72b1d3" d="M15 -2h1v1h-1zM20 -2h1v1h-1zM14 -1h1v1h-1zM22 -1h1v1h-1zM14 0h1v1h-1zM22 0h1v1h-1zM6 3h2v1h-2zM15 3h1v1h-1zM20 3h1v1h-1zM20 4h1v1h-1zM16 5h1v1h-1zM17 6h1v1h-1zM19 6h1v1h-1zM10 7h1v1h-1zM18 7h1v1h-1zM6 8h1v1h-1zM8 11h3v1h-3zM8 20h1v1h-1zM10 20h1v1h-1zM7 21h1v1h-1zM6 22h1v1h-1zM27 23h1v1h-1zM28 24h1v1h-1zM4 25h1v1h-1zM27 25h1v1h-1zM4 29h1v1h-1z"/><path fill="#8fc3dd" d="M21 -2h1v1h-1zM23 -1h1v1h-1zM23 0h1v1h-1zM14 1h1v1h-1zM22 1h1v1h-1zM6 2h2v1h-2zM21 2h1v1h-1zM8 3h1v1h-1zM9 4h1v1h-1zM20 5h1v1h-1zM10 6h1v1h-1zM20 6h1v1h-1zM17 7h1v1h-1zM19 7h1v1h-1zM6 9h1v1h-1zM7 10h1v1h-1zM11 10h1v1h-1zM9 12h2v1h-2zM9 19h2v1h-2zM11 21h1v1h-1zM11 22h1v1h-1zM28 22h2v1h-2zM5 23h1v1h-1zM11 23h1v1h-1zM29 23h1v1h-1zM10 27h1v1h-1zM9 29h1v1h-1zM4 30h1v1h-1zM8 30h1v1h-1zM5 31h2v1h-2z"/><path fill="#a7d0e4" d="M14 -2h1v1h-1zM22 -2h2v1h-2zM13 -1h1v1h-1zM24 -1h1v1h-1zM13 0h1v1h-1zM23 1h1v1h-1zM14 2h1v1h-1zM5 3h1v1h-1zM21 3h1v1h-1zM5 4h1v1h-1zM15 4h1v1h-1zM38 4h1v1h-1zM5 5h1v1h-1zM38 5h1v1h-1zM5 6h1v1h-1zM16 6h1v1h-1zM38 6h1v1h-1zM5 7h1v1h-1zM20 7h1v1h-1zM11 8h1v1h-1zM18 8h2v1h-2zM11 9h1v1h-1zM6 10h1v1h-1zM7 11h1v1h-1zM11 11h1v1h-1zM7 12h2v1h-2zM11 12h1v1h-1zM2 13h1v1h-1zM8 13h3v1h-3zM1 14h2v1h-2zM9 14h1v1h-1zM1 15h2v1h-2zM1 16h2v1h-2zM9 18h2v1h-2zM8 19h1v1h-1zM11 19h1v1h-1zM7 20h1v1h-1zM11 20h1v1h-1zM6 21h1v1h-1zM5 22h1v1h-1zM4 24h1v1h-1zM11 24h1v1h-1zM17 24h1v1h-1zM26 24h1v1h-1zM29 24h1v1h-1zM26 25h1v1h-1zM28 25h1v1h-1zM27 26h1v1h-1zM10 28h1v1h-1zM4 31h1v1h-1zM7 31h1v1h-1zM18 37h2v1h-2zM17 38h4v1h-4zM19 39h1v1h-1z"/><path fill="#bedceb" d="M13 -2h1v1h-1zM24 -2h1v1h-1zM24 0h1v1h-1zM5 1h3v1h-3zM5 2h1v1h-1zM8 2h1v1h-1zM22 2h1v1h-1zM37 2h1v1h-1zM9 3h1v1h-1zM37 3h2v1h-2zM21 4h1v1h-1zM37 4h1v1h-1zM39 4h1v1h-1zM10 5h1v1h-1zM15 5h1v1h-1zM21 5h1v1h-1zM37 5h1v1h-1zM39 5h1v1h-1zM39 6h1v1h-1zM16 7h1v1h-1zM38 7h2v1h-2zM5 8h1v1h-1zM17 8h1v1h-1zM20 8h1v1h-1zM39 8h1v1h-1zM5 9h1v1h-1zM19 9h2v1h-2zM5 10h1v1h-1zM1 11h6v1h-6zM1 12h6v1h-6zM0 13h2v1h-2zM3 13h5v1h-5zM11 13h1v1h-1zM0 14h1v1h-1zM3 14h6v1h-6zM10 14h2v1h-2zM0 15h1v1h-1zM3 15h2v1h-2zM7 15h4v1h-4zM0 16h1v1h-1zM3 16h2v1h-2zM8 16h3v1h-3zM0 17h4v1h-4zM8 17h3v1h-3zM1 18h3v1h-3zM8 18h1v1h-1zM11 18h1v1h-1zM2 19h1v1h-1zM7 19h1v1h-1zM6 20h1v1h-1zM28 21h2v1h-2zM27 22h1v1h-1zM4 23h1v1h-1zM17 23h1v1h-1zM11 25h1v1h-1zM16 25h2v1h-2zM3 26h1v1h-1zM26 26h1v1h-1zM3 27h1v1h-1zM3 28h1v1h-1zM3 29h1v1h-1zM9 30h1v1h-1zM8 31h1v1h-1zM5 32h2v1h-2zM17 36h5v1h-5zM15 37h3v1h-3zM20 37h3v1h-3zM15 38h2v1h-2zM21 38h2v1h-2zM15 39h4v1h-4zM20 39h3v1h-3zM17 40h4v1h-4z"/><path fill="#d4e6f1" d="M12 -1h1v1h-1zM25 -1h1v1h-1zM5 0h3v1h-3zM25 0h1v1h-1zM8 1h1v1h-1zM13 1h1v1h-1zM24 1h1v1h-1zM37 1h1v1h-1zM23 2h1v1h-1zM38 2h1v1h-1zM14 3h1v1h-1zM22 3h1v1h-1zM39 3h1v1h-1zM21 6h1v1h-1zM37 6h1v1h-1zM11 7h1v1h-1zM21 7h1v1h-1zM40 7h1v1h-1zM38 8h1v1h-1zM40 8h1v1h-1zM1 9h4v1h-4zM18 9h1v1h-1zM38 9h2v1h-2zM0 10h5v1h-5zM12 10h1v1h-1zM19 10h2v1h-2zM39 10h1v1h-1zM0 11h1v1h-1zM12 11h1v1h-1zM-1 12h2v1h-2zM12 12h1v1h-1zM-1 13h1v1h-1zM12 13h1v1h-1zM-1 14h1v1h-1zM-1 15h1v1h-1zM5 15h2v1h-2zM11 15h1v1h-1zM-1 16h1v1h-1zM5 16h3v1h-3zM11 16h1v1h-1zM-1 17h1v1h-1zM4 17h4v1h-4zM11 17h1v1h-1zM-1 18h2v1h-2zM4 18h4v1h-4zM0 19h2v1h-2zM3 19h4v1h-4zM12 19h1v1h-1zM1 20h5v1h-5zM12 20h1v1h-1zM29 20h1v1h-1zM3 21h3v1h-3zM12 21h1v1h-1zM30 21h1v1h-1zM3 22h2v1h-2zM12 22h1v1h-1zM30 22h1v1h-1zM3 23h1v1h-1zM18 23h1v1h-1zM26 23h1v1h-1zM3 24h1v1h-1zM16 24h1v1h-1zM18 24h1v1h-1zM3 25h1v1h-1zM29 25h1v1h-1zM11 26h1v1h-1zM16 26h2v1h-2zM28 26h1v1h-1zM11 27h1v1h-1zM26 27h1v1h-1zM10 29h1v1h-1zM3 30h1v1h-1zM4 32h1v1h-1zM7 32h1v1h-1zM5 33h1v1h-1zM16 35h6v1h-6zM15 36h2v1h-2zM22 36h2v1h-2zM14 37h1v1h-1zM23 37h1v1h-1zM14 38h1v1h-1zM23 38h1v1h-1zM14 39h1v1h-1zM23 39h1v1h-1zM15 40h2v1h-2zM21 40h3v1h-3zM17 41h4v1h-4z"/><path fill="#e2edf3" d="M12 -2h1v1h-1zM25 -2h1v1h-1zM5 -1h3v1h-3zM11 -1h1v1h-1zM26 -1h1v1h-1zM4 0h1v1h-1zM8 0h1v1h-1zM12 0h1v1h-1zM37 0h1v1h-1zM4 1h1v1h-1zM25 1h1v1h-1zM36 1h1v1h-1zM38 1h1v1h-1zM4 2h1v1h-1zM9 2h1v1h-1zM13 2h1v1h-1zM24 2h1v1h-1zM36 2h1v1h-1zM39 2h1v1h-1zM4 3h1v1h-1zM36 3h1v1h-1zM4 4h1v1h-1zM10 4h1v1h-1zM22 4h1v1h-1zM40 4h1v1h-1zM4 5h1v1h-1zM22 5h1v1h-1zM40 5h1v1h-1zM4 6h1v1h-1zM15 6h1v1h-1zM40 6h1v1h-1zM4 7h1v1h-1zM37 7h1v1h-1zM0 8h5v1h-5zM16 8h1v1h-1zM21 8h1v1h-1zM-1 9h2v1h-2zM12 9h1v1h-1zM17 9h1v1h-1zM21 9h1v1h-1zM40 9h1v1h-1zM-1 10h1v1h-1zM18 10h1v1h-1zM21 10h1v1h-1zM38 10h1v1h-1zM40 10h1v1h-1zM-2 11h2v1h-2zM19 11h2v1h-2zM38 11h3v1h-3zM-2 12h1v1h-1zM20 12h1v1h-1zM39 12h2v1h-2zM-2 13h1v1h-1zM39 13h1v1h-1zM-2 14h1v1h-1zM12 14h1v1h-1zM39 14h1v1h-1zM-2 15h1v1h-1zM12 15h1v1h-1zM39 15h1v1h-1zM-2 16h1v1h-1zM12 16h1v1h-1zM39 16h1v1h-1zM-2 17h1v1h-1zM12 17h1v1h-1zM39 17h1v1h-1zM-2 18h1v1h-1zM12 18h1v1h-1zM-1 19h1v1h-1zM0 20h1v1h-1zM30 20h1v1h-1zM2 21h1v1h-1zM17 22h2v1h-2zM12 23h1v1h-1zM16 23h1v1h-1zM30 23h1v1h-1zM18 25h1v1h-1zM25 25h1v1h-1zM15 26h1v1h-1zM25 26h1v1h-1zM15 27h2v1h-2zM25 27h1v1h-1zM27 27h1v1h-1zM11 28h1v1h-1zM10 30h1v1h-1zM3 31h1v1h-1zM9 31h1v1h-1zM3 32h1v1h-1zM8 32h1v1h-1zM4 33h1v1h-1zM6 33h2v1h-2zM15 34h8v1h-8zM14 35h2v1h-2zM22 35h3v1h-3zM13 36h2v1h-2zM24 36h1v1h-1zM13 37h1v1h-1zM24 37h1v1h-1zM13 38h1v1h-1zM24 38h1v1h-1zM13 39h1v1h-1zM24 39h1v1h-1zM13 40h2v1h-2zM24 40h1v1h-1zM14 41h3v1h-3zM21 41h3v1h-3z"/><path fill="#f0f4f6" d="M3 -2h9v1h-9zM26 -2h1v1h-1zM36 -2h3v1h-3zM4 -1h1v1h-1zM8 -1h3v1h-3zM36 -1h4v1h-4zM9 0h3v1h-3zM26 0h1v1h-1zM36 0h1v1h-1zM38 0h2v1h-2zM9 1h1v1h-1zM12 1h1v1h-1zM39 1h2v1h-2zM40 2h1v1h-1zM10 3h1v1h-1zM23 3h1v1h-1zM40 3h1v1h-1zM14 4h1v1h-1zM36 4h1v1h-1zM41 4h1v1h-1zM41 5h1v1h-1zM-2 6h2v1h-2zM11 6h1v1h-1zM22 6h1v1h-1zM41 6h1v1h-1zM-2 7h4v1h-4zM22 7h1v1h-1zM41 7h1v1h-1zM-2 8h2v1h-2zM12 8h1v1h-1zM22 8h1v1h-1zM37 8h1v1h-1zM41 8h1v1h-1zM-2 9h1v1h-1zM16 9h1v1h-1zM41 9h1v1h-1zM-2 10h1v1h-1zM17 10h1v1h-1zM41 10h1v1h-1zM13 11h1v1h-1zM18 11h1v1h-1zM21 11h1v1h-1zM41 11h1v1h-1zM13 12h1v1h-1zM19 12h1v1h-1zM21 12h1v1h-1zM38 12h1v1h-1zM41 12h1v1h-1zM13 13h1v1h-1zM19 13h3v1h-3zM38 13h1v1h-1zM40 13h2v1h-2zM13 14h1v1h-1zM20 14h1v1h-1zM38 14h1v1h-1zM40 14h2v1h-2zM13 15h1v1h-1zM38 15h1v1h-1zM40 15h2v1h-2zM13 16h1v1h-1zM38 16h1v1h-1zM40 16h1v1h-1zM13 17h1v1h-1zM38 17h1v1h-1zM40 17h1v1h-1zM13 18h1v1h-1zM39 18h2v1h-2zM-2 19h1v1h-1zM13 19h1v1h-1zM29 19h3v1h-3zM39 19h1v1h-1zM-2 20h2v1h-2zM28 20h1v1h-1zM31 20h1v1h-1zM0 21h2v1h-2zM18 21h2v1h-2zM27 21h1v1h-1zM2 22h1v1h-1zM19 22h1v1h-1zM2 23h1v1h-1zM19 23h1v1h-1zM12 24h1v1h-1zM15 25h1v1h-1zM18 26h1v1h-1zM29 26h1v1h-1zM17 27h1v1h-1zM28 27h1v1h-1zM15 28h2v1h-2zM25 28h3v1h-3zM11 29h1v1h-1zM25 29h2v1h-2zM11 30h1v1h-1zM10 31h1v1h-1zM9 32h1v1h-1zM16 32h5v1h-5zM3 33h1v1h-1zM8 33h1v1h-1zM14 33h12v1h-12zM4 34h4v1h-4zM13 34h2v1h-2zM23 34h4v1h-4zM5 35h2v1h-2zM12 35h2v1h-2zM25 35h2v1h-2zM12 36h1v1h-1zM25 36h1v1h-1zM12 37h1v1h-1zM25 37h1v1h-1zM12 38h1v1h-1zM25 38h1v1h-1zM11 39h2v1h-2zM25 39h1v1h-1zM11 40h2v1h-2zM25 40h1v1h-1zM12 41h2v1h-2zM24 41h1v1h-1z"/><path fill="#f8f2ee" d="M-2 -2h1v1h-1zM2 -2h1v1h-1zM35 -2h1v1h-1zM39 -2h3v1h-3zM3 -1h1v1h-1zM35 -1h1v1h-1zM40 -1h2v1h-2zM-2 0h1v1h-1zM3 0h1v1h-1zM40 0h2v1h-2zM-2 1h1v1h-1zM3 1h1v1h-1zM10 1h2v1h-2zM26 1h1v1h-1zM41 1h1v1h-1zM-2 2h1v1h-1zM10 2h1v1h-1zM25 2h1v1h-1zM41 2h1v1h-1zM-2 3h1v1h-1zM13 3h1v1h-1zM24 3h1v1h-1zM41 3h1v1h-1zM-2 4h2v1h-2zM23 4h1v1h-1zM-2 5h2v1h-2zM23 5h1v1h-1zM36 5h1v1h-1zM0 6h2v1h-2zM2 7h2v1h-2zM15 7h1v1h-1zM22 9h1v1h-1zM37 9h1v1h-1zM13 10h1v1h-1zM16 10h1v1h-1zM22 10h1v1h-1zM37 10h1v1h-1zM17 11h1v1h-1zM22 11h1v1h-1zM37 11h1v1h-1zM14 12h1v1h-1zM18 12h1v1h-1zM37 12h1v1h-1zM14 13h1v1h-1zM18 13h1v1h-1zM14 14h1v1h-1zM19 14h1v1h-1zM21 14h1v1h-1zM14 15h1v1h-1zM19 15h3v1h-3zM31 15h2v1h-2zM19 16h3v1h-3zM30 16h3v1h-3zM41 16h1v1h-1zM19 17h2v1h-2zM30 17h3v1h-3zM41 17h1v1h-1zM19 18h2v1h-2zM29 18h4v1h-4zM38 18h1v1h-1zM41 18h1v1h-1zM18 19h3v1h-3zM38 19h1v1h-1zM40 19h2v1h-2zM13 20h1v1h-1zM18 20h2v1h-2zM38 20h4v1h-4zM-2 21h2v1h-2zM13 21h1v1h-1zM17 21h1v1h-1zM31 21h1v1h-1zM41 21h1v1h-1zM-2 22h1v1h-1zM1 22h1v1h-1zM16 22h1v1h-1zM26 22h1v1h-1zM2 24h1v1h-1zM15 24h1v1h-1zM19 24h1v1h-1zM25 24h1v1h-1zM30 24h1v1h-1zM12 25h1v1h-1zM12 26h1v1h-1zM12 27h1v1h-1zM14 27h1v1h-1zM18 27h1v1h-1zM24 27h1v1h-1zM29 27h1v1h-1zM12 28h3v1h-3zM17 28h1v1h-1zM24 28h1v1h-1zM28 28h1v1h-1zM12 29h7v1h-7zM23 29h2v1h-2zM27 29h2v1h-2zM2 30h1v1h-1zM12 30h7v1h-7zM22 30h7v1h-7zM2 31h1v1h-1zM11 31h19v1h-19zM10 32h6v1h-6zM21 32h9v1h-9zM9 33h5v1h-5zM26 33h4v1h-4zM3 34h1v1h-1zM8 34h1v1h-1zM11 34h2v1h-2zM27 34h2v1h-2zM41 34h1v1h-1zM4 35h1v1h-1zM7 35h2v1h-2zM11 35h1v1h-1zM27 35h1v1h-1zM39 35h3v1h-3zM4 36h4v1h-4zM11 36h1v1h-1zM26 36h1v1h-1zM38 36h4v1h-4zM5 37h3v1h-3zM10 37h2v1h-2zM26 37h1v1h-1zM38 37h4v1h-4zM5 38h3v1h-3zM10 38h2v1h-2zM37 38h5v1h-5zM-2 39h1v1h-1zM5 39h6v1h-6zM37 39h5v1h-5zM-2 40h1v1h-1zM5 40h6v1h-6zM37 40h5v1h-5zM-2 41h2v1h-2zM4 41h8v1h-8zM25 41h1v1h-1zM36 41h6v1h-6z"/><path fill="#fae7dc" d="M-1 -2h1v1h-1zM1 -2h1v1h-1zM27 -2h1v1h-1zM-2 -1h1v1h-1zM2 -1h1v1h-1zM27 -1h1v1h-1zM27 0h1v1h-1zM35 0h1v1h-1zM35 1h1v1h-1zM-1 2h1v1h-1zM3 2h1v1h-1zM11 2h2v1h-2zM26 2h1v1h-1zM-1 3h1v1h-1zM25 3h1v1h-1zM24 4h1v1h-1zM0 5h1v1h-1zM11 5h1v1h-1zM14 5h1v1h-1zM24 5h1v1h-1zM2 6h2v1h-2zM23 6h1v1h-1zM36 6h1v1h-1zM12 7h1v1h-1zM23 7h1v1h-1zM36 7h1v1h-1zM15 8h1v1h-1zM23 8h1v1h-1zM13 9h1v1h-1zM15 9h1v1h-1zM14 10h2v1h-2zM14 11h3v1h-3zM30 11h1v1h-1zM15 12h3v1h-3zM22 12h1v1h-1zM30 12h2v1h-2zM15 13h1v1h-1zM17 13h1v1h-1zM22 13h1v1h-1zM30 13h3v1h-3zM37 13h1v1h-1zM15 14h1v1h-1zM17 14h2v1h-2zM22 14h1v1h-1zM30 14h4v1h-4zM37 14h1v1h-1zM15 15h1v1h-1zM18 15h1v1h-1zM22 15h1v1h-1zM29 15h2v1h-2zM33 15h1v1h-1zM37 15h1v1h-1zM14 16h1v1h-1zM18 16h1v1h-1zM22 16h1v1h-1zM29 16h1v1h-1zM33 16h1v1h-1zM37 16h1v1h-1zM14 17h1v1h-1zM18 17h1v1h-1zM21 17h1v1h-1zM29 17h1v1h-1zM33 17h1v1h-1zM14 18h1v1h-1zM17 18h2v1h-2zM21 18h1v1h-1zM14 19h1v1h-1zM17 19h1v1h-1zM21 19h1v1h-1zM28 19h1v1h-1zM32 19h1v1h-1zM14 20h1v1h-1zM17 20h1v1h-1zM20 20h1v1h-1zM27 20h1v1h-1zM16 21h1v1h-1zM20 21h1v1h-1zM38 21h3v1h-3zM-1 22h2v1h-2zM13 22h1v1h-1zM31 22h1v1h-1zM38 22h1v1h-1zM41 22h1v1h-1zM-2 23h1v1h-1zM37 23h1v1h-1zM37 24h1v1h-1zM2 25h1v1h-1zM19 25h1v1h-1zM30 25h1v1h-1zM2 26h1v1h-1zM14 26h1v1h-1zM24 26h1v1h-1zM36 26h1v1h-1zM2 27h1v1h-1zM13 27h1v1h-1zM2 28h1v1h-1zM18 28h1v1h-1zM23 28h1v1h-1zM29 28h1v1h-1zM2 29h1v1h-1zM19 29h1v1h-1zM21 29h2v1h-2zM29 29h1v1h-1zM19 30h3v1h-3zM29 30h2v1h-2zM30 31h1v1h-1zM2 32h1v1h-1zM30 32h2v1h-2zM41 32h1v1h-1zM-2 33h1v1h-1zM2 33h1v1h-1zM30 33h2v1h-2zM37 33h2v1h-2zM40 33h2v1h-2zM-2 34h1v1h-1zM2 34h1v1h-1zM9 34h2v1h-2zM29 34h2v1h-2zM37 34h4v1h-4zM-2 35h1v1h-1zM3 35h1v1h-1zM9 35h2v1h-2zM28 35h1v1h-1zM37 35h2v1h-2zM-2 36h2v1h-2zM3 36h1v1h-1zM8 36h3v1h-3zM27 36h1v1h-1zM36 36h2v1h-2zM-2 37h2v1h-2zM3 37h2v1h-2zM8 37h2v1h-2zM36 37h2v1h-2zM-2 38h2v1h-2zM4 38h1v1h-1zM8 38h2v1h-2zM26 38h1v1h-1zM36 38h1v1h-1zM-1 39h2v1h-2zM3 39h2v1h-2zM26 39h1v1h-1zM36 39h1v1h-1zM-1 40h6v1h-6zM26 40h1v1h-1zM35 40h2v1h-2zM0 41h4v1h-4zM26 41h1v1h-1zM35 41h1v1h-1z"/><path fill="#fdddcb" d="M0 -2h1v1h-1zM34 -2h1v1h-1zM-1 -1h1v1h-1zM1 -1h1v1h-1zM-1 0h1v1h-1zM2 0h1v1h-1zM-1 1h1v1h-1zM27 1h1v1h-1zM27 2h1v1h-1zM35 2h1v1h-1zM3 3h1v1h-1zM11 3h1v1h-1zM26 3h1v1h-1zM35 3h1v1h-1zM0 4h1v1h-1zM3 4h1v1h-1zM11 4h1v1h-1zM13 4h1v1h-1zM25 4h2v1h-2zM1 5h1v1h-1zM3 5h1v1h-1zM25 5h1v1h-1zM14 6h1v1h-1zM24 6h1v1h-1zM24 7h1v1h-1zM13 8h1v1h-1zM36 8h1v1h-1zM14 9h1v1h-1zM23 9h1v1h-1zM29 9h2v1h-2zM36 9h1v1h-1zM23 10h1v1h-1zM29 10h2v1h-2zM23 11h1v1h-1zM29 11h1v1h-1zM31 11h1v1h-1zM36 11h1v1h-1zM23 12h1v1h-1zM29 12h1v1h-1zM32 12h1v1h-1zM36 12h1v1h-1zM16 13h1v1h-1zM29 13h1v1h-1zM33 13h1v1h-1zM36 13h1v1h-1zM16 14h1v1h-1zM29 14h1v1h-1zM34 14h3v1h-3zM16 15h2v1h-2zM34 15h3v1h-3zM15 16h3v1h-3zM28 16h1v1h-1zM34 16h3v1h-3zM15 17h3v1h-3zM22 17h1v1h-1zM28 17h1v1h-1zM34 17h1v1h-1zM37 17h1v1h-1zM15 18h2v1h-2zM22 18h1v1h-1zM28 18h1v1h-1zM33 18h1v1h-1zM37 18h1v1h-1zM15 19h2v1h-2zM37 19h1v1h-1zM15 20h2v1h-2zM21 20h1v1h-1zM32 20h1v1h-1zM37 20h1v1h-1zM14 21h2v1h-2zM37 21h1v1h-1zM15 22h1v1h-1zM20 22h1v1h-1zM37 22h1v1h-1zM39 22h2v1h-2zM1 23h1v1h-1zM13 23h1v1h-1zM15 23h1v1h-1zM38 23h1v1h-1zM41 23h1v1h-1zM-2 24h1v1h-1zM36 24h1v1h-1zM41 24h1v1h-1zM14 25h1v1h-1zM36 25h2v1h-2zM13 26h1v1h-1zM19 26h1v1h-1zM30 26h1v1h-1zM35 26h1v1h-1zM37 26h1v1h-1zM19 27h1v1h-1zM23 27h1v1h-1zM30 27h1v1h-1zM35 27h3v1h-3zM19 28h1v1h-1zM22 28h1v1h-1zM30 28h1v1h-1zM35 28h3v1h-3zM20 29h1v1h-1zM30 29h2v1h-2zM35 29h3v1h-3zM31 30h2v1h-2zM35 30h3v1h-3zM41 30h1v1h-1zM-2 31h1v1h-1zM31 31h2v1h-2zM36 31h2v1h-2zM41 31h1v1h-1zM-2 32h1v1h-1zM1 32h1v1h-1zM32 32h1v1h-1zM36 32h3v1h-3zM40 32h1v1h-1zM-1 33h1v1h-1zM1 33h1v1h-1zM32 33h1v1h-1zM35 33h2v1h-2zM39 33h1v1h-1zM-1 34h3v1h-3zM31 34h2v1h-2zM35 34h2v1h-2zM-1 35h4v1h-4zM29 35h2v1h-2zM35 35h2v1h-2zM0 36h3v1h-3zM28 36h1v1h-1zM35 36h1v1h-1zM0 37h3v1h-3zM27 37h1v1h-1zM35 37h1v1h-1zM0 38h4v1h-4zM35 38h1v1h-1zM1 39h2v1h-2zM35 39h1v1h-1zM34 41h1v1h-1z"/><path fill="#facbb3" d="M28 -2h1v1h-1zM0 -1h1v1h-1zM28 -1h1v1h-1zM34 -1h1v1h-1zM0 0h1v1h-1zM2 1h1v1h-1zM0 3h1v1h-1zM12 3h1v1h-1zM27 3h1v1h-1zM27 4h1v1h-1zM35 4h1v1h-1zM2 5h1v1h-1zM26 5h2v1h-2zM12 6h1v1h-1zM25 6h4v1h-4zM14 7h1v1h-1zM25 7h1v1h-1zM27 7h3v1h-3zM14 8h1v1h-1zM24 8h1v1h-1zM28 8h3v1h-3zM24 9h1v1h-1zM28 9h1v1h-1zM24 10h1v1h-1zM28 10h1v1h-1zM31 10h1v1h-1zM36 10h1v1h-1zM28 11h1v1h-1zM32 11h1v1h-1zM28 12h1v1h-1zM33 12h1v1h-1zM35 12h1v1h-1zM23 13h1v1h-1zM28 13h1v1h-1zM34 13h2v1h-2zM23 14h1v1h-1zM28 14h1v1h-1zM23 15h1v1h-1zM28 15h1v1h-1zM23 16h1v1h-1zM23 17h1v1h-1zM35 17h2v1h-2zM27 18h1v1h-1zM34 18h1v1h-1zM22 19h1v1h-1zM27 19h1v1h-1zM33 19h1v1h-1zM26 21h1v1h-1zM14 22h1v1h-1zM-1 23h2v1h-2zM14 23h1v1h-1zM20 23h1v1h-1zM25 23h1v1h-1zM31 23h1v1h-1zM36 23h1v1h-1zM13 24h2v1h-2zM38 24h1v1h-1zM-2 25h1v1h-1zM13 25h1v1h-1zM24 25h1v1h-1zM35 25h1v1h-1zM41 25h1v1h-1zM41 26h1v1h-1zM34 27h1v1h-1zM20 28h2v1h-2zM31 28h4v1h-4zM41 28h1v1h-1zM-2 29h1v1h-1zM32 29h3v1h-3zM41 29h1v1h-1zM-2 30h1v1h-1zM33 30h2v1h-2zM1 31h1v1h-1zM33 31h3v1h-3zM38 31h1v1h-1zM-1 32h2v1h-2zM33 32h3v1h-3zM39 32h1v1h-1zM0 33h1v1h-1zM33 33h2v1h-2zM33 34h2v1h-2zM31 35h4v1h-4zM29 36h1v1h-1zM33 36h2v1h-2zM34 37h1v1h-1zM27 38h1v1h-1zM34 38h1v1h-1zM34 39h1v1h-1zM34 40h1v1h-1zM27 41h1v1h-1z"/><path fill="#f7b799" d="M33 -2h1v1h-1zM1 0h1v1h-1zM28 0h1v1h-1zM34 0h1v1h-1zM0 1h1v1h-1zM0 2h1v1h-1zM2 2h1v1h-1zM1 4h2v1h-2zM12 4h1v1h-1zM28 4h1v1h-1zM12 5h2v1h-2zM28 5h1v1h-1zM35 5h1v1h-1zM13 6h1v1h-1zM29 6h1v1h-1zM35 6h1v1h-1zM13 7h1v1h-1zM26 7h1v1h-1zM30 7h1v1h-1zM25 8h3v1h-3zM25 9h3v1h-3zM31 9h1v1h-1zM25 10h1v1h-1zM27 10h1v1h-1zM32 10h1v1h-1zM24 11h1v1h-1zM27 11h1v1h-1zM35 11h1v1h-1zM24 12h1v1h-1zM27 12h1v1h-1zM34 12h1v1h-1zM24 13h1v1h-1zM27 13h1v1h-1zM24 14h1v1h-1zM27 14h1v1h-1zM24 15h1v1h-1zM27 15h1v1h-1zM24 16h1v1h-1zM27 16h1v1h-1zM27 17h1v1h-1zM23 18h1v1h-1zM35 18h2v1h-2zM26 20h1v1h-1zM21 21h1v1h-1zM32 21h1v1h-1zM36 22h1v1h-1zM39 23h2v1h-2zM1 24h1v1h-1zM20 24h1v1h-1zM31 24h1v1h-1zM35 24h1v1h-1zM38 25h1v1h-1zM-2 26h1v1h-1zM23 26h1v1h-1zM34 26h1v1h-1zM-2 27h1v1h-1zM20 27h1v1h-1zM22 27h1v1h-1zM31 27h1v1h-1zM33 27h1v1h-1zM41 27h1v1h-1zM-2 28h1v1h-1zM1 30h1v1h-1zM38 30h1v1h-1zM-1 31h2v1h-2zM39 31h2v1h-2zM30 36h3v1h-3zM28 37h1v1h-1zM33 37h1v1h-1zM27 39h1v1h-1zM27 40h1v1h-1zM33 41h1v1h-1z"/><path fill="#f3a280" d="M29 -2h1v1h-1zM1 1h1v1h-1zM28 1h1v1h-1zM34 1h1v1h-1zM1 2h1v1h-1zM28 2h1v1h-1zM1 3h2v1h-2zM28 3h1v1h-1zM29 5h1v1h-1zM30 6h1v1h-1zM35 7h1v1h-1zM31 8h1v1h-1zM35 8h1v1h-1zM35 9h1v1h-1zM26 10h1v1h-1zM35 10h1v1h-1zM25 11h2v1h-2zM33 11h2v1h-2zM25 12h2v1h-2zM25 13h2v1h-2zM25 14h2v1h-2zM25 15h2v1h-2zM25 16h2v1h-2zM24 17h1v1h-1zM26 17h1v1h-1zM26 18h1v1h-1zM26 19h1v1h-1zM34 19h1v1h-1zM36 19h1v1h-1zM22 20h1v1h-1zM33 20h1v1h-1zM36 20h1v1h-1zM36 21h1v1h-1zM25 22h1v1h-1zM-1 24h2v1h-2zM24 24h1v1h-1zM1 25h1v1h-1zM20 25h1v1h-1zM31 25h1v1h-1zM34 25h1v1h-1zM20 26h1v1h-1zM31 26h1v1h-1zM38 26h1v1h-1zM21 27h1v1h-1zM32 27h1v1h-1zM38 27h1v1h-1zM38 28h1v1h-1zM1 29h1v1h-1zM38 29h1v1h-1zM-1 30h1v1h-1zM40 30h1v1h-1zM33 38h1v1h-1zM33 40h1v1h-1zM28 41h1v1h-1zM32 41h1v1h-1z"/><path fill="#e8896c" d="M32 -2h1v1h-1zM33 -1h1v1h-1zM34 2h1v1h-1zM29 4h1v1h-1zM31 7h1v1h-1zM32 9h1v1h-1zM33 10h2v1h-2zM25 17h1v1h-1zM24 18h2v1h-2zM23 19h1v1h-1zM35 19h1v1h-1zM21 22h1v1h-1zM32 22h1v1h-1zM35 23h1v1h-1zM39 24h2v1h-2zM-1 25h1v1h-1zM1 26h1v1h-1zM22 26h1v1h-1zM32 26h2v1h-2zM1 27h1v1h-1zM1 28h1v1h-1zM-1 29h1v1h-1zM0 30h1v1h-1zM39 30h1v1h-1zM29 37h1v1h-1zM32 37h1v1h-1zM28 38h1v1h-1zM33 39h1v1h-1z"/><path fill="#dd6f59" d="M30 -2h1v1h-1zM29 -1h1v1h-1zM29 3h1v1h-1zM34 3h1v1h-1zM34 4h1v1h-1zM30 5h1v1h-1zM32 8h1v1h-1zM34 8h1v1h-1zM33 9h2v1h-2zM24 19h2v1h-2zM25 20h1v1h-1zM34 20h2v1h-2zM22 21h1v1h-1zM25 21h1v1h-1zM33 21h1v1h-1zM35 22h1v1h-1zM21 23h1v1h-1zM32 23h1v1h-1zM34 24h1v1h-1zM0 25h1v1h-1zM23 25h1v1h-1zM32 25h2v1h-2zM40 25h1v1h-1zM-1 26h1v1h-1zM21 26h1v1h-1zM-1 28h1v1h-1zM0 29h1v1h-1zM40 29h1v1h-1zM30 37h2v1h-2zM32 38h1v1h-1zM28 39h1v1h-1zM28 40h1v1h-1zM32 40h1v1h-1zM29 41h1v1h-1zM31 41h1v1h-1z"/><path fill="#d15548" d="M31 -2h1v1h-1zM29 0h1v1h-1zM33 0h1v1h-1zM29 1h1v1h-1zM29 2h1v1h-1zM34 5h1v1h-1zM31 6h1v1h-1zM34 6h1v1h-1zM32 7h1v1h-1zM34 7h1v1h-1zM33 8h1v1h-1zM23 20h1v1h-1zM35 21h1v1h-1zM24 23h1v1h-1zM21 24h1v1h-1zM32 24h1v1h-1zM21 25h1v1h-1zM39 25h1v1h-1zM40 26h1v1h-1zM-1 27h1v1h-1zM40 27h1v1h-1zM0 28h1v1h-1zM40 28h1v1h-1zM39 29h1v1h-1zM32 39h1v1h-1zM30 41h1v1h-1z"/><path fill="#c33b3b" d="M30 -1h1v1h-1zM32 -1h1v1h-1zM30 4h1v1h-1zM31 5h1v1h-1zM33 7h1v1h-1zM24 20h1v1h-1zM34 21h1v1h-1zM22 22h1v1h-1zM24 22h1v1h-1zM33 22h2v1h-2zM33 23h2v1h-2zM23 24h1v1h-1zM33 24h1v1h-1zM22 25h1v1h-1zM0 26h1v1h-1zM39 26h1v1h-1zM0 27h1v1h-1zM39 27h1v1h-1zM39 28h1v1h-1zM29 38h1v1h-1zM31 38h1v1h-1zM29 40h1v1h-1zM31 40h1v1h-1z"/><path fill="#b6202f" d="M31 -1h1v1h-1zM33 1h1v1h-1zM30 3h1v1h-1zM33 5h1v1h-1zM32 6h2v1h-2zM23 21h2v1h-2zM22 24h1v1h-1zM30 38h1v1h-1zM29 39h1v1h-1zM31 39h1v1h-1zM30 40h1v1h-1z"/><path fill="#9f1228" d="M30 0h1v1h-1zM32 0h1v1h-1zM33 2h1v1h-1zM33 3h1v1h-1zM31 4h1v1h-1zM33 4h1v1h-1zM32 5h1v1h-1zM23 22h1v1h-1zM22 23h2v1h-2zM30 39h1v1h-1z"/><path fill="#830923" d="M31 0h1v1h-1zM30 1h1v1h-1zM30 2h1v1h-1zM32 4h1v1h-1z"/><path fill="#67001f" d="M31 1h2v1h-2zM31 2h2v1h-2zM31 3h2v1h-2z"/></g></svg>
<svg style="left:2242.3px;top:2062.3px;overflow:hidden" width="224.1" height="222.7" viewBox="0 0 40 40" preserveAspectRatio="none"><use href="#nsg"/></svg>
<svg style="left:2557.1px;top:1763.6px;overflow:hidden" width="224.0" height="222.7" viewBox="0 0 56 56" preserveAspectRatio="none" shape-rendering="crispEdges"><use href="#biasg"/></svg>
<svg style="left:2557.1px;top:2062.3px;overflow:hidden" width="224.0" height="222.7" viewBox="0 0 56 56" preserveAspectRatio="none" shape-rendering="crispEdges"><use href="#biasg"/></svg>
<svg style="left:0;top:0" width="4320" height="2880"><defs><linearGradient id="cbg" x1="0" x2="0" y1="0" y2="1"><stop offset="0.0" stop-color="#67001f"/><stop offset="0.1" stop-color="#b2182b"/><stop offset="0.2" stop-color="#d6604d"/><stop offset="0.3" stop-color="#f4a582"/><stop offset="0.4" stop-color="#fddbc7"/><stop offset="0.5" stop-color="#f7f7f7"/><stop offset="0.6" stop-color="#d1e5f0"/><stop offset="0.7" stop-color="#92c5de"/><stop offset="0.8" stop-color="#4393c3"/><stop offset="0.9" stop-color="#2166ac"/><stop offset="1.0" stop-color="#053061"/></linearGradient></defs><rect x="1560.3" y="1767" width="518.0000000000002" height="516" fill="none" stroke="#000" stroke-width="2.6"/><line x1="1548.3" y1="1767.0" x2="1560.3" y2="1767.0" stroke="#000" stroke-width="2.6"/><line x1="1560.3" y1="2283" x2="1560.3" y2="2295" stroke="#000" stroke-width="2.6"/><line x1="1553.8" y1="1799.2" x2="1560.3" y2="1799.2" stroke="#000" stroke-width="2.6"/><line x1="1592.7" y1="2283" x2="1592.7" y2="2289.5" stroke="#000" stroke-width="2.6"/><line x1="1553.8" y1="1831.5" x2="1560.3" y2="1831.5" stroke="#000" stroke-width="2.6"/><line x1="1625.0" y1="2283" x2="1625.0" y2="2289.5" stroke="#000" stroke-width="2.6"/><line x1="1553.8" y1="1863.8" x2="1560.3" y2="1863.8" stroke="#000" stroke-width="2.6"/><line x1="1657.4" y1="2283" x2="1657.4" y2="2289.5" stroke="#000" stroke-width="2.6"/><line x1="1548.3" y1="1896.0" x2="1560.3" y2="1896.0" stroke="#000" stroke-width="2.6"/><line x1="1689.8" y1="2283" x2="1689.8" y2="2295" stroke="#000" stroke-width="2.6"/><line x1="1553.8" y1="1928.2" x2="1560.3" y2="1928.2" stroke="#000" stroke-width="2.6"/><line x1="1722.2" y1="2283" x2="1722.2" y2="2289.5" stroke="#000" stroke-width="2.6"/><line x1="1553.8" y1="1960.5" x2="1560.3" y2="1960.5" stroke="#000" stroke-width="2.6"/><line x1="1754.5" y1="2283" x2="1754.5" y2="2289.5" stroke="#000" stroke-width="2.6"/><line x1="1553.8" y1="1992.8" x2="1560.3" y2="1992.8" stroke="#000" stroke-width="2.6"/><line x1="1786.9" y1="2283" x2="1786.9" y2="2289.5" stroke="#000" stroke-width="2.6"/><line x1="1548.3" y1="2025.0" x2="1560.3" y2="2025.0" stroke="#000" stroke-width="2.6"/><line x1="1819.3" y1="2283" x2="1819.3" y2="2295" stroke="#000" stroke-width="2.6"/><line x1="1553.8" y1="2057.2" x2="1560.3" y2="2057.2" stroke="#000" stroke-width="2.6"/><line x1="1851.7" y1="2283" x2="1851.7" y2="2289.5" stroke="#000" stroke-width="2.6"/><line x1="1553.8" y1="2089.5" x2="1560.3" y2="2089.5" stroke="#000" stroke-width="2.6"/><line x1="1884.1" y1="2283" x2="1884.1" y2="2289.5" stroke="#000" stroke-width="2.6"/><line x1="1553.8" y1="2121.8" x2="1560.3" y2="2121.8" stroke="#000" stroke-width="2.6"/><line x1="1916.4" y1="2283" x2="1916.4" y2="2289.5" stroke="#000" stroke-width="2.6"/><line x1="1548.3" y1="2154.0" x2="1560.3" y2="2154.0" stroke="#000" stroke-width="2.6"/><line x1="1948.8" y1="2283" x2="1948.8" y2="2295" stroke="#000" stroke-width="2.6"/><line x1="1553.8" y1="2186.2" x2="1560.3" y2="2186.2" stroke="#000" stroke-width="2.6"/><line x1="1981.2" y1="2283" x2="1981.2" y2="2289.5" stroke="#000" stroke-width="2.6"/><line x1="1553.8" y1="2218.5" x2="1560.3" y2="2218.5" stroke="#000" stroke-width="2.6"/><line x1="2013.6" y1="2283" x2="2013.6" y2="2289.5" stroke="#000" stroke-width="2.6"/><line x1="1553.8" y1="2250.8" x2="1560.3" y2="2250.8" stroke="#000" stroke-width="2.6"/><line x1="2045.9" y1="2283" x2="2045.9" y2="2289.5" stroke="#000" stroke-width="2.6"/><line x1="1548.3" y1="2283.0" x2="1560.3" y2="2283.0" stroke="#000" stroke-width="2.6"/><line x1="2078.3" y1="2283" x2="2078.3" y2="2295" stroke="#000" stroke-width="2.6"/><rect x="2087.5" y="1767" width="27.800000000000182" height="516" fill="url(#cbg)" stroke="#000" stroke-width="2.6"/><line x1="2115.3" y1="1819.5" x2="2127.3" y2="1819.5" stroke="#000" stroke-width="2.6"/><line x1="2115.3" y1="1896.5" x2="2127.3" y2="1896.5" stroke="#000" stroke-width="2.6"/><line x1="2115.3" y1="1973" x2="2127.3" y2="1973" stroke="#000" stroke-width="2.6"/><line x1="2115.3" y1="2049.3" x2="2127.3" y2="2049.3" stroke="#000" stroke-width="2.6"/><line x1="2115.3" y1="2126.2" x2="2127.3" y2="2126.2" stroke="#000" stroke-width="2.6"/><line x1="2115.3" y1="2202.8" x2="2127.3" y2="2202.8" stroke="#000" stroke-width="2.6"/><line x1="2115.3" y1="2280" x2="2127.3" y2="2280" stroke="#000" stroke-width="2.6"/><rect x="2242.3" y="1763.6" width="224.0999999999999" height="222.70000000000005" fill="none" stroke="#000" stroke-width="2.6"/><line x1="2229.8" y1="1763.6" x2="2242.3" y2="1763.6" stroke="#000" stroke-width="2.6"/><line x1="2242.3" y1="1986.3" x2="2242.3" y2="1998.8" stroke="#000" stroke-width="2.6"/><line x1="2236.7000000000003" y1="1777.5" x2="2242.3" y2="1777.5" stroke="#000" stroke-width="2.6"/><line x1="2256.3" y1="1986.3" x2="2256.3" y2="1991.8999999999999" stroke="#000" stroke-width="2.6"/><line x1="2236.7000000000003" y1="1791.4" x2="2242.3" y2="1791.4" stroke="#000" stroke-width="2.6"/><line x1="2270.3" y1="1986.3" x2="2270.3" y2="1991.8999999999999" stroke="#000" stroke-width="2.6"/><line x1="2236.7000000000003" y1="1805.4" x2="2242.3" y2="1805.4" stroke="#000" stroke-width="2.6"/><line x1="2284.3" y1="1986.3" x2="2284.3" y2="1991.8999999999999" stroke="#000" stroke-width="2.6"/><line x1="2229.8" y1="1819.3" x2="2242.3" y2="1819.3" stroke="#000" stroke-width="2.6"/><line x1="2298.3" y1="1986.3" x2="2298.3" y2="1998.8" stroke="#000" stroke-width="2.6"/><line x1="2236.7000000000003" y1="1833.2" x2="2242.3" y2="1833.2" stroke="#000" stroke-width="2.6"/><line x1="2312.3" y1="1986.3" x2="2312.3" y2="1991.8999999999999" stroke="#000" stroke-width="2.6"/><line x1="2236.7000000000003" y1="1847.1" x2="2242.3" y2="1847.1" stroke="#000" stroke-width="2.6"/><line x1="2326.3" y1="1986.3" x2="2326.3" y2="1991.8999999999999" stroke="#000" stroke-width="2.6"/><line x1="2236.7000000000003" y1="1861.0" x2="2242.3" y2="1861.0" stroke="#000" stroke-width="2.6"/><line x1="2340.3" y1="1986.3" x2="2340.3" y2="1991.8999999999999" stroke="#000" stroke-width="2.6"/><line x1="2229.8" y1="1874.9" x2="2242.3" y2="1874.9" stroke="#000" stroke-width="2.6"/><line x1="2354.4" y1="1986.3" x2="2354.4" y2="1998.8" stroke="#000" stroke-width="2.6"/><line x1="2236.7000000000003" y1="1888.9" x2="2242.3" y2="1888.9" stroke="#000" stroke-width="2.6"/><line x1="2368.4" y1="1986.3" x2="2368.4" y2="1991.8999999999999" stroke="#000" stroke-width="2.6"/><line x1="2236.7000000000003" y1="1902.8" x2="2242.3" y2="1902.8" stroke="#000" stroke-width="2.6"/><line x1="2382.4" y1="1986.3" x2="2382.4" y2="1991.8999999999999" stroke="#000" stroke-width="2.6"/><line x1="2236.7000000000003" y1="1916.7" x2="2242.3" y2="1916.7" stroke="#000" stroke-width="2.6"/><line x1="2396.4" y1="1986.3" x2="2396.4" y2="1991.8999999999999" stroke="#000" stroke-width="2.6"/><line x1="2229.8" y1="1930.6" x2="2242.3" y2="1930.6" stroke="#000" stroke-width="2.6"/><line x1="2410.4" y1="1986.3" x2="2410.4" y2="1998.8" stroke="#000" stroke-width="2.6"/><line x1="2236.7000000000003" y1="1944.5" x2="2242.3" y2="1944.5" stroke="#000" stroke-width="2.6"/><line x1="2424.4" y1="1986.3" x2="2424.4" y2="1991.8999999999999" stroke="#000" stroke-width="2.6"/><line x1="2236.7000000000003" y1="1958.5" x2="2242.3" y2="1958.5" stroke="#000" stroke-width="2.6"/><line x1="2438.4" y1="1986.3" x2="2438.4" y2="1991.8999999999999" stroke="#000" stroke-width="2.6"/><line x1="2236.7000000000003" y1="1972.4" x2="2242.3" y2="1972.4" stroke="#000" stroke-width="2.6"/><line x1="2452.4" y1="1986.3" x2="2452.4" y2="1991.8999999999999" stroke="#000" stroke-width="2.6"/><line x1="2229.8" y1="1986.3" x2="2242.3" y2="1986.3" stroke="#000" stroke-width="2.6"/><line x1="2466.4" y1="1986.3" x2="2466.4" y2="1998.8" stroke="#000" stroke-width="2.6"/><rect x="2470.3" y="1763.6" width="12.299999999999727" height="222.70000000000005" fill="url(#cbg)" stroke="#000" stroke-width="2.6"/><line x1="2482.6" y1="1787" x2="2494.1" y2="1787" stroke="#000" stroke-width="2.6"/><line x1="2482.6" y1="1874.6" x2="2494.1" y2="1874.6" stroke="#000" stroke-width="2.6"/><line x1="2482.6" y1="1961.8" x2="2494.1" y2="1961.8" stroke="#000" stroke-width="2.6"/><rect x="2557.1" y="1763.6" width="224.0" height="222.70000000000005" fill="none" stroke="#000" stroke-width="2.6"/><line x1="2544.6" y1="1763.6" x2="2557.1" y2="1763.6" stroke="#000" stroke-width="2.6"/><line x1="2557.1" y1="1986.3" x2="2557.1" y2="1998.8" stroke="#000" stroke-width="2.6"/><line x1="2551.5" y1="1777.5" x2="2557.1" y2="1777.5" stroke="#000" stroke-width="2.6"/><line x1="2571.1" y1="1986.3" x2="2571.1" y2="1991.8999999999999" stroke="#000" stroke-width="2.6"/><line x1="2551.5" y1="1791.4" x2="2557.1" y2="1791.4" stroke="#000" stroke-width="2.6"/><line x1="2585.1" y1="1986.3" x2="2585.1" y2="1991.8999999999999" stroke="#000" stroke-width="2.6"/><line x1="2551.5" y1="1805.4" x2="2557.1" y2="1805.4" stroke="#000" stroke-width="2.6"/><line x1="2599.1" y1="1986.3" x2="2599.1" y2="1991.8999999999999" stroke="#000" stroke-width="2.6"/><line x1="2544.6" y1="1819.3" x2="2557.1" y2="1819.3" stroke="#000" stroke-width="2.6"/><line x1="2613.1" y1="1986.3" x2="2613.1" y2="1998.8" stroke="#000" stroke-width="2.6"/><line x1="2551.5" y1="1833.2" x2="2557.1" y2="1833.2" stroke="#000" stroke-width="2.6"/><line x1="2627.1" y1="1986.3" x2="2627.1" y2="1991.8999999999999" stroke="#000" stroke-width="2.6"/><line x1="2551.5" y1="1847.1" x2="2557.1" y2="1847.1" stroke="#000" stroke-width="2.6"/><line x1="2641.1" y1="1986.3" x2="2641.1" y2="1991.8999999999999" stroke="#000" stroke-width="2.6"/><line x1="2551.5" y1="1861.0" x2="2557.1" y2="1861.0" stroke="#000" stroke-width="2.6"/><line x1="2655.1" y1="1986.3" x2="2655.1" y2="1991.8999999999999" stroke="#000" stroke-width="2.6"/><line x1="2544.6" y1="1874.9" x2="2557.1" y2="1874.9" stroke="#000" stroke-width="2.6"/><line x1="2669.1" y1="1986.3" x2="2669.1" y2="1998.8" stroke="#000" stroke-width="2.6"/><line x1="2551.5" y1="1888.9" x2="2557.1" y2="1888.9" stroke="#000" stroke-width="2.6"/><line x1="2683.1" y1="1986.3" x2="2683.1" y2="1991.8999999999999" stroke="#000" stroke-width="2.6"/><line x1="2551.5" y1="1902.8" x2="2557.1" y2="1902.8" stroke="#000" stroke-width="2.6"/><line x1="2697.1" y1="1986.3" x2="2697.1" y2="1991.8999999999999" stroke="#000" stroke-width="2.6"/><line x1="2551.5" y1="1916.7" x2="2557.1" y2="1916.7" stroke="#000" stroke-width="2.6"/><line x1="2711.1" y1="1986.3" x2="2711.1" y2="1991.8999999999999" stroke="#000" stroke-width="2.6"/><line x1="2544.6" y1="1930.6" x2="2557.1" y2="1930.6" stroke="#000" stroke-width="2.6"/><line x1="2725.1" y1="1986.3" x2="2725.1" y2="1998.8" stroke="#000" stroke-width="2.6"/><line x1="2551.5" y1="1944.5" x2="2557.1" y2="1944.5" stroke="#000" stroke-width="2.6"/><line x1="2739.1" y1="1986.3" x2="2739.1" y2="1991.8999999999999" stroke="#000" stroke-width="2.6"/><line x1="2551.5" y1="1958.5" x2="2557.1" y2="1958.5" stroke="#000" stroke-width="2.6"/><line x1="2753.1" y1="1986.3" x2="2753.1" y2="1991.8999999999999" stroke="#000" stroke-width="2.6"/><line x1="2551.5" y1="1972.4" x2="2557.1" y2="1972.4" stroke="#000" stroke-width="2.6"/><line x1="2767.1" y1="1986.3" x2="2767.1" y2="1991.8999999999999" stroke="#000" stroke-width="2.6"/><line x1="2544.6" y1="1986.3" x2="2557.1" y2="1986.3" stroke="#000" stroke-width="2.6"/><line x1="2781.1" y1="1986.3" x2="2781.1" y2="1998.8" stroke="#000" stroke-width="2.6"/><rect x="2784.8" y="1763.6" width="12.799999999999727" height="222.70000000000005" fill="url(#cbg)" stroke="#000" stroke-width="2.6"/><line x1="2797.6" y1="1777.3" x2="2809.1" y2="1777.3" stroke="#000" stroke-width="2.6"/><line x1="2797.6" y1="1847.3" x2="2809.1" y2="1847.3" stroke="#000" stroke-width="2.6"/><line x1="2797.6" y1="1917" x2="2809.1" y2="1917" stroke="#000" stroke-width="2.6"/><line x1="2797.6" y1="1986.6" x2="2809.1" y2="1986.6" stroke="#000" stroke-width="2.6"/><rect x="2242.3" y="2062.2999999999997" width="224.0999999999999" height="222.70000000000027" fill="none" stroke="#000" stroke-width="2.6"/><line x1="2229.8" y1="2062.3" x2="2242.3" y2="2062.3" stroke="#000" stroke-width="2.6"/><line x1="2242.3" y1="2285.0" x2="2242.3" y2="2297.5" stroke="#000" stroke-width="2.6"/><line x1="2236.7000000000003" y1="2076.2" x2="2242.3" y2="2076.2" stroke="#000" stroke-width="2.6"/><line x1="2256.3" y1="2285.0" x2="2256.3" y2="2290.6" stroke="#000" stroke-width="2.6"/><line x1="2236.7000000000003" y1="2090.1" x2="2242.3" y2="2090.1" stroke="#000" stroke-width="2.6"/><line x1="2270.3" y1="2285.0" x2="2270.3" y2="2290.6" stroke="#000" stroke-width="2.6"/><line x1="2236.7000000000003" y1="2104.1" x2="2242.3" y2="2104.1" stroke="#000" stroke-width="2.6"/><line x1="2284.3" y1="2285.0" x2="2284.3" y2="2290.6" stroke="#000" stroke-width="2.6"/><line x1="2229.8" y1="2118.0" x2="2242.3" y2="2118.0" stroke="#000" stroke-width="2.6"/><line x1="2298.3" y1="2285.0" x2="2298.3" y2="2297.5" stroke="#000" stroke-width="2.6"/><line x1="2236.7000000000003" y1="2131.9" x2="2242.3" y2="2131.9" stroke="#000" stroke-width="2.6"/><line x1="2312.3" y1="2285.0" x2="2312.3" y2="2290.6" stroke="#000" stroke-width="2.6"/><line x1="2236.7000000000003" y1="2145.8" x2="2242.3" y2="2145.8" stroke="#000" stroke-width="2.6"/><line x1="2326.3" y1="2285.0" x2="2326.3" y2="2290.6" stroke="#000" stroke-width="2.6"/><line x1="2236.7000000000003" y1="2159.7" x2="2242.3" y2="2159.7" stroke="#000" stroke-width="2.6"/><line x1="2340.3" y1="2285.0" x2="2340.3" y2="2290.6" stroke="#000" stroke-width="2.6"/><line x1="2229.8" y1="2173.6" x2="2242.3" y2="2173.6" stroke="#000" stroke-width="2.6"/><line x1="2354.4" y1="2285.0" x2="2354.4" y2="2297.5" stroke="#000" stroke-width="2.6"/><line x1="2236.7000000000003" y1="2187.6" x2="2242.3" y2="2187.6" stroke="#000" stroke-width="2.6"/><line x1="2368.4" y1="2285.0" x2="2368.4" y2="2290.6" stroke="#000" stroke-width="2.6"/><line x1="2236.7000000000003" y1="2201.5" x2="2242.3" y2="2201.5" stroke="#000" stroke-width="2.6"/><line x1="2382.4" y1="2285.0" x2="2382.4" y2="2290.6" stroke="#000" stroke-width="2.6"/><line x1="2236.7000000000003" y1="2215.4" x2="2242.3" y2="2215.4" stroke="#000" stroke-width="2.6"/><line x1="2396.4" y1="2285.0" x2="2396.4" y2="2290.6" stroke="#000" stroke-width="2.6"/><line x1="2229.8" y1="2229.3" x2="2242.3" y2="2229.3" stroke="#000" stroke-width="2.6"/><line x1="2410.4" y1="2285.0" x2="2410.4" y2="2297.5" stroke="#000" stroke-width="2.6"/><line x1="2236.7000000000003" y1="2243.2" x2="2242.3" y2="2243.2" stroke="#000" stroke-width="2.6"/><line x1="2424.4" y1="2285.0" x2="2424.4" y2="2290.6" stroke="#000" stroke-width="2.6"/><line x1="2236.7000000000003" y1="2257.2" x2="2242.3" y2="2257.2" stroke="#000" stroke-width="2.6"/><line x1="2438.4" y1="2285.0" x2="2438.4" y2="2290.6" stroke="#000" stroke-width="2.6"/><line x1="2236.7000000000003" y1="2271.1" x2="2242.3" y2="2271.1" stroke="#000" stroke-width="2.6"/><line x1="2452.4" y1="2285.0" x2="2452.4" y2="2290.6" stroke="#000" stroke-width="2.6"/><line x1="2229.8" y1="2285.0" x2="2242.3" y2="2285.0" stroke="#000" stroke-width="2.6"/><line x1="2466.4" y1="2285.0" x2="2466.4" y2="2297.5" stroke="#000" stroke-width="2.6"/><rect x="2470.3" y="2062.2999999999997" width="12.299999999999727" height="222.70000000000027" fill="url(#cbg)" stroke="#000" stroke-width="2.6"/><line x1="2482.6" y1="2085.7" x2="2494.1" y2="2085.7" stroke="#000" stroke-width="2.6"/><line x1="2482.6" y1="2173.2999999999997" x2="2494.1" y2="2173.2999999999997" stroke="#000" stroke-width="2.6"/><line x1="2482.6" y1="2260.5" x2="2494.1" y2="2260.5" stroke="#000" stroke-width="2.6"/><rect x="2557.1" y="2062.2999999999997" width="224.0" height="222.70000000000027" fill="none" stroke="#000" stroke-width="2.6"/><line x1="2544.6" y1="2062.3" x2="2557.1" y2="2062.3" stroke="#000" stroke-width="2.6"/><line x1="2557.1" y1="2285.0" x2="2557.1" y2="2297.5" stroke="#000" stroke-width="2.6"/><line x1="2551.5" y1="2076.2" x2="2557.1" y2="2076.2" stroke="#000" stroke-width="2.6"/><line x1="2571.1" y1="2285.0" x2="2571.1" y2="2290.6" stroke="#000" stroke-width="2.6"/><line x1="2551.5" y1="2090.1" x2="2557.1" y2="2090.1" stroke="#000" stroke-width="2.6"/><line x1="2585.1" y1="2285.0" x2="2585.1" y2="2290.6" stroke="#000" stroke-width="2.6"/><line x1="2551.5" y1="2104.1" x2="2557.1" y2="2104.1" stroke="#000" stroke-width="2.6"/><line x1="2599.1" y1="2285.0" x2="2599.1" y2="2290.6" stroke="#000" stroke-width="2.6"/><line x1="2544.6" y1="2118.0" x2="2557.1" y2="2118.0" stroke="#000" stroke-width="2.6"/><line x1="2613.1" y1="2285.0" x2="2613.1" y2="2297.5" stroke="#000" stroke-width="2.6"/><line x1="2551.5" y1="2131.9" x2="2557.1" y2="2131.9" stroke="#000" stroke-width="2.6"/><line x1="2627.1" y1="2285.0" x2="2627.1" y2="2290.6" stroke="#000" stroke-width="2.6"/><line x1="2551.5" y1="2145.8" x2="2557.1" y2="2145.8" stroke="#000" stroke-width="2.6"/><line x1="2641.1" y1="2285.0" x2="2641.1" y2="2290.6" stroke="#000" stroke-width="2.6"/><line x1="2551.5" y1="2159.7" x2="2557.1" y2="2159.7" stroke="#000" stroke-width="2.6"/><line x1="2655.1" y1="2285.0" x2="2655.1" y2="2290.6" stroke="#000" stroke-width="2.6"/><line x1="2544.6" y1="2173.6" x2="2557.1" y2="2173.6" stroke="#000" stroke-width="2.6"/><line x1="2669.1" y1="2285.0" x2="2669.1" y2="2297.5" stroke="#000" stroke-width="2.6"/><line x1="2551.5" y1="2187.6" x2="2557.1" y2="2187.6" stroke="#000" stroke-width="2.6"/><line x1="2683.1" y1="2285.0" x2="2683.1" y2="2290.6" stroke="#000" stroke-width="2.6"/><line x1="2551.5" y1="2201.5" x2="2557.1" y2="2201.5" stroke="#000" stroke-width="2.6"/><line x1="2697.1" y1="2285.0" x2="2697.1" y2="2290.6" stroke="#000" stroke-width="2.6"/><line x1="2551.5" y1="2215.4" x2="2557.1" y2="2215.4" stroke="#000" stroke-width="2.6"/><line x1="2711.1" y1="2285.0" x2="2711.1" y2="2290.6" stroke="#000" stroke-width="2.6"/><line x1="2544.6" y1="2229.3" x2="2557.1" y2="2229.3" stroke="#000" stroke-width="2.6"/><line x1="2725.1" y1="2285.0" x2="2725.1" y2="2297.5" stroke="#000" stroke-width="2.6"/><line x1="2551.5" y1="2243.2" x2="2557.1" y2="2243.2" stroke="#000" stroke-width="2.6"/><line x1="2739.1" y1="2285.0" x2="2739.1" y2="2290.6" stroke="#000" stroke-width="2.6"/><line x1="2551.5" y1="2257.2" x2="2557.1" y2="2257.2" stroke="#000" stroke-width="2.6"/><line x1="2753.1" y1="2285.0" x2="2753.1" y2="2290.6" stroke="#000" stroke-width="2.6"/><line x1="2551.5" y1="2271.1" x2="2557.1" y2="2271.1" stroke="#000" stroke-width="2.6"/><line x1="2767.1" y1="2285.0" x2="2767.1" y2="2290.6" stroke="#000" stroke-width="2.6"/><line x1="2544.6" y1="2285.0" x2="2557.1" y2="2285.0" stroke="#000" stroke-width="2.6"/><line x1="2781.1" y1="2285.0" x2="2781.1" y2="2297.5" stroke="#000" stroke-width="2.6"/><rect x="2784.8" y="2062.2999999999997" width="12.799999999999727" height="222.70000000000027" fill="url(#cbg)" stroke="#000" stroke-width="2.6"/><line x1="2797.6" y1="2076.0" x2="2809.1" y2="2076.0" stroke="#000" stroke-width="2.6"/><line x1="2797.6" y1="2146.0" x2="2809.1" y2="2146.0" stroke="#000" stroke-width="2.6"/><line x1="2797.6" y1="2215.7" x2="2809.1" y2="2215.7" stroke="#000" stroke-width="2.6"/><line x1="2797.6" y1="2285.2999999999997" x2="2809.1" y2="2285.2999999999997" stroke="#000" stroke-width="2.6"/></svg>
<div class="a" id="f24" style="left:2140.0px;top:1803.9px;font:normal normal 21.5px/31px 'Liberation Serif', serif;color:#000;letter-spacing:0em;transform-origin:0 0;transform:scaleX(1.1535);">2.0</div>
<div class="a" id="f25" style="left:2140.0px;top:1880.9px;font:normal normal 21.5px/31px 'Liberation Serif', serif;color:#000;letter-spacing:0em;transform-origin:0 0;transform:scaleX(1.1535);">1.5</div>
<div class="a" id="f26" style="left:2140.0px;top:1957.4px;font:normal normal 21.5px/31px 'Liberation Serif', serif;color:#000;letter-spacing:0em;transform-origin:0 0;transform:scaleX(1.1535);">1.0</div>
<div class="a" id="f27" style="left:2140.0px;top:2033.7px;font:normal normal 21.5px/31px 'Liberation Serif', serif;color:#000;letter-spacing:0em;transform-origin:0 0;transform:scaleX(1.1535);">0.5</div>
<div class="a" id="f28" style="left:2140.0px;top:2110.6px;font:normal normal 21.5px/31px 'Liberation Serif', serif;color:#000;letter-spacing:0em;transform-origin:0 0;transform:scaleX(1.1535);">0.0</div>
<div class="a" id="f29" style="left:2140.0px;top:2187.2px;font:normal normal 21.5px/31px 'Liberation Serif', serif;color:#000;letter-spacing:0em;transform-origin:0 0;transform:scaleX(1.3072);">−0.5</div>
<div class="a" id="f30" style="left:2140.0px;top:2264.4px;font:normal normal 21.5px/31px 'Liberation Serif', serif;color:#000;letter-spacing:0em;transform-origin:0 0;transform:scaleX(1.3072);">−1.0</div>
<div class="a" id="f31" style="left:2512.0px;top:1771.4px;font:normal normal 21.5px/31px 'Liberation Serif', serif;color:#000;letter-spacing:0em;transform-origin:0 0;transform:scaleX(0.7907);">1</div>
<div class="a" id="f32" style="left:2508.0px;top:1859.0px;font:normal normal 21.5px/31px 'Liberation Serif', serif;color:#000;letter-spacing:0em;transform-origin:0 0;transform:scaleX(1.1163);">0</div>
<div class="a" id="f33" style="left:2508.0px;top:1946.2px;font:normal normal 21.5px/31px 'Liberation Serif', serif;color:#000;letter-spacing:0em;transform-origin:0 0;transform:scaleX(1.3106);">−1</div>
<div class="a" id="f34" style="left:2821.8px;top:1761.7px;font:normal normal 21.5px/31px 'Liberation Serif', serif;color:#000;letter-spacing:0em;transform-origin:0 0;transform:scaleX(1.1721);">1.5</div>
<div class="a" id="f35" style="left:2821.8px;top:1831.7px;font:normal normal 21.5px/31px 'Liberation Serif', serif;color:#000;letter-spacing:0em;transform-origin:0 0;transform:scaleX(1.1721);">1.0</div>
<div class="a" id="f36" style="left:2821.8px;top:1901.4px;font:normal normal 21.5px/31px 'Liberation Serif', serif;color:#000;letter-spacing:0em;transform-origin:0 0;transform:scaleX(1.1721);">0.5</div>
<div class="a" id="f37" style="left:2821.8px;top:1971.0px;font:normal normal 21.5px/31px 'Liberation Serif', serif;color:#000;letter-spacing:0em;transform-origin:0 0;transform:scaleX(1.1721);">0.0</div>
<div class="a" id="f38" style="left:2512.0px;top:2070.1px;font:normal normal 21.5px/31px 'Liberation Serif', serif;color:#000;letter-spacing:0em;transform-origin:0 0;transform:scaleX(0.7907);">1</div>
<div class="a" id="f39" style="left:2508.0px;top:2157.7px;font:normal normal 21.5px/31px 'Liberation Serif', serif;color:#000;letter-spacing:0em;transform-origin:0 0;transform:scaleX(1.1163);">0</div>
<div class="a" id="f40" style="left:2508.0px;top:2244.9px;font:normal normal 21.5px/31px 'Liberation Serif', serif;color:#000;letter-spacing:0em;transform-origin:0 0;transform:scaleX(1.3106);">−1</div>
<div class="a" id="f41" style="left:2821.8px;top:2060.4px;font:normal normal 21.5px/31px 'Liberation Serif', serif;color:#000;letter-spacing:0em;transform-origin:0 0;transform:scaleX(1.1721);">1.5</div>
<div class="a" id="f42" style="left:2821.8px;top:2130.4px;font:normal normal 21.5px/31px 'Liberation Serif', serif;color:#000;letter-spacing:0em;transform-origin:0 0;transform:scaleX(1.1721);">1.0</div>
<div class="a" id="f43" style="left:2821.8px;top:2200.1px;font:normal normal 21.5px/31px 'Liberation Serif', serif;color:#000;letter-spacing:0em;transform-origin:0 0;transform:scaleX(1.1721);">0.5</div>
<div class="a" id="f44" style="left:2821.8px;top:2269.7px;font:normal normal 21.5px/31px 'Liberation Serif', serif;color:#000;letter-spacing:0em;transform-origin:0 0;transform:scaleX(1.1721);">0.0</div>
<div class="a" style="left:1906.0px;top:2349.0px;font:normal normal 21.7px/31px 'Liberation Sans', sans-serif;color:#2c3e50;">Example of corruption removal for <span class="mr" style="font-size:24px">[<b><i>f</i> = 7, <i>M</i> = 0. 5</b>]</span></div>
<div class="a" style="left:3015.1px;top:493.5px;font:normal bold 56.5px/81px 'Liberation Sans', sans-serif;color:#000;">Robustness of Methodology</div>
<div class="a" style="left:3014.0px;top:601.1px;font:normal normal 34.93px/50px 'Liberation Sans', sans-serif;color:#2c3e50;">To assess the robustness of the methodology, we consider two<br>parameterised cases for varying frequency and magnitude of corruption:</div>
<div class="a" id="f45" style="left:3057.8px;top:727.4px;font:normal normal 34px/49px 'Liberation Serif', serif;color:#000;letter-spacing:0em;transform-origin:0 0;transform:scaleX(0.8627);">1.</div>
<div class="a" id="f46" style="left:3108.6px;top:727.4px;font:normal normal 34px/49px 'Liberation Serif', serif;color:#000;letter-spacing:0em;transform-origin:0 0;transform:scaleX(1.1208);"><span class="m">M</span> &nbsp;= 0.5,</div>
<div class="a" id="f47" style="left:3312.0px;top:724.4px;font:normal normal 37px/53px 'Liberation Serif', serif;color:#000;letter-spacing:0em;transform-origin:0 0;transform:scaleX(1.1672);"><span class="m">f</span></div>
<div class="a" id="f48" style="left:3357.7px;top:727.4px;font:normal normal 34px/49px 'Liberation Serif', serif;color:#000;letter-spacing:0em;transform-origin:0 0;transform:scaleX(0.9419);"><svg style="position:static;display:inline-block;width:0.62em;height:0.62em;vertical-align:-0.06em;margin:0 0.04em" viewBox="0 0 62 62"><path d="M58 5H36C16 5 5 17 5 31s11 26 31 26h22M5 31h53" fill="none" stroke="currentColor" stroke-width="5.5"/></svg> {1, 3, 5, 7, 9}</div>
<div class="a" id="f49" style="left:3057.8px;top:768.1px;font:normal normal 34px/49px 'Liberation Serif', serif;color:#000;letter-spacing:0em;transform-origin:0 0;transform:scaleX(0.8627);">2.</div>
<div class="a" id="f50" style="left:3111.0px;top:765.1px;font:normal normal 37px/53px 'Liberation Serif', serif;color:#000;letter-spacing:0em;transform-origin:0 0;transform:scaleX(1.1672);"><span class="m">f</span></div>
<div class="a" id="f51" style="left:3164.0px;top:768.1px;font:normal normal 34px/49px 'Liberation Serif', serif;color:#000;letter-spacing:0em;transform-origin:0 0;transform:scaleX(1.1183);">= 3.0,</div>
<div class="a" id="f52" style="left:3307.5px;top:768.1px;font:normal normal 34px/49px 'Liberation Serif', serif;color:#000;letter-spacing:0em;transform-origin:0 0;transform:scaleX(1.0326);"><span class="m">M</span> <svg style="position:static;display:inline-block;width:0.62em;height:0.62em;vertical-align:-0.06em;margin:0 0.04em" viewBox="0 0 62 62"><path d="M58 5H36C16 5 5 17 5 31s11 26 31 26h22M5 31h53" fill="none" stroke="currentColor" stroke-width="5.5"/></svg> {0.01, 0.1, 0.25, 0.5, 1.0</div>
<div class="a" style="left:3014.0px;top:857.4px;font:normal normal 34.93px/50px 'Liberation Sans', sans-serif;color:#2c3e50;">The relative <span style="font-size:38px;letter-spacing:0.035em"><span style="margin:0 8px 0 2px"><span class="m">ℓ</span><sup class="mr" style="font-size:62%;position:relative;top:-0.05em">2</sup></span></span> –error between the true and predicted fields is recorded:</div>
<div class="a" style="left:3015.1px;top:1419.7px;font:normal bold 56.5px/81px 'Liberation Sans', sans-serif;color:#000;">Generalisation in Time</div>
<div class="a" style="left:3014.0px;top:1519.5px;font:normal normal 34.93px/50.07px 'Liberation Sans', sans-serif;color:#2c3e50;">Data consisted of 1024 sequential pairs of time-steps for training the model.<br>This represents less than 2% of the simulation history shown below. We<br>can apply the corruption removal to assess how well the flow-statistics can<br>be recovered – in this case, examining the kinetic energy.</div>
<div class="a" style="left:3015.1px;top:2357.4px;font:normal bold 56.5px/81px 'Liberation Sans', sans-serif;color:#000;">Conclusions</div>
<div class="a" style="left:3015.0px;top:2472.5px;font:normal normal 34.93px/50px 'Liberation Sans', sans-serif;color:#2c3e50;">1.</div>
<div class="a" style="left:3074.0px;top:2472.7px;font:normal normal 34.93px/49.5px 'Liberation Sans', sans-serif;color:#2c3e50;">Provided a methodology to recover underlying solutions of dynamical<br>systems from corrupted data using a physics-informed approach.</div>
<div class="a" style="left:3015.0px;top:2571.5px;font:normal normal 34.93px/50px 'Liberation Sans', sans-serif;color:#2c3e50;">2.</div>
<div class="a" style="left:3074.0px;top:2571.5px;font:normal normal 34.93px/50px 'Liberation Sans', sans-serif;color:#2c3e50;">Demonstrated robustness to multi-modality and magnitude of corruption.</div>
<div class="a" style="left:3015.0px;top:2640.2px;font:normal normal 34.93px/50px 'Liberation Sans', sans-serif;color:#2c3e50;"><b>Future Considerations:</b> explore time-varying corruption.</div>
<div class="a" style="left:3012.7px;top:2730.5px;font:normal normal 34.5px/49px 'Liberation Sans', sans-serif;color:#000;">References</div>
<div class="a" style="left:3012.5px;top:2775.0px;font:normal normal 23.3px/33px 'Liberation Sans', sans-serif;color:#595959;word-spacing:1.36px;">D. Kelshaw, and L. Magri, “Physics-Informed Convolutional Neural Networks for Corruption Removal on</div>
<div class="a" style="left:3012.5px;top:2803.0px;font:normal normal 23.3px/33px 'Liberation Sans', sans-serif;color:#595959;">Dynamical Systems,” in <i>NeurIPS 2022 Workshop on Machine Learning and the Physical Sciences, 2022</i></div>
<div class="a" style="left:2602.4px;top:2313.4px;font:normal normal 21.7px/31px 'Liberation Sans', sans-serif;color:#2c3e50;width:2000px;text-align:center;">Kinetic energy prediction across the simulation domain.</div>
<div class="a" style="left:3100.0px;top:1290.6px;font:normal normal 21.7px/31px 'Liberation Sans', sans-serif;color:#2c3e50;">Mean results from parameterised study with five repeats – standard deviation not exceeding <span class="mr" style="font-size:22px;letter-spacing:1.6px">8.168×10<sup style="font-size:65%;position:relative;top:-0.1em">−4</sup></span></div>
<svg style="left:0;top:0" width="4320" height="1400"><rect x="3269.1" y="1060.7" width="150.9" height="159.3" fill="#1f77b4"/><rect x="3457.9" y="1074.8" width="151.2" height="145.2" fill="#1f77b4"/><rect x="3647.2" y="1095.3" width="150.8" height="124.7" fill="#1f77b4"/><rect x="3836.0" y="1107.6" width="150.8" height="112.4" fill="#1f77b4"/><rect x="4024.7" y="1119.2" width="151.3" height="100.8" fill="#1f77b4"/><rect x="3287.3" y="1102.0" width="113.6" height="118.0" fill="#ff7f0e"/><rect x="3476.4" y="1102.0" width="113.6" height="118.0" fill="#ff7f0e"/><rect x="3665.9" y="1143.7" width="113.0" height="76.3" fill="#ff7f0e"/><rect x="3854.6" y="1177.5" width="113.6" height="42.5" fill="#ff7f0e"/><rect x="4043.3" y="1183.9" width="113.6" height="36.1" fill="#ff7f0e"/><line x1="3136.7" y1="1041.3" x2="4194.7" y2="1041.3" stroke="#dcdcdc" stroke-opacity="0.6" stroke-width="2.2"/><line x1="3136.7" y1="1086.1" x2="4194.7" y2="1086.1" stroke="#dcdcdc" stroke-opacity="0.6" stroke-width="2.2"/><line x1="3136.7" y1="1130.9" x2="4194.7" y2="1130.9" stroke="#dcdcdc" stroke-opacity="0.6" stroke-width="2.2"/><line x1="3136.7" y1="1175.7" x2="4194.7" y2="1175.7" stroke="#dcdcdc" stroke-opacity="0.6" stroke-width="2.2"/><line x1="3344.3" y1="996.5" x2="3344.3" y2="1220.0" stroke="#dcdcdc" stroke-opacity="0.6" stroke-width="2.2"/><line x1="3533.0" y1="996.5" x2="3533.0" y2="1220.0" stroke="#dcdcdc" stroke-opacity="0.6" stroke-width="2.2"/><line x1="3722.4" y1="996.5" x2="3722.4" y2="1220.0" stroke="#dcdcdc" stroke-opacity="0.6" stroke-width="2.2"/><line x1="3911.0" y1="996.5" x2="3911.0" y2="1220.0" stroke="#dcdcdc" stroke-opacity="0.6" stroke-width="2.2"/><line x1="4100.4" y1="996.5" x2="4100.4" y2="1220.0" stroke="#dcdcdc" stroke-opacity="0.6" stroke-width="2.2"/><rect x="3136.7" y="996.5" width="1058.0" height="223.5" fill="none" stroke="#000" stroke-width="2.7"/><line x1="3125.1" y1="996.5" x2="3136.7" y2="996.5" stroke="#000" stroke-width="2.7"/><line x1="3125.1" y1="1041.3" x2="3136.7" y2="1041.3" stroke="#000" stroke-width="2.7"/><line x1="3125.1" y1="1086.1" x2="3136.7" y2="1086.1" stroke="#000" stroke-width="2.7"/><line x1="3125.1" y1="1130.9" x2="3136.7" y2="1130.9" stroke="#000" stroke-width="2.7"/><line x1="3125.1" y1="1175.7" x2="3136.7" y2="1175.7" stroke="#000" stroke-width="2.7"/><line x1="3125.1" y1="1220.0" x2="3136.7" y2="1220.0" stroke="#000" stroke-width="2.7"/><line x1="3344.3" y1="984.9" x2="3344.3" y2="996.5" stroke="#000" stroke-width="2.7"/><line x1="3344.3" y1="1220.0" x2="3344.3" y2="1231.6" stroke="#000" stroke-width="2.7"/><line x1="3533.0" y1="984.9" x2="3533.0" y2="996.5" stroke="#000" stroke-width="2.7"/><line x1="3533.0" y1="1220.0" x2="3533.0" y2="1231.6" stroke="#000" stroke-width="2.7"/><line x1="3722.4" y1="984.9" x2="3722.4" y2="996.5" stroke="#000" stroke-width="2.7"/><line x1="3722.4" y1="1220.0" x2="3722.4" y2="1231.6" stroke="#000" stroke-width="2.7"/><line x1="3911.0" y1="984.9" x2="3911.0" y2="996.5" stroke="#000" stroke-width="2.7"/><line x1="3911.0" y1="1220.0" x2="3911.0" y2="1231.6" stroke="#000" stroke-width="2.7"/><line x1="4100.4" y1="984.9" x2="4100.4" y2="996.5" stroke="#000" stroke-width="2.7"/><line x1="4100.4" y1="1220.0" x2="4100.4" y2="1231.6" stroke="#000" stroke-width="2.7"/><rect x="4009" y="1004.5" width="177" height="86.8" fill="#fff" fill-opacity="0.85" stroke="#cfcfcf" stroke-width="1.3"/><rect x="4018.9" y="1017.9" width="41.9" height="14.5" fill="#1f77b4"/><rect x="4018.9" y="1058" width="41.9" height="14.6" fill="#ff7f0e"/></svg>
<div class="a" id="f53" style="left:3055.2px;top:983.5px;font:normal normal 18.5px/26px 'Liberation Serif', serif;color:#000;letter-spacing:0em;transform-origin:0 0;transform:scaleX(1.3550);">0.030</div>
<div class="a" id="f54" style="left:3055.2px;top:1028.3px;font:normal normal 18.5px/26px 'Liberation Serif', serif;color:#000;letter-spacing:0em;transform-origin:0 0;transform:scaleX(1.3550);">0.025</div>
<div class="a" id="f55" style="left:3055.2px;top:1073.1px;font:normal normal 18.5px/26px 'Liberation Serif', serif;color:#000;letter-spacing:0em;transform-origin:0 0;transform:scaleX(1.3550);">0.020</div>
<div class="a" id="f56" style="left:3055.2px;top:1117.9px;font:normal normal 18.5px/26px 'Liberation Serif', serif;color:#000;letter-spacing:0em;transform-origin:0 0;transform:scaleX(1.3550);">0.015</div>
<div class="a" id="f57" style="left:3055.2px;top:1162.7px;font:normal normal 18.5px/26px 'Liberation Serif', serif;color:#000;letter-spacing:0em;transform-origin:0 0;transform:scaleX(1.3550);">0.010</div>
<div class="a" id="f58" style="left:3055.2px;top:1207.0px;font:normal normal 18.5px/26px 'Liberation Serif', serif;color:#000;letter-spacing:0em;transform-origin:0 0;transform:scaleX(1.3550);">0.005</div>
<div class="a" id="f59" style="left:3322.9px;top:948.8px;font:normal normal 18.5px/26px 'Liberation Serif', serif;color:#000;letter-spacing:0em;transform-origin:0 0;transform:scaleX(1.3220);">0.01</div>
<div class="a" id="f60" style="left:3517.8px;top:948.8px;font:normal normal 18.5px/26px 'Liberation Serif', serif;color:#000;letter-spacing:0em;transform-origin:0 0;transform:scaleX(1.3146);">0.1</div>
<div class="a" id="f61" style="left:3700.7px;top:948.8px;font:normal normal 18.5px/26px 'Liberation Serif', serif;color:#000;letter-spacing:0em;transform-origin:0 0;transform:scaleX(1.3436);">0.25</div>
<div class="a" id="f62" style="left:3895.8px;top:948.8px;font:normal normal 18.5px/26px 'Liberation Serif', serif;color:#000;letter-spacing:0em;transform-origin:0 0;transform:scaleX(1.3146);">0.5</div>
<div class="a" id="f63" style="left:4085.2px;top:948.8px;font:normal normal 18.5px/26px 'Liberation Serif', serif;color:#000;letter-spacing:0em;transform-origin:0 0;transform:scaleX(1.3146);">1.0</div>
<div class="a" id="f64" style="left:3339.1px;top:1239.3px;font:normal normal 18.5px/26px 'Liberation Serif', serif;color:#000;letter-spacing:0em;transform-origin:0 0;transform:scaleX(1.1351);">1</div>
<div class="a" id="f65" style="left:3527.8px;top:1239.3px;font:normal normal 18.5px/26px 'Liberation Serif', serif;color:#000;letter-spacing:0em;transform-origin:0 0;transform:scaleX(1.1351);">3</div>
<div class="a" id="f66" style="left:3717.2px;top:1239.3px;font:normal normal 18.5px/26px 'Liberation Serif', serif;color:#000;letter-spacing:0em;transform-origin:0 0;transform:scaleX(1.1351);">5</div>
<div class="a" id="f67" style="left:3905.8px;top:1239.3px;font:normal normal 18.5px/26px 'Liberation Serif', serif;color:#000;letter-spacing:0em;transform-origin:0 0;transform:scaleX(1.1351);">7</div>
<div class="a" id="f68" style="left:4095.1px;top:1239.3px;font:normal normal 18.5px/26px 'Liberation Serif', serif;color:#000;letter-spacing:0em;transform-origin:0 0;transform:scaleX(1.1351);">9</div>
<div class="a" id="f69" style="left:3155.8px;top:944.7px;font:normal normal 23px/33px 'Liberation Serif', serif;color:#000;letter-spacing:0em;transform-origin:0 0;transform:scaleX(1.6289);"><span class="m">M</span><span style="display:inline-block;width:1px;height:1.25em;background:#000;vertical-align:-0.32em;margin:0 1px 0 2px"></span><sub class="m" style="font-size:82%;vertical-align:-0.36em">f<span class="mr">=3</span></sub></div>
<div class="a" id="f70" style="left:3147.7px;top:1232.4px;font:normal normal 23px/33px 'Liberation Serif', serif;color:#000;letter-spacing:0em;transform-origin:0 0;transform:scaleX(1.5913);"><span class="m">f</span><span style="display:inline-block;width:1px;height:1.25em;background:#000;vertical-align:-0.32em;margin:0 1px 0 2px"></span><sub class="m" style="font-size:82%;vertical-align:-0.36em">M<span class="mr">=0.5</span></sub></div>
<div class="a" id="f71" style="left:4078.3px;top:1008.7px;font:normal normal 23px/33px 'Liberation Serif', serif;color:#000;letter-spacing:0em;transform-origin:0 0;transform:scaleX(1.6495);"><span class="m">M</span><span style="display:inline-block;width:1px;height:1.25em;background:#000;vertical-align:-0.32em;margin:0 1px 0 2px"></span><sub class="m" style="font-size:82%;vertical-align:-0.36em">f<span class="mr">=3</span></sub></div>
<div class="a" id="f72" style="left:4079.5px;top:1048.2px;font:normal normal 23px/33px 'Liberation Serif', serif;color:#000;letter-spacing:0em;transform-origin:0 0;transform:scaleX(1.6244);"><span class="m">f</span><span style="display:inline-block;width:1px;height:1.25em;background:#000;vertical-align:-0.32em;margin:0 1px 0 2px"></span><sub class="m" style="font-size:82%;vertical-align:-0.36em">M<span class="mr">=0.5</span></sub></div>
<div class="a" style="left:2914.7px;top:1093.8px;width:200px;height:28px;line-height:28px;text-align:center;font-size:21.5px;color:#000;transform:rotate(-90deg)">Relative <span class="m">ℓ</span><sup style="font-size:70%">2</sup>-error</div>
<svg style="left:0;top:0" width="4320" height="2400"><path d="M3040.3,2180.3C3041.7,2179.8 3045.8,2178.2 3048.8,2177.3C3051.7,2176.4 3055.0,2175.0 3058.0,2174.7C3061.1,2174.4 3064.2,2174.8 3067.3,2175.4C3070.4,2176.1 3072.8,2177.7 3076.5,2178.4C3080.2,2179.1 3085.2,2179.2 3089.5,2179.5C3093.8,2179.8 3098.1,2180.3 3102.4,2180.3C3106.8,2180.3 3112.0,2178.7 3115.4,2179.5C3118.8,2180.3 3120.3,2182.8 3122.8,2185.1C3125.2,2187.3 3127.7,2192.2 3130.2,2193.2C3132.6,2194.2 3135.1,2192.9 3137.6,2191.4C3140.0,2189.8 3143.0,2185.7 3145.0,2184.0C3147.0,2182.2 3147.9,2180.8 3149.4,2181.0C3151.0,2181.2 3152.5,2183.6 3154.2,2185.1C3156.0,2186.5 3157.3,2188.3 3159.8,2189.5C3162.2,2190.7 3165.3,2192.4 3169.0,2192.1C3172.7,2191.8 3177.4,2188.4 3182.0,2187.7C3186.6,2186.9 3191.8,2187.0 3196.8,2187.7C3201.7,2188.3 3206.6,2190.2 3211.6,2191.4C3216.5,2192.5 3221.4,2193.6 3226.4,2194.3C3231.3,2195.0 3236.9,2195.7 3241.2,2195.8C3245.5,2195.9 3248.6,2195.7 3252.3,2195.0C3256.0,2194.4 3259.7,2193.6 3263.4,2192.1C3267.1,2190.5 3270.8,2187.9 3274.5,2185.8C3278.2,2183.7 3282.2,2181.1 3285.6,2179.5C3289.0,2178.0 3291.7,2176.6 3294.8,2176.6C3297.9,2176.5 3300.7,2177.7 3304.1,2179.1C3307.5,2180.6 3310.8,2183.0 3315.2,2185.1C3319.5,2187.1 3325.0,2190.0 3330.0,2191.4C3334.9,2192.7 3338.6,2193.0 3344.8,2193.2C3350.9,2193.4 3359.6,2193.0 3367.0,2192.8C3374.4,2192.6 3381.8,2192.3 3389.2,2192.1C3396.6,2191.8 3405.2,2191.9 3411.4,2191.4C3417.5,2190.8 3421.2,2190.3 3426.1,2188.8C3431.1,2187.2 3436.6,2183.4 3440.9,2182.1C3445.3,2180.8 3447.7,2180.7 3452.0,2181.0C3456.4,2181.3 3461.3,2183.0 3466.8,2184.0C3472.4,2184.9 3480.4,2185.7 3485.3,2186.5C3490.3,2187.3 3492.7,2188.0 3496.4,2188.8C3500.1,2189.6 3503.8,2191.4 3507.5,2191.4C3511.2,2191.4 3514.3,2189.8 3518.6,2188.8C3523.0,2187.7 3528.5,2185.9 3533.4,2185.1C3538.4,2184.3 3543.3,2183.5 3548.2,2184.0C3553.2,2184.4 3558.1,2186.1 3563.0,2187.7C3568.0,2189.2 3573.5,2192.0 3577.8,2193.2C3582.1,2194.4 3585.5,2194.7 3588.9,2195.0C3592.3,2195.4 3596.3,2194.9 3598.2,2195.0C3600.0,2195.2 3597.5,2197.6 3600.0,2195.8C3602.5,2193.9 3608.6,2186.5 3612.9,2184.0C3617.3,2181.4 3621.9,2181.6 3625.9,2180.3C3629.9,2178.9 3633.6,2176.9 3637.0,2175.8C3640.4,2174.7 3642.9,2173.3 3646.2,2173.6C3649.6,2173.9 3653.3,2175.9 3657.3,2177.7C3661.4,2179.4 3666.6,2183.8 3670.3,2184.0C3674.0,2184.1 3676.5,2182.1 3679.5,2178.4C3682.6,2174.7 3685.9,2168.2 3688.8,2161.8C3691.7,2155.3 3694.5,2145.4 3696.9,2139.6C3699.4,2133.7 3700.9,2129.4 3703.6,2126.6C3706.2,2123.8 3709.8,2124.8 3712.8,2122.9C3715.9,2121.1 3719.6,2115.2 3722.1,2115.5C3724.6,2115.8 3725.5,2120.7 3727.6,2124.8C3729.8,2128.8 3732.6,2136.8 3735.0,2139.6C3737.5,2142.3 3740.0,2142.9 3742.4,2141.4C3744.9,2139.9 3747.1,2137.1 3749.8,2130.3C3752.6,2123.5 3756.5,2107.8 3759.1,2100.7C3761.7,2093.6 3763.8,2090.2 3765.4,2087.8C3766.9,2085.3 3766.6,2084.4 3768.3,2085.9C3770.1,2087.5 3773.0,2093.7 3775.7,2097.0C3778.5,2100.3 3781.3,2103.8 3785.0,2105.5C3788.7,2107.2 3794.5,2105.4 3797.9,2107.4C3801.3,2109.3 3802.9,2111.4 3805.3,2117.4C3807.8,2123.3 3810.3,2134.3 3812.7,2143.3C3815.2,2152.2 3817.8,2164.3 3820.1,2171.0C3822.4,2177.7 3824.4,2182.0 3826.4,2183.2C3828.4,2184.4 3830.3,2180.3 3832.3,2178.4C3834.4,2176.6 3836.7,2171.8 3838.6,2172.1C3840.6,2172.4 3842.1,2177.2 3844.2,2180.3C3846.2,2183.3 3848.7,2188.1 3850.8,2190.6C3853.0,2193.1 3854.0,2195.9 3857.1,2195.0C3860.2,2194.2 3865.8,2186.5 3869.3,2185.8C3872.8,2185.1 3875.3,2190.6 3878.2,2190.6C3881.1,2190.6 3884.4,2187.1 3886.7,2185.8C3889.1,2184.5 3890.5,2182.2 3892.3,2182.8C3894.0,2183.5 3894.9,2185.1 3897.1,2189.5C3899.2,2193.9 3902.0,2207.0 3905.2,2209.1C3908.4,2211.3 3913.5,2203.1 3916.3,2202.4C3919.1,2201.8 3919.8,2203.7 3921.9,2205.4C3923.9,2207.1 3925.4,2211.0 3928.5,2212.8C3931.6,2214.6 3936.5,2215.9 3940.4,2216.1C3944.2,2216.4 3947.1,2215.3 3951.5,2214.3C3955.8,2213.2 3961.0,2212.1 3966.3,2209.8C3971.5,2207.6 3977.7,2202.9 3982.9,2200.6C3988.1,2198.3 3993.4,2197.9 3997.7,2195.8C4002.0,2193.6 4005.7,2189.4 4008.8,2187.7C4011.9,2185.9 4013.4,2184.9 4016.2,2185.1C4019.0,2185.2 4022.1,2187.6 4025.5,2188.8C4028.8,2189.9 4032.9,2192.2 4036.6,2192.1C4040.3,2192.0 4044.0,2191.6 4047.7,2188.4C4051.4,2185.2 4055.4,2178.8 4058.7,2172.9C4062.1,2166.9 4064.9,2158.1 4068.0,2152.5C4071.1,2147.0 4074.8,2139.9 4077.2,2139.6C4079.7,2139.2 4080.8,2145.1 4082.8,2150.7C4084.8,2156.2 4086.9,2167.5 4089.1,2172.9C4091.2,2178.2 4092.8,2181.5 4095.7,2182.8C4098.7,2184.2 4103.1,2181.1 4106.8,2181.0C4110.5,2180.9 4114.9,2182.7 4117.9,2182.1C4121.0,2181.5 4122.9,2179.2 4125.3,2177.7C4127.8,2176.1 4130.6,2172.7 4132.7,2172.9C4134.9,2173.0 4136.4,2174.4 4138.3,2178.4C4140.1,2182.4 4142.1,2191.8 4143.8,2196.9C4145.6,2202.0 4146.8,2207.3 4148.6,2209.1C4150.5,2211.0 4152.7,2207.7 4154.9,2208.0C4157.2,2208.3 4159.3,2210.2 4162.3,2211.0C4165.4,2211.8 4169.7,2212.8 4173.4,2212.8C4177.1,2212.8 4180.8,2211.5 4184.5,2211.0C4188.2,2210.5 4192.6,2209.9 4195.6,2209.8C4198.7,2209.8 4201.8,2210.5 4203.0,2210.6" fill="none" stroke="#17becf" stroke-width="3.4"/><path d="M3040.3,1891.7C3041.7,1891.1 3045.6,1888.9 3048.8,1888.0C3051.9,1887.1 3055.8,1886.3 3059.1,1886.1C3062.5,1886.0 3065.9,1886.6 3069.1,1887.2C3072.3,1887.9 3075.0,1888.9 3078.4,1889.8C3081.8,1890.8 3085.5,1891.6 3089.5,1892.8C3093.5,1894.0 3097.8,1895.7 3102.4,1897.2C3107.1,1898.8 3113.5,1899.9 3117.2,1902.0C3120.9,1904.2 3122.5,1907.7 3124.6,1910.2C3126.8,1912.6 3128.1,1915.7 3130.2,1916.8C3132.2,1918.0 3134.7,1917.6 3136.8,1916.8C3139.0,1916.0 3141.2,1913.4 3143.1,1912.0C3145.1,1910.6 3147.1,1908.3 3148.7,1908.3C3150.2,1908.3 3150.8,1910.2 3152.4,1912.0C3153.9,1913.9 3155.2,1916.8 3157.9,1919.4C3160.7,1922.1 3165.3,1926.2 3169.0,1927.9C3172.7,1929.7 3176.4,1928.9 3180.1,1929.8C3183.8,1930.7 3187.8,1932.3 3191.2,1933.1C3194.6,1934.0 3197.1,1934.0 3200.5,1935.0C3203.9,1936.0 3207.6,1937.7 3211.6,1939.0C3215.6,1940.3 3220.5,1941.8 3224.5,1942.7C3228.5,1943.7 3232.2,1944.1 3235.6,1944.6C3239.0,1945.1 3241.5,1945.9 3244.9,1945.7C3248.3,1945.5 3252.3,1944.8 3256.0,1943.5C3259.7,1942.2 3263.4,1940.2 3267.1,1937.9C3270.8,1935.6 3274.5,1932.3 3278.2,1929.8C3281.9,1927.3 3286.2,1924.4 3289.3,1923.1C3292.3,1921.8 3293.9,1921.8 3296.7,1922.0C3299.4,1922.2 3302.8,1922.9 3305.9,1924.2C3309.0,1925.5 3311.2,1927.2 3315.2,1929.8C3319.2,1932.4 3325.0,1936.7 3330.0,1939.8C3334.9,1942.9 3339.8,1945.5 3344.8,1948.3C3349.7,1951.1 3354.6,1953.5 3359.6,1956.4C3364.5,1959.3 3370.0,1963.4 3374.4,1965.7C3378.7,1968.0 3382.1,1969.2 3385.5,1970.1C3388.8,1971.0 3391.0,1971.8 3394.7,1971.2C3398.4,1970.6 3403.6,1968.6 3407.7,1966.4C3411.7,1964.3 3414.4,1961.4 3418.7,1958.3C3423.1,1955.2 3428.6,1951.3 3433.5,1947.9C3438.5,1944.5 3444.3,1940.0 3448.3,1937.9C3452.4,1935.8 3453.3,1935.8 3457.6,1935.3C3461.9,1934.9 3469.0,1935.0 3474.2,1935.3C3479.5,1935.6 3484.7,1936.6 3489.0,1937.2C3493.4,1937.7 3497.1,1938.1 3500.1,1938.7C3503.2,1939.2 3504.8,1940.6 3507.5,1940.5C3510.3,1940.4 3513.7,1938.7 3516.8,1937.9C3519.9,1937.2 3522.6,1936.1 3526.0,1936.1C3529.4,1936.1 3533.4,1936.8 3537.1,1937.9C3540.8,1939.0 3543.9,1939.3 3548.2,1942.7C3552.6,1946.1 3558.7,1954.6 3563.0,1958.3C3567.3,1961.9 3571.2,1963.2 3574.1,1964.6C3577.1,1965.9 3578.3,1966.4 3580.8,1966.4C3583.3,1966.4 3586.0,1965.0 3588.9,1964.6C3591.8,1964.1 3596.3,1964.1 3598.2,1963.8C3600.0,1963.6 3597.5,1965.6 3600.0,1963.1C3602.5,1960.6 3608.6,1952.9 3612.9,1949.0C3617.3,1945.1 3621.9,1942.6 3625.9,1939.8C3629.9,1937.0 3633.0,1934.0 3637.0,1932.4C3641.0,1930.7 3645.0,1929.7 3649.9,1929.8C3654.9,1929.9 3661.7,1934.2 3666.6,1933.1C3671.5,1932.0 3675.8,1928.2 3679.5,1923.1C3683.2,1918.1 3685.9,1910.5 3688.8,1902.8C3691.7,1895.1 3694.5,1883.7 3696.9,1876.9C3699.4,1870.1 3700.9,1865.7 3703.6,1862.1C3706.2,1858.5 3709.8,1857.9 3712.8,1855.4C3715.9,1853.0 3719.6,1847.7 3722.1,1847.3C3724.6,1846.9 3725.5,1849.6 3727.6,1852.8C3729.8,1856.1 3732.4,1864.1 3735.0,1866.9C3737.7,1869.7 3740.9,1870.9 3743.5,1869.5C3746.2,1868.1 3748.4,1863.9 3750.9,1858.4C3753.5,1852.8 3756.7,1841.4 3759.1,1836.2C3761.5,1830.9 3763.5,1827.9 3765.4,1826.9C3767.2,1826.0 3768.0,1827.1 3770.2,1830.6C3772.3,1834.2 3775.2,1844.7 3778.3,1848.4C3781.4,1852.1 3785.1,1851.7 3788.7,1852.8C3792.3,1854.0 3796.7,1853.3 3799.8,1855.4C3802.9,1857.6 3804.7,1860.4 3807.2,1865.8C3809.6,1871.2 3812.2,1880.3 3814.6,1888.0C3816.9,1895.7 3819.3,1906.5 3821.2,1912.0C3823.2,1917.6 3824.6,1920.7 3826.4,1921.3C3828.3,1921.9 3830.3,1917.3 3832.3,1915.7C3834.4,1914.2 3836.7,1910.5 3838.6,1912.0C3840.6,1913.6 3842.1,1920.4 3844.2,1925.0C3846.2,1929.6 3848.7,1936.3 3850.8,1939.8C3853.0,1943.3 3854.2,1945.8 3857.1,1946.1C3860.0,1946.4 3864.7,1941.6 3868.2,1941.6C3871.7,1941.6 3875.1,1946.4 3878.2,1946.1C3881.3,1945.8 3884.4,1941.6 3886.7,1939.8C3889.1,1938.0 3890.4,1934.4 3892.3,1935.3C3894.1,1936.3 3895.7,1941.5 3897.8,1945.3C3900.0,1949.2 3902.1,1957.5 3905.2,1958.3C3908.3,1959.1 3913.5,1950.9 3916.3,1950.1C3919.1,1949.4 3919.8,1952.0 3921.9,1953.8C3923.9,1955.7 3926.4,1959.6 3928.5,1961.2C3930.7,1962.9 3932.5,1962.3 3934.8,1963.8C3937.1,1965.4 3939.1,1968.8 3942.2,1970.5C3945.3,1972.1 3948.7,1973.3 3953.3,1973.8C3957.9,1974.4 3964.4,1974.7 3970.0,1973.8C3975.5,1972.9 3981.7,1969.4 3986.6,1968.3C3991.5,1967.1 3995.9,1967.8 3999.6,1966.8C4003.3,1965.7 4005.7,1963.7 4008.8,1962.0C4011.9,1960.2 4015.3,1956.5 4018.1,1956.4C4020.8,1956.3 4022.7,1959.3 4025.5,1961.2C4028.2,1963.1 4031.3,1966.8 4034.7,1967.9C4038.1,1968.9 4042.4,1969.4 4045.8,1967.5C4049.2,1965.6 4052.0,1961.4 4055.0,1956.4C4058.1,1951.5 4061.5,1944.4 4064.3,1937.9C4067.1,1931.5 4069.4,1922.7 4071.7,1917.6C4074.0,1912.5 4076.1,1907.2 4078.0,1907.2C4079.8,1907.2 4081.1,1911.5 4082.8,1917.6C4084.5,1923.6 4086.5,1936.7 4088.3,1943.5C4090.2,1950.3 4092.0,1955.5 4093.9,1958.3C4095.7,1961.1 4097.0,1960.4 4099.4,1960.1C4101.9,1959.8 4105.3,1957.8 4108.7,1956.4C4112.1,1955.0 4116.7,1953.5 4119.8,1951.6C4122.9,1949.8 4125.0,1947.0 4127.2,1945.3C4129.4,1943.7 4130.9,1941.0 4132.7,1941.6C4134.6,1942.2 4136.6,1945.0 4138.3,1949.0C4140.0,1953.0 4141.6,1960.1 4143.1,1965.7C4144.6,1971.2 4146.2,1979.1 4147.5,1982.3C4148.9,1985.6 4149.8,1984.7 4151.2,1985.3C4152.7,1985.9 4154.2,1985.1 4156.0,1986.0C4157.9,1986.9 4159.4,1989.1 4162.3,1990.8C4165.2,1992.6 4169.7,1995.2 4173.4,1996.4C4177.1,1997.6 4180.8,1997.7 4184.5,1997.9C4188.2,1998.0 4192.6,1997.1 4195.6,1997.1C4198.7,1997.2 4201.8,1998.0 4203.0,1998.2" fill="none" stroke="#000" stroke-width="3.4" stroke-linejoin="round"/><path d="M3040.3,2180.3C3041.7,2179.8 3045.8,2178.2 3048.8,2177.3C3051.7,2176.4 3055.0,2175.0 3058.0,2174.7C3061.1,2174.4 3064.2,2174.8 3067.3,2175.4C3070.4,2176.1 3072.8,2177.7 3076.5,2178.4C3080.2,2179.1 3085.2,2179.2 3089.5,2179.5C3093.8,2179.8 3098.1,2180.3 3102.4,2180.3C3106.8,2180.3 3112.0,2178.7 3115.4,2179.5C3118.8,2180.3 3120.3,2182.8 3122.8,2185.1C3125.2,2187.3 3127.7,2192.2 3130.2,2193.2C3132.6,2194.2 3135.1,2192.9 3137.6,2191.4C3140.0,2189.8 3143.0,2185.7 3145.0,2184.0C3147.0,2182.2 3147.9,2180.8 3149.4,2181.0C3151.0,2181.2 3152.5,2183.6 3154.2,2185.1C3156.0,2186.5 3157.3,2188.3 3159.8,2189.5C3162.2,2190.7 3165.3,2192.4 3169.0,2192.1C3172.7,2191.8 3177.4,2188.4 3182.0,2187.7C3186.6,2186.9 3191.8,2187.0 3196.8,2187.7C3201.7,2188.3 3206.6,2190.2 3211.6,2191.4C3216.5,2192.5 3221.4,2193.6 3226.4,2194.3C3231.3,2195.0 3236.9,2195.7 3241.2,2195.8C3245.5,2195.9 3248.6,2195.7 3252.3,2195.0C3256.0,2194.4 3259.7,2193.6 3263.4,2192.1C3267.1,2190.5 3270.8,2187.9 3274.5,2185.8C3278.2,2183.7 3282.2,2181.1 3285.6,2179.5C3289.0,2178.0 3291.7,2176.6 3294.8,2176.6C3297.9,2176.5 3300.7,2177.7 3304.1,2179.1C3307.5,2180.6 3310.8,2183.0 3315.2,2185.1C3319.5,2187.1 3325.0,2190.0 3330.0,2191.4C3334.9,2192.7 3338.6,2193.0 3344.8,2193.2C3350.9,2193.4 3359.6,2193.0 3367.0,2192.8C3374.4,2192.6 3381.8,2192.3 3389.2,2192.1C3396.6,2191.8 3405.2,2191.9 3411.4,2191.4C3417.5,2190.8 3421.2,2190.3 3426.1,2188.8C3431.1,2187.2 3436.6,2183.4 3440.9,2182.1C3445.3,2180.8 3447.7,2180.7 3452.0,2181.0C3456.4,2181.3 3461.3,2183.0 3466.8,2184.0C3472.4,2184.9 3480.4,2185.7 3485.3,2186.5C3490.3,2187.3 3492.7,2188.0 3496.4,2188.8C3500.1,2189.6 3503.8,2191.4 3507.5,2191.4C3511.2,2191.4 3514.3,2189.8 3518.6,2188.8C3523.0,2187.7 3528.5,2185.9 3533.4,2185.1C3538.4,2184.3 3543.3,2183.5 3548.2,2184.0C3553.2,2184.4 3558.1,2186.1 3563.0,2187.7C3568.0,2189.2 3573.5,2192.0 3577.8,2193.2C3582.1,2194.4 3585.5,2194.7 3588.9,2195.0C3592.3,2195.4 3596.3,2194.9 3598.2,2195.0C3600.0,2195.2 3597.5,2197.6 3600.0,2195.8C3602.5,2193.9 3608.6,2186.5 3612.9,2184.0C3617.3,2181.4 3621.9,2181.6 3625.9,2180.3C3629.9,2178.9 3633.6,2176.9 3637.0,2175.8C3640.4,2174.7 3642.9,2173.3 3646.2,2173.6C3649.6,2173.9 3653.3,2175.9 3657.3,2177.7C3661.4,2179.4 3666.6,2183.8 3670.3,2184.0C3674.0,2184.1 3676.5,2182.1 3679.5,2178.4C3682.6,2174.7 3685.9,2168.2 3688.8,2161.8C3691.7,2155.3 3694.5,2145.4 3696.9,2139.6C3699.4,2133.7 3700.9,2129.4 3703.6,2126.6C3706.2,2123.8 3709.8,2124.8 3712.8,2122.9C3715.9,2121.1 3719.6,2115.2 3722.1,2115.5C3724.6,2115.8 3725.5,2120.7 3727.6,2124.8C3729.8,2128.8 3732.6,2136.8 3735.0,2139.6C3737.5,2142.3 3740.0,2142.9 3742.4,2141.4C3744.9,2139.9 3747.1,2137.1 3749.8,2130.3C3752.6,2123.5 3756.5,2107.8 3759.1,2100.7C3761.7,2093.6 3763.8,2090.2 3765.4,2087.8C3766.9,2085.3 3766.6,2084.4 3768.3,2085.9C3770.1,2087.5 3773.0,2093.7 3775.7,2097.0C3778.5,2100.3 3781.3,2103.8 3785.0,2105.5C3788.7,2107.2 3794.5,2105.4 3797.9,2107.4C3801.3,2109.3 3802.9,2111.4 3805.3,2117.4C3807.8,2123.3 3810.3,2134.3 3812.7,2143.3C3815.2,2152.2 3817.8,2164.3 3820.1,2171.0C3822.4,2177.7 3824.4,2182.0 3826.4,2183.2C3828.4,2184.4 3830.3,2180.3 3832.3,2178.4C3834.4,2176.6 3836.7,2171.8 3838.6,2172.1C3840.6,2172.4 3842.1,2177.2 3844.2,2180.3C3846.2,2183.3 3848.7,2188.1 3850.8,2190.6C3853.0,2193.1 3854.0,2195.9 3857.1,2195.0C3860.2,2194.2 3865.8,2186.5 3869.3,2185.8C3872.8,2185.1 3875.3,2190.6 3878.2,2190.6C3881.1,2190.6 3884.4,2187.1 3886.7,2185.8C3889.1,2184.5 3890.5,2182.2 3892.3,2182.8C3894.0,2183.5 3894.9,2185.1 3897.1,2189.5C3899.2,2193.9 3902.0,2207.0 3905.2,2209.1C3908.4,2211.3 3913.5,2203.1 3916.3,2202.4C3919.1,2201.8 3919.8,2203.7 3921.9,2205.4C3923.9,2207.1 3925.4,2211.0 3928.5,2212.8C3931.6,2214.6 3936.5,2215.9 3940.4,2216.1C3944.2,2216.4 3947.1,2215.3 3951.5,2214.3C3955.8,2213.2 3961.0,2212.1 3966.3,2209.8C3971.5,2207.6 3977.7,2202.9 3982.9,2200.6C3988.1,2198.3 3993.4,2197.9 3997.7,2195.8C4002.0,2193.6 4005.7,2189.4 4008.8,2187.7C4011.9,2185.9 4013.4,2184.9 4016.2,2185.1C4019.0,2185.2 4022.1,2187.6 4025.5,2188.8C4028.8,2189.9 4032.9,2192.2 4036.6,2192.1C4040.3,2192.0 4044.0,2191.6 4047.7,2188.4C4051.4,2185.2 4055.4,2178.8 4058.7,2172.9C4062.1,2166.9 4064.9,2158.1 4068.0,2152.5C4071.1,2147.0 4074.8,2139.9 4077.2,2139.6C4079.7,2139.2 4080.8,2145.1 4082.8,2150.7C4084.8,2156.2 4086.9,2167.5 4089.1,2172.9C4091.2,2178.2 4092.8,2181.5 4095.7,2182.8C4098.7,2184.2 4103.1,2181.1 4106.8,2181.0C4110.5,2180.9 4114.9,2182.7 4117.9,2182.1C4121.0,2181.5 4122.9,2179.2 4125.3,2177.7C4127.8,2176.1 4130.6,2172.7 4132.7,2172.9C4134.9,2173.0 4136.4,2174.4 4138.3,2178.4C4140.1,2182.4 4142.1,2191.8 4143.8,2196.9C4145.6,2202.0 4146.8,2207.3 4148.6,2209.1C4150.5,2211.0 4152.7,2207.7 4154.9,2208.0C4157.2,2208.3 4159.3,2210.2 4162.3,2211.0C4165.4,2211.8 4169.7,2212.8 4173.4,2212.8C4177.1,2212.8 4180.8,2211.5 4184.5,2211.0C4188.2,2210.5 4192.6,2209.9 4195.6,2209.8C4198.7,2209.8 4201.8,2210.5 4203.0,2210.6" fill="none" stroke="#f01010" stroke-width="3.4" stroke-dasharray="12.5 5.5"/><rect x="3040.3" y="1760.3" width="1162.7" height="471.7" fill="none" stroke="#000" stroke-width="1.5"/><line x1="3035.1000000000004" y1="1760.3" x2="3040.3" y2="1760.3" stroke="#000" stroke-width="1.3"/><line x1="3040.3" y1="2232.0" x2="3040.3" y2="2237.2" stroke="#000" stroke-width="1.3"/><line x1="3035.1000000000004" y1="1838.9" x2="3040.3" y2="1838.9" stroke="#000" stroke-width="1.3"/><line x1="3234.1" y1="2232.0" x2="3234.1" y2="2237.2" stroke="#000" stroke-width="1.3"/><line x1="3035.1000000000004" y1="1917.5" x2="3040.3" y2="1917.5" stroke="#000" stroke-width="1.3"/><line x1="3427.9" y1="2232.0" x2="3427.9" y2="2237.2" stroke="#000" stroke-width="1.3"/><line x1="3035.1000000000004" y1="1996.2" x2="3040.3" y2="1996.2" stroke="#000" stroke-width="1.3"/><line x1="3621.7" y1="2232.0" x2="3621.7" y2="2237.2" stroke="#000" stroke-width="1.3"/><line x1="3035.1000000000004" y1="2074.8" x2="3040.3" y2="2074.8" stroke="#000" stroke-width="1.3"/><line x1="3815.4" y1="2232.0" x2="3815.4" y2="2237.2" stroke="#000" stroke-width="1.3"/><line x1="3035.1000000000004" y1="2153.4" x2="3040.3" y2="2153.4" stroke="#000" stroke-width="1.3"/><line x1="4009.2" y1="2232.0" x2="4009.2" y2="2237.2" stroke="#000" stroke-width="1.3"/><line x1="3035.1000000000004" y1="2232.0" x2="3040.3" y2="2232.0" stroke="#000" stroke-width="1.3"/><line x1="4203.0" y1="2232.0" x2="4203.0" y2="2237.2" stroke="#000" stroke-width="1.3"/><rect x="4029.2" y="1771.4" width="163.5" height="98.8" rx="3.5" fill="#fff" fill-opacity="0.85" stroke="#d0d0d0" stroke-width="1.3"/><line x1="4036.5" y1="1787.4" x2="4081" y2="1787.4" stroke="#17becf" stroke-width="3.2"/><line x1="4036.5" y1="1818.4" x2="4081" y2="1818.4" stroke="#000" stroke-width="3.2"/><line x1="4036.5" y1="1850.2" x2="4081" y2="1850.2" stroke="#f01010" stroke-width="3.2" stroke-dasharray="12.5 5.5"/></svg>
<div class="a" id="f73" style="left:3006.2px;top:1748.2px;font:normal normal 16.8px/24px 'Liberation Serif', serif;color:#000;letter-spacing:0em;transform-origin:0 0;transform:scaleX(1.0579);">1.8</div>
<div class="a" id="f74" style="left:3006.2px;top:1826.8px;font:normal normal 16.8px/24px 'Liberation Serif', serif;color:#000;letter-spacing:0em;transform-origin:0 0;transform:scaleX(1.0579);">1.6</div>
<div class="a" id="f75" style="left:3006.2px;top:1905.5px;font:normal normal 16.8px/24px 'Liberation Serif', serif;color:#000;letter-spacing:0em;transform-origin:0 0;transform:scaleX(1.0579);">1.4</div>
<div class="a" id="f76" style="left:3006.2px;top:1984.1px;font:normal normal 16.8px/24px 'Liberation Serif', serif;color:#000;letter-spacing:0em;transform-origin:0 0;transform:scaleX(1.0579);">1.2</div>
<div class="a" id="f77" style="left:3006.2px;top:2062.7px;font:normal normal 16.8px/24px 'Liberation Serif', serif;color:#000;letter-spacing:0em;transform-origin:0 0;transform:scaleX(1.0579);">1.0</div>
<div class="a" id="f78" style="left:3006.2px;top:2141.3px;font:normal normal 16.8px/24px 'Liberation Serif', serif;color:#000;letter-spacing:0em;transform-origin:0 0;transform:scaleX(1.0579);">0.8</div>
<div class="a" id="f79" style="left:3006.2px;top:2219.9px;font:normal normal 16.8px/24px 'Liberation Serif', serif;color:#000;letter-spacing:0em;transform-origin:0 0;transform:scaleX(1.0579);">0.6</div>
<div class="a" id="f80" style="left:3036.6px;top:2239.6px;font:normal normal 16.8px/24px 'Liberation Serif', serif;color:#000;letter-spacing:0em;transform-origin:0 0;transform:scaleX(0.8939);">0</div>
<div class="a" id="f81" style="left:3213.2px;top:2239.6px;font:normal normal 16.8px/24px 'Liberation Serif', serif;color:#000;letter-spacing:0em;transform-origin:0 0;transform:scaleX(0.9964);">20000</div>
<div class="a" id="f82" style="left:3407.0px;top:2239.6px;font:normal normal 16.8px/24px 'Liberation Serif', serif;color:#000;letter-spacing:0em;transform-origin:0 0;transform:scaleX(0.9964);">40000</div>
<div class="a" id="f83" style="left:3600.8px;top:2239.6px;font:normal normal 16.8px/24px 'Liberation Serif', serif;color:#000;letter-spacing:0em;transform-origin:0 0;transform:scaleX(0.9964);">60000</div>
<div class="a" id="f84" style="left:3794.5px;top:2239.6px;font:normal normal 16.8px/24px 'Liberation Serif', serif;color:#000;letter-spacing:0em;transform-origin:0 0;transform:scaleX(0.9964);">80000</div>
<div class="a" id="f85" style="left:3984.0px;top:2239.6px;font:normal normal 16.8px/24px 'Liberation Serif', serif;color:#000;letter-spacing:0em;transform-origin:0 0;transform:scaleX(1.0031);">100000</div>
<div class="a" id="f86" style="left:4177.8px;top:2239.6px;font:normal normal 16.8px/24px 'Liberation Serif', serif;color:#000;letter-spacing:0em;transform-origin:0 0;transform:scaleX(1.0031);">120000</div>
<div class="a" style="left:3567.1px;top:2258.4px;font:normal normal 24.6px/35px 'Liberation Sans', sans-serif;color:#000;">Time-step</div>
<div class="a" style="left:2885.9px;top:1981.2px;width:200px;height:30px;line-height:30px;text-align:center;font-size:24.6px;color:#000;transform:rotate(-90deg)">Kinetic Energy</div>
<div class="a" style="left:4095.4px;top:1773.0px;font:normal normal 20.7px/30px 'Liberation Sans', sans-serif;color:#000;">KE<span class="mr" style="font-size:105%">(<i>u</i>)</span></div>
<div class="a" style="left:4095.4px;top:1804.0px;font:normal normal 20.7px/30px 'Liberation Sans', sans-serif;color:#000;">KE<span class="mr" style="font-size:105%">(<i>ζ</i>)</span></div>
<div class="a" style="left:4095.4px;top:1835.8px;font:normal normal 20.7px/30px 'Liberation Sans', sans-serif;color:#000;">KE<span class="mr" style="font-size:105%">(<i>η</i><sub style="font-size:60%"><i>θ</i></sub>(<i>ζ</i>))</span></div>
</body></html>
